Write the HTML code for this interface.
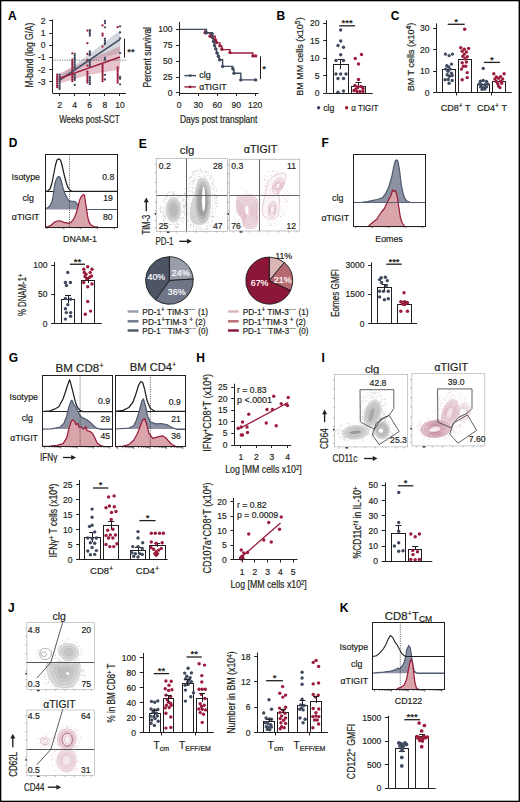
<!DOCTYPE html>
<html><head><meta charset="utf-8"><style>
html,body{margin:0;padding:0;background:#fff;}
svg{display:block;}
text{font-family:"Liberation Sans", sans-serif;}
</style></head><body>
<svg width="520" height="802" viewBox="0 0 520 802">
<rect x="0" y="0" width="520" height="802" fill="#fff"/>
<text x="8.00" y="20.02" font-size="12" text-anchor="start" fill="#000" font-weight="bold" >A</text>
<path d="M59.5,75.8 L90,53.6 L120.1,30.2 L120.1,52.7 L90,62.2 L59.5,81.9 Z" fill="#cfd3da" stroke="none" stroke-width="1" fill-opacity="0.9"/>
<path d="M59.5,73.3 L90,59.6 L120.1,46.2 L120.1,69.6 L90,74.8 L59.5,83.6 Z" fill="#c46f86" stroke="none" stroke-width="1" fill-opacity="0.42"/>
<line x1="52.50" y1="60.20" x2="127.00" y2="60.20" stroke="#444" stroke-width="0.7" stroke-dasharray="1.2,1.2"/>
<circle cx="57.20" cy="74.60" r="1.15" fill="#9b1c3d"/>
<circle cx="57.20" cy="76.40" r="1.15" fill="#9b1c3d"/>
<circle cx="57.20" cy="78.20" r="1.15" fill="#9b1c3d"/>
<circle cx="57.20" cy="80.00" r="1.15" fill="#9b1c3d"/>
<circle cx="57.20" cy="81.80" r="1.15" fill="#9b1c3d"/>
<circle cx="57.20" cy="83.60" r="1.15" fill="#9b1c3d"/>
<circle cx="57.20" cy="85.40" r="1.15" fill="#9b1c3d"/>
<circle cx="57.20" cy="87.20" r="1.15" fill="#9b1c3d"/>
<circle cx="59.60" cy="74.60" r="1.15" fill="#3f4a5f"/>
<circle cx="59.60" cy="76.40" r="1.15" fill="#3f4a5f"/>
<circle cx="59.60" cy="78.20" r="1.15" fill="#3f4a5f"/>
<circle cx="59.60" cy="80.00" r="1.15" fill="#3f4a5f"/>
<circle cx="59.60" cy="81.80" r="1.15" fill="#3f4a5f"/>
<circle cx="59.60" cy="83.60" r="1.15" fill="#3f4a5f"/>
<circle cx="59.60" cy="85.40" r="1.15" fill="#3f4a5f"/>
<circle cx="59.60" cy="87.20" r="1.15" fill="#3f4a5f"/>
<circle cx="59.60" cy="89.00" r="1.15" fill="#3f4a5f"/>
<circle cx="72.32" cy="53.30" r="1.15" fill="#9b1c3d"/>
<circle cx="72.32" cy="59.60" r="1.15" fill="#9b1c3d"/>
<circle cx="72.32" cy="61.40" r="1.15" fill="#9b1c3d"/>
<circle cx="72.32" cy="63.20" r="1.15" fill="#9b1c3d"/>
<circle cx="72.32" cy="65.00" r="1.15" fill="#9b1c3d"/>
<circle cx="72.32" cy="66.80" r="1.15" fill="#9b1c3d"/>
<circle cx="72.32" cy="68.60" r="1.15" fill="#9b1c3d"/>
<circle cx="72.32" cy="70.40" r="1.15" fill="#9b1c3d"/>
<circle cx="72.32" cy="72.20" r="1.15" fill="#9b1c3d"/>
<circle cx="72.32" cy="74.00" r="1.15" fill="#9b1c3d"/>
<circle cx="72.32" cy="75.80" r="1.15" fill="#9b1c3d"/>
<circle cx="72.32" cy="77.60" r="1.15" fill="#9b1c3d"/>
<circle cx="72.32" cy="79.40" r="1.15" fill="#9b1c3d"/>
<circle cx="72.32" cy="81.20" r="1.15" fill="#9b1c3d"/>
<circle cx="74.72" cy="53.80" r="1.15" fill="#3f4a5f"/>
<circle cx="74.72" cy="55.60" r="1.15" fill="#3f4a5f"/>
<circle cx="74.72" cy="57.40" r="1.15" fill="#3f4a5f"/>
<circle cx="74.72" cy="59.20" r="1.15" fill="#3f4a5f"/>
<circle cx="74.72" cy="61.00" r="1.15" fill="#3f4a5f"/>
<circle cx="74.72" cy="62.80" r="1.15" fill="#3f4a5f"/>
<circle cx="74.72" cy="64.60" r="1.15" fill="#3f4a5f"/>
<circle cx="74.72" cy="66.40" r="1.15" fill="#3f4a5f"/>
<circle cx="74.72" cy="68.20" r="1.15" fill="#3f4a5f"/>
<circle cx="74.72" cy="74.60" r="1.15" fill="#3f4a5f"/>
<circle cx="74.72" cy="76.40" r="1.15" fill="#3f4a5f"/>
<circle cx="74.72" cy="78.20" r="1.15" fill="#3f4a5f"/>
<circle cx="74.72" cy="80.00" r="1.15" fill="#3f4a5f"/>
<circle cx="74.72" cy="85.00" r="1.15" fill="#3f4a5f"/>
<circle cx="87.44" cy="30.60" r="1.15" fill="#9b1c3d"/>
<circle cx="87.44" cy="43.20" r="1.15" fill="#9b1c3d"/>
<circle cx="87.44" cy="54.00" r="1.15" fill="#9b1c3d"/>
<circle cx="87.44" cy="60.00" r="1.15" fill="#9b1c3d"/>
<circle cx="87.44" cy="65.70" r="1.15" fill="#9b1c3d"/>
<circle cx="87.44" cy="71.70" r="1.15" fill="#9b1c3d"/>
<circle cx="87.44" cy="73.50" r="1.15" fill="#9b1c3d"/>
<circle cx="87.44" cy="75.30" r="1.15" fill="#9b1c3d"/>
<circle cx="87.44" cy="77.10" r="1.15" fill="#9b1c3d"/>
<circle cx="87.44" cy="78.90" r="1.15" fill="#9b1c3d"/>
<circle cx="87.44" cy="80.70" r="1.15" fill="#9b1c3d"/>
<circle cx="87.44" cy="82.50" r="1.15" fill="#9b1c3d"/>
<circle cx="89.84" cy="30.20" r="1.15" fill="#3f4a5f"/>
<circle cx="89.84" cy="32.00" r="1.15" fill="#3f4a5f"/>
<circle cx="89.84" cy="33.80" r="1.15" fill="#3f4a5f"/>
<circle cx="89.84" cy="35.60" r="1.15" fill="#3f4a5f"/>
<circle cx="89.84" cy="51.40" r="1.15" fill="#3f4a5f"/>
<circle cx="89.84" cy="53.20" r="1.15" fill="#3f4a5f"/>
<circle cx="89.84" cy="55.00" r="1.15" fill="#3f4a5f"/>
<circle cx="89.84" cy="60.50" r="1.15" fill="#3f4a5f"/>
<circle cx="89.84" cy="62.30" r="1.15" fill="#3f4a5f"/>
<circle cx="89.84" cy="64.10" r="1.15" fill="#3f4a5f"/>
<circle cx="89.84" cy="65.90" r="1.15" fill="#3f4a5f"/>
<circle cx="89.84" cy="77.00" r="1.15" fill="#3f4a5f"/>
<circle cx="89.84" cy="78.80" r="1.15" fill="#3f4a5f"/>
<circle cx="89.84" cy="80.60" r="1.15" fill="#3f4a5f"/>
<circle cx="89.84" cy="82.40" r="1.15" fill="#3f4a5f"/>
<circle cx="89.84" cy="84.20" r="1.15" fill="#3f4a5f"/>
<circle cx="102.56" cy="25.40" r="1.15" fill="#9b1c3d"/>
<circle cx="102.56" cy="33.70" r="1.15" fill="#9b1c3d"/>
<circle cx="102.56" cy="35.50" r="1.15" fill="#9b1c3d"/>
<circle cx="102.56" cy="46.60" r="1.15" fill="#9b1c3d"/>
<circle cx="102.56" cy="65.20" r="1.15" fill="#9b1c3d"/>
<circle cx="102.56" cy="67.20" r="1.15" fill="#9b1c3d"/>
<circle cx="102.56" cy="69.20" r="1.15" fill="#9b1c3d"/>
<circle cx="102.56" cy="71.20" r="1.15" fill="#9b1c3d"/>
<circle cx="102.56" cy="73.20" r="1.15" fill="#9b1c3d"/>
<circle cx="102.56" cy="75.20" r="1.15" fill="#9b1c3d"/>
<circle cx="102.56" cy="77.20" r="1.15" fill="#9b1c3d"/>
<circle cx="102.56" cy="79.20" r="1.15" fill="#9b1c3d"/>
<circle cx="102.56" cy="81.20" r="1.15" fill="#9b1c3d"/>
<circle cx="104.96" cy="20.90" r="1.15" fill="#3f4a5f"/>
<circle cx="104.96" cy="23.20" r="1.15" fill="#3f4a5f"/>
<circle cx="104.96" cy="27.30" r="1.15" fill="#3f4a5f"/>
<circle cx="104.96" cy="38.80" r="1.15" fill="#3f4a5f"/>
<circle cx="104.96" cy="40.60" r="1.15" fill="#3f4a5f"/>
<circle cx="104.96" cy="42.40" r="1.15" fill="#3f4a5f"/>
<circle cx="104.96" cy="44.20" r="1.15" fill="#3f4a5f"/>
<circle cx="104.96" cy="57.90" r="1.15" fill="#3f4a5f"/>
<circle cx="104.96" cy="59.70" r="1.15" fill="#3f4a5f"/>
<circle cx="104.96" cy="74.80" r="1.15" fill="#3f4a5f"/>
<circle cx="104.96" cy="79.50" r="1.15" fill="#3f4a5f"/>
<circle cx="117.68" cy="27.20" r="1.15" fill="#9b1c3d"/>
<circle cx="117.68" cy="67.40" r="1.15" fill="#9b1c3d"/>
<circle cx="117.68" cy="69.30" r="1.15" fill="#9b1c3d"/>
<circle cx="117.68" cy="71.20" r="1.15" fill="#9b1c3d"/>
<circle cx="117.68" cy="73.10" r="1.15" fill="#9b1c3d"/>
<circle cx="117.68" cy="75.00" r="1.15" fill="#9b1c3d"/>
<circle cx="117.68" cy="76.90" r="1.15" fill="#9b1c3d"/>
<circle cx="117.68" cy="78.80" r="1.15" fill="#9b1c3d"/>
<circle cx="117.68" cy="80.70" r="1.15" fill="#9b1c3d"/>
<circle cx="117.68" cy="82.60" r="1.15" fill="#9b1c3d"/>
<circle cx="120.08" cy="26.30" r="1.15" fill="#3f4a5f"/>
<circle cx="120.08" cy="32.40" r="1.15" fill="#3f4a5f"/>
<circle cx="120.08" cy="38.40" r="1.15" fill="#3f4a5f"/>
<circle cx="120.08" cy="53.10" r="1.15" fill="#3f4a5f"/>
<circle cx="120.08" cy="77.00" r="1.15" fill="#3f4a5f"/>
<circle cx="120.08" cy="78.80" r="1.15" fill="#3f4a5f"/>
<circle cx="120.08" cy="84.30" r="1.15" fill="#3f4a5f"/>
<line x1="59.50" y1="80.20" x2="120.10" y2="39.30" stroke="#3f4a5f" stroke-width="1.5" />
<line x1="59.50" y1="78.40" x2="120.10" y2="57.00" stroke="#9b1c3d" stroke-width="1.5" />
<line x1="52.50" y1="19.50" x2="52.50" y2="93.00" stroke="#231f20" stroke-width="1" />
<line x1="49.20" y1="20.50" x2="52.50" y2="20.50" stroke="#231f20" stroke-width="1" />
<text x="45.60" y="23.89" font-size="9.7" text-anchor="end" fill="#231f20" stroke="#231f20" stroke-width="0.2" textLength="4.75" lengthAdjust="spacingAndGlyphs" >2</text>
<line x1="49.20" y1="33.50" x2="52.50" y2="33.50" stroke="#231f20" stroke-width="1" />
<text x="45.60" y="36.09" font-size="9.7" text-anchor="end" fill="#231f20" stroke="#231f20" stroke-width="0.2" textLength="4.75" lengthAdjust="spacingAndGlyphs" >1</text>
<line x1="49.20" y1="45.50" x2="52.50" y2="45.50" stroke="#231f20" stroke-width="1" />
<text x="45.60" y="48.29" font-size="9.7" text-anchor="end" fill="#231f20" stroke="#231f20" stroke-width="0.2" textLength="4.75" lengthAdjust="spacingAndGlyphs" >0</text>
<line x1="49.20" y1="57.50" x2="52.50" y2="57.50" stroke="#231f20" stroke-width="1" />
<text x="45.60" y="60.49" font-size="9.7" text-anchor="end" fill="#231f20" stroke="#231f20" stroke-width="0.2" textLength="7.59" lengthAdjust="spacingAndGlyphs" >-1</text>
<line x1="49.20" y1="69.50" x2="52.50" y2="69.50" stroke="#231f20" stroke-width="1" />
<text x="45.60" y="72.69" font-size="9.7" text-anchor="end" fill="#231f20" stroke="#231f20" stroke-width="0.2" textLength="7.59" lengthAdjust="spacingAndGlyphs" >-2</text>
<line x1="49.20" y1="81.50" x2="52.50" y2="81.50" stroke="#231f20" stroke-width="1" />
<text x="45.60" y="84.89" font-size="9.7" text-anchor="end" fill="#231f20" stroke="#231f20" stroke-width="0.2" textLength="7.59" lengthAdjust="spacingAndGlyphs" >-3</text>
<line x1="52.50" y1="93.50" x2="126.00" y2="93.50" stroke="#231f20" stroke-width="1" />
<line x1="59.50" y1="93.00" x2="59.50" y2="96.00" stroke="#231f20" stroke-width="1" />
<text x="59.50" y="108.29" font-size="9.7" text-anchor="middle" fill="#231f20" stroke="#231f20" stroke-width="0.2" textLength="4.75" lengthAdjust="spacingAndGlyphs" >2</text>
<line x1="74.50" y1="93.00" x2="74.50" y2="96.00" stroke="#231f20" stroke-width="1" />
<text x="74.62" y="108.29" font-size="9.7" text-anchor="middle" fill="#231f20" stroke="#231f20" stroke-width="0.2" textLength="4.75" lengthAdjust="spacingAndGlyphs" >4</text>
<line x1="89.50" y1="93.00" x2="89.50" y2="96.00" stroke="#231f20" stroke-width="1" />
<text x="89.74" y="108.29" font-size="9.7" text-anchor="middle" fill="#231f20" stroke="#231f20" stroke-width="0.2" textLength="4.75" lengthAdjust="spacingAndGlyphs" >6</text>
<line x1="104.50" y1="93.00" x2="104.50" y2="96.00" stroke="#231f20" stroke-width="1" />
<text x="104.86" y="108.29" font-size="9.7" text-anchor="middle" fill="#231f20" stroke="#231f20" stroke-width="0.2" textLength="4.75" lengthAdjust="spacingAndGlyphs" >8</text>
<line x1="119.50" y1="93.00" x2="119.50" y2="96.00" stroke="#231f20" stroke-width="1" />
<text x="119.98" y="108.29" font-size="9.7" text-anchor="middle" fill="#231f20" stroke="#231f20" stroke-width="0.2" textLength="9.49" lengthAdjust="spacingAndGlyphs" >10</text>
<text x="89.40" y="122.60" font-size="10" text-anchor="middle" fill="#231f20" stroke="#231f20" stroke-width="0.2" textLength="60.4" lengthAdjust="spacingAndGlyphs" >Weeks post-SCT</text>
<text transform="translate(29.80,55.10) rotate(-90)" x="0" y="3.60" font-size="10" text-anchor="middle" fill="#231f20" stroke="#231f20" stroke-width="0.2" textLength="64.8" lengthAdjust="spacingAndGlyphs" >M-band (log G/A)</text>
<line x1="124.50" y1="38.50" x2="124.50" y2="57.70" stroke="#231f20" stroke-width="1" />
<text x="130.90" y="54.72" font-size="9.5" text-anchor="middle" fill="#231f20" font-weight="bold" >**</text>
<path d="M205.1,29.4 L205.1,32.8 L210.1,32.8 L210.1,36.2 L215.2,36.2 L215.2,40.2 L216.5,40.2 L216.5,42.9 L219.9,42.9 L219.9,46.2 L221.9,46.2 L221.9,49.6 L230.0,49.6 L230.0,53.0 L252.9,53.0 L252.9,56.3 L255.6,56.3" fill="none" stroke="#9b1c3d" stroke-width="1.4" />
<path d="M179.4,29.4 L206.4,29.4 L206.4,32.8 L212.2,32.8 L212.2,37.5 L213.2,37.5 L213.2,41.5 L214.1,41.5 L214.1,45.6 L215.2,45.6 L215.2,48.9 L216.5,48.9 L216.5,53.0 L217.9,53.0 L217.9,56.3 L219.2,56.3 L219.2,59.7 L222.6,59.7 L222.6,66.4 L232.7,66.4 L232.7,69.8 L234.0,69.8 L234.0,73.2 L240.8,73.2 L240.8,79.9 L255.6,79.9" fill="none" stroke="#3f4a5f" stroke-width="1.4" />
<circle cx="205.10" cy="32.80" r="1.7" fill="#9b1c3d"/>
<circle cx="210.10" cy="36.20" r="1.7" fill="#9b1c3d"/>
<circle cx="215.20" cy="39.60" r="1.7" fill="#9b1c3d"/>
<circle cx="216.50" cy="42.50" r="1.7" fill="#9b1c3d"/>
<circle cx="219.90" cy="45.80" r="1.7" fill="#9b1c3d"/>
<circle cx="221.90" cy="49.20" r="1.7" fill="#9b1c3d"/>
<circle cx="230.00" cy="52.60" r="1.7" fill="#9b1c3d"/>
<circle cx="252.90" cy="55.90" r="1.7" fill="#9b1c3d"/>
<circle cx="255.60" cy="55.90" r="1.7" fill="#9b1c3d"/>
<circle cx="206.40" cy="32.80" r="1.7" fill="#3f4a5f"/>
<circle cx="212.20" cy="34.00" r="1.7" fill="#3f4a5f"/>
<circle cx="212.60" cy="37.50" r="1.7" fill="#3f4a5f"/>
<circle cx="213.60" cy="41.50" r="1.7" fill="#3f4a5f"/>
<circle cx="214.60" cy="45.60" r="1.7" fill="#3f4a5f"/>
<circle cx="215.80" cy="48.90" r="1.7" fill="#3f4a5f"/>
<circle cx="217.00" cy="53.00" r="1.7" fill="#3f4a5f"/>
<circle cx="218.40" cy="56.30" r="1.7" fill="#3f4a5f"/>
<circle cx="219.60" cy="59.70" r="1.7" fill="#3f4a5f"/>
<circle cx="222.60" cy="66.40" r="1.7" fill="#3f4a5f"/>
<circle cx="232.70" cy="68.50" r="1.7" fill="#3f4a5f"/>
<circle cx="234.00" cy="73.20" r="1.7" fill="#3f4a5f"/>
<circle cx="240.80" cy="79.90" r="1.7" fill="#3f4a5f"/>
<circle cx="255.60" cy="79.90" r="1.7" fill="#3f4a5f"/>
<line x1="179.50" y1="22.00" x2="179.50" y2="93.00" stroke="#231f20" stroke-width="1" />
<line x1="176.10" y1="29.50" x2="179.40" y2="29.50" stroke="#231f20" stroke-width="1" />
<text x="172.50" y="32.49" font-size="9.7" text-anchor="end" fill="#231f20" stroke="#231f20" stroke-width="0.2" textLength="14.24" lengthAdjust="spacingAndGlyphs" >100</text>
<line x1="176.10" y1="45.50" x2="179.40" y2="45.50" stroke="#231f20" stroke-width="1" />
<text x="172.50" y="48.37" font-size="9.7" text-anchor="end" fill="#231f20" stroke="#231f20" stroke-width="0.2" textLength="9.49" lengthAdjust="spacingAndGlyphs" >75</text>
<line x1="176.10" y1="61.50" x2="179.40" y2="61.50" stroke="#231f20" stroke-width="1" />
<text x="172.50" y="64.24" font-size="9.7" text-anchor="end" fill="#231f20" stroke="#231f20" stroke-width="0.2" textLength="9.49" lengthAdjust="spacingAndGlyphs" >50</text>
<line x1="176.10" y1="77.50" x2="179.40" y2="77.50" stroke="#231f20" stroke-width="1" />
<text x="172.50" y="80.12" font-size="9.7" text-anchor="end" fill="#231f20" stroke="#231f20" stroke-width="0.2" textLength="9.49" lengthAdjust="spacingAndGlyphs" >25</text>
<line x1="176.10" y1="92.50" x2="179.40" y2="92.50" stroke="#231f20" stroke-width="1" />
<text x="172.50" y="95.99" font-size="9.7" text-anchor="end" fill="#231f20" stroke="#231f20" stroke-width="0.2" textLength="4.75" lengthAdjust="spacingAndGlyphs" >0</text>
<line x1="179.40" y1="93.50" x2="258.50" y2="93.50" stroke="#231f20" stroke-width="1" />
<line x1="179.50" y1="93.00" x2="179.50" y2="96.00" stroke="#231f20" stroke-width="1" />
<text x="179.20" y="108.29" font-size="9.7" text-anchor="middle" fill="#231f20" stroke="#231f20" stroke-width="0.2" textLength="4.75" lengthAdjust="spacingAndGlyphs" >0</text>
<line x1="198.50" y1="93.00" x2="198.50" y2="96.00" stroke="#231f20" stroke-width="1" />
<text x="198.19" y="108.29" font-size="9.7" text-anchor="middle" fill="#231f20" stroke="#231f20" stroke-width="0.2" textLength="9.49" lengthAdjust="spacingAndGlyphs" >30</text>
<line x1="217.50" y1="93.00" x2="217.50" y2="96.00" stroke="#231f20" stroke-width="1" />
<text x="217.18" y="108.29" font-size="9.7" text-anchor="middle" fill="#231f20" stroke="#231f20" stroke-width="0.2" textLength="9.49" lengthAdjust="spacingAndGlyphs" >60</text>
<line x1="236.50" y1="93.00" x2="236.50" y2="96.00" stroke="#231f20" stroke-width="1" />
<text x="236.17" y="108.29" font-size="9.7" text-anchor="middle" fill="#231f20" stroke="#231f20" stroke-width="0.2" textLength="9.49" lengthAdjust="spacingAndGlyphs" >90</text>
<line x1="255.50" y1="93.00" x2="255.50" y2="96.00" stroke="#231f20" stroke-width="1" />
<text x="255.16" y="108.29" font-size="9.7" text-anchor="middle" fill="#231f20" stroke="#231f20" stroke-width="0.2" textLength="14.24" lengthAdjust="spacingAndGlyphs" >120</text>
<text x="218.70" y="122.80" font-size="10" text-anchor="middle" fill="#231f20" stroke="#231f20" stroke-width="0.2" textLength="77.5" lengthAdjust="spacingAndGlyphs" >Days post transplant</text>
<text transform="translate(147.30,57.25) rotate(-90)" x="0" y="3.60" font-size="10" text-anchor="middle" fill="#231f20" stroke="#231f20" stroke-width="0.2" textLength="60.5" lengthAdjust="spacingAndGlyphs" >Percent survival</text>
<line x1="260.50" y1="56.30" x2="260.50" y2="79.20" stroke="#231f20" stroke-width="1" />
<text x="264.00" y="72.22" font-size="9.5" text-anchor="middle" fill="#231f20" font-weight="bold" >*</text>
<line x1="184.40" y1="75.60" x2="196.00" y2="75.60" stroke="#3f4a5f" stroke-width="1.4" />
<circle cx="190.20" cy="75.60" r="1.4" fill="#3f4a5f"/>
<text x="199.20" y="78.44" font-size="9" text-anchor="start" fill="#231f20" stroke="#231f20" stroke-width="0.2" >clg</text>
<line x1="184.40" y1="86.90" x2="196.00" y2="86.90" stroke="#9b1c3d" stroke-width="1.4" />
<circle cx="190.20" cy="86.90" r="1.4" fill="#9b1c3d"/>
<text x="199.20" y="90.14" font-size="9" text-anchor="start" fill="#231f20" stroke="#231f20" stroke-width="0.2" textLength="27.5" lengthAdjust="spacingAndGlyphs" >αTIGIT</text>
<text x="276.50" y="20.02" font-size="12" text-anchor="start" fill="#000" font-weight="bold" >B</text>
<rect x="333.50" y="64.50" width="15.00" height="29.00" fill="#fff" stroke="#231f20" stroke-width="1" />
<rect x="351.50" y="86.50" width="14.00" height="7.00" fill="#fff" stroke="#231f20" stroke-width="1" />
<line x1="340.50" y1="59.50" x2="340.50" y2="69.20" stroke="#231f20" stroke-width="1" />
<line x1="337.70" y1="59.50" x2="343.70" y2="59.50" stroke="#231f20" stroke-width="1" />
<line x1="358.50" y1="82.60" x2="358.50" y2="89.00" stroke="#231f20" stroke-width="1" />
<line x1="355.50" y1="82.50" x2="361.50" y2="82.50" stroke="#231f20" stroke-width="1" />
<circle cx="340.70" cy="30.00" r="1.7" fill="#3f4a5f"/>
<circle cx="340.70" cy="41.00" r="1.7" fill="#3f4a5f"/>
<circle cx="338.00" cy="45.50" r="1.7" fill="#3f4a5f"/>
<circle cx="343.50" cy="47.30" r="1.7" fill="#3f4a5f"/>
<circle cx="340.70" cy="54.70" r="1.7" fill="#3f4a5f"/>
<circle cx="336.00" cy="60.50" r="1.7" fill="#3f4a5f"/>
<circle cx="343.50" cy="60.50" r="1.7" fill="#3f4a5f"/>
<circle cx="336.00" cy="74.00" r="1.7" fill="#3f4a5f"/>
<circle cx="340.70" cy="74.00" r="1.7" fill="#3f4a5f"/>
<circle cx="338.00" cy="78.50" r="1.7" fill="#3f4a5f"/>
<circle cx="343.50" cy="78.50" r="1.7" fill="#3f4a5f"/>
<circle cx="346.00" cy="74.00" r="1.7" fill="#3f4a5f"/>
<circle cx="338.00" cy="92.30" r="1.7" fill="#3f4a5f"/>
<circle cx="343.50" cy="91.00" r="1.7" fill="#3f4a5f"/>
<circle cx="355.30" cy="58.50" r="1.7" fill="#9b1c3d"/>
<circle cx="361.50" cy="54.50" r="1.7" fill="#9b1c3d"/>
<circle cx="358.50" cy="64.00" r="1.7" fill="#9b1c3d"/>
<circle cx="358.50" cy="79.50" r="1.7" fill="#9b1c3d"/>
<circle cx="355.00" cy="85.50" r="1.7" fill="#9b1c3d"/>
<circle cx="358.00" cy="87.00" r="1.7" fill="#9b1c3d"/>
<circle cx="361.00" cy="86.50" r="1.7" fill="#9b1c3d"/>
<circle cx="363.00" cy="88.50" r="1.7" fill="#9b1c3d"/>
<circle cx="354.00" cy="90.50" r="1.7" fill="#9b1c3d"/>
<circle cx="357.00" cy="91.50" r="1.7" fill="#9b1c3d"/>
<circle cx="360.00" cy="91.50" r="1.7" fill="#9b1c3d"/>
<circle cx="363.00" cy="91.50" r="1.7" fill="#9b1c3d"/>
<circle cx="356.00" cy="89.00" r="1.7" fill="#9b1c3d"/>
<line x1="326.50" y1="20.30" x2="326.50" y2="93.00" stroke="#231f20" stroke-width="1" />
<line x1="323.20" y1="23.50" x2="326.50" y2="23.50" stroke="#231f20" stroke-width="1" />
<text x="319.60" y="26.49" font-size="9.7" text-anchor="end" fill="#231f20" stroke="#231f20" stroke-width="0.2" textLength="9.49" lengthAdjust="spacingAndGlyphs" >20</text>
<line x1="323.20" y1="40.50" x2="326.50" y2="40.50" stroke="#231f20" stroke-width="1" />
<text x="319.60" y="43.89" font-size="9.7" text-anchor="end" fill="#231f20" stroke="#231f20" stroke-width="0.2" textLength="9.49" lengthAdjust="spacingAndGlyphs" >15</text>
<line x1="323.20" y1="58.50" x2="326.50" y2="58.50" stroke="#231f20" stroke-width="1" />
<text x="319.60" y="61.29" font-size="9.7" text-anchor="end" fill="#231f20" stroke="#231f20" stroke-width="0.2" textLength="9.49" lengthAdjust="spacingAndGlyphs" >10</text>
<line x1="323.20" y1="75.50" x2="326.50" y2="75.50" stroke="#231f20" stroke-width="1" />
<text x="319.60" y="78.69" font-size="9.7" text-anchor="end" fill="#231f20" stroke="#231f20" stroke-width="0.2" textLength="4.75" lengthAdjust="spacingAndGlyphs" >5</text>
<line x1="323.20" y1="93.50" x2="326.50" y2="93.50" stroke="#231f20" stroke-width="1" />
<text x="319.60" y="96.09" font-size="9.7" text-anchor="end" fill="#231f20" stroke="#231f20" stroke-width="0.2" textLength="4.75" lengthAdjust="spacingAndGlyphs" >0</text>
<line x1="326.50" y1="93.50" x2="372.70" y2="93.50" stroke="#231f20" stroke-width="1" />
<line x1="339.20" y1="25.80" x2="355.00" y2="25.80" stroke="#231f20" stroke-width="1.3" />
<text x="347.10" y="26.22" font-size="9.5" text-anchor="middle" fill="#231f20" font-weight="bold" >***</text>
<text transform="translate(300.00,56.50) rotate(-90)" x="0" y="3.24" font-size="9" text-anchor="middle" fill="#231f20" stroke="#231f20" stroke-width="0.2" >BM MM cells (x10<tspan dy="-3" font-size="6.8">5</tspan><tspan dy="3">)</tspan></text>
<circle cx="318.60" cy="107.80" r="1.7" fill="#3f4a5f"/>
<text x="323.30" y="111.25" font-size="9.3" text-anchor="start" fill="#231f20" stroke="#231f20" stroke-width="0.2" textLength="11" lengthAdjust="spacingAndGlyphs" >clg</text>
<circle cx="346.60" cy="107.80" r="1.7" fill="#9b1c3d"/>
<text x="351.30" y="111.25" font-size="9.3" text-anchor="start" fill="#231f20" stroke="#231f20" stroke-width="0.2" textLength="27" lengthAdjust="spacingAndGlyphs" >α TIGIT</text>
<text x="390.70" y="20.22" font-size="12" text-anchor="start" fill="#000" font-weight="bold" >C</text>
<rect x="442.50" y="69.50" width="13.00" height="23.00" fill="#fff" stroke="#231f20" stroke-width="1" />
<rect x="458.50" y="59.50" width="13.00" height="33.00" fill="#fff" stroke="#231f20" stroke-width="1" />
<rect x="477.50" y="84.50" width="12.00" height="8.00" fill="#fff" stroke="#231f20" stroke-width="1" />
<rect x="492.50" y="81.50" width="13.00" height="11.00" fill="#fff" stroke="#231f20" stroke-width="1" />
<circle cx="445.40" cy="54.10" r="1.7" fill="#3f4a5f"/>
<circle cx="449.10" cy="55.60" r="1.7" fill="#3f4a5f"/>
<circle cx="452.50" cy="54.10" r="1.7" fill="#3f4a5f"/>
<circle cx="446.80" cy="65.80" r="1.7" fill="#3f4a5f"/>
<circle cx="451.50" cy="64.10" r="1.7" fill="#3f4a5f"/>
<circle cx="448.70" cy="66.90" r="1.7" fill="#3f4a5f"/>
<circle cx="445.80" cy="69.10" r="1.7" fill="#3f4a5f"/>
<circle cx="450.10" cy="69.10" r="1.7" fill="#3f4a5f"/>
<circle cx="448.00" cy="71.20" r="1.7" fill="#3f4a5f"/>
<circle cx="451.50" cy="73.30" r="1.7" fill="#3f4a5f"/>
<circle cx="447.20" cy="74.80" r="1.7" fill="#3f4a5f"/>
<circle cx="449.40" cy="76.20" r="1.7" fill="#3f4a5f"/>
<circle cx="452.20" cy="75.50" r="1.7" fill="#3f4a5f"/>
<circle cx="445.10" cy="79.70" r="1.7" fill="#3f4a5f"/>
<circle cx="449.10" cy="83.30" r="1.7" fill="#3f4a5f"/>
<circle cx="452.20" cy="80.50" r="1.7" fill="#3f4a5f"/>
<circle cx="448.20" cy="79.50" r="1.7" fill="#3f4a5f"/>
<circle cx="464.70" cy="29.20" r="1.7" fill="#9b1c3d"/>
<circle cx="460.80" cy="47.70" r="1.7" fill="#9b1c3d"/>
<circle cx="464.30" cy="49.20" r="1.7" fill="#9b1c3d"/>
<circle cx="468.60" cy="48.40" r="1.7" fill="#9b1c3d"/>
<circle cx="462.20" cy="51.30" r="1.7" fill="#9b1c3d"/>
<circle cx="466.40" cy="52.00" r="1.7" fill="#9b1c3d"/>
<circle cx="464.30" cy="54.10" r="1.7" fill="#9b1c3d"/>
<circle cx="462.90" cy="56.30" r="1.7" fill="#9b1c3d"/>
<circle cx="467.20" cy="56.70" r="1.7" fill="#9b1c3d"/>
<circle cx="465.00" cy="58.70" r="1.7" fill="#9b1c3d"/>
<circle cx="462.20" cy="62.70" r="1.7" fill="#9b1c3d"/>
<circle cx="466.40" cy="62.00" r="1.7" fill="#9b1c3d"/>
<circle cx="463.30" cy="66.20" r="1.7" fill="#9b1c3d"/>
<circle cx="465.70" cy="66.20" r="1.7" fill="#9b1c3d"/>
<circle cx="461.50" cy="69.10" r="1.7" fill="#9b1c3d"/>
<circle cx="467.20" cy="72.60" r="1.7" fill="#9b1c3d"/>
<circle cx="462.20" cy="79.70" r="1.7" fill="#9b1c3d"/>
<circle cx="467.20" cy="77.60" r="1.7" fill="#9b1c3d"/>
<circle cx="483.20" cy="68.40" r="1.7" fill="#3f4a5f"/>
<circle cx="480.40" cy="81.20" r="1.7" fill="#3f4a5f"/>
<circle cx="483.20" cy="80.50" r="1.7" fill="#3f4a5f"/>
<circle cx="486.40" cy="81.50" r="1.7" fill="#3f4a5f"/>
<circle cx="479.30" cy="84.00" r="1.7" fill="#3f4a5f"/>
<circle cx="481.40" cy="84.70" r="1.7" fill="#3f4a5f"/>
<circle cx="484.90" cy="84.70" r="1.7" fill="#3f4a5f"/>
<circle cx="487.80" cy="84.00" r="1.7" fill="#3f4a5f"/>
<circle cx="480.70" cy="86.90" r="1.7" fill="#3f4a5f"/>
<circle cx="483.50" cy="87.60" r="1.7" fill="#3f4a5f"/>
<circle cx="486.40" cy="86.90" r="1.7" fill="#3f4a5f"/>
<circle cx="482.10" cy="89.40" r="1.7" fill="#3f4a5f"/>
<circle cx="484.90" cy="89.00" r="1.7" fill="#3f4a5f"/>
<circle cx="493.80" cy="73.80" r="1.7" fill="#9b1c3d"/>
<circle cx="504.10" cy="73.80" r="1.7" fill="#9b1c3d"/>
<circle cx="496.30" cy="76.90" r="1.7" fill="#9b1c3d"/>
<circle cx="500.60" cy="76.60" r="1.7" fill="#9b1c3d"/>
<circle cx="494.90" cy="79.00" r="1.7" fill="#9b1c3d"/>
<circle cx="498.50" cy="78.30" r="1.7" fill="#9b1c3d"/>
<circle cx="502.70" cy="79.00" r="1.7" fill="#9b1c3d"/>
<circle cx="496.30" cy="81.50" r="1.7" fill="#9b1c3d"/>
<circle cx="500.60" cy="81.20" r="1.7" fill="#9b1c3d"/>
<circle cx="497.70" cy="83.70" r="1.7" fill="#9b1c3d"/>
<circle cx="501.70" cy="83.30" r="1.7" fill="#9b1c3d"/>
<circle cx="498.50" cy="86.10" r="1.7" fill="#9b1c3d"/>
<circle cx="499.90" cy="87.60" r="1.7" fill="#9b1c3d"/>
<line x1="456.50" y1="92.70" x2="456.50" y2="95.50" stroke="#231f20" stroke-width="1" />
<line x1="491.50" y1="92.70" x2="491.50" y2="95.50" stroke="#231f20" stroke-width="1" />
<line x1="436.50" y1="23.40" x2="436.50" y2="92.70" stroke="#231f20" stroke-width="1" />
<line x1="433.10" y1="28.50" x2="436.40" y2="28.50" stroke="#231f20" stroke-width="1" />
<text x="429.50" y="31.29" font-size="9.7" text-anchor="end" fill="#231f20" stroke="#231f20" stroke-width="0.2" textLength="9.49" lengthAdjust="spacingAndGlyphs" >30</text>
<line x1="433.10" y1="49.50" x2="436.40" y2="49.50" stroke="#231f20" stroke-width="1" />
<text x="429.50" y="52.79" font-size="9.7" text-anchor="end" fill="#231f20" stroke="#231f20" stroke-width="0.2" textLength="9.49" lengthAdjust="spacingAndGlyphs" >20</text>
<line x1="433.10" y1="71.50" x2="436.40" y2="71.50" stroke="#231f20" stroke-width="1" />
<text x="429.50" y="74.29" font-size="9.7" text-anchor="end" fill="#231f20" stroke="#231f20" stroke-width="0.2" textLength="9.49" lengthAdjust="spacingAndGlyphs" >10</text>
<line x1="433.10" y1="92.50" x2="436.40" y2="92.50" stroke="#231f20" stroke-width="1" />
<text x="429.50" y="95.79" font-size="9.7" text-anchor="end" fill="#231f20" stroke="#231f20" stroke-width="0.2" textLength="4.75" lengthAdjust="spacingAndGlyphs" >0</text>
<line x1="436.40" y1="92.50" x2="511.70" y2="92.50" stroke="#231f20" stroke-width="1" />
<line x1="447.70" y1="24.30" x2="464.70" y2="24.30" stroke="#231f20" stroke-width="1.3" />
<text x="456.20" y="24.72" font-size="9.5" text-anchor="middle" fill="#231f20" font-weight="bold" >*</text>
<line x1="483.80" y1="62.40" x2="499.90" y2="62.40" stroke="#231f20" stroke-width="1.3" />
<text x="491.85" y="62.82" font-size="9.5" text-anchor="middle" fill="#231f20" font-weight="bold" >*</text>
<text x="455.60" y="110.94" font-size="9" text-anchor="middle" fill="#231f20" stroke="#231f20" stroke-width="0.2" >CD8<tspan dy="-3" font-size="6.8">+</tspan><tspan dy="3"> T</tspan></text>
<text x="492.00" y="110.94" font-size="9" text-anchor="middle" fill="#231f20" stroke="#231f20" stroke-width="0.2" >CD4<tspan dy="-3" font-size="6.8">+</tspan><tspan dy="3"> T</tspan></text>
<text transform="translate(410.40,57.00) rotate(-90)" x="0" y="3.24" font-size="9" text-anchor="middle" fill="#231f20" stroke="#231f20" stroke-width="0.2" >BM T cells (x10<tspan dy="-3" font-size="6.8">4</tspan><tspan dy="3">)</tspan></text>
<text x="8.75" y="147.27" font-size="12" text-anchor="start" fill="#000" font-weight="bold" >D</text>
<path d="M45.00,191.25 L48.00,190.80 L50.00,189.00 L52.00,183.00 L53.75,174.00 L55.50,165.00 L57.00,160.00 L58.75,158.75 L60.50,160.00 L62.00,165.00 L63.50,172.00 L65.00,178.00 L66.25,182.50 L68.00,187.50 L70.00,190.30 L72.00,191.25 L117.50,191.25 L117.50,191.25 L45.00,191.25 Z" fill="#fff" stroke="none" stroke-width="1" />
<path d="M45.00,191.25 L48.00,190.80 L50.00,189.00 L52.00,183.00 L53.75,174.00 L55.50,165.00 L57.00,160.00 L58.75,158.75 L60.50,160.00 L62.00,165.00 L63.50,172.00 L65.00,178.00 L66.25,182.50 L68.00,187.50 L70.00,190.30 L72.00,191.25 L117.50,191.25" fill="none" stroke="#231f20" stroke-width="1.25" stroke-linejoin="round"/>
<line x1="45.00" y1="191.50" x2="117.50" y2="191.50" stroke="#231f20" stroke-width="1" />
<path d="M45.00,208.80 L48.00,207.50 L50.00,205.80 L51.80,202.00 L53.00,196.90 L54.00,190.00 L55.00,182.90 L56.50,178.90 L58.00,176.80 L59.00,176.40 L60.00,177.50 L61.00,180.00 L62.00,184.00 L63.00,187.90 L64.50,192.50 L66.00,195.90 L67.50,198.80 L69.00,200.80 L71.50,201.20 L74.00,201.30 L75.50,202.00 L77.00,203.80 L78.30,206.00 L79.50,208.20 L81.00,209.30 L117.50,209.50 L117.50,209.5 L45.00,209.5 Z" fill="#8c92a2" stroke="none" stroke-width="1" />
<path d="M45.00,208.80 L48.00,207.50 L50.00,205.80 L51.80,202.00 L53.00,196.90 L54.00,190.00 L55.00,182.90 L56.50,178.90 L58.00,176.80 L59.00,176.40 L60.00,177.50 L61.00,180.00 L62.00,184.00 L63.00,187.90 L64.50,192.50 L66.00,195.90 L67.50,198.80 L69.00,200.80 L71.50,201.20 L74.00,201.30 L75.50,202.00 L77.00,203.80 L78.30,206.00 L79.50,208.20 L81.00,209.30 L117.50,209.50" fill="none" stroke="#4f5a6f" stroke-width="1.25" stroke-linejoin="round"/>
<line x1="80.00" y1="209.50" x2="117.50" y2="209.50" stroke="#4f5a6f" stroke-width="1.0" />
<path d="M45.00,226.80 L48.00,226.50 L51.00,225.30 L53.00,223.50 L55.00,221.80 L57.50,221.00 L60.00,220.80 L62.00,221.50 L64.00,222.30 L66.50,222.80 L69.00,223.30 L71.00,222.30 L73.00,219.80 L74.50,217.50 L76.00,213.80 L77.80,207.50 L79.40,200.80 L81.00,197.00 L82.50,195.00 L83.50,194.50 L84.60,195.50 L85.50,202.50 L87.00,212.00 L88.00,218.50 L89.50,223.00 L91.25,225.20 L94.00,226.50 L98.00,227.00 L98.00,227 L45.00,227 Z" fill="#d9a4aa" stroke="none" stroke-width="1" />
<path d="M45.00,226.80 L48.00,226.50 L51.00,225.30 L53.00,223.50 L55.00,221.80 L57.50,221.00 L60.00,220.80 L62.00,221.50 L64.00,222.30 L66.50,222.80 L69.00,223.30 L71.00,222.30 L73.00,219.80 L74.50,217.50 L76.00,213.80 L77.80,207.50 L79.40,200.80 L81.00,197.00 L82.50,195.00 L83.50,194.50 L84.60,195.50 L85.50,202.50 L87.00,212.00 L88.00,218.50 L89.50,223.00 L91.25,225.20 L94.00,226.50 L98.00,227.00" fill="none" stroke="#9b1c3d" stroke-width="1.25" stroke-linejoin="round"/>
<line x1="69.50" y1="154.50" x2="69.50" y2="227.00" stroke="#222" stroke-width="0.75" stroke-dasharray="1,1.3"/>
<rect x="45.50" y="154.50" width="72.00" height="73.00" fill="none" stroke="#231f20" stroke-width="1" />
<line x1="47.00" y1="227.00" x2="47.00" y2="229.20" stroke="#231f20" stroke-width="0.6" />
<line x1="52.08" y1="227.00" x2="52.08" y2="228.20" stroke="#231f20" stroke-width="0.6" />
<line x1="55.04" y1="227.00" x2="55.04" y2="228.20" stroke="#231f20" stroke-width="0.6" />
<line x1="57.15" y1="227.00" x2="57.15" y2="228.20" stroke="#231f20" stroke-width="0.6" />
<line x1="58.78" y1="227.00" x2="58.78" y2="228.20" stroke="#231f20" stroke-width="0.6" />
<line x1="60.12" y1="227.00" x2="60.12" y2="228.20" stroke="#231f20" stroke-width="0.6" />
<line x1="61.25" y1="227.00" x2="61.25" y2="228.20" stroke="#231f20" stroke-width="0.6" />
<line x1="62.23" y1="227.00" x2="62.23" y2="228.20" stroke="#231f20" stroke-width="0.6" />
<line x1="63.09" y1="227.00" x2="63.09" y2="228.20" stroke="#231f20" stroke-width="0.6" />
<line x1="63.86" y1="227.00" x2="63.86" y2="229.20" stroke="#231f20" stroke-width="0.6" />
<line x1="68.94" y1="227.00" x2="68.94" y2="228.20" stroke="#231f20" stroke-width="0.6" />
<line x1="71.90" y1="227.00" x2="71.90" y2="228.20" stroke="#231f20" stroke-width="0.6" />
<line x1="74.01" y1="227.00" x2="74.01" y2="228.20" stroke="#231f20" stroke-width="0.6" />
<line x1="75.65" y1="227.00" x2="75.65" y2="228.20" stroke="#231f20" stroke-width="0.6" />
<line x1="76.98" y1="227.00" x2="76.98" y2="228.20" stroke="#231f20" stroke-width="0.6" />
<line x1="78.11" y1="227.00" x2="78.11" y2="228.20" stroke="#231f20" stroke-width="0.6" />
<line x1="79.09" y1="227.00" x2="79.09" y2="228.20" stroke="#231f20" stroke-width="0.6" />
<line x1="79.95" y1="227.00" x2="79.95" y2="228.20" stroke="#231f20" stroke-width="0.6" />
<line x1="80.72" y1="227.00" x2="80.72" y2="229.20" stroke="#231f20" stroke-width="0.6" />
<line x1="85.80" y1="227.00" x2="85.80" y2="228.20" stroke="#231f20" stroke-width="0.6" />
<line x1="88.77" y1="227.00" x2="88.77" y2="228.20" stroke="#231f20" stroke-width="0.6" />
<line x1="90.87" y1="227.00" x2="90.87" y2="228.20" stroke="#231f20" stroke-width="0.6" />
<line x1="92.51" y1="227.00" x2="92.51" y2="228.20" stroke="#231f20" stroke-width="0.6" />
<line x1="93.84" y1="227.00" x2="93.84" y2="228.20" stroke="#231f20" stroke-width="0.6" />
<line x1="94.97" y1="227.00" x2="94.97" y2="228.20" stroke="#231f20" stroke-width="0.6" />
<line x1="95.95" y1="227.00" x2="95.95" y2="228.20" stroke="#231f20" stroke-width="0.6" />
<line x1="96.81" y1="227.00" x2="96.81" y2="228.20" stroke="#231f20" stroke-width="0.6" />
<line x1="97.58" y1="227.00" x2="97.58" y2="229.20" stroke="#231f20" stroke-width="0.6" />
<line x1="102.66" y1="227.00" x2="102.66" y2="228.20" stroke="#231f20" stroke-width="0.6" />
<line x1="105.63" y1="227.00" x2="105.63" y2="228.20" stroke="#231f20" stroke-width="0.6" />
<line x1="107.73" y1="227.00" x2="107.73" y2="228.20" stroke="#231f20" stroke-width="0.6" />
<line x1="109.37" y1="227.00" x2="109.37" y2="228.20" stroke="#231f20" stroke-width="0.6" />
<line x1="110.70" y1="227.00" x2="110.70" y2="228.20" stroke="#231f20" stroke-width="0.6" />
<line x1="111.83" y1="227.00" x2="111.83" y2="228.20" stroke="#231f20" stroke-width="0.6" />
<line x1="112.81" y1="227.00" x2="112.81" y2="228.20" stroke="#231f20" stroke-width="0.6" />
<line x1="113.67" y1="227.00" x2="113.67" y2="228.20" stroke="#231f20" stroke-width="0.6" />
<line x1="114.44" y1="227.00" x2="114.44" y2="229.20" stroke="#231f20" stroke-width="0.6" />
<text x="114.30" y="180.35" font-size="9.3" text-anchor="end" fill="#231f20" stroke="#231f20" stroke-width="0.2" textLength="12.02" lengthAdjust="spacingAndGlyphs" >0.8</text>
<text x="112.80" y="201.25" font-size="9.3" text-anchor="end" fill="#231f20" stroke="#231f20" stroke-width="0.2" textLength="9.62" lengthAdjust="spacingAndGlyphs" >19</text>
<text x="112.60" y="219.55" font-size="9.3" text-anchor="end" fill="#231f20" stroke="#231f20" stroke-width="0.2" textLength="9.62" lengthAdjust="spacingAndGlyphs" >80</text>
<text x="40.00" y="180.35" font-size="9.3" text-anchor="end" fill="#231f20" stroke="#231f20" stroke-width="0.2" textLength="28.48" lengthAdjust="spacingAndGlyphs" >Isotype</text>
<text x="33.80" y="201.35" font-size="9.3" text-anchor="end" fill="#231f20" stroke="#231f20" stroke-width="0.2" textLength="11.29" lengthAdjust="spacingAndGlyphs" >clg</text>
<text x="39.50" y="219.65" font-size="9.3" text-anchor="end" fill="#231f20" stroke="#231f20" stroke-width="0.2" textLength="27.68" lengthAdjust="spacingAndGlyphs" >αTIGIT</text>
<text x="80.00" y="242.15" font-size="9.3" text-anchor="middle" fill="#231f20" stroke="#231f20" stroke-width="0.2" textLength="33.87" lengthAdjust="spacingAndGlyphs" >DNAM-1</text>
<rect x="61.50" y="299.50" width="13.00" height="24.00" fill="#fff" stroke="#231f20" stroke-width="1" />
<rect x="81.50" y="280.50" width="13.00" height="43.00" fill="#fff" stroke="#231f20" stroke-width="1" />
<line x1="68.50" y1="295.30" x2="68.50" y2="303.00" stroke="#231f20" stroke-width="1" />
<line x1="65.00" y1="295.50" x2="71.00" y2="295.50" stroke="#231f20" stroke-width="1" />
<line x1="88.50" y1="277.20" x2="88.50" y2="283.00" stroke="#231f20" stroke-width="1" />
<line x1="85.00" y1="277.50" x2="91.00" y2="277.50" stroke="#231f20" stroke-width="1" />
<circle cx="67.80" cy="272.40" r="1.7" fill="#3f4a5f"/>
<circle cx="65.40" cy="282.50" r="1.7" fill="#3f4a5f"/>
<circle cx="70.40" cy="282.50" r="1.7" fill="#3f4a5f"/>
<circle cx="66.50" cy="285.40" r="1.7" fill="#3f4a5f"/>
<circle cx="65.40" cy="298.40" r="1.7" fill="#3f4a5f"/>
<circle cx="70.60" cy="299.20" r="1.7" fill="#3f4a5f"/>
<circle cx="67.80" cy="304.60" r="1.7" fill="#3f4a5f"/>
<circle cx="65.40" cy="308.80" r="1.7" fill="#3f4a5f"/>
<circle cx="66.30" cy="312.60" r="1.7" fill="#3f4a5f"/>
<circle cx="70.60" cy="312.60" r="1.7" fill="#3f4a5f"/>
<circle cx="70.60" cy="316.20" r="1.7" fill="#3f4a5f"/>
<circle cx="65.40" cy="319.10" r="1.7" fill="#3f4a5f"/>
<circle cx="87.70" cy="266.70" r="1.7" fill="#9b1c3d"/>
<circle cx="83.80" cy="269.30" r="1.7" fill="#9b1c3d"/>
<circle cx="92.00" cy="269.30" r="1.7" fill="#9b1c3d"/>
<circle cx="84.30" cy="272.40" r="1.7" fill="#9b1c3d"/>
<circle cx="90.10" cy="272.40" r="1.7" fill="#9b1c3d"/>
<circle cx="86.00" cy="274.30" r="1.7" fill="#9b1c3d"/>
<circle cx="89.60" cy="277.20" r="1.7" fill="#9b1c3d"/>
<circle cx="86.70" cy="278.70" r="1.7" fill="#9b1c3d"/>
<circle cx="83.70" cy="282.50" r="1.7" fill="#9b1c3d"/>
<circle cx="92.00" cy="284.00" r="1.7" fill="#9b1c3d"/>
<circle cx="87.70" cy="286.80" r="1.7" fill="#9b1c3d"/>
<circle cx="87.70" cy="301.50" r="1.7" fill="#9b1c3d"/>
<circle cx="90.60" cy="311.10" r="1.7" fill="#9b1c3d"/>
<circle cx="85.30" cy="314.30" r="1.7" fill="#9b1c3d"/>
<circle cx="91.50" cy="276.00" r="1.7" fill="#9b1c3d"/>
<circle cx="85.00" cy="276.50" r="1.7" fill="#9b1c3d"/>
<circle cx="88.1" cy="270.6" r="1.3" fill="#fff"/>
<line x1="54.50" y1="262.00" x2="54.50" y2="323.75" stroke="#231f20" stroke-width="1" />
<line x1="51.20" y1="265.50" x2="54.50" y2="265.50" stroke="#231f20" stroke-width="1" />
<text x="47.60" y="268.09" font-size="9.7" text-anchor="end" fill="#231f20" stroke="#231f20" stroke-width="0.2" textLength="14.24" lengthAdjust="spacingAndGlyphs" >100</text>
<line x1="51.20" y1="294.50" x2="54.50" y2="294.50" stroke="#231f20" stroke-width="1" />
<text x="47.60" y="297.47" font-size="9.7" text-anchor="end" fill="#231f20" stroke="#231f20" stroke-width="0.2" textLength="9.49" lengthAdjust="spacingAndGlyphs" >50</text>
<line x1="51.20" y1="323.50" x2="54.50" y2="323.50" stroke="#231f20" stroke-width="1" />
<text x="47.60" y="326.84" font-size="9.7" text-anchor="end" fill="#231f20" stroke="#231f20" stroke-width="0.2" textLength="4.75" lengthAdjust="spacingAndGlyphs" >0</text>
<line x1="54.50" y1="323.50" x2="101.75" y2="323.50" stroke="#231f20" stroke-width="1" />
<line x1="69.90" y1="264.25" x2="85.00" y2="264.25" stroke="#231f20" stroke-width="1.3" />
<text x="77.45" y="264.67" font-size="9.5" text-anchor="middle" fill="#231f20" font-weight="bold" >**</text>
<text transform="translate(22.50,294.90) rotate(-90)" x="0" y="3.60" font-size="10" text-anchor="middle" fill="#231f20" stroke="#231f20" stroke-width="0.2" textLength="42.2" lengthAdjust="spacingAndGlyphs">% DNAM-1<tspan dy="-3.5" font-size="7.3">+</tspan></text>
<text x="138.75" y="148.02" font-size="12" text-anchor="start" fill="#000" font-weight="bold" >E</text>
<text x="187.00" y="154.07" font-size="11.3" text-anchor="middle" fill="#231f20" stroke="#231f20" stroke-width="0.2" textLength="14.5" lengthAdjust="spacingAndGlyphs" >clg</text>
<text x="260.50" y="153.07" font-size="11.3" text-anchor="middle" fill="#231f20" stroke="#231f20" stroke-width="0.2" textLength="33.5" lengthAdjust="spacingAndGlyphs" >αTIGIT</text>
<circle cx="185.39" cy="204.96" r="0.35" fill="#9c9c9c"/><circle cx="176.61" cy="211.92" r="0.35" fill="#9c9c9c"/><circle cx="178.81" cy="196.01" r="0.35" fill="#9c9c9c"/><circle cx="169.45" cy="200.78" r="0.35" fill="#9c9c9c"/><circle cx="164.90" cy="200.87" r="0.35" fill="#9c9c9c"/><circle cx="168.41" cy="206.31" r="0.35" fill="#9c9c9c"/><circle cx="165.48" cy="215.02" r="0.35" fill="#9c9c9c"/><circle cx="170.77" cy="191.35" r="0.35" fill="#9c9c9c"/><circle cx="182.27" cy="205.62" r="0.35" fill="#9c9c9c"/><circle cx="166.56" cy="213.34" r="0.35" fill="#9c9c9c"/><circle cx="175.14" cy="210.70" r="0.35" fill="#9c9c9c"/><circle cx="165.72" cy="212.34" r="0.35" fill="#9c9c9c"/><circle cx="163.90" cy="222.27" r="0.35" fill="#9c9c9c"/><circle cx="163.23" cy="207.71" r="0.35" fill="#9c9c9c"/><circle cx="173.18" cy="212.92" r="0.35" fill="#9c9c9c"/><circle cx="170.78" cy="216.25" r="0.35" fill="#9c9c9c"/><circle cx="159.81" cy="208.78" r="0.35" fill="#9c9c9c"/><circle cx="170.42" cy="202.80" r="0.35" fill="#9c9c9c"/><circle cx="182.26" cy="199.50" r="0.35" fill="#9c9c9c"/><circle cx="171.77" cy="192.02" r="0.35" fill="#9c9c9c"/><circle cx="173.95" cy="193.19" r="0.35" fill="#9c9c9c"/><circle cx="165.05" cy="224.94" r="0.35" fill="#9c9c9c"/><circle cx="178.16" cy="208.19" r="0.35" fill="#9c9c9c"/><circle cx="173.28" cy="193.96" r="0.35" fill="#9c9c9c"/><circle cx="163.65" cy="213.32" r="0.35" fill="#9c9c9c"/><circle cx="160.31" cy="211.14" r="0.35" fill="#9c9c9c"/><circle cx="160.94" cy="209.91" r="0.35" fill="#9c9c9c"/><circle cx="165.45" cy="224.16" r="0.35" fill="#9c9c9c"/><circle cx="180.25" cy="202.41" r="0.35" fill="#9c9c9c"/><circle cx="161.44" cy="202.49" r="0.35" fill="#9c9c9c"/><circle cx="171.49" cy="196.94" r="0.35" fill="#9c9c9c"/><circle cx="174.33" cy="220.64" r="0.35" fill="#9c9c9c"/><circle cx="171.32" cy="202.65" r="0.35" fill="#9c9c9c"/><circle cx="178.73" cy="204.63" r="0.35" fill="#9c9c9c"/><circle cx="179.25" cy="204.42" r="0.35" fill="#9c9c9c"/><circle cx="183.72" cy="205.78" r="0.35" fill="#9c9c9c"/><circle cx="163.49" cy="209.64" r="0.35" fill="#9c9c9c"/><circle cx="167.11" cy="198.15" r="0.35" fill="#9c9c9c"/><circle cx="170.72" cy="218.01" r="0.35" fill="#9c9c9c"/><circle cx="160.25" cy="208.63" r="0.35" fill="#9c9c9c"/><circle cx="170.40" cy="206.36" r="0.35" fill="#9c9c9c"/><circle cx="177.82" cy="195.39" r="0.35" fill="#9c9c9c"/><circle cx="177.84" cy="205.45" r="0.35" fill="#9c9c9c"/><circle cx="172.89" cy="205.40" r="0.35" fill="#9c9c9c"/><circle cx="169.04" cy="201.87" r="0.35" fill="#9c9c9c"/><circle cx="174.81" cy="227.56" r="0.35" fill="#9c9c9c"/><circle cx="180.51" cy="218.49" r="0.35" fill="#9c9c9c"/><circle cx="176.98" cy="202.54" r="0.35" fill="#9c9c9c"/><circle cx="176.05" cy="227.26" r="0.35" fill="#9c9c9c"/><circle cx="163.09" cy="217.48" r="0.35" fill="#9c9c9c"/><circle cx="180.80" cy="212.27" r="0.35" fill="#9c9c9c"/><circle cx="178.11" cy="223.73" r="0.35" fill="#9c9c9c"/><circle cx="184.21" cy="219.23" r="0.35" fill="#9c9c9c"/><circle cx="184.15" cy="212.57" r="0.35" fill="#9c9c9c"/><circle cx="179.63" cy="211.27" r="0.35" fill="#9c9c9c"/><circle cx="175.03" cy="203.07" r="0.35" fill="#9c9c9c"/><circle cx="177.45" cy="224.43" r="0.35" fill="#9c9c9c"/><circle cx="170.93" cy="212.60" r="0.35" fill="#9c9c9c"/><circle cx="178.14" cy="209.54" r="0.35" fill="#9c9c9c"/><circle cx="180.56" cy="212.51" r="0.35" fill="#9c9c9c"/><circle cx="164.46" cy="199.17" r="0.35" fill="#9c9c9c"/><circle cx="178.82" cy="217.19" r="0.35" fill="#9c9c9c"/><circle cx="181.69" cy="212.45" r="0.35" fill="#9c9c9c"/><circle cx="174.14" cy="193.76" r="0.35" fill="#9c9c9c"/><circle cx="182.39" cy="200.47" r="0.35" fill="#9c9c9c"/><circle cx="180.21" cy="197.88" r="0.35" fill="#9c9c9c"/><circle cx="166.81" cy="211.53" r="0.35" fill="#9c9c9c"/><circle cx="169.05" cy="200.96" r="0.35" fill="#9c9c9c"/><circle cx="180.09" cy="217.60" r="0.35" fill="#9c9c9c"/><circle cx="176.33" cy="205.20" r="0.35" fill="#9c9c9c"/><circle cx="165.86" cy="203.95" r="0.35" fill="#9c9c9c"/><circle cx="168.01" cy="209.33" r="0.35" fill="#9c9c9c"/><circle cx="179.52" cy="207.58" r="0.35" fill="#9c9c9c"/><circle cx="166.27" cy="202.40" r="0.35" fill="#9c9c9c"/><circle cx="182.82" cy="211.60" r="0.35" fill="#9c9c9c"/><circle cx="175.00" cy="213.49" r="0.35" fill="#9c9c9c"/><circle cx="178.19" cy="211.59" r="0.35" fill="#9c9c9c"/><circle cx="181.68" cy="218.57" r="0.35" fill="#9c9c9c"/><circle cx="159.90" cy="209.02" r="0.35" fill="#9c9c9c"/><circle cx="185.08" cy="202.39" r="0.35" fill="#9c9c9c"/><circle cx="173.97" cy="222.58" r="0.35" fill="#9c9c9c"/><circle cx="172.95" cy="224.59" r="0.35" fill="#9c9c9c"/><circle cx="164.59" cy="198.06" r="0.35" fill="#9c9c9c"/><circle cx="171.31" cy="200.70" r="0.35" fill="#9c9c9c"/><circle cx="164.51" cy="216.40" r="0.35" fill="#9c9c9c"/><circle cx="175.49" cy="210.11" r="0.35" fill="#9c9c9c"/><circle cx="169.30" cy="213.43" r="0.35" fill="#9c9c9c"/><circle cx="171.94" cy="200.81" r="0.35" fill="#9c9c9c"/><circle cx="177.57" cy="214.75" r="0.35" fill="#9c9c9c"/><circle cx="173.71" cy="218.79" r="0.35" fill="#9c9c9c"/><circle cx="164.06" cy="208.32" r="0.35" fill="#9c9c9c"/><circle cx="169.12" cy="224.14" r="0.35" fill="#9c9c9c"/><circle cx="175.94" cy="227.57" r="0.35" fill="#9c9c9c"/><circle cx="183.99" cy="206.28" r="0.35" fill="#9c9c9c"/><circle cx="164.35" cy="215.49" r="0.35" fill="#9c9c9c"/><circle cx="170.39" cy="207.91" r="0.35" fill="#9c9c9c"/><circle cx="164.66" cy="216.77" r="0.35" fill="#9c9c9c"/><circle cx="174.70" cy="215.28" r="0.35" fill="#9c9c9c"/><circle cx="175.60" cy="199.14" r="0.35" fill="#9c9c9c"/><circle cx="160.40" cy="207.81" r="0.35" fill="#9c9c9c"/><circle cx="167.53" cy="203.47" r="0.35" fill="#9c9c9c"/><circle cx="181.03" cy="208.80" r="0.35" fill="#9c9c9c"/><circle cx="183.87" cy="211.88" r="0.35" fill="#9c9c9c"/><circle cx="178.89" cy="216.23" r="0.35" fill="#9c9c9c"/><circle cx="178.85" cy="196.89" r="0.35" fill="#9c9c9c"/><circle cx="181.84" cy="211.26" r="0.35" fill="#9c9c9c"/><circle cx="165.20" cy="217.04" r="0.35" fill="#9c9c9c"/><circle cx="175.63" cy="224.06" r="0.35" fill="#9c9c9c"/><circle cx="179.31" cy="214.52" r="0.35" fill="#9c9c9c"/><circle cx="164.08" cy="223.15" r="0.35" fill="#9c9c9c"/><circle cx="183.19" cy="217.63" r="0.35" fill="#9c9c9c"/><circle cx="176.54" cy="223.41" r="0.35" fill="#9c9c9c"/><circle cx="166.00" cy="218.12" r="0.35" fill="#9c9c9c"/><circle cx="173.19" cy="198.08" r="0.35" fill="#9c9c9c"/><circle cx="176.33" cy="214.58" r="0.35" fill="#9c9c9c"/><circle cx="183.67" cy="218.48" r="0.35" fill="#9c9c9c"/><circle cx="164.80" cy="195.60" r="0.35" fill="#9c9c9c"/><circle cx="172.27" cy="207.21" r="0.35" fill="#9c9c9c"/><circle cx="166.70" cy="195.92" r="0.35" fill="#9c9c9c"/><circle cx="171.45" cy="196.80" r="0.35" fill="#9c9c9c"/><circle cx="167.41" cy="220.01" r="0.35" fill="#9c9c9c"/><circle cx="175.07" cy="200.62" r="0.35" fill="#9c9c9c"/><circle cx="163.99" cy="207.84" r="0.35" fill="#9c9c9c"/><circle cx="184.38" cy="205.22" r="0.35" fill="#9c9c9c"/><circle cx="184.01" cy="202.82" r="0.35" fill="#9c9c9c"/><circle cx="171.16" cy="218.74" r="0.35" fill="#9c9c9c"/><circle cx="166.28" cy="210.68" r="0.35" fill="#9c9c9c"/><circle cx="163.21" cy="216.87" r="0.35" fill="#9c9c9c"/><circle cx="181.83" cy="202.89" r="0.35" fill="#9c9c9c"/><circle cx="174.69" cy="204.65" r="0.35" fill="#9c9c9c"/><circle cx="164.83" cy="224.90" r="0.35" fill="#9c9c9c"/><circle cx="178.17" cy="219.75" r="0.35" fill="#9c9c9c"/><circle cx="176.54" cy="212.27" r="0.35" fill="#9c9c9c"/><circle cx="183.42" cy="198.48" r="0.35" fill="#9c9c9c"/><circle cx="170.17" cy="204.55" r="0.35" fill="#9c9c9c"/><circle cx="171.17" cy="218.75" r="0.35" fill="#9c9c9c"/><circle cx="167.79" cy="196.24" r="0.35" fill="#9c9c9c"/><circle cx="164.12" cy="215.15" r="0.35" fill="#9c9c9c"/><circle cx="180.41" cy="219.03" r="0.35" fill="#9c9c9c"/><circle cx="183.93" cy="204.90" r="0.35" fill="#9c9c9c"/><circle cx="180.82" cy="217.75" r="0.35" fill="#9c9c9c"/><circle cx="171.55" cy="200.60" r="0.35" fill="#9c9c9c"/><circle cx="180.09" cy="202.10" r="0.35" fill="#9c9c9c"/><circle cx="170.56" cy="198.45" r="0.35" fill="#9c9c9c"/><circle cx="184.70" cy="209.49" r="0.35" fill="#9c9c9c"/><circle cx="168.49" cy="206.79" r="0.35" fill="#9c9c9c"/><circle cx="170.89" cy="211.17" r="0.35" fill="#9c9c9c"/><circle cx="162.74" cy="199.97" r="0.35" fill="#9c9c9c"/><circle cx="177.00" cy="222.28" r="0.35" fill="#9c9c9c"/><circle cx="164.64" cy="211.33" r="0.35" fill="#9c9c9c"/><circle cx="169.85" cy="192.20" r="0.35" fill="#9c9c9c"/><circle cx="170.49" cy="197.47" r="0.35" fill="#9c9c9c"/><circle cx="180.39" cy="207.42" r="0.35" fill="#9c9c9c"/><circle cx="172.70" cy="194.61" r="0.35" fill="#9c9c9c"/><circle cx="173.89" cy="192.53" r="0.35" fill="#9c9c9c"/><circle cx="174.63" cy="224.77" r="0.35" fill="#9c9c9c"/><circle cx="164.15" cy="218.89" r="0.35" fill="#9c9c9c"/><circle cx="183.43" cy="207.84" r="0.35" fill="#9c9c9c"/><circle cx="181.99" cy="210.94" r="0.35" fill="#9c9c9c"/><circle cx="170.03" cy="192.68" r="0.35" fill="#9c9c9c"/><circle cx="165.98" cy="196.13" r="0.35" fill="#9c9c9c"/><circle cx="185.77" cy="211.98" r="0.35" fill="#9c9c9c"/><circle cx="171.67" cy="195.35" r="0.35" fill="#9c9c9c"/><circle cx="183.30" cy="200.00" r="0.35" fill="#9c9c9c"/><circle cx="182.64" cy="220.11" r="0.35" fill="#9c9c9c"/><circle cx="173.63" cy="201.57" r="0.35" fill="#9c9c9c"/><circle cx="172.63" cy="195.48" r="0.35" fill="#9c9c9c"/><circle cx="177.26" cy="225.88" r="0.35" fill="#9c9c9c"/><circle cx="179.70" cy="221.31" r="0.35" fill="#9c9c9c"/><circle cx="166.90" cy="213.83" r="0.35" fill="#9c9c9c"/><circle cx="164.73" cy="204.77" r="0.35" fill="#9c9c9c"/><circle cx="176.63" cy="227.92" r="0.35" fill="#9c9c9c"/><circle cx="173.65" cy="210.46" r="0.35" fill="#9c9c9c"/><circle cx="160.95" cy="211.59" r="0.35" fill="#9c9c9c"/><circle cx="166.75" cy="196.17" r="0.35" fill="#9c9c9c"/><circle cx="162.18" cy="211.47" r="0.35" fill="#9c9c9c"/><circle cx="169.53" cy="218.44" r="0.35" fill="#9c9c9c"/><circle cx="170.81" cy="209.94" r="0.35" fill="#9c9c9c"/><circle cx="183.07" cy="217.92" r="0.35" fill="#9c9c9c"/><circle cx="178.28" cy="224.58" r="0.35" fill="#9c9c9c"/><circle cx="174.80" cy="198.21" r="0.35" fill="#9c9c9c"/><circle cx="167.67" cy="195.00" r="0.35" fill="#9c9c9c"/><circle cx="176.19" cy="204.74" r="0.35" fill="#9c9c9c"/><circle cx="177.27" cy="220.00" r="0.35" fill="#9c9c9c"/><circle cx="166.00" cy="212.27" r="0.35" fill="#9c9c9c"/><circle cx="182.85" cy="210.93" r="0.35" fill="#9c9c9c"/><circle cx="180.83" cy="207.63" r="0.35" fill="#9c9c9c"/><circle cx="165.05" cy="207.23" r="0.35" fill="#9c9c9c"/><circle cx="161.45" cy="216.23" r="0.35" fill="#9c9c9c"/><circle cx="169.18" cy="224.27" r="0.35" fill="#9c9c9c"/><circle cx="163.34" cy="211.42" r="0.35" fill="#9c9c9c"/><circle cx="176.15" cy="207.32" r="0.35" fill="#9c9c9c"/><circle cx="176.29" cy="200.66" r="0.35" fill="#9c9c9c"/><circle cx="165.85" cy="196.54" r="0.35" fill="#9c9c9c"/><circle cx="168.27" cy="200.23" r="0.35" fill="#9c9c9c"/><circle cx="175.18" cy="205.13" r="0.35" fill="#9c9c9c"/><circle cx="167.46" cy="201.18" r="0.35" fill="#9c9c9c"/><circle cx="161.02" cy="206.67" r="0.35" fill="#9c9c9c"/><circle cx="176.11" cy="195.63" r="0.35" fill="#9c9c9c"/><circle cx="170.72" cy="218.55" r="0.35" fill="#9c9c9c"/><circle cx="166.85" cy="212.41" r="0.35" fill="#9c9c9c"/><circle cx="170.78" cy="228.29" r="0.35" fill="#9c9c9c"/><circle cx="182.12" cy="221.11" r="0.35" fill="#9c9c9c"/><circle cx="167.21" cy="217.88" r="0.35" fill="#9c9c9c"/><circle cx="171.47" cy="214.80" r="0.35" fill="#9c9c9c"/><circle cx="167.80" cy="212.05" r="0.35" fill="#9c9c9c"/><circle cx="166.32" cy="213.65" r="0.35" fill="#9c9c9c"/><circle cx="183.01" cy="198.80" r="0.35" fill="#9c9c9c"/><circle cx="163.12" cy="215.41" r="0.35" fill="#9c9c9c"/><circle cx="179.83" cy="205.36" r="0.35" fill="#9c9c9c"/><circle cx="178.23" cy="215.42" r="0.35" fill="#9c9c9c"/><circle cx="177.04" cy="224.52" r="0.35" fill="#9c9c9c"/><circle cx="167.46" cy="218.07" r="0.35" fill="#9c9c9c"/><circle cx="174.79" cy="201.20" r="0.35" fill="#9c9c9c"/><circle cx="176.78" cy="195.91" r="0.35" fill="#9c9c9c"/><circle cx="163.28" cy="220.10" r="0.35" fill="#9c9c9c"/><circle cx="166.21" cy="224.88" r="0.35" fill="#9c9c9c"/><circle cx="181.38" cy="203.96" r="0.35" fill="#9c9c9c"/><circle cx="168.26" cy="192.82" r="0.35" fill="#9c9c9c"/><circle cx="172.46" cy="193.57" r="0.35" fill="#9c9c9c"/><circle cx="181.72" cy="196.57" r="0.35" fill="#9c9c9c"/><circle cx="173.29" cy="191.23" r="0.35" fill="#9c9c9c"/><circle cx="170.30" cy="224.46" r="0.35" fill="#9c9c9c"/><circle cx="169.17" cy="199.90" r="0.35" fill="#9c9c9c"/><circle cx="168.63" cy="214.85" r="0.35" fill="#9c9c9c"/><circle cx="180.59" cy="207.04" r="0.35" fill="#9c9c9c"/><circle cx="160.63" cy="212.62" r="0.35" fill="#9c9c9c"/><circle cx="178.04" cy="227.14" r="0.35" fill="#9c9c9c"/><circle cx="174.55" cy="212.28" r="0.35" fill="#9c9c9c"/><circle cx="168.31" cy="219.17" r="0.35" fill="#9c9c9c"/><circle cx="183.80" cy="201.18" r="0.35" fill="#9c9c9c"/><circle cx="173.63" cy="197.50" r="0.35" fill="#9c9c9c"/><circle cx="166.79" cy="207.55" r="0.35" fill="#9c9c9c"/><circle cx="177.14" cy="199.75" r="0.35" fill="#9c9c9c"/><circle cx="170.72" cy="224.80" r="0.35" fill="#9c9c9c"/><circle cx="177.35" cy="218.66" r="0.35" fill="#9c9c9c"/><circle cx="176.65" cy="207.38" r="0.35" fill="#9c9c9c"/><circle cx="176.75" cy="216.68" r="0.35" fill="#9c9c9c"/><circle cx="172.95" cy="222.30" r="0.35" fill="#9c9c9c"/><circle cx="172.99" cy="221.11" r="0.35" fill="#9c9c9c"/><circle cx="173.14" cy="219.30" r="0.35" fill="#9c9c9c"/><circle cx="167.11" cy="202.95" r="0.35" fill="#9c9c9c"/><circle cx="164.92" cy="221.92" r="0.35" fill="#9c9c9c"/><circle cx="177.65" cy="212.72" r="0.35" fill="#9c9c9c"/><circle cx="178.13" cy="199.97" r="0.35" fill="#9c9c9c"/><circle cx="173.87" cy="203.20" r="0.35" fill="#9c9c9c"/><circle cx="160.97" cy="207.49" r="0.35" fill="#9c9c9c"/><circle cx="166.91" cy="224.15" r="0.35" fill="#9c9c9c"/><circle cx="166.61" cy="202.38" r="0.35" fill="#9c9c9c"/><circle cx="181.28" cy="209.80" r="0.35" fill="#9c9c9c"/><circle cx="162.73" cy="212.45" r="0.35" fill="#9c9c9c"/><circle cx="168.06" cy="225.86" r="0.35" fill="#9c9c9c"/><circle cx="164.70" cy="201.63" r="0.35" fill="#9c9c9c"/><circle cx="160.26" cy="205.48" r="0.35" fill="#9c9c9c"/><circle cx="185.10" cy="208.79" r="0.35" fill="#9c9c9c"/><circle cx="164.86" cy="213.43" r="0.35" fill="#9c9c9c"/><circle cx="170.19" cy="209.37" r="0.35" fill="#9c9c9c"/><circle cx="183.26" cy="221.91" r="0.35" fill="#9c9c9c"/><circle cx="181.87" cy="223.25" r="0.35" fill="#9c9c9c"/><circle cx="167.59" cy="193.59" r="0.35" fill="#9c9c9c"/><circle cx="179.47" cy="214.90" r="0.35" fill="#9c9c9c"/><circle cx="173.37" cy="208.30" r="0.35" fill="#9c9c9c"/><circle cx="179.16" cy="216.94" r="0.35" fill="#9c9c9c"/><circle cx="175.35" cy="216.44" r="0.35" fill="#9c9c9c"/><circle cx="171.06" cy="204.96" r="0.35" fill="#9c9c9c"/><circle cx="183.49" cy="207.28" r="0.35" fill="#9c9c9c"/><circle cx="184.93" cy="215.53" r="0.35" fill="#9c9c9c"/><circle cx="173.49" cy="223.15" r="0.35" fill="#9c9c9c"/><circle cx="168.41" cy="207.45" r="0.35" fill="#9c9c9c"/><circle cx="169.75" cy="209.94" r="0.35" fill="#9c9c9c"/><circle cx="176.95" cy="227.28" r="0.35" fill="#9c9c9c"/><circle cx="177.18" cy="197.66" r="0.35" fill="#9c9c9c"/><circle cx="167.86" cy="193.85" r="0.35" fill="#9c9c9c"/><circle cx="178.92" cy="220.25" r="0.35" fill="#9c9c9c"/><circle cx="176.05" cy="214.77" r="0.35" fill="#9c9c9c"/><circle cx="177.73" cy="215.49" r="0.35" fill="#9c9c9c"/><circle cx="178.80" cy="212.89" r="0.35" fill="#9c9c9c"/><circle cx="165.43" cy="220.31" r="0.35" fill="#9c9c9c"/><circle cx="180.93" cy="196.00" r="0.35" fill="#9c9c9c"/><circle cx="171.10" cy="196.77" r="0.35" fill="#9c9c9c"/><circle cx="177.63" cy="206.18" r="0.35" fill="#9c9c9c"/><circle cx="182.43" cy="220.56" r="0.35" fill="#9c9c9c"/><circle cx="168.77" cy="203.76" r="0.35" fill="#9c9c9c"/><circle cx="167.83" cy="217.21" r="0.35" fill="#9c9c9c"/><circle cx="165.15" cy="215.22" r="0.35" fill="#9c9c9c"/><circle cx="163.52" cy="220.12" r="0.35" fill="#9c9c9c"/><circle cx="176.74" cy="196.82" r="0.35" fill="#9c9c9c"/><circle cx="166.05" cy="211.72" r="0.35" fill="#9c9c9c"/><circle cx="174.27" cy="191.24" r="0.35" fill="#9c9c9c"/><circle cx="174.45" cy="225.77" r="0.35" fill="#9c9c9c"/><circle cx="169.62" cy="195.39" r="0.35" fill="#9c9c9c"/><circle cx="182.64" cy="212.69" r="0.35" fill="#9c9c9c"/><circle cx="174.73" cy="217.99" r="0.35" fill="#9c9c9c"/><circle cx="163.68" cy="202.68" r="0.35" fill="#9c9c9c"/><circle cx="164.97" cy="198.41" r="0.35" fill="#9c9c9c"/><circle cx="170.33" cy="197.50" r="0.35" fill="#9c9c9c"/><circle cx="184.10" cy="214.93" r="0.35" fill="#9c9c9c"/><circle cx="178.36" cy="194.45" r="0.35" fill="#9c9c9c"/><circle cx="170.89" cy="207.86" r="0.35" fill="#9c9c9c"/><circle cx="174.45" cy="215.89" r="0.35" fill="#9c9c9c"/><circle cx="166.59" cy="199.45" r="0.35" fill="#9c9c9c"/><circle cx="178.02" cy="227.09" r="0.35" fill="#9c9c9c"/><circle cx="185.42" cy="207.52" r="0.35" fill="#9c9c9c"/><circle cx="166.04" cy="212.31" r="0.35" fill="#9c9c9c"/><circle cx="176.07" cy="226.65" r="0.35" fill="#9c9c9c"/><circle cx="170.89" cy="200.48" r="0.35" fill="#9c9c9c"/><circle cx="181.16" cy="201.77" r="0.35" fill="#9c9c9c"/><circle cx="165.73" cy="216.38" r="0.35" fill="#9c9c9c"/><circle cx="171.35" cy="197.42" r="0.35" fill="#9c9c9c"/><circle cx="170.51" cy="204.42" r="0.35" fill="#9c9c9c"/><circle cx="170.96" cy="200.54" r="0.35" fill="#9c9c9c"/><circle cx="178.18" cy="205.31" r="0.35" fill="#9c9c9c"/><circle cx="168.16" cy="222.06" r="0.35" fill="#9c9c9c"/><circle cx="165.52" cy="218.61" r="0.35" fill="#9c9c9c"/><circle cx="178.26" cy="206.08" r="0.35" fill="#9c9c9c"/><circle cx="174.53" cy="194.35" r="0.35" fill="#9c9c9c"/><circle cx="175.00" cy="197.63" r="0.35" fill="#9c9c9c"/><circle cx="165.54" cy="213.15" r="0.35" fill="#9c9c9c"/><circle cx="166.42" cy="211.60" r="0.35" fill="#9c9c9c"/><circle cx="176.31" cy="222.20" r="0.35" fill="#9c9c9c"/>
<circle cx="201.46" cy="224.69" r="0.35" fill="#9c9c9c"/><circle cx="191.33" cy="219.25" r="0.35" fill="#9c9c9c"/><circle cx="197.39" cy="195.15" r="0.35" fill="#9c9c9c"/><circle cx="216.23" cy="203.44" r="0.35" fill="#9c9c9c"/><circle cx="200.01" cy="216.56" r="0.35" fill="#9c9c9c"/><circle cx="212.32" cy="200.40" r="0.35" fill="#9c9c9c"/><circle cx="206.65" cy="181.98" r="0.35" fill="#9c9c9c"/><circle cx="196.20" cy="191.42" r="0.35" fill="#9c9c9c"/><circle cx="189.86" cy="178.51" r="0.35" fill="#9c9c9c"/><circle cx="185.81" cy="196.98" r="0.35" fill="#9c9c9c"/><circle cx="198.43" cy="193.83" r="0.35" fill="#9c9c9c"/><circle cx="201.19" cy="176.28" r="0.35" fill="#9c9c9c"/><circle cx="199.54" cy="206.38" r="0.35" fill="#9c9c9c"/><circle cx="208.37" cy="184.44" r="0.35" fill="#9c9c9c"/><circle cx="197.35" cy="171.39" r="0.35" fill="#9c9c9c"/><circle cx="196.80" cy="170.88" r="0.35" fill="#9c9c9c"/><circle cx="188.30" cy="218.67" r="0.35" fill="#9c9c9c"/><circle cx="184.81" cy="211.62" r="0.35" fill="#9c9c9c"/><circle cx="204.40" cy="194.07" r="0.35" fill="#9c9c9c"/><circle cx="205.78" cy="212.31" r="0.35" fill="#9c9c9c"/><circle cx="211.63" cy="196.42" r="0.35" fill="#9c9c9c"/><circle cx="193.88" cy="188.38" r="0.35" fill="#9c9c9c"/><circle cx="189.80" cy="200.09" r="0.35" fill="#9c9c9c"/><circle cx="192.68" cy="220.84" r="0.35" fill="#9c9c9c"/><circle cx="186.34" cy="185.54" r="0.35" fill="#9c9c9c"/><circle cx="193.61" cy="172.76" r="0.35" fill="#9c9c9c"/><circle cx="211.14" cy="175.85" r="0.35" fill="#9c9c9c"/><circle cx="197.19" cy="189.55" r="0.35" fill="#9c9c9c"/><circle cx="211.35" cy="176.71" r="0.35" fill="#9c9c9c"/><circle cx="211.25" cy="187.31" r="0.35" fill="#9c9c9c"/><circle cx="198.71" cy="186.59" r="0.35" fill="#9c9c9c"/><circle cx="206.91" cy="179.75" r="0.35" fill="#9c9c9c"/><circle cx="199.55" cy="208.92" r="0.35" fill="#9c9c9c"/><circle cx="210.93" cy="175.56" r="0.35" fill="#9c9c9c"/><circle cx="213.61" cy="216.21" r="0.35" fill="#9c9c9c"/><circle cx="194.83" cy="207.67" r="0.35" fill="#9c9c9c"/><circle cx="196.38" cy="228.17" r="0.35" fill="#9c9c9c"/><circle cx="203.03" cy="196.15" r="0.35" fill="#9c9c9c"/><circle cx="197.75" cy="196.50" r="0.35" fill="#9c9c9c"/><circle cx="198.55" cy="182.84" r="0.35" fill="#9c9c9c"/><circle cx="213.02" cy="179.30" r="0.35" fill="#9c9c9c"/><circle cx="183.27" cy="199.90" r="0.35" fill="#9c9c9c"/><circle cx="198.75" cy="209.31" r="0.35" fill="#9c9c9c"/><circle cx="198.03" cy="197.65" r="0.35" fill="#9c9c9c"/><circle cx="204.08" cy="220.45" r="0.35" fill="#9c9c9c"/><circle cx="195.26" cy="192.86" r="0.35" fill="#9c9c9c"/><circle cx="216.00" cy="208.90" r="0.35" fill="#9c9c9c"/><circle cx="193.91" cy="230.03" r="0.35" fill="#9c9c9c"/><circle cx="208.95" cy="189.03" r="0.35" fill="#9c9c9c"/><circle cx="188.44" cy="206.72" r="0.35" fill="#9c9c9c"/><circle cx="192.27" cy="181.47" r="0.35" fill="#9c9c9c"/><circle cx="187.85" cy="191.78" r="0.35" fill="#9c9c9c"/><circle cx="211.94" cy="192.64" r="0.35" fill="#9c9c9c"/><circle cx="187.21" cy="212.45" r="0.35" fill="#9c9c9c"/><circle cx="201.23" cy="218.62" r="0.35" fill="#9c9c9c"/><circle cx="212.83" cy="197.77" r="0.35" fill="#9c9c9c"/><circle cx="198.74" cy="199.97" r="0.35" fill="#9c9c9c"/><circle cx="189.18" cy="213.45" r="0.35" fill="#9c9c9c"/><circle cx="213.93" cy="204.18" r="0.35" fill="#9c9c9c"/><circle cx="197.65" cy="195.17" r="0.35" fill="#9c9c9c"/><circle cx="192.29" cy="185.23" r="0.35" fill="#9c9c9c"/><circle cx="196.10" cy="183.74" r="0.35" fill="#9c9c9c"/><circle cx="196.54" cy="174.34" r="0.35" fill="#9c9c9c"/><circle cx="204.70" cy="202.10" r="0.35" fill="#9c9c9c"/><circle cx="192.91" cy="172.75" r="0.35" fill="#9c9c9c"/><circle cx="200.42" cy="222.75" r="0.35" fill="#9c9c9c"/><circle cx="192.35" cy="190.98" r="0.35" fill="#9c9c9c"/><circle cx="194.17" cy="214.58" r="0.35" fill="#9c9c9c"/><circle cx="191.44" cy="219.21" r="0.35" fill="#9c9c9c"/><circle cx="197.20" cy="219.79" r="0.35" fill="#9c9c9c"/><circle cx="200.89" cy="195.77" r="0.35" fill="#9c9c9c"/><circle cx="187.09" cy="189.36" r="0.35" fill="#9c9c9c"/><circle cx="197.50" cy="215.12" r="0.35" fill="#9c9c9c"/><circle cx="203.30" cy="186.16" r="0.35" fill="#9c9c9c"/><circle cx="204.86" cy="220.62" r="0.35" fill="#9c9c9c"/><circle cx="198.74" cy="191.27" r="0.35" fill="#9c9c9c"/><circle cx="196.15" cy="217.73" r="0.35" fill="#9c9c9c"/><circle cx="206.22" cy="182.55" r="0.35" fill="#9c9c9c"/><circle cx="204.87" cy="190.56" r="0.35" fill="#9c9c9c"/><circle cx="193.29" cy="223.21" r="0.35" fill="#9c9c9c"/><circle cx="209.19" cy="186.69" r="0.35" fill="#9c9c9c"/><circle cx="201.44" cy="212.06" r="0.35" fill="#9c9c9c"/><circle cx="193.10" cy="198.40" r="0.35" fill="#9c9c9c"/><circle cx="206.02" cy="173.37" r="0.35" fill="#9c9c9c"/><circle cx="204.19" cy="216.54" r="0.35" fill="#9c9c9c"/><circle cx="205.36" cy="176.85" r="0.35" fill="#9c9c9c"/><circle cx="204.01" cy="183.25" r="0.35" fill="#9c9c9c"/><circle cx="206.89" cy="213.66" r="0.35" fill="#9c9c9c"/><circle cx="202.94" cy="184.86" r="0.35" fill="#9c9c9c"/><circle cx="194.16" cy="218.10" r="0.35" fill="#9c9c9c"/><circle cx="190.83" cy="210.95" r="0.35" fill="#9c9c9c"/><circle cx="206.48" cy="194.92" r="0.35" fill="#9c9c9c"/><circle cx="217.25" cy="201.92" r="0.35" fill="#9c9c9c"/><circle cx="212.99" cy="179.10" r="0.35" fill="#9c9c9c"/><circle cx="185.10" cy="213.58" r="0.35" fill="#9c9c9c"/><circle cx="207.80" cy="194.31" r="0.35" fill="#9c9c9c"/><circle cx="200.06" cy="171.56" r="0.35" fill="#9c9c9c"/><circle cx="194.04" cy="181.18" r="0.35" fill="#9c9c9c"/><circle cx="198.05" cy="219.24" r="0.35" fill="#9c9c9c"/><circle cx="201.14" cy="209.32" r="0.35" fill="#9c9c9c"/><circle cx="192.66" cy="191.88" r="0.35" fill="#9c9c9c"/><circle cx="201.85" cy="194.65" r="0.35" fill="#9c9c9c"/><circle cx="212.31" cy="185.73" r="0.35" fill="#9c9c9c"/><circle cx="215.00" cy="186.96" r="0.35" fill="#9c9c9c"/><circle cx="211.08" cy="186.58" r="0.35" fill="#9c9c9c"/><circle cx="215.34" cy="203.29" r="0.35" fill="#9c9c9c"/><circle cx="204.96" cy="216.55" r="0.35" fill="#9c9c9c"/><circle cx="194.00" cy="181.08" r="0.35" fill="#9c9c9c"/><circle cx="186.18" cy="217.09" r="0.35" fill="#9c9c9c"/><circle cx="192.82" cy="188.81" r="0.35" fill="#9c9c9c"/><circle cx="185.40" cy="205.07" r="0.35" fill="#9c9c9c"/><circle cx="195.92" cy="212.47" r="0.35" fill="#9c9c9c"/><circle cx="185.28" cy="194.72" r="0.35" fill="#9c9c9c"/><circle cx="207.78" cy="226.22" r="0.35" fill="#9c9c9c"/><circle cx="214.15" cy="187.35" r="0.35" fill="#9c9c9c"/><circle cx="201.17" cy="198.50" r="0.35" fill="#9c9c9c"/><circle cx="189.43" cy="179.38" r="0.35" fill="#9c9c9c"/><circle cx="209.05" cy="206.18" r="0.35" fill="#9c9c9c"/><circle cx="199.04" cy="224.22" r="0.35" fill="#9c9c9c"/><circle cx="190.00" cy="211.30" r="0.35" fill="#9c9c9c"/><circle cx="200.62" cy="199.65" r="0.35" fill="#9c9c9c"/><circle cx="206.28" cy="204.87" r="0.35" fill="#9c9c9c"/><circle cx="203.70" cy="206.94" r="0.35" fill="#9c9c9c"/><circle cx="216.24" cy="196.29" r="0.35" fill="#9c9c9c"/><circle cx="210.98" cy="212.75" r="0.35" fill="#9c9c9c"/><circle cx="196.61" cy="217.53" r="0.35" fill="#9c9c9c"/><circle cx="192.25" cy="221.83" r="0.35" fill="#9c9c9c"/><circle cx="191.63" cy="190.99" r="0.35" fill="#9c9c9c"/><circle cx="204.08" cy="218.21" r="0.35" fill="#9c9c9c"/><circle cx="209.66" cy="217.84" r="0.35" fill="#9c9c9c"/><circle cx="198.25" cy="181.59" r="0.35" fill="#9c9c9c"/><circle cx="206.89" cy="207.55" r="0.35" fill="#9c9c9c"/><circle cx="191.12" cy="218.89" r="0.35" fill="#9c9c9c"/><circle cx="202.67" cy="181.56" r="0.35" fill="#9c9c9c"/><circle cx="204.80" cy="176.89" r="0.35" fill="#9c9c9c"/><circle cx="190.93" cy="209.19" r="0.35" fill="#9c9c9c"/><circle cx="186.04" cy="201.65" r="0.35" fill="#9c9c9c"/><circle cx="187.88" cy="213.85" r="0.35" fill="#9c9c9c"/><circle cx="192.22" cy="204.88" r="0.35" fill="#9c9c9c"/><circle cx="186.48" cy="195.01" r="0.35" fill="#9c9c9c"/><circle cx="210.63" cy="210.12" r="0.35" fill="#9c9c9c"/><circle cx="186.05" cy="214.57" r="0.35" fill="#9c9c9c"/><circle cx="210.22" cy="193.35" r="0.35" fill="#9c9c9c"/><circle cx="212.79" cy="183.86" r="0.35" fill="#9c9c9c"/><circle cx="199.60" cy="222.87" r="0.35" fill="#9c9c9c"/><circle cx="211.63" cy="221.29" r="0.35" fill="#9c9c9c"/><circle cx="191.99" cy="175.16" r="0.35" fill="#9c9c9c"/><circle cx="204.22" cy="175.62" r="0.35" fill="#9c9c9c"/><circle cx="199.18" cy="176.95" r="0.35" fill="#9c9c9c"/><circle cx="211.04" cy="215.90" r="0.35" fill="#9c9c9c"/><circle cx="207.03" cy="201.38" r="0.35" fill="#9c9c9c"/><circle cx="201.05" cy="194.30" r="0.35" fill="#9c9c9c"/><circle cx="205.06" cy="206.53" r="0.35" fill="#9c9c9c"/><circle cx="205.84" cy="191.70" r="0.35" fill="#9c9c9c"/><circle cx="216.15" cy="205.34" r="0.35" fill="#9c9c9c"/><circle cx="211.96" cy="221.42" r="0.35" fill="#9c9c9c"/><circle cx="193.21" cy="174.89" r="0.35" fill="#9c9c9c"/><circle cx="213.04" cy="193.78" r="0.35" fill="#9c9c9c"/><circle cx="201.49" cy="195.15" r="0.35" fill="#9c9c9c"/><circle cx="201.85" cy="178.11" r="0.35" fill="#9c9c9c"/><circle cx="199.28" cy="190.73" r="0.35" fill="#9c9c9c"/><circle cx="200.39" cy="169.87" r="0.35" fill="#9c9c9c"/><circle cx="209.61" cy="207.87" r="0.35" fill="#9c9c9c"/><circle cx="186.05" cy="189.54" r="0.35" fill="#9c9c9c"/><circle cx="200.86" cy="214.64" r="0.35" fill="#9c9c9c"/><circle cx="200.50" cy="226.27" r="0.35" fill="#9c9c9c"/><circle cx="200.74" cy="180.80" r="0.35" fill="#9c9c9c"/><circle cx="193.19" cy="216.00" r="0.35" fill="#9c9c9c"/><circle cx="193.93" cy="217.82" r="0.35" fill="#9c9c9c"/><circle cx="211.07" cy="212.38" r="0.35" fill="#9c9c9c"/><circle cx="211.43" cy="197.51" r="0.35" fill="#9c9c9c"/><circle cx="200.39" cy="188.10" r="0.35" fill="#9c9c9c"/><circle cx="195.05" cy="174.91" r="0.35" fill="#9c9c9c"/><circle cx="194.79" cy="180.45" r="0.35" fill="#9c9c9c"/><circle cx="186.74" cy="203.64" r="0.35" fill="#9c9c9c"/><circle cx="205.83" cy="193.52" r="0.35" fill="#9c9c9c"/><circle cx="212.79" cy="216.78" r="0.35" fill="#9c9c9c"/><circle cx="211.24" cy="189.41" r="0.35" fill="#9c9c9c"/><circle cx="186.80" cy="210.56" r="0.35" fill="#9c9c9c"/><circle cx="203.99" cy="216.33" r="0.35" fill="#9c9c9c"/><circle cx="204.64" cy="224.40" r="0.35" fill="#9c9c9c"/><circle cx="197.21" cy="215.25" r="0.35" fill="#9c9c9c"/><circle cx="194.41" cy="171.69" r="0.35" fill="#9c9c9c"/><circle cx="196.38" cy="226.93" r="0.35" fill="#9c9c9c"/><circle cx="186.87" cy="216.43" r="0.35" fill="#9c9c9c"/><circle cx="192.82" cy="192.56" r="0.35" fill="#9c9c9c"/><circle cx="201.03" cy="205.80" r="0.35" fill="#9c9c9c"/><circle cx="189.92" cy="203.56" r="0.35" fill="#9c9c9c"/><circle cx="205.36" cy="218.07" r="0.35" fill="#9c9c9c"/><circle cx="193.86" cy="226.48" r="0.35" fill="#9c9c9c"/><circle cx="211.14" cy="226.16" r="0.35" fill="#9c9c9c"/><circle cx="187.26" cy="204.19" r="0.35" fill="#9c9c9c"/><circle cx="185.06" cy="206.87" r="0.35" fill="#9c9c9c"/><circle cx="206.10" cy="179.36" r="0.35" fill="#9c9c9c"/><circle cx="185.96" cy="204.20" r="0.35" fill="#9c9c9c"/><circle cx="207.28" cy="185.03" r="0.35" fill="#9c9c9c"/><circle cx="198.76" cy="169.61" r="0.35" fill="#9c9c9c"/><circle cx="192.41" cy="204.14" r="0.35" fill="#9c9c9c"/><circle cx="201.90" cy="228.15" r="0.35" fill="#9c9c9c"/><circle cx="192.87" cy="172.88" r="0.35" fill="#9c9c9c"/><circle cx="205.65" cy="188.41" r="0.35" fill="#9c9c9c"/><circle cx="203.75" cy="216.21" r="0.35" fill="#9c9c9c"/><circle cx="206.07" cy="225.95" r="0.35" fill="#9c9c9c"/><circle cx="210.82" cy="177.29" r="0.35" fill="#9c9c9c"/><circle cx="196.15" cy="220.31" r="0.35" fill="#9c9c9c"/><circle cx="199.83" cy="191.64" r="0.35" fill="#9c9c9c"/><circle cx="213.66" cy="217.17" r="0.35" fill="#9c9c9c"/><circle cx="197.83" cy="219.57" r="0.35" fill="#9c9c9c"/><circle cx="188.09" cy="188.21" r="0.35" fill="#9c9c9c"/><circle cx="210.47" cy="201.81" r="0.35" fill="#9c9c9c"/><circle cx="189.43" cy="209.76" r="0.35" fill="#9c9c9c"/><circle cx="203.77" cy="224.86" r="0.35" fill="#9c9c9c"/><circle cx="210.86" cy="195.42" r="0.35" fill="#9c9c9c"/><circle cx="194.77" cy="197.94" r="0.35" fill="#9c9c9c"/><circle cx="198.32" cy="226.95" r="0.35" fill="#9c9c9c"/><circle cx="212.85" cy="220.70" r="0.35" fill="#9c9c9c"/><circle cx="205.01" cy="195.56" r="0.35" fill="#9c9c9c"/><circle cx="210.34" cy="193.90" r="0.35" fill="#9c9c9c"/><circle cx="202.61" cy="173.26" r="0.35" fill="#9c9c9c"/><circle cx="196.50" cy="226.40" r="0.35" fill="#9c9c9c"/><circle cx="191.72" cy="177.18" r="0.35" fill="#9c9c9c"/><circle cx="199.03" cy="228.83" r="0.35" fill="#9c9c9c"/><circle cx="214.23" cy="194.64" r="0.35" fill="#9c9c9c"/><circle cx="194.84" cy="198.56" r="0.35" fill="#9c9c9c"/><circle cx="190.27" cy="201.73" r="0.35" fill="#9c9c9c"/><circle cx="197.67" cy="175.01" r="0.35" fill="#9c9c9c"/><circle cx="193.77" cy="195.43" r="0.35" fill="#9c9c9c"/><circle cx="192.15" cy="180.73" r="0.35" fill="#9c9c9c"/><circle cx="207.51" cy="228.41" r="0.35" fill="#9c9c9c"/><circle cx="197.11" cy="191.64" r="0.35" fill="#9c9c9c"/><circle cx="206.40" cy="195.97" r="0.35" fill="#9c9c9c"/><circle cx="193.32" cy="224.82" r="0.35" fill="#9c9c9c"/><circle cx="189.98" cy="187.22" r="0.35" fill="#9c9c9c"/><circle cx="193.49" cy="183.58" r="0.35" fill="#9c9c9c"/><circle cx="197.73" cy="213.50" r="0.35" fill="#9c9c9c"/><circle cx="213.76" cy="212.38" r="0.35" fill="#9c9c9c"/><circle cx="200.86" cy="177.28" r="0.35" fill="#9c9c9c"/><circle cx="199.83" cy="181.74" r="0.35" fill="#9c9c9c"/><circle cx="199.44" cy="220.84" r="0.35" fill="#9c9c9c"/><circle cx="202.96" cy="196.26" r="0.35" fill="#9c9c9c"/><circle cx="191.93" cy="200.53" r="0.35" fill="#9c9c9c"/><circle cx="201.72" cy="181.97" r="0.35" fill="#9c9c9c"/><circle cx="195.05" cy="218.74" r="0.35" fill="#9c9c9c"/><circle cx="185.86" cy="193.71" r="0.35" fill="#9c9c9c"/><circle cx="190.94" cy="224.65" r="0.35" fill="#9c9c9c"/><circle cx="207.34" cy="211.85" r="0.35" fill="#9c9c9c"/><circle cx="205.19" cy="207.33" r="0.35" fill="#9c9c9c"/><circle cx="203.16" cy="173.99" r="0.35" fill="#9c9c9c"/><circle cx="203.49" cy="213.85" r="0.35" fill="#9c9c9c"/><circle cx="187.62" cy="214.88" r="0.35" fill="#9c9c9c"/><circle cx="206.49" cy="175.48" r="0.35" fill="#9c9c9c"/><circle cx="194.97" cy="194.27" r="0.35" fill="#9c9c9c"/><circle cx="194.40" cy="209.44" r="0.35" fill="#9c9c9c"/><circle cx="187.69" cy="196.81" r="0.35" fill="#9c9c9c"/><circle cx="203.06" cy="216.38" r="0.35" fill="#9c9c9c"/><circle cx="201.09" cy="195.52" r="0.35" fill="#9c9c9c"/><circle cx="205.84" cy="172.28" r="0.35" fill="#9c9c9c"/><circle cx="210.64" cy="194.76" r="0.35" fill="#9c9c9c"/><circle cx="188.04" cy="193.02" r="0.35" fill="#9c9c9c"/><circle cx="189.12" cy="177.31" r="0.35" fill="#9c9c9c"/><circle cx="196.84" cy="184.76" r="0.35" fill="#9c9c9c"/><circle cx="208.15" cy="183.74" r="0.35" fill="#9c9c9c"/><circle cx="188.68" cy="184.67" r="0.35" fill="#9c9c9c"/><circle cx="215.64" cy="201.42" r="0.35" fill="#9c9c9c"/><circle cx="194.14" cy="181.79" r="0.35" fill="#9c9c9c"/><circle cx="188.92" cy="197.77" r="0.35" fill="#9c9c9c"/><circle cx="204.87" cy="222.97" r="0.35" fill="#9c9c9c"/><circle cx="212.37" cy="206.26" r="0.35" fill="#9c9c9c"/><circle cx="193.51" cy="183.96" r="0.35" fill="#9c9c9c"/><circle cx="185.04" cy="188.29" r="0.35" fill="#9c9c9c"/><circle cx="205.45" cy="193.56" r="0.35" fill="#9c9c9c"/><circle cx="204.08" cy="176.47" r="0.35" fill="#9c9c9c"/><circle cx="210.33" cy="207.04" r="0.35" fill="#9c9c9c"/><circle cx="201.00" cy="209.93" r="0.35" fill="#9c9c9c"/><circle cx="184.36" cy="193.49" r="0.35" fill="#9c9c9c"/><circle cx="193.36" cy="227.93" r="0.35" fill="#9c9c9c"/><circle cx="198.35" cy="189.90" r="0.35" fill="#9c9c9c"/><circle cx="208.91" cy="181.59" r="0.35" fill="#9c9c9c"/><circle cx="213.59" cy="188.93" r="0.35" fill="#9c9c9c"/><circle cx="199.85" cy="182.16" r="0.35" fill="#9c9c9c"/><circle cx="206.31" cy="171.87" r="0.35" fill="#9c9c9c"/><circle cx="207.85" cy="184.72" r="0.35" fill="#9c9c9c"/><circle cx="201.02" cy="178.60" r="0.35" fill="#9c9c9c"/><circle cx="203.26" cy="205.21" r="0.35" fill="#9c9c9c"/><circle cx="207.31" cy="207.78" r="0.35" fill="#9c9c9c"/><circle cx="206.96" cy="220.23" r="0.35" fill="#9c9c9c"/><circle cx="196.54" cy="178.58" r="0.35" fill="#9c9c9c"/><circle cx="188.23" cy="213.20" r="0.35" fill="#9c9c9c"/><circle cx="196.54" cy="221.66" r="0.35" fill="#9c9c9c"/><circle cx="200.99" cy="180.62" r="0.35" fill="#9c9c9c"/><circle cx="207.41" cy="228.68" r="0.35" fill="#9c9c9c"/><circle cx="198.52" cy="181.85" r="0.35" fill="#9c9c9c"/><circle cx="191.85" cy="217.98" r="0.35" fill="#9c9c9c"/><circle cx="193.79" cy="192.32" r="0.35" fill="#9c9c9c"/><circle cx="208.38" cy="201.25" r="0.35" fill="#9c9c9c"/><circle cx="201.85" cy="189.07" r="0.35" fill="#9c9c9c"/><circle cx="193.12" cy="204.54" r="0.35" fill="#9c9c9c"/><circle cx="202.30" cy="213.87" r="0.35" fill="#9c9c9c"/><circle cx="194.68" cy="208.51" r="0.35" fill="#9c9c9c"/><circle cx="206.14" cy="202.84" r="0.35" fill="#9c9c9c"/><circle cx="206.44" cy="220.64" r="0.35" fill="#9c9c9c"/><circle cx="202.90" cy="202.77" r="0.35" fill="#9c9c9c"/><circle cx="190.07" cy="207.60" r="0.35" fill="#9c9c9c"/><circle cx="199.38" cy="194.03" r="0.35" fill="#9c9c9c"/><circle cx="191.58" cy="212.58" r="0.35" fill="#9c9c9c"/><circle cx="217.21" cy="206.28" r="0.35" fill="#9c9c9c"/><circle cx="201.53" cy="210.70" r="0.35" fill="#9c9c9c"/><circle cx="193.59" cy="203.08" r="0.35" fill="#9c9c9c"/><circle cx="193.21" cy="187.82" r="0.35" fill="#9c9c9c"/><circle cx="203.30" cy="206.15" r="0.35" fill="#9c9c9c"/><circle cx="199.24" cy="184.28" r="0.35" fill="#9c9c9c"/><circle cx="203.27" cy="179.65" r="0.35" fill="#9c9c9c"/><circle cx="209.13" cy="193.78" r="0.35" fill="#9c9c9c"/><circle cx="200.50" cy="217.60" r="0.35" fill="#9c9c9c"/><circle cx="205.91" cy="177.54" r="0.35" fill="#9c9c9c"/><circle cx="197.54" cy="209.16" r="0.35" fill="#9c9c9c"/><circle cx="193.50" cy="172.12" r="0.35" fill="#9c9c9c"/><circle cx="199.63" cy="199.93" r="0.35" fill="#9c9c9c"/><circle cx="205.60" cy="202.83" r="0.35" fill="#9c9c9c"/><circle cx="202.08" cy="206.40" r="0.35" fill="#9c9c9c"/><circle cx="213.66" cy="209.66" r="0.35" fill="#9c9c9c"/><circle cx="206.76" cy="192.54" r="0.35" fill="#9c9c9c"/><circle cx="212.25" cy="197.36" r="0.35" fill="#9c9c9c"/><circle cx="205.96" cy="171.89" r="0.35" fill="#9c9c9c"/><circle cx="203.47" cy="198.81" r="0.35" fill="#9c9c9c"/><circle cx="195.97" cy="224.62" r="0.35" fill="#9c9c9c"/><circle cx="205.33" cy="197.86" r="0.35" fill="#9c9c9c"/><circle cx="196.21" cy="229.59" r="0.35" fill="#9c9c9c"/><circle cx="208.59" cy="214.26" r="0.35" fill="#9c9c9c"/><circle cx="193.32" cy="223.93" r="0.35" fill="#9c9c9c"/><circle cx="206.99" cy="195.16" r="0.35" fill="#9c9c9c"/><circle cx="199.55" cy="173.47" r="0.35" fill="#9c9c9c"/><circle cx="207.08" cy="180.43" r="0.35" fill="#9c9c9c"/><circle cx="209.71" cy="192.03" r="0.35" fill="#9c9c9c"/><circle cx="193.40" cy="208.87" r="0.35" fill="#9c9c9c"/><circle cx="202.70" cy="179.06" r="0.35" fill="#9c9c9c"/><circle cx="199.63" cy="214.17" r="0.35" fill="#9c9c9c"/><circle cx="198.04" cy="176.37" r="0.35" fill="#9c9c9c"/><circle cx="197.87" cy="181.58" r="0.35" fill="#9c9c9c"/><circle cx="193.76" cy="202.02" r="0.35" fill="#9c9c9c"/><circle cx="199.86" cy="196.27" r="0.35" fill="#9c9c9c"/><circle cx="185.80" cy="206.79" r="0.35" fill="#9c9c9c"/><circle cx="198.13" cy="191.99" r="0.35" fill="#9c9c9c"/><circle cx="201.78" cy="230.48" r="0.35" fill="#9c9c9c"/><circle cx="190.38" cy="177.46" r="0.35" fill="#9c9c9c"/><circle cx="208.54" cy="185.47" r="0.35" fill="#9c9c9c"/><circle cx="212.28" cy="184.37" r="0.35" fill="#9c9c9c"/><circle cx="195.23" cy="217.94" r="0.35" fill="#9c9c9c"/><circle cx="210.30" cy="209.90" r="0.35" fill="#9c9c9c"/><circle cx="205.87" cy="198.13" r="0.35" fill="#9c9c9c"/><circle cx="195.30" cy="196.52" r="0.35" fill="#9c9c9c"/><circle cx="212.64" cy="213.63" r="0.35" fill="#9c9c9c"/><circle cx="200.72" cy="208.10" r="0.35" fill="#9c9c9c"/><circle cx="208.45" cy="222.17" r="0.35" fill="#9c9c9c"/><circle cx="198.90" cy="199.22" r="0.35" fill="#9c9c9c"/><circle cx="202.92" cy="224.72" r="0.35" fill="#9c9c9c"/><circle cx="187.16" cy="214.77" r="0.35" fill="#9c9c9c"/><circle cx="188.36" cy="183.57" r="0.35" fill="#9c9c9c"/><circle cx="193.20" cy="197.93" r="0.35" fill="#9c9c9c"/><circle cx="202.63" cy="209.14" r="0.35" fill="#9c9c9c"/><circle cx="203.14" cy="191.39" r="0.35" fill="#9c9c9c"/><circle cx="217.27" cy="205.75" r="0.35" fill="#9c9c9c"/><circle cx="205.61" cy="229.90" r="0.35" fill="#9c9c9c"/><circle cx="210.60" cy="212.27" r="0.35" fill="#9c9c9c"/><circle cx="203.18" cy="229.90" r="0.35" fill="#9c9c9c"/><circle cx="190.16" cy="183.89" r="0.35" fill="#9c9c9c"/><circle cx="201.65" cy="171.01" r="0.35" fill="#9c9c9c"/><circle cx="192.90" cy="221.59" r="0.35" fill="#9c9c9c"/><circle cx="195.09" cy="204.60" r="0.35" fill="#9c9c9c"/><circle cx="207.30" cy="179.66" r="0.35" fill="#9c9c9c"/><circle cx="203.60" cy="187.58" r="0.35" fill="#9c9c9c"/><circle cx="189.10" cy="195.65" r="0.35" fill="#9c9c9c"/><circle cx="199.84" cy="192.14" r="0.35" fill="#9c9c9c"/><circle cx="193.68" cy="219.45" r="0.35" fill="#9c9c9c"/><circle cx="212.05" cy="211.40" r="0.35" fill="#9c9c9c"/><circle cx="199.47" cy="180.15" r="0.35" fill="#9c9c9c"/><circle cx="192.50" cy="180.87" r="0.35" fill="#9c9c9c"/><circle cx="202.78" cy="219.58" r="0.35" fill="#9c9c9c"/><circle cx="210.48" cy="200.50" r="0.35" fill="#9c9c9c"/><circle cx="195.96" cy="204.93" r="0.35" fill="#9c9c9c"/><circle cx="201.91" cy="213.83" r="0.35" fill="#9c9c9c"/><circle cx="213.84" cy="189.46" r="0.35" fill="#9c9c9c"/><circle cx="212.59" cy="178.34" r="0.35" fill="#9c9c9c"/><circle cx="187.82" cy="180.87" r="0.35" fill="#9c9c9c"/><circle cx="189.62" cy="196.36" r="0.35" fill="#9c9c9c"/><circle cx="216.03" cy="191.19" r="0.35" fill="#9c9c9c"/><circle cx="211.91" cy="194.02" r="0.35" fill="#9c9c9c"/><circle cx="202.12" cy="180.68" r="0.35" fill="#9c9c9c"/><circle cx="217.05" cy="200.48" r="0.35" fill="#9c9c9c"/><circle cx="202.63" cy="210.14" r="0.35" fill="#9c9c9c"/><circle cx="198.88" cy="183.79" r="0.35" fill="#9c9c9c"/><circle cx="186.81" cy="197.86" r="0.35" fill="#9c9c9c"/><circle cx="214.91" cy="208.01" r="0.35" fill="#9c9c9c"/><circle cx="198.66" cy="221.89" r="0.35" fill="#9c9c9c"/><circle cx="192.16" cy="223.96" r="0.35" fill="#9c9c9c"/><circle cx="200.31" cy="183.74" r="0.35" fill="#9c9c9c"/><circle cx="208.02" cy="211.65" r="0.35" fill="#9c9c9c"/><circle cx="196.43" cy="205.75" r="0.35" fill="#9c9c9c"/><circle cx="209.11" cy="224.08" r="0.35" fill="#9c9c9c"/><circle cx="195.28" cy="170.71" r="0.35" fill="#9c9c9c"/><circle cx="216.51" cy="197.16" r="0.35" fill="#9c9c9c"/><circle cx="195.68" cy="210.28" r="0.35" fill="#9c9c9c"/><circle cx="196.05" cy="221.28" r="0.35" fill="#9c9c9c"/><circle cx="187.97" cy="197.15" r="0.35" fill="#9c9c9c"/><circle cx="190.37" cy="223.94" r="0.35" fill="#9c9c9c"/><circle cx="197.93" cy="222.38" r="0.35" fill="#9c9c9c"/><circle cx="212.24" cy="182.12" r="0.35" fill="#9c9c9c"/><circle cx="198.01" cy="216.16" r="0.35" fill="#9c9c9c"/><circle cx="201.10" cy="197.97" r="0.35" fill="#9c9c9c"/><circle cx="209.02" cy="218.25" r="0.35" fill="#9c9c9c"/><circle cx="193.65" cy="198.07" r="0.35" fill="#9c9c9c"/><circle cx="207.90" cy="205.52" r="0.35" fill="#9c9c9c"/><circle cx="201.98" cy="179.20" r="0.35" fill="#9c9c9c"/><circle cx="215.66" cy="197.30" r="0.35" fill="#9c9c9c"/><circle cx="203.71" cy="200.21" r="0.35" fill="#9c9c9c"/><circle cx="201.29" cy="204.39" r="0.35" fill="#9c9c9c"/><circle cx="191.36" cy="208.72" r="0.35" fill="#9c9c9c"/><circle cx="212.59" cy="208.53" r="0.35" fill="#9c9c9c"/><circle cx="208.50" cy="210.99" r="0.35" fill="#9c9c9c"/><circle cx="200.77" cy="229.83" r="0.35" fill="#9c9c9c"/><circle cx="192.83" cy="209.08" r="0.35" fill="#9c9c9c"/><circle cx="211.38" cy="206.76" r="0.35" fill="#9c9c9c"/><circle cx="190.63" cy="182.00" r="0.35" fill="#9c9c9c"/><circle cx="213.73" cy="185.88" r="0.35" fill="#9c9c9c"/><circle cx="200.60" cy="212.86" r="0.35" fill="#9c9c9c"/><circle cx="201.30" cy="172.43" r="0.35" fill="#9c9c9c"/><circle cx="184.80" cy="199.37" r="0.35" fill="#9c9c9c"/><circle cx="191.86" cy="195.55" r="0.35" fill="#9c9c9c"/><circle cx="201.60" cy="204.67" r="0.35" fill="#9c9c9c"/><circle cx="190.33" cy="177.13" r="0.35" fill="#9c9c9c"/><circle cx="210.30" cy="188.76" r="0.35" fill="#9c9c9c"/><circle cx="192.08" cy="174.24" r="0.35" fill="#9c9c9c"/><circle cx="205.74" cy="178.00" r="0.35" fill="#9c9c9c"/><circle cx="189.83" cy="212.87" r="0.35" fill="#9c9c9c"/><circle cx="204.02" cy="213.10" r="0.35" fill="#9c9c9c"/><circle cx="193.56" cy="171.66" r="0.35" fill="#9c9c9c"/><circle cx="189.96" cy="195.00" r="0.35" fill="#9c9c9c"/><circle cx="193.55" cy="218.42" r="0.35" fill="#9c9c9c"/><circle cx="204.29" cy="180.53" r="0.35" fill="#9c9c9c"/><circle cx="207.08" cy="197.79" r="0.35" fill="#9c9c9c"/><circle cx="195.56" cy="222.36" r="0.35" fill="#9c9c9c"/><circle cx="186.96" cy="216.62" r="0.35" fill="#9c9c9c"/><circle cx="208.30" cy="173.55" r="0.35" fill="#9c9c9c"/><circle cx="198.21" cy="197.34" r="0.35" fill="#9c9c9c"/><circle cx="189.09" cy="190.23" r="0.35" fill="#9c9c9c"/><circle cx="191.40" cy="202.33" r="0.35" fill="#9c9c9c"/><circle cx="196.34" cy="171.25" r="0.35" fill="#9c9c9c"/><circle cx="211.78" cy="216.80" r="0.35" fill="#9c9c9c"/><circle cx="191.95" cy="217.71" r="0.35" fill="#9c9c9c"/><circle cx="213.90" cy="181.77" r="0.35" fill="#9c9c9c"/><circle cx="195.78" cy="189.84" r="0.35" fill="#9c9c9c"/><circle cx="206.95" cy="194.45" r="0.35" fill="#9c9c9c"/><circle cx="188.84" cy="220.61" r="0.35" fill="#9c9c9c"/><circle cx="196.87" cy="216.33" r="0.35" fill="#9c9c9c"/><circle cx="216.44" cy="191.32" r="0.35" fill="#9c9c9c"/><circle cx="196.06" cy="219.39" r="0.35" fill="#9c9c9c"/><circle cx="199.25" cy="212.44" r="0.35" fill="#9c9c9c"/><circle cx="207.76" cy="208.37" r="0.35" fill="#9c9c9c"/><circle cx="202.00" cy="209.64" r="0.35" fill="#9c9c9c"/><circle cx="185.83" cy="196.44" r="0.35" fill="#9c9c9c"/><circle cx="207.72" cy="179.26" r="0.35" fill="#9c9c9c"/><circle cx="201.02" cy="198.85" r="0.35" fill="#9c9c9c"/><circle cx="208.59" cy="208.03" r="0.35" fill="#9c9c9c"/><circle cx="191.62" cy="202.79" r="0.35" fill="#9c9c9c"/><circle cx="196.91" cy="199.00" r="0.35" fill="#9c9c9c"/><circle cx="210.62" cy="225.12" r="0.35" fill="#9c9c9c"/><circle cx="208.02" cy="229.85" r="0.35" fill="#9c9c9c"/><circle cx="194.17" cy="177.95" r="0.35" fill="#9c9c9c"/><circle cx="203.03" cy="206.86" r="0.35" fill="#9c9c9c"/><circle cx="200.93" cy="187.51" r="0.35" fill="#9c9c9c"/><circle cx="206.30" cy="228.13" r="0.35" fill="#9c9c9c"/><circle cx="203.19" cy="195.96" r="0.35" fill="#9c9c9c"/><circle cx="212.73" cy="195.25" r="0.35" fill="#9c9c9c"/><circle cx="196.33" cy="208.10" r="0.35" fill="#9c9c9c"/><circle cx="187.30" cy="221.42" r="0.35" fill="#9c9c9c"/><circle cx="199.30" cy="212.45" r="0.35" fill="#9c9c9c"/><circle cx="204.26" cy="210.07" r="0.35" fill="#9c9c9c"/><circle cx="190.60" cy="225.64" r="0.35" fill="#9c9c9c"/><circle cx="207.19" cy="207.56" r="0.35" fill="#9c9c9c"/><circle cx="216.49" cy="189.03" r="0.35" fill="#9c9c9c"/><circle cx="208.99" cy="198.99" r="0.35" fill="#9c9c9c"/><circle cx="190.24" cy="225.89" r="0.35" fill="#9c9c9c"/><circle cx="186.10" cy="203.53" r="0.35" fill="#9c9c9c"/><circle cx="199.52" cy="205.34" r="0.35" fill="#9c9c9c"/><circle cx="192.08" cy="224.00" r="0.35" fill="#9c9c9c"/><circle cx="203.09" cy="177.20" r="0.35" fill="#9c9c9c"/><circle cx="188.17" cy="206.29" r="0.35" fill="#9c9c9c"/><circle cx="188.71" cy="209.35" r="0.35" fill="#9c9c9c"/><circle cx="204.35" cy="188.50" r="0.35" fill="#9c9c9c"/><circle cx="186.68" cy="183.63" r="0.35" fill="#9c9c9c"/><circle cx="204.73" cy="189.88" r="0.35" fill="#9c9c9c"/><circle cx="215.90" cy="194.28" r="0.35" fill="#9c9c9c"/><circle cx="204.89" cy="215.44" r="0.35" fill="#9c9c9c"/><circle cx="201.67" cy="208.09" r="0.35" fill="#9c9c9c"/><circle cx="211.43" cy="198.21" r="0.35" fill="#9c9c9c"/><circle cx="204.57" cy="193.18" r="0.35" fill="#9c9c9c"/><circle cx="216.53" cy="203.62" r="0.35" fill="#9c9c9c"/><circle cx="205.19" cy="170.15" r="0.35" fill="#9c9c9c"/><circle cx="195.57" cy="179.56" r="0.35" fill="#9c9c9c"/><circle cx="201.03" cy="191.25" r="0.35" fill="#9c9c9c"/><circle cx="189.41" cy="195.63" r="0.35" fill="#9c9c9c"/><circle cx="208.60" cy="220.84" r="0.35" fill="#9c9c9c"/><circle cx="195.05" cy="221.53" r="0.35" fill="#9c9c9c"/><circle cx="193.68" cy="213.96" r="0.35" fill="#9c9c9c"/><circle cx="192.08" cy="220.39" r="0.35" fill="#9c9c9c"/><circle cx="217.07" cy="197.19" r="0.35" fill="#9c9c9c"/><circle cx="210.71" cy="178.59" r="0.35" fill="#9c9c9c"/><circle cx="199.75" cy="212.21" r="0.35" fill="#9c9c9c"/><circle cx="185.74" cy="200.86" r="0.35" fill="#9c9c9c"/><circle cx="193.00" cy="222.75" r="0.35" fill="#9c9c9c"/><circle cx="189.09" cy="207.49" r="0.35" fill="#9c9c9c"/><circle cx="184.68" cy="195.09" r="0.35" fill="#9c9c9c"/><circle cx="213.00" cy="199.02" r="0.35" fill="#9c9c9c"/><circle cx="187.85" cy="210.09" r="0.35" fill="#9c9c9c"/><circle cx="210.70" cy="209.86" r="0.35" fill="#9c9c9c"/><circle cx="209.24" cy="177.77" r="0.35" fill="#9c9c9c"/><circle cx="215.35" cy="211.84" r="0.35" fill="#9c9c9c"/><circle cx="187.75" cy="222.24" r="0.35" fill="#9c9c9c"/><circle cx="195.15" cy="212.09" r="0.35" fill="#9c9c9c"/><circle cx="185.04" cy="191.88" r="0.35" fill="#9c9c9c"/><circle cx="185.92" cy="213.58" r="0.35" fill="#9c9c9c"/><circle cx="198.01" cy="182.21" r="0.35" fill="#9c9c9c"/><circle cx="196.67" cy="222.74" r="0.35" fill="#9c9c9c"/><circle cx="192.02" cy="212.65" r="0.35" fill="#9c9c9c"/><circle cx="191.16" cy="176.44" r="0.35" fill="#9c9c9c"/><circle cx="194.81" cy="194.77" r="0.35" fill="#9c9c9c"/><circle cx="202.47" cy="220.26" r="0.35" fill="#9c9c9c"/><circle cx="195.66" cy="193.06" r="0.35" fill="#9c9c9c"/><circle cx="209.01" cy="209.94" r="0.35" fill="#9c9c9c"/><circle cx="199.89" cy="206.41" r="0.35" fill="#9c9c9c"/><circle cx="184.43" cy="193.54" r="0.35" fill="#9c9c9c"/><circle cx="186.03" cy="195.08" r="0.35" fill="#9c9c9c"/><circle cx="207.97" cy="175.03" r="0.35" fill="#9c9c9c"/><circle cx="210.29" cy="189.88" r="0.35" fill="#9c9c9c"/><circle cx="198.03" cy="190.80" r="0.35" fill="#9c9c9c"/><circle cx="208.23" cy="187.44" r="0.35" fill="#9c9c9c"/><circle cx="184.42" cy="205.69" r="0.35" fill="#9c9c9c"/><circle cx="198.78" cy="214.66" r="0.35" fill="#9c9c9c"/><circle cx="206.45" cy="178.70" r="0.35" fill="#9c9c9c"/><circle cx="202.99" cy="203.74" r="0.35" fill="#9c9c9c"/><circle cx="199.61" cy="203.24" r="0.35" fill="#9c9c9c"/><circle cx="204.16" cy="189.01" r="0.35" fill="#9c9c9c"/><circle cx="198.87" cy="220.85" r="0.35" fill="#9c9c9c"/><circle cx="189.19" cy="199.44" r="0.35" fill="#9c9c9c"/><circle cx="190.82" cy="182.08" r="0.35" fill="#9c9c9c"/><circle cx="195.55" cy="204.91" r="0.35" fill="#9c9c9c"/><circle cx="214.72" cy="197.50" r="0.35" fill="#9c9c9c"/><circle cx="210.42" cy="211.72" r="0.35" fill="#9c9c9c"/><circle cx="200.89" cy="168.94" r="0.35" fill="#9c9c9c"/><circle cx="202.04" cy="202.26" r="0.35" fill="#9c9c9c"/><circle cx="189.38" cy="203.63" r="0.35" fill="#9c9c9c"/><circle cx="212.86" cy="182.97" r="0.35" fill="#9c9c9c"/><circle cx="195.03" cy="219.16" r="0.35" fill="#9c9c9c"/><circle cx="186.43" cy="185.94" r="0.35" fill="#9c9c9c"/><circle cx="203.71" cy="220.24" r="0.35" fill="#9c9c9c"/><circle cx="212.23" cy="214.61" r="0.35" fill="#9c9c9c"/><circle cx="216.95" cy="206.17" r="0.35" fill="#9c9c9c"/><circle cx="187.58" cy="197.38" r="0.35" fill="#9c9c9c"/><circle cx="207.65" cy="208.92" r="0.35" fill="#9c9c9c"/><circle cx="184.83" cy="206.81" r="0.35" fill="#9c9c9c"/><circle cx="191.57" cy="196.83" r="0.35" fill="#9c9c9c"/><circle cx="214.44" cy="198.06" r="0.35" fill="#9c9c9c"/><circle cx="192.86" cy="198.43" r="0.35" fill="#9c9c9c"/><circle cx="195.58" cy="230.13" r="0.35" fill="#9c9c9c"/><circle cx="208.94" cy="218.40" r="0.35" fill="#9c9c9c"/><circle cx="193.01" cy="187.87" r="0.35" fill="#9c9c9c"/><circle cx="202.43" cy="170.50" r="0.35" fill="#9c9c9c"/><circle cx="209.77" cy="179.42" r="0.35" fill="#9c9c9c"/><circle cx="201.71" cy="208.55" r="0.35" fill="#9c9c9c"/><circle cx="191.71" cy="208.37" r="0.35" fill="#9c9c9c"/><circle cx="206.06" cy="229.21" r="0.35" fill="#9c9c9c"/><circle cx="203.81" cy="229.55" r="0.35" fill="#9c9c9c"/><circle cx="206.02" cy="196.75" r="0.35" fill="#9c9c9c"/><circle cx="209.81" cy="190.51" r="0.35" fill="#9c9c9c"/><circle cx="202.26" cy="214.51" r="0.35" fill="#9c9c9c"/><circle cx="212.34" cy="206.34" r="0.35" fill="#9c9c9c"/><circle cx="188.61" cy="220.74" r="0.35" fill="#9c9c9c"/><circle cx="202.55" cy="194.33" r="0.35" fill="#9c9c9c"/><circle cx="191.74" cy="212.67" r="0.35" fill="#9c9c9c"/><circle cx="204.29" cy="215.48" r="0.35" fill="#9c9c9c"/><circle cx="199.30" cy="227.73" r="0.35" fill="#9c9c9c"/><circle cx="197.41" cy="210.06" r="0.35" fill="#9c9c9c"/><circle cx="202.62" cy="222.04" r="0.35" fill="#9c9c9c"/><circle cx="192.65" cy="194.68" r="0.35" fill="#9c9c9c"/><circle cx="198.01" cy="186.80" r="0.35" fill="#9c9c9c"/><circle cx="194.07" cy="178.91" r="0.35" fill="#9c9c9c"/><circle cx="207.22" cy="225.92" r="0.35" fill="#9c9c9c"/><circle cx="190.53" cy="215.59" r="0.35" fill="#9c9c9c"/><circle cx="189.33" cy="186.29" r="0.35" fill="#9c9c9c"/><circle cx="196.68" cy="203.70" r="0.35" fill="#9c9c9c"/><circle cx="204.16" cy="171.94" r="0.35" fill="#9c9c9c"/><circle cx="187.40" cy="202.51" r="0.35" fill="#9c9c9c"/><circle cx="197.30" cy="187.05" r="0.35" fill="#9c9c9c"/><circle cx="207.55" cy="171.85" r="0.35" fill="#9c9c9c"/><circle cx="190.74" cy="227.46" r="0.35" fill="#9c9c9c"/><circle cx="193.25" cy="202.44" r="0.35" fill="#9c9c9c"/><circle cx="198.43" cy="182.66" r="0.35" fill="#9c9c9c"/><circle cx="199.04" cy="176.56" r="0.35" fill="#9c9c9c"/><circle cx="210.28" cy="215.65" r="0.35" fill="#9c9c9c"/><circle cx="207.56" cy="183.06" r="0.35" fill="#9c9c9c"/><circle cx="184.96" cy="193.68" r="0.35" fill="#9c9c9c"/><circle cx="189.07" cy="208.43" r="0.35" fill="#9c9c9c"/><circle cx="186.91" cy="186.47" r="0.35" fill="#9c9c9c"/><circle cx="202.03" cy="210.42" r="0.35" fill="#9c9c9c"/><circle cx="201.40" cy="177.12" r="0.35" fill="#9c9c9c"/><circle cx="195.20" cy="229.76" r="0.35" fill="#9c9c9c"/><circle cx="210.00" cy="185.29" r="0.35" fill="#9c9c9c"/><circle cx="216.23" cy="198.86" r="0.35" fill="#9c9c9c"/><circle cx="200.39" cy="183.62" r="0.35" fill="#9c9c9c"/><circle cx="214.68" cy="202.80" r="0.35" fill="#9c9c9c"/><circle cx="199.55" cy="182.02" r="0.35" fill="#9c9c9c"/><circle cx="187.62" cy="204.23" r="0.35" fill="#9c9c9c"/><circle cx="200.52" cy="227.89" r="0.35" fill="#9c9c9c"/><circle cx="190.60" cy="193.35" r="0.35" fill="#9c9c9c"/><circle cx="210.41" cy="216.23" r="0.35" fill="#9c9c9c"/><circle cx="194.27" cy="225.83" r="0.35" fill="#9c9c9c"/><circle cx="205.57" cy="218.87" r="0.35" fill="#9c9c9c"/><circle cx="204.15" cy="220.41" r="0.35" fill="#9c9c9c"/><circle cx="195.50" cy="196.14" r="0.35" fill="#9c9c9c"/><circle cx="211.78" cy="208.55" r="0.35" fill="#9c9c9c"/><circle cx="204.18" cy="222.83" r="0.35" fill="#9c9c9c"/><circle cx="203.22" cy="209.87" r="0.35" fill="#9c9c9c"/><circle cx="184.38" cy="193.77" r="0.35" fill="#9c9c9c"/><circle cx="208.90" cy="184.00" r="0.35" fill="#9c9c9c"/><circle cx="196.96" cy="205.98" r="0.35" fill="#9c9c9c"/><circle cx="198.91" cy="218.80" r="0.35" fill="#9c9c9c"/><circle cx="206.01" cy="197.04" r="0.35" fill="#9c9c9c"/><circle cx="211.78" cy="193.86" r="0.35" fill="#9c9c9c"/><circle cx="192.41" cy="207.64" r="0.35" fill="#9c9c9c"/><circle cx="207.74" cy="197.76" r="0.35" fill="#9c9c9c"/><circle cx="189.39" cy="191.03" r="0.35" fill="#9c9c9c"/><circle cx="203.04" cy="215.45" r="0.35" fill="#9c9c9c"/><circle cx="215.78" cy="198.38" r="0.35" fill="#9c9c9c"/><circle cx="198.80" cy="170.57" r="0.35" fill="#9c9c9c"/><circle cx="212.28" cy="216.68" r="0.35" fill="#9c9c9c"/><circle cx="200.53" cy="185.71" r="0.35" fill="#9c9c9c"/><circle cx="184.09" cy="209.47" r="0.35" fill="#9c9c9c"/><circle cx="193.51" cy="225.91" r="0.35" fill="#9c9c9c"/><circle cx="207.65" cy="223.66" r="0.35" fill="#9c9c9c"/><circle cx="199.00" cy="223.80" r="0.35" fill="#9c9c9c"/>
<g transform="translate(173.40,209.80) rotate(0)"><ellipse cx="0" cy="0" rx="8.60" ry="13.40" fill="#ffffff"/></g>
<g transform="translate(173.40,209.80) rotate(0)"><ellipse cx="0" cy="0" rx="7.90" ry="12.70" fill="#d6d6d6"/><ellipse cx="0" cy="0" rx="6.32" ry="10.16" fill="#cccccc"/><ellipse cx="0" cy="0" rx="5.06" ry="8.13" fill="#c3c3c3"/><ellipse cx="0" cy="0" rx="4.04" ry="6.50" fill="#bababa"/></g>
<path d="M201,176.6 C207,176.6 211.5,182 211.8,192 C212.2,205 212,218 207,223.5 C202,227.5 193,227 190,221 C187.5,215 188.5,204 193,195 C195,186 196,176.6 201,176.6 Z" fill="#fff"/>
<path d="M201,177.6 C206.5,177.6 210.8,182.5 211,192 C211.3,205 211.2,217.5 206.5,222.5 C202,226.3 193.5,226 190.8,220.5 C188.5,215 189.5,204 194,195.5 C196,186.5 197,177.6 201,177.6 Z" fill="#d3d3d3"/>
<g transform="translate(202.50,202.00) rotate(0)"><ellipse cx="0" cy="0" rx="7.50" ry="21.00" fill="#c4c4c4"/><ellipse cx="0" cy="0" rx="6.15" ry="17.22" fill="#b2b2b2"/><ellipse cx="0" cy="0" rx="5.04" ry="14.12" fill="#a0a0a0"/></g>
<g transform="translate(203.60,199.00) rotate(0)"><ellipse cx="0" cy="0" rx="1.60" ry="12.50" fill="#ffffff"/></g>
<line x1="156.25" y1="195.50" x2="227.50" y2="195.50" stroke="#555" stroke-width="0.9" />
<line x1="186.50" y1="158.25" x2="186.50" y2="231.25" stroke="#555" stroke-width="0.9" />
<rect x="156.25" y="158.25" width="71.25" height="73.00" fill="none" stroke="#999" stroke-width="0.6" />
<line x1="154.65" y1="164.09" x2="156.25" y2="164.09" stroke="#8a8a8a" stroke-width="0.6"/><line x1="154.65" y1="172.85" x2="156.25" y2="172.85" stroke="#8a8a8a" stroke-width="0.6"/><line x1="154.65" y1="182.34" x2="156.25" y2="182.34" stroke="#8a8a8a" stroke-width="0.6"/><line x1="154.65" y1="191.83" x2="156.25" y2="191.83" stroke="#8a8a8a" stroke-width="0.6"/><line x1="154.65" y1="202.05" x2="156.25" y2="202.05" stroke="#8a8a8a" stroke-width="0.6"/><line x1="154.65" y1="210.81" x2="156.25" y2="210.81" stroke="#8a8a8a" stroke-width="0.6"/><line x1="154.65" y1="220.30" x2="156.25" y2="220.30" stroke="#8a8a8a" stroke-width="0.6"/><line x1="154.65" y1="227.60" x2="156.25" y2="227.60" stroke="#8a8a8a" stroke-width="0.6"/><line x1="160.53" y1="231.25" x2="160.53" y2="232.85" stroke="#8a8a8a" stroke-width="0.6"/><line x1="166.94" y1="231.25" x2="166.94" y2="232.85" stroke="#8a8a8a" stroke-width="0.6"/><line x1="176.20" y1="231.25" x2="176.20" y2="232.85" stroke="#8a8a8a" stroke-width="0.6"/><line x1="186.18" y1="231.25" x2="186.18" y2="232.85" stroke="#8a8a8a" stroke-width="0.6"/><line x1="196.15" y1="231.25" x2="196.15" y2="232.85" stroke="#8a8a8a" stroke-width="0.6"/><line x1="206.12" y1="231.25" x2="206.12" y2="232.85" stroke="#8a8a8a" stroke-width="0.6"/><line x1="216.10" y1="231.25" x2="216.10" y2="232.85" stroke="#8a8a8a" stroke-width="0.6"/><line x1="223.94" y1="231.25" x2="223.94" y2="232.85" stroke="#8a8a8a" stroke-width="0.6"/><rect x="154.65" y="213.00" width="1.4" height="1.6" fill="#222"/><rect x="166.94" y="231.55" width="2.6" height="1.3" fill="#222"/>
<text x="158.80" y="168.85" font-size="9.3" text-anchor="start" fill="#231f20" stroke="#231f20" stroke-width="0.2" textLength="12.02" lengthAdjust="spacingAndGlyphs" >0.2</text>
<text x="222.50" y="168.85" font-size="9.3" text-anchor="end" fill="#231f20" stroke="#231f20" stroke-width="0.2" textLength="9.62" lengthAdjust="spacingAndGlyphs" >28</text>
<text x="158.80" y="228.85" font-size="9.3" text-anchor="start" fill="#231f20" stroke="#231f20" stroke-width="0.2" textLength="9.62" lengthAdjust="spacingAndGlyphs" >25</text>
<text x="222.50" y="228.85" font-size="9.3" text-anchor="end" fill="#231f20" stroke="#231f20" stroke-width="0.2" textLength="9.62" lengthAdjust="spacingAndGlyphs" >47</text>
<circle cx="247.39" cy="218.62" r="0.35" fill="#d4a8b4"/><circle cx="242.69" cy="216.95" r="0.35" fill="#d4a8b4"/><circle cx="254.99" cy="217.32" r="0.35" fill="#d4a8b4"/><circle cx="257.74" cy="202.87" r="0.35" fill="#d4a8b4"/><circle cx="247.62" cy="202.29" r="0.35" fill="#d4a8b4"/><circle cx="239.93" cy="209.51" r="0.35" fill="#d4a8b4"/><circle cx="249.10" cy="217.96" r="0.35" fill="#d4a8b4"/><circle cx="252.90" cy="195.65" r="0.35" fill="#d4a8b4"/><circle cx="248.89" cy="203.35" r="0.35" fill="#d4a8b4"/><circle cx="242.99" cy="227.25" r="0.35" fill="#d4a8b4"/><circle cx="245.55" cy="192.99" r="0.35" fill="#d4a8b4"/><circle cx="249.96" cy="207.83" r="0.35" fill="#d4a8b4"/><circle cx="238.10" cy="201.53" r="0.35" fill="#d4a8b4"/><circle cx="241.19" cy="211.67" r="0.35" fill="#d4a8b4"/><circle cx="242.93" cy="213.02" r="0.35" fill="#d4a8b4"/><circle cx="258.77" cy="204.31" r="0.35" fill="#d4a8b4"/><circle cx="239.77" cy="208.66" r="0.35" fill="#d4a8b4"/><circle cx="255.78" cy="203.52" r="0.35" fill="#d4a8b4"/><circle cx="256.39" cy="199.15" r="0.35" fill="#d4a8b4"/><circle cx="238.13" cy="211.30" r="0.35" fill="#d4a8b4"/><circle cx="239.63" cy="204.09" r="0.35" fill="#d4a8b4"/><circle cx="251.03" cy="221.70" r="0.35" fill="#d4a8b4"/><circle cx="248.10" cy="208.02" r="0.35" fill="#d4a8b4"/><circle cx="257.46" cy="216.70" r="0.35" fill="#d4a8b4"/><circle cx="245.08" cy="226.86" r="0.35" fill="#d4a8b4"/><circle cx="239.05" cy="214.18" r="0.35" fill="#d4a8b4"/><circle cx="253.10" cy="211.84" r="0.35" fill="#d4a8b4"/><circle cx="241.70" cy="216.85" r="0.35" fill="#d4a8b4"/><circle cx="242.12" cy="203.94" r="0.35" fill="#d4a8b4"/><circle cx="239.64" cy="226.08" r="0.35" fill="#d4a8b4"/><circle cx="242.57" cy="225.97" r="0.35" fill="#d4a8b4"/><circle cx="250.62" cy="208.28" r="0.35" fill="#d4a8b4"/><circle cx="253.11" cy="215.74" r="0.35" fill="#d4a8b4"/><circle cx="248.03" cy="195.83" r="0.35" fill="#d4a8b4"/><circle cx="247.63" cy="223.87" r="0.35" fill="#d4a8b4"/><circle cx="251.11" cy="224.60" r="0.35" fill="#d4a8b4"/><circle cx="258.11" cy="216.59" r="0.35" fill="#d4a8b4"/><circle cx="257.70" cy="199.70" r="0.35" fill="#d4a8b4"/><circle cx="245.72" cy="191.81" r="0.35" fill="#d4a8b4"/><circle cx="254.37" cy="213.27" r="0.35" fill="#d4a8b4"/><circle cx="258.87" cy="208.14" r="0.35" fill="#d4a8b4"/><circle cx="235.66" cy="222.73" r="0.35" fill="#d4a8b4"/><circle cx="237.93" cy="199.14" r="0.35" fill="#d4a8b4"/><circle cx="245.37" cy="220.72" r="0.35" fill="#d4a8b4"/><circle cx="242.21" cy="214.63" r="0.35" fill="#d4a8b4"/><circle cx="237.04" cy="225.74" r="0.35" fill="#d4a8b4"/><circle cx="246.35" cy="213.75" r="0.35" fill="#d4a8b4"/><circle cx="252.46" cy="214.37" r="0.35" fill="#d4a8b4"/><circle cx="248.75" cy="199.81" r="0.35" fill="#d4a8b4"/><circle cx="245.92" cy="218.24" r="0.35" fill="#d4a8b4"/><circle cx="255.93" cy="210.46" r="0.35" fill="#d4a8b4"/><circle cx="247.88" cy="216.87" r="0.35" fill="#d4a8b4"/><circle cx="252.33" cy="214.89" r="0.35" fill="#d4a8b4"/><circle cx="244.63" cy="204.82" r="0.35" fill="#d4a8b4"/><circle cx="256.35" cy="215.68" r="0.35" fill="#d4a8b4"/><circle cx="254.22" cy="222.46" r="0.35" fill="#d4a8b4"/><circle cx="248.31" cy="198.90" r="0.35" fill="#d4a8b4"/><circle cx="256.51" cy="210.89" r="0.35" fill="#d4a8b4"/><circle cx="247.45" cy="225.25" r="0.35" fill="#d4a8b4"/><circle cx="255.72" cy="215.08" r="0.35" fill="#d4a8b4"/><circle cx="251.75" cy="199.24" r="0.35" fill="#d4a8b4"/><circle cx="253.82" cy="214.06" r="0.35" fill="#d4a8b4"/><circle cx="247.30" cy="221.43" r="0.35" fill="#d4a8b4"/><circle cx="248.97" cy="215.64" r="0.35" fill="#d4a8b4"/><circle cx="256.33" cy="205.20" r="0.35" fill="#d4a8b4"/><circle cx="255.74" cy="211.22" r="0.35" fill="#d4a8b4"/><circle cx="256.07" cy="202.24" r="0.35" fill="#d4a8b4"/><circle cx="250.02" cy="194.72" r="0.35" fill="#d4a8b4"/><circle cx="242.80" cy="212.23" r="0.35" fill="#d4a8b4"/><circle cx="257.72" cy="200.28" r="0.35" fill="#d4a8b4"/><circle cx="241.21" cy="226.35" r="0.35" fill="#d4a8b4"/><circle cx="250.39" cy="196.20" r="0.35" fill="#d4a8b4"/><circle cx="250.97" cy="198.19" r="0.35" fill="#d4a8b4"/><circle cx="240.56" cy="197.84" r="0.35" fill="#d4a8b4"/><circle cx="250.62" cy="210.47" r="0.35" fill="#d4a8b4"/><circle cx="260.31" cy="208.33" r="0.35" fill="#d4a8b4"/><circle cx="245.57" cy="208.19" r="0.35" fill="#d4a8b4"/><circle cx="250.97" cy="207.61" r="0.35" fill="#d4a8b4"/><circle cx="258.05" cy="208.68" r="0.35" fill="#d4a8b4"/><circle cx="252.24" cy="215.14" r="0.35" fill="#d4a8b4"/><circle cx="240.12" cy="200.27" r="0.35" fill="#d4a8b4"/><circle cx="246.71" cy="192.07" r="0.35" fill="#d4a8b4"/><circle cx="247.16" cy="213.16" r="0.35" fill="#d4a8b4"/><circle cx="248.40" cy="210.89" r="0.35" fill="#d4a8b4"/><circle cx="250.35" cy="207.06" r="0.35" fill="#d4a8b4"/><circle cx="251.49" cy="194.96" r="0.35" fill="#d4a8b4"/><circle cx="254.37" cy="201.34" r="0.35" fill="#d4a8b4"/><circle cx="251.48" cy="205.58" r="0.35" fill="#d4a8b4"/><circle cx="243.24" cy="201.52" r="0.35" fill="#d4a8b4"/><circle cx="256.44" cy="200.55" r="0.35" fill="#d4a8b4"/><circle cx="237.15" cy="214.67" r="0.35" fill="#d4a8b4"/><circle cx="249.52" cy="212.63" r="0.35" fill="#d4a8b4"/><circle cx="239.00" cy="203.90" r="0.35" fill="#d4a8b4"/><circle cx="254.10" cy="199.87" r="0.35" fill="#d4a8b4"/><circle cx="252.35" cy="221.54" r="0.35" fill="#d4a8b4"/><circle cx="248.10" cy="197.12" r="0.35" fill="#d4a8b4"/><circle cx="259.60" cy="213.26" r="0.35" fill="#d4a8b4"/><circle cx="248.89" cy="206.66" r="0.35" fill="#d4a8b4"/><circle cx="238.79" cy="208.56" r="0.35" fill="#d4a8b4"/><circle cx="248.79" cy="200.77" r="0.35" fill="#d4a8b4"/><circle cx="247.98" cy="226.36" r="0.35" fill="#d4a8b4"/><circle cx="251.16" cy="210.66" r="0.35" fill="#d4a8b4"/><circle cx="255.18" cy="222.74" r="0.35" fill="#d4a8b4"/><circle cx="254.42" cy="202.22" r="0.35" fill="#d4a8b4"/><circle cx="235.30" cy="219.73" r="0.35" fill="#d4a8b4"/><circle cx="247.59" cy="206.72" r="0.35" fill="#d4a8b4"/><circle cx="251.49" cy="205.78" r="0.35" fill="#d4a8b4"/><circle cx="242.93" cy="229.92" r="0.35" fill="#d4a8b4"/><circle cx="236.10" cy="220.66" r="0.35" fill="#d4a8b4"/><circle cx="253.40" cy="228.81" r="0.35" fill="#d4a8b4"/><circle cx="249.38" cy="219.16" r="0.35" fill="#d4a8b4"/><circle cx="238.98" cy="212.43" r="0.35" fill="#d4a8b4"/><circle cx="234.33" cy="206.88" r="0.35" fill="#d4a8b4"/><circle cx="246.75" cy="210.50" r="0.35" fill="#d4a8b4"/><circle cx="243.14" cy="226.14" r="0.35" fill="#d4a8b4"/><circle cx="235.37" cy="213.48" r="0.35" fill="#d4a8b4"/><circle cx="243.22" cy="212.56" r="0.35" fill="#d4a8b4"/><circle cx="239.49" cy="226.20" r="0.35" fill="#d4a8b4"/><circle cx="257.88" cy="210.54" r="0.35" fill="#d4a8b4"/><circle cx="242.21" cy="197.52" r="0.35" fill="#d4a8b4"/><circle cx="241.90" cy="230.23" r="0.35" fill="#d4a8b4"/><circle cx="234.11" cy="216.06" r="0.35" fill="#d4a8b4"/><circle cx="242.60" cy="230.11" r="0.35" fill="#d4a8b4"/><circle cx="249.48" cy="196.23" r="0.35" fill="#d4a8b4"/><circle cx="242.16" cy="214.76" r="0.35" fill="#d4a8b4"/><circle cx="248.09" cy="199.65" r="0.35" fill="#d4a8b4"/><circle cx="244.36" cy="205.57" r="0.35" fill="#d4a8b4"/><circle cx="251.55" cy="215.89" r="0.35" fill="#d4a8b4"/><circle cx="249.11" cy="203.87" r="0.35" fill="#d4a8b4"/><circle cx="253.87" cy="204.70" r="0.35" fill="#d4a8b4"/><circle cx="239.74" cy="206.37" r="0.35" fill="#d4a8b4"/><circle cx="243.94" cy="207.64" r="0.35" fill="#d4a8b4"/><circle cx="236.07" cy="223.51" r="0.35" fill="#d4a8b4"/><circle cx="251.77" cy="227.14" r="0.35" fill="#d4a8b4"/><circle cx="243.49" cy="222.06" r="0.35" fill="#d4a8b4"/><circle cx="248.94" cy="212.43" r="0.35" fill="#d4a8b4"/><circle cx="258.94" cy="206.10" r="0.35" fill="#d4a8b4"/><circle cx="250.91" cy="194.35" r="0.35" fill="#d4a8b4"/><circle cx="252.26" cy="209.62" r="0.35" fill="#d4a8b4"/><circle cx="238.62" cy="204.65" r="0.35" fill="#d4a8b4"/><circle cx="235.05" cy="203.03" r="0.35" fill="#d4a8b4"/><circle cx="247.87" cy="191.67" r="0.35" fill="#d4a8b4"/><circle cx="255.27" cy="223.19" r="0.35" fill="#d4a8b4"/><circle cx="241.62" cy="196.06" r="0.35" fill="#d4a8b4"/><circle cx="237.71" cy="199.27" r="0.35" fill="#d4a8b4"/><circle cx="238.12" cy="220.91" r="0.35" fill="#d4a8b4"/><circle cx="256.23" cy="201.52" r="0.35" fill="#d4a8b4"/><circle cx="244.57" cy="221.25" r="0.35" fill="#d4a8b4"/><circle cx="241.94" cy="226.53" r="0.35" fill="#d4a8b4"/><circle cx="260.08" cy="211.56" r="0.35" fill="#d4a8b4"/><circle cx="239.93" cy="219.69" r="0.35" fill="#d4a8b4"/><circle cx="250.02" cy="201.95" r="0.35" fill="#d4a8b4"/><circle cx="245.65" cy="213.25" r="0.35" fill="#d4a8b4"/><circle cx="251.09" cy="225.92" r="0.35" fill="#d4a8b4"/><circle cx="243.23" cy="196.79" r="0.35" fill="#d4a8b4"/><circle cx="238.14" cy="227.20" r="0.35" fill="#d4a8b4"/><circle cx="243.10" cy="206.28" r="0.35" fill="#d4a8b4"/><circle cx="259.40" cy="220.43" r="0.35" fill="#d4a8b4"/><circle cx="260.20" cy="210.48" r="0.35" fill="#d4a8b4"/><circle cx="240.87" cy="204.98" r="0.35" fill="#d4a8b4"/><circle cx="252.89" cy="217.71" r="0.35" fill="#d4a8b4"/>
<circle cx="264.78" cy="180.72" r="0.35" fill="#d4a8b4"/><circle cx="278.07" cy="171.21" r="0.35" fill="#d4a8b4"/><circle cx="273.09" cy="170.44" r="0.35" fill="#d4a8b4"/><circle cx="284.03" cy="201.56" r="0.35" fill="#d4a8b4"/><circle cx="285.29" cy="189.93" r="0.35" fill="#d4a8b4"/><circle cx="278.09" cy="192.36" r="0.35" fill="#d4a8b4"/><circle cx="266.72" cy="200.76" r="0.35" fill="#d4a8b4"/><circle cx="263.10" cy="192.09" r="0.35" fill="#d4a8b4"/><circle cx="280.94" cy="199.10" r="0.35" fill="#d4a8b4"/><circle cx="271.36" cy="225.05" r="0.35" fill="#d4a8b4"/><circle cx="274.59" cy="186.57" r="0.35" fill="#d4a8b4"/><circle cx="275.63" cy="187.76" r="0.35" fill="#d4a8b4"/><circle cx="270.06" cy="191.11" r="0.35" fill="#d4a8b4"/><circle cx="287.95" cy="198.30" r="0.35" fill="#d4a8b4"/><circle cx="275.75" cy="210.92" r="0.35" fill="#d4a8b4"/><circle cx="287.88" cy="195.04" r="0.35" fill="#d4a8b4"/><circle cx="270.42" cy="225.34" r="0.35" fill="#d4a8b4"/><circle cx="262.06" cy="192.23" r="0.35" fill="#d4a8b4"/><circle cx="278.07" cy="224.77" r="0.35" fill="#d4a8b4"/><circle cx="268.64" cy="171.68" r="0.35" fill="#d4a8b4"/><circle cx="280.42" cy="188.27" r="0.35" fill="#d4a8b4"/><circle cx="270.08" cy="206.97" r="0.35" fill="#d4a8b4"/><circle cx="276.33" cy="203.82" r="0.35" fill="#d4a8b4"/><circle cx="270.32" cy="219.17" r="0.35" fill="#d4a8b4"/><circle cx="286.31" cy="198.50" r="0.35" fill="#d4a8b4"/><circle cx="269.63" cy="211.63" r="0.35" fill="#d4a8b4"/><circle cx="278.33" cy="179.88" r="0.35" fill="#d4a8b4"/><circle cx="269.83" cy="216.26" r="0.35" fill="#d4a8b4"/><circle cx="273.00" cy="191.41" r="0.35" fill="#d4a8b4"/><circle cx="276.23" cy="197.32" r="0.35" fill="#d4a8b4"/><circle cx="273.98" cy="171.57" r="0.35" fill="#d4a8b4"/><circle cx="287.18" cy="200.89" r="0.35" fill="#d4a8b4"/><circle cx="266.42" cy="214.29" r="0.35" fill="#d4a8b4"/><circle cx="277.23" cy="198.35" r="0.35" fill="#d4a8b4"/><circle cx="280.14" cy="223.49" r="0.35" fill="#d4a8b4"/><circle cx="278.29" cy="221.60" r="0.35" fill="#d4a8b4"/><circle cx="287.12" cy="186.06" r="0.35" fill="#d4a8b4"/><circle cx="269.02" cy="212.20" r="0.35" fill="#d4a8b4"/><circle cx="260.99" cy="194.09" r="0.35" fill="#d4a8b4"/><circle cx="284.07" cy="213.62" r="0.35" fill="#d4a8b4"/><circle cx="278.05" cy="172.51" r="0.35" fill="#d4a8b4"/><circle cx="288.16" cy="204.38" r="0.35" fill="#d4a8b4"/><circle cx="281.33" cy="207.10" r="0.35" fill="#d4a8b4"/><circle cx="263.01" cy="180.33" r="0.35" fill="#d4a8b4"/><circle cx="266.30" cy="221.34" r="0.35" fill="#d4a8b4"/><circle cx="265.98" cy="193.50" r="0.35" fill="#d4a8b4"/><circle cx="271.43" cy="209.06" r="0.35" fill="#d4a8b4"/><circle cx="279.09" cy="203.23" r="0.35" fill="#d4a8b4"/><circle cx="268.43" cy="171.37" r="0.35" fill="#d4a8b4"/><circle cx="275.74" cy="203.38" r="0.35" fill="#d4a8b4"/><circle cx="284.88" cy="196.25" r="0.35" fill="#d4a8b4"/><circle cx="267.95" cy="205.81" r="0.35" fill="#d4a8b4"/><circle cx="262.71" cy="183.45" r="0.35" fill="#d4a8b4"/><circle cx="264.67" cy="203.13" r="0.35" fill="#d4a8b4"/><circle cx="287.44" cy="207.44" r="0.35" fill="#d4a8b4"/><circle cx="284.28" cy="202.12" r="0.35" fill="#d4a8b4"/><circle cx="276.85" cy="189.17" r="0.35" fill="#d4a8b4"/><circle cx="272.33" cy="170.17" r="0.35" fill="#d4a8b4"/><circle cx="264.94" cy="179.35" r="0.35" fill="#d4a8b4"/><circle cx="281.72" cy="209.77" r="0.35" fill="#d4a8b4"/><circle cx="282.13" cy="219.30" r="0.35" fill="#d4a8b4"/><circle cx="271.20" cy="216.59" r="0.35" fill="#d4a8b4"/><circle cx="287.80" cy="197.88" r="0.35" fill="#d4a8b4"/><circle cx="283.95" cy="195.09" r="0.35" fill="#d4a8b4"/><circle cx="261.27" cy="199.83" r="0.35" fill="#d4a8b4"/><circle cx="266.00" cy="200.04" r="0.35" fill="#d4a8b4"/><circle cx="269.29" cy="204.25" r="0.35" fill="#d4a8b4"/><circle cx="263.36" cy="217.96" r="0.35" fill="#d4a8b4"/><circle cx="285.46" cy="192.31" r="0.35" fill="#d4a8b4"/><circle cx="265.30" cy="198.07" r="0.35" fill="#d4a8b4"/><circle cx="280.61" cy="205.97" r="0.35" fill="#d4a8b4"/><circle cx="276.78" cy="171.76" r="0.35" fill="#d4a8b4"/><circle cx="265.47" cy="217.50" r="0.35" fill="#d4a8b4"/><circle cx="275.94" cy="174.33" r="0.35" fill="#d4a8b4"/><circle cx="267.30" cy="176.51" r="0.35" fill="#d4a8b4"/><circle cx="265.80" cy="216.26" r="0.35" fill="#d4a8b4"/><circle cx="271.99" cy="217.66" r="0.35" fill="#d4a8b4"/><circle cx="275.54" cy="174.29" r="0.35" fill="#d4a8b4"/><circle cx="270.05" cy="224.90" r="0.35" fill="#d4a8b4"/><circle cx="267.29" cy="180.30" r="0.35" fill="#d4a8b4"/><circle cx="285.03" cy="199.55" r="0.35" fill="#d4a8b4"/><circle cx="273.95" cy="221.56" r="0.35" fill="#d4a8b4"/><circle cx="260.85" cy="204.00" r="0.35" fill="#d4a8b4"/><circle cx="265.98" cy="177.47" r="0.35" fill="#d4a8b4"/><circle cx="267.08" cy="216.84" r="0.35" fill="#d4a8b4"/><circle cx="272.96" cy="171.91" r="0.35" fill="#d4a8b4"/><circle cx="265.93" cy="219.35" r="0.35" fill="#d4a8b4"/><circle cx="282.49" cy="180.60" r="0.35" fill="#d4a8b4"/><circle cx="288.46" cy="193.80" r="0.35" fill="#d4a8b4"/><circle cx="263.19" cy="195.62" r="0.35" fill="#d4a8b4"/><circle cx="280.87" cy="220.73" r="0.35" fill="#d4a8b4"/><circle cx="283.54" cy="190.39" r="0.35" fill="#d4a8b4"/><circle cx="269.44" cy="175.24" r="0.35" fill="#d4a8b4"/><circle cx="273.24" cy="186.17" r="0.35" fill="#d4a8b4"/><circle cx="276.16" cy="176.49" r="0.35" fill="#d4a8b4"/><circle cx="269.09" cy="181.91" r="0.35" fill="#d4a8b4"/><circle cx="264.62" cy="180.25" r="0.35" fill="#d4a8b4"/><circle cx="265.72" cy="179.51" r="0.35" fill="#d4a8b4"/><circle cx="279.89" cy="199.99" r="0.35" fill="#d4a8b4"/><circle cx="262.76" cy="206.39" r="0.35" fill="#d4a8b4"/><circle cx="276.39" cy="221.36" r="0.35" fill="#d4a8b4"/><circle cx="271.92" cy="193.69" r="0.35" fill="#d4a8b4"/><circle cx="267.00" cy="200.43" r="0.35" fill="#d4a8b4"/><circle cx="279.15" cy="201.51" r="0.35" fill="#d4a8b4"/><circle cx="271.38" cy="209.17" r="0.35" fill="#d4a8b4"/><circle cx="274.98" cy="203.09" r="0.35" fill="#d4a8b4"/><circle cx="265.00" cy="201.83" r="0.35" fill="#d4a8b4"/><circle cx="265.23" cy="183.73" r="0.35" fill="#d4a8b4"/><circle cx="275.08" cy="225.24" r="0.35" fill="#d4a8b4"/><circle cx="283.52" cy="198.08" r="0.35" fill="#d4a8b4"/><circle cx="272.29" cy="216.11" r="0.35" fill="#d4a8b4"/><circle cx="284.22" cy="215.34" r="0.35" fill="#d4a8b4"/><circle cx="272.01" cy="201.89" r="0.35" fill="#d4a8b4"/><circle cx="270.52" cy="192.21" r="0.35" fill="#d4a8b4"/><circle cx="265.64" cy="193.30" r="0.35" fill="#d4a8b4"/><circle cx="261.22" cy="184.30" r="0.35" fill="#d4a8b4"/><circle cx="278.04" cy="181.09" r="0.35" fill="#d4a8b4"/><circle cx="278.62" cy="176.74" r="0.35" fill="#d4a8b4"/><circle cx="270.16" cy="205.93" r="0.35" fill="#d4a8b4"/><circle cx="264.75" cy="185.76" r="0.35" fill="#d4a8b4"/><circle cx="288.18" cy="190.49" r="0.35" fill="#d4a8b4"/><circle cx="267.13" cy="187.26" r="0.35" fill="#d4a8b4"/><circle cx="274.36" cy="197.45" r="0.35" fill="#d4a8b4"/><circle cx="282.76" cy="211.57" r="0.35" fill="#d4a8b4"/><circle cx="269.80" cy="190.86" r="0.35" fill="#d4a8b4"/><circle cx="264.30" cy="178.28" r="0.35" fill="#d4a8b4"/><circle cx="267.02" cy="211.29" r="0.35" fill="#d4a8b4"/><circle cx="275.20" cy="213.35" r="0.35" fill="#d4a8b4"/><circle cx="283.08" cy="194.95" r="0.35" fill="#d4a8b4"/><circle cx="287.87" cy="191.36" r="0.35" fill="#d4a8b4"/><circle cx="267.72" cy="189.70" r="0.35" fill="#d4a8b4"/><circle cx="284.46" cy="195.59" r="0.35" fill="#d4a8b4"/><circle cx="266.72" cy="206.22" r="0.35" fill="#d4a8b4"/><circle cx="284.43" cy="196.01" r="0.35" fill="#d4a8b4"/><circle cx="271.66" cy="217.34" r="0.35" fill="#d4a8b4"/><circle cx="282.50" cy="213.71" r="0.35" fill="#d4a8b4"/><circle cx="266.41" cy="203.41" r="0.35" fill="#d4a8b4"/><circle cx="276.69" cy="172.37" r="0.35" fill="#d4a8b4"/><circle cx="284.87" cy="199.74" r="0.35" fill="#d4a8b4"/><circle cx="271.85" cy="225.49" r="0.35" fill="#d4a8b4"/><circle cx="275.48" cy="184.04" r="0.35" fill="#d4a8b4"/><circle cx="273.35" cy="209.24" r="0.35" fill="#d4a8b4"/><circle cx="282.08" cy="196.91" r="0.35" fill="#d4a8b4"/><circle cx="265.98" cy="185.56" r="0.35" fill="#d4a8b4"/><circle cx="266.87" cy="180.36" r="0.35" fill="#d4a8b4"/><circle cx="273.79" cy="188.12" r="0.35" fill="#d4a8b4"/><circle cx="274.54" cy="182.27" r="0.35" fill="#d4a8b4"/><circle cx="265.52" cy="194.52" r="0.35" fill="#d4a8b4"/><circle cx="270.84" cy="218.03" r="0.35" fill="#d4a8b4"/><circle cx="265.24" cy="201.84" r="0.35" fill="#d4a8b4"/><circle cx="273.64" cy="175.91" r="0.35" fill="#d4a8b4"/><circle cx="281.32" cy="201.28" r="0.35" fill="#d4a8b4"/><circle cx="260.24" cy="205.58" r="0.35" fill="#d4a8b4"/><circle cx="282.42" cy="184.25" r="0.35" fill="#d4a8b4"/><circle cx="287.13" cy="200.32" r="0.35" fill="#d4a8b4"/><circle cx="263.81" cy="207.57" r="0.35" fill="#d4a8b4"/><circle cx="270.91" cy="175.92" r="0.35" fill="#d4a8b4"/><circle cx="259.82" cy="201.12" r="0.35" fill="#d4a8b4"/><circle cx="266.96" cy="209.86" r="0.35" fill="#d4a8b4"/><circle cx="277.96" cy="187.78" r="0.35" fill="#d4a8b4"/><circle cx="270.08" cy="223.09" r="0.35" fill="#d4a8b4"/><circle cx="286.51" cy="208.60" r="0.35" fill="#d4a8b4"/><circle cx="270.65" cy="180.22" r="0.35" fill="#d4a8b4"/><circle cx="271.01" cy="222.74" r="0.35" fill="#d4a8b4"/><circle cx="278.78" cy="192.22" r="0.35" fill="#d4a8b4"/><circle cx="263.02" cy="200.88" r="0.35" fill="#d4a8b4"/><circle cx="265.40" cy="198.24" r="0.35" fill="#d4a8b4"/><circle cx="280.52" cy="216.09" r="0.35" fill="#d4a8b4"/><circle cx="275.48" cy="191.04" r="0.35" fill="#d4a8b4"/><circle cx="275.69" cy="223.82" r="0.35" fill="#d4a8b4"/><circle cx="277.16" cy="175.38" r="0.35" fill="#d4a8b4"/><circle cx="286.54" cy="201.91" r="0.35" fill="#d4a8b4"/><circle cx="288.80" cy="194.16" r="0.35" fill="#d4a8b4"/><circle cx="273.00" cy="191.94" r="0.35" fill="#d4a8b4"/><circle cx="277.83" cy="186.73" r="0.35" fill="#d4a8b4"/><circle cx="265.11" cy="175.75" r="0.35" fill="#d4a8b4"/><circle cx="272.72" cy="187.74" r="0.35" fill="#d4a8b4"/><circle cx="270.22" cy="224.57" r="0.35" fill="#d4a8b4"/><circle cx="280.88" cy="216.15" r="0.35" fill="#d4a8b4"/><circle cx="268.85" cy="203.94" r="0.35" fill="#d4a8b4"/><circle cx="271.76" cy="193.83" r="0.35" fill="#d4a8b4"/><circle cx="281.16" cy="209.13" r="0.35" fill="#d4a8b4"/><circle cx="277.23" cy="201.02" r="0.35" fill="#d4a8b4"/><circle cx="262.53" cy="186.72" r="0.35" fill="#d4a8b4"/><circle cx="277.96" cy="190.71" r="0.35" fill="#d4a8b4"/><circle cx="266.38" cy="204.71" r="0.35" fill="#d4a8b4"/><circle cx="265.55" cy="186.15" r="0.35" fill="#d4a8b4"/><circle cx="282.47" cy="191.38" r="0.35" fill="#d4a8b4"/><circle cx="285.73" cy="206.24" r="0.35" fill="#d4a8b4"/><circle cx="280.92" cy="216.57" r="0.35" fill="#d4a8b4"/><circle cx="259.74" cy="196.99" r="0.35" fill="#d4a8b4"/><circle cx="262.91" cy="190.34" r="0.35" fill="#d4a8b4"/><circle cx="273.08" cy="219.28" r="0.35" fill="#d4a8b4"/><circle cx="273.66" cy="222.90" r="0.35" fill="#d4a8b4"/><circle cx="268.56" cy="196.88" r="0.35" fill="#d4a8b4"/><circle cx="274.89" cy="215.43" r="0.35" fill="#d4a8b4"/><circle cx="273.47" cy="185.87" r="0.35" fill="#d4a8b4"/><circle cx="271.23" cy="175.35" r="0.35" fill="#d4a8b4"/><circle cx="284.51" cy="209.99" r="0.35" fill="#d4a8b4"/><circle cx="278.44" cy="203.51" r="0.35" fill="#d4a8b4"/><circle cx="267.93" cy="190.18" r="0.35" fill="#d4a8b4"/><circle cx="281.42" cy="184.08" r="0.35" fill="#d4a8b4"/><circle cx="268.07" cy="220.99" r="0.35" fill="#d4a8b4"/><circle cx="286.51" cy="202.51" r="0.35" fill="#d4a8b4"/><circle cx="279.48" cy="201.69" r="0.35" fill="#d4a8b4"/><circle cx="285.78" cy="190.96" r="0.35" fill="#d4a8b4"/><circle cx="274.86" cy="207.66" r="0.35" fill="#d4a8b4"/><circle cx="286.01" cy="194.00" r="0.35" fill="#d4a8b4"/><circle cx="276.40" cy="188.29" r="0.35" fill="#d4a8b4"/><circle cx="267.70" cy="185.91" r="0.35" fill="#d4a8b4"/><circle cx="274.81" cy="214.52" r="0.35" fill="#d4a8b4"/><circle cx="267.33" cy="186.87" r="0.35" fill="#d4a8b4"/><circle cx="269.84" cy="204.98" r="0.35" fill="#d4a8b4"/><circle cx="279.87" cy="177.80" r="0.35" fill="#d4a8b4"/><circle cx="277.30" cy="180.17" r="0.35" fill="#d4a8b4"/><circle cx="280.41" cy="181.39" r="0.35" fill="#d4a8b4"/><circle cx="264.54" cy="186.03" r="0.35" fill="#d4a8b4"/><circle cx="273.42" cy="179.95" r="0.35" fill="#d4a8b4"/><circle cx="276.23" cy="201.00" r="0.35" fill="#d4a8b4"/><circle cx="274.87" cy="203.46" r="0.35" fill="#d4a8b4"/>
<path d="M237.7,196.8 C241,194.5 251,194.5 254.3,196.1 C257.5,198.5 257.8,202 257.8,206.5 L257.8,218.9 C257.8,223 257.5,226 255.7,227.3 C253,229 248,229 246,228 C243.5,226.5 242.5,222 241.9,218.9 C240,216 237.5,213.5 237,210.6 C236.3,207 235.8,199.5 237.7,196.8 Z" transform="translate(247,211) scale(1) translate(-247,-211)" fill="#f4e7eb" stroke="#d1a0ae" stroke-width="0.5" vector-effect="non-scaling-stroke"/><path d="M237.7,196.8 C241,194.5 251,194.5 254.3,196.1 C257.5,198.5 257.8,202 257.8,206.5 L257.8,218.9 C257.8,223 257.5,226 255.7,227.3 C253,229 248,229 246,228 C243.5,226.5 242.5,222 241.9,218.9 C240,216 237.5,213.5 237,210.6 C236.3,207 235.8,199.5 237.7,196.8 Z" transform="translate(247,211) scale(0.88) translate(-247,-211)" fill="#f0dfe4" stroke="#d1a0ae" stroke-width="0.5" vector-effect="non-scaling-stroke"/><path d="M237.7,196.8 C241,194.5 251,194.5 254.3,196.1 C257.5,198.5 257.8,202 257.8,206.5 L257.8,218.9 C257.8,223 257.5,226 255.7,227.3 C253,229 248,229 246,228 C243.5,226.5 242.5,222 241.9,218.9 C240,216 237.5,213.5 237,210.6 C236.3,207 235.8,199.5 237.7,196.8 Z" transform="translate(247,211) scale(0.76) translate(-247,-211)" fill="none" stroke="#d1a0ae" stroke-width="0.5" vector-effect="non-scaling-stroke"/><path d="M237.7,196.8 C241,194.5 251,194.5 254.3,196.1 C257.5,198.5 257.8,202 257.8,206.5 L257.8,218.9 C257.8,223 257.5,226 255.7,227.3 C253,229 248,229 246,228 C243.5,226.5 242.5,222 241.9,218.9 C240,216 237.5,213.5 237,210.6 C236.3,207 235.8,199.5 237.7,196.8 Z" transform="translate(247,211) scale(0.64) translate(-247,-211)" fill="none" stroke="#d1a0ae" stroke-width="0.5" vector-effect="non-scaling-stroke"/><path d="M237.7,196.8 C241,194.5 251,194.5 254.3,196.1 C257.5,198.5 257.8,202 257.8,206.5 L257.8,218.9 C257.8,223 257.5,226 255.7,227.3 C253,229 248,229 246,228 C243.5,226.5 242.5,222 241.9,218.9 C240,216 237.5,213.5 237,210.6 C236.3,207 235.8,199.5 237.7,196.8 Z" transform="translate(247,211) scale(0.52) translate(-247,-211)" fill="none" stroke="#d1a0ae" stroke-width="0.5" vector-effect="non-scaling-stroke"/><path d="M237.7,196.8 C241,194.5 251,194.5 254.3,196.1 C257.5,198.5 257.8,202 257.8,206.5 L257.8,218.9 C257.8,223 257.5,226 255.7,227.3 C253,229 248,229 246,228 C243.5,226.5 242.5,222 241.9,218.9 C240,216 237.5,213.5 237,210.6 C236.3,207 235.8,199.5 237.7,196.8 Z" transform="translate(247,211) scale(0.4) translate(-247,-211)" fill="none" stroke="#d1a0ae" stroke-width="0.5" vector-effect="non-scaling-stroke"/><path d="M237.7,196.8 C241,194.5 251,194.5 254.3,196.1 C257.5,198.5 257.8,202 257.8,206.5 L257.8,218.9 C257.8,223 257.5,226 255.7,227.3 C253,229 248,229 246,228 C243.5,226.5 242.5,222 241.9,218.9 C240,216 237.5,213.5 237,210.6 C236.3,207 235.8,199.5 237.7,196.8 Z" transform="translate(247,211) scale(0.3) translate(-247,-211)" fill="none" stroke="#d1a0ae" stroke-width="0.5" vector-effect="non-scaling-stroke"/>
<g transform="translate(246.80,210.00) rotate(0)"><ellipse cx="0" cy="0" rx="1.20" ry="4.50" fill="#ffffff"/></g>
<path d="M284.8,173.2 C287,176 285.5,182 283.4,185.7 C281,189 278.5,190 277.9,192.6 C279.5,197 280,200 279.2,203.7 C279,209 279.5,214 277.9,216.2 C275.5,219.5 271.5,220 269.6,219 C265.5,218 263,216 262.6,213.4 C262,209 263,204 264,199.6 C265,193 266.5,188 268.2,181.5 C271,177 279,172 284.8,173.2 Z" fill="#fcf5f7" stroke="#cf9aab" stroke-width="0.45" />
<g transform="translate(278.00,185.70) rotate(25)"><ellipse cx="0" cy="0" rx="5.00" ry="8.50" fill="none" stroke="#c48a9c" stroke-width="0.45"/><ellipse cx="0" cy="0" rx="3.60" ry="6.12" fill="none" stroke="#c48a9c" stroke-width="0.45"/><ellipse cx="0" cy="0" rx="2.59" ry="4.41" fill="none" stroke="#c48a9c" stroke-width="0.45"/><ellipse cx="0" cy="0" rx="1.87" ry="3.17" fill="none" stroke="#c48a9c" stroke-width="0.45"/></g>
<g transform="translate(272.30,209.50) rotate(5)"><ellipse cx="0" cy="0" rx="4.00" ry="8.00" fill="none" stroke="#c48a9c" stroke-width="0.45"/><ellipse cx="0" cy="0" rx="2.80" ry="5.60" fill="none" stroke="#c48a9c" stroke-width="0.45"/><ellipse cx="0" cy="0" rx="1.96" ry="3.92" fill="none" stroke="#c48a9c" stroke-width="0.45"/></g>
<line x1="229.20" y1="195.50" x2="299.80" y2="195.50" stroke="#555" stroke-width="0.9" />
<line x1="259.50" y1="159.20" x2="259.50" y2="231.00" stroke="#555" stroke-width="0.9" />
<rect x="229.20" y="159.20" width="70.60" height="71.80" fill="none" stroke="#999" stroke-width="0.6" />
<line x1="227.60" y1="164.94" x2="229.20" y2="164.94" stroke="#8a8a8a" stroke-width="0.6"/><line x1="227.60" y1="173.56" x2="229.20" y2="173.56" stroke="#8a8a8a" stroke-width="0.6"/><line x1="227.60" y1="182.89" x2="229.20" y2="182.89" stroke="#8a8a8a" stroke-width="0.6"/><line x1="227.60" y1="192.23" x2="229.20" y2="192.23" stroke="#8a8a8a" stroke-width="0.6"/><line x1="227.60" y1="202.28" x2="229.20" y2="202.28" stroke="#8a8a8a" stroke-width="0.6"/><line x1="227.60" y1="210.90" x2="229.20" y2="210.90" stroke="#8a8a8a" stroke-width="0.6"/><line x1="227.60" y1="220.23" x2="229.20" y2="220.23" stroke="#8a8a8a" stroke-width="0.6"/><line x1="227.60" y1="227.41" x2="229.20" y2="227.41" stroke="#8a8a8a" stroke-width="0.6"/><line x1="233.44" y1="231.00" x2="233.44" y2="232.60" stroke="#8a8a8a" stroke-width="0.6"/><line x1="239.79" y1="231.00" x2="239.79" y2="232.60" stroke="#8a8a8a" stroke-width="0.6"/><line x1="248.97" y1="231.00" x2="248.97" y2="232.60" stroke="#8a8a8a" stroke-width="0.6"/><line x1="258.85" y1="231.00" x2="258.85" y2="232.60" stroke="#8a8a8a" stroke-width="0.6"/><line x1="268.74" y1="231.00" x2="268.74" y2="232.60" stroke="#8a8a8a" stroke-width="0.6"/><line x1="278.62" y1="231.00" x2="278.62" y2="232.60" stroke="#8a8a8a" stroke-width="0.6"/><line x1="288.50" y1="231.00" x2="288.50" y2="232.60" stroke="#8a8a8a" stroke-width="0.6"/><line x1="296.27" y1="231.00" x2="296.27" y2="232.60" stroke="#8a8a8a" stroke-width="0.6"/><rect x="227.60" y="213.05" width="1.4" height="1.6" fill="#222"/><rect x="239.79" y="231.30" width="2.6" height="1.3" fill="#222"/>
<text x="231.20" y="168.95" font-size="9.3" text-anchor="start" fill="#231f20" stroke="#231f20" stroke-width="0.2" textLength="12.02" lengthAdjust="spacingAndGlyphs" >0.3</text>
<text x="296.00" y="168.95" font-size="9.3" text-anchor="end" fill="#231f20" stroke="#231f20" stroke-width="0.2" textLength="8.98" lengthAdjust="spacingAndGlyphs" >11</text>
<text x="231.20" y="228.55" font-size="9.3" text-anchor="start" fill="#231f20" stroke="#231f20" stroke-width="0.2" textLength="9.62" lengthAdjust="spacingAndGlyphs" >76</text>
<text x="296.00" y="228.55" font-size="9.3" text-anchor="end" fill="#231f20" stroke="#231f20" stroke-width="0.2" textLength="9.62" lengthAdjust="spacingAndGlyphs" >12</text>
<text transform="translate(146.30,224.60) rotate(-90)" x="0" y="3.78" font-size="10.5" text-anchor="middle" fill="#231f20" stroke="#231f20" stroke-width="0.2" textLength="19.6" lengthAdjust="spacingAndGlyphs" >TIM-3</text>
<line x1="146.30" y1="211.30" x2="146.30" y2="201.80" stroke="#231f20" stroke-width="1.35" />
<path d="M146.30,197.50 L148.80,202.30 L143.80,202.30 Z" fill="#231f20" stroke="none" stroke-width="1" />
<text x="155.60" y="244.90" font-size="10" text-anchor="start" fill="#231f20" stroke="#231f20" stroke-width="0.2" textLength="17.9" lengthAdjust="spacingAndGlyphs" >PD-1</text>
<line x1="179.20" y1="241.30" x2="187.60" y2="241.30" stroke="#231f20" stroke-width="1.35" />
<path d="M191.90,241.30 L187.10,243.80 L187.10,238.80 Z" fill="#231f20" stroke="none" stroke-width="1" />
<path d="M169.40,280.50 L169.40,256.70 A23.8,23.8 0 0 1 193.15,279.01 Z" fill="#9a9eab" stroke="#1a1a1a" stroke-width="0.9" stroke-linejoin="round"/>
<path d="M169.40,280.50 L193.15,279.01 A23.8,23.8 0 0 1 155.41,299.75 Z" fill="#6e7587" stroke="#1a1a1a" stroke-width="0.9" stroke-linejoin="round"/>
<path d="M169.40,280.50 L155.41,299.75 A23.8,23.8 0 0 1 169.40,256.70 Z" fill="#4c5466" stroke="#1a1a1a" stroke-width="0.9" stroke-linejoin="round"/>
<path d="M269.30,280.60 L269.30,257.10 A23.5,23.5 0 0 1 284.28,262.49 Z" fill="#dbb6b7" stroke="#1a1a1a" stroke-width="0.9" stroke-linejoin="round"/>
<path d="M269.30,280.60 L284.28,262.49 A23.5,23.5 0 0 1 290.56,290.61 Z" fill="#b66a72" stroke="#1a1a1a" stroke-width="0.9" stroke-linejoin="round"/>
<path d="M269.30,280.60 L290.56,290.61 A23.5,23.5 0 1 1 269.30,257.10 Z" fill="#8b1637" stroke="#1a1a1a" stroke-width="0.9" stroke-linejoin="round"/>
<text x="180.70" y="276.12" font-size="9.5" text-anchor="middle" fill="#fff" stroke="#fff" stroke-width="0.2" textLength="17.68" lengthAdjust="spacingAndGlyphs" >24%</text>
<text x="176.70" y="294.82" font-size="9.5" text-anchor="middle" fill="#fff" stroke="#fff" stroke-width="0.2" textLength="17.68" lengthAdjust="spacingAndGlyphs" >36%</text>
<text x="156.40" y="280.42" font-size="9.5" text-anchor="middle" fill="#fff" stroke="#fff" stroke-width="0.2" textLength="17.68" lengthAdjust="spacingAndGlyphs" >40%</text>
<text x="283.70" y="259.02" font-size="9.5" text-anchor="middle" fill="#231f20" stroke="#231f20" stroke-width="0.2" textLength="17.03" lengthAdjust="spacingAndGlyphs" >11%</text>
<text x="282.70" y="283.02" font-size="9.5" text-anchor="middle" fill="#fff" stroke="#fff" stroke-width="0.2" textLength="17.68" lengthAdjust="spacingAndGlyphs" >21%</text>
<text x="259.60" y="285.92" font-size="9.5" text-anchor="middle" fill="#fff" stroke="#fff" stroke-width="0.2" textLength="17.68" lengthAdjust="spacingAndGlyphs" >67%</text>
<rect x="127.60" y="310.30" width="10.90" height="2.40" fill="#9a9eab" stroke="none" stroke-width="1" />
<text x="142.30" y="314.74" font-size="9" text-anchor="start" fill="#231f20" stroke="#231f20" stroke-width="0.2" textLength="65.8" lengthAdjust="spacingAndGlyphs">PD-1<tspan dy="-2.5" font-size="6.8">+</tspan><tspan dy="2.5"> TIM-3</tspan><tspan dy="-2.5" font-size="6.8">−−</tspan><tspan dy="2.5"> (1)</tspan></text>
<rect x="127.60" y="320.10" width="10.90" height="2.40" fill="#6e7587" stroke="none" stroke-width="1" />
<text x="142.30" y="324.54" font-size="9" text-anchor="start" fill="#231f20" stroke="#231f20" stroke-width="0.2" textLength="63.2" lengthAdjust="spacingAndGlyphs">PD-1<tspan dy="-2.5" font-size="6.8">+</tspan><tspan dy="2.5">TIM-3 </tspan><tspan dy="-2.5" font-size="6.8">+</tspan><tspan dy="2.5"> (2)</tspan></text>
<rect x="127.60" y="329.30" width="10.90" height="2.40" fill="#4c5466" stroke="none" stroke-width="1" />
<text x="142.30" y="333.74" font-size="9" text-anchor="start" fill="#231f20" stroke="#231f20" stroke-width="0.2" textLength="65.8" lengthAdjust="spacingAndGlyphs">PD-1<tspan dy="-2.5" font-size="6.8">−−</tspan><tspan dy="2.5">TIM-3</tspan><tspan dy="-2.5" font-size="6.8">−−</tspan><tspan dy="2.5"> (0)</tspan></text>
<rect x="227.90" y="310.30" width="10.90" height="2.40" fill="#dbb6b7" stroke="none" stroke-width="1" />
<text x="242.70" y="314.74" font-size="9" text-anchor="start" fill="#231f20" stroke="#231f20" stroke-width="0.2" textLength="65.8" lengthAdjust="spacingAndGlyphs">PD-1<tspan dy="-2.5" font-size="6.8">+</tspan><tspan dy="2.5"> TIM-3</tspan><tspan dy="-2.5" font-size="6.8">−−</tspan><tspan dy="2.5"> (1)</tspan></text>
<rect x="227.90" y="320.10" width="10.90" height="2.40" fill="#b66a72" stroke="none" stroke-width="1" />
<text x="242.70" y="324.54" font-size="9" text-anchor="start" fill="#231f20" stroke="#231f20" stroke-width="0.2" textLength="63.2" lengthAdjust="spacingAndGlyphs">PD-1<tspan dy="-2.5" font-size="6.8">+</tspan><tspan dy="2.5">TIM-3 </tspan><tspan dy="-2.5" font-size="6.8">+</tspan><tspan dy="2.5"> (2)</tspan></text>
<rect x="227.90" y="329.30" width="10.90" height="2.40" fill="#8b1637" stroke="none" stroke-width="1" />
<text x="242.70" y="333.74" font-size="9" text-anchor="start" fill="#231f20" stroke="#231f20" stroke-width="0.2" textLength="65.8" lengthAdjust="spacingAndGlyphs">PD-1<tspan dy="-2.5" font-size="6.8">−−</tspan><tspan dy="2.5">TIM-3</tspan><tspan dy="-2.5" font-size="6.8">−−</tspan><tspan dy="2.5"> (0)</tspan></text>
<text x="321.60" y="147.27" font-size="12" text-anchor="start" fill="#000" font-weight="bold" >F</text>
<path d="M353.75,202.50 L362.00,202.30 L367.50,201.60 L372.00,200.60 L377.00,199.50 L382.30,197.90 L385.50,194.00 L388.70,187.30 L391.50,178.00 L393.50,168.00 L395.30,161.00 L396.70,159.80 L398.00,161.50 L399.50,170.00 L401.30,185.20 L403.00,193.00 L404.50,197.90 L406.50,200.80 L409.80,202.30 L425.70,202.50 L425.70,202.5 L353.75,202.5 Z" fill="#8c92a2" stroke="none" stroke-width="1" />
<path d="M353.75,202.50 L362.00,202.30 L367.50,201.60 L372.00,200.60 L377.00,199.50 L382.30,197.90 L385.50,194.00 L388.70,187.30 L391.50,178.00 L393.50,168.00 L395.30,161.00 L396.70,159.80 L398.00,161.50 L399.50,170.00 L401.30,185.20 L403.00,193.00 L404.50,197.90 L406.50,200.80 L409.80,202.30 L425.70,202.50" fill="none" stroke="#4f5a6f" stroke-width="1.25" stroke-linejoin="round"/>
<path d="M368.60,226.00 L372.00,223.00 L377.00,219.00 L379.00,215.50 L381.50,212.00 L384.40,208.50 L386.50,204.00 L388.50,200.00 L390.80,195.80 L392.50,189.80 L393.80,191.50 L395.40,190.50 L396.30,193.00 L397.50,197.90 L398.50,205.00 L400.30,217.00 L402.00,222.50 L404.50,226.00 L404.50,226 L368.60,226 Z" fill="#d9a4aa" stroke="none" stroke-width="1" />
<path d="M368.60,226.00 L372.00,223.00 L377.00,219.00 L379.00,215.50 L381.50,212.00 L384.40,208.50 L386.50,204.00 L388.50,200.00 L390.80,195.80 L392.50,189.80 L393.80,191.50 L395.40,190.50 L396.30,193.00 L397.50,197.90 L398.50,205.00 L400.30,217.00 L402.00,222.50 L404.50,226.00" fill="none" stroke="#9b1c3d" stroke-width="1.25" stroke-linejoin="round"/>
<line x1="353.75" y1="202.50" x2="425.70" y2="202.50" stroke="#4f5a6f" stroke-width="0.9" />
<rect x="353.50" y="154.50" width="72.00" height="72.00" fill="none" stroke="#231f20" stroke-width="1" />
<line x1="355.75" y1="226.00" x2="355.75" y2="228.20" stroke="#231f20" stroke-width="0.6" />
<line x1="360.79" y1="226.00" x2="360.79" y2="227.20" stroke="#231f20" stroke-width="0.6" />
<line x1="363.73" y1="226.00" x2="363.73" y2="227.20" stroke="#231f20" stroke-width="0.6" />
<line x1="365.82" y1="226.00" x2="365.82" y2="227.20" stroke="#231f20" stroke-width="0.6" />
<line x1="367.45" y1="226.00" x2="367.45" y2="227.20" stroke="#231f20" stroke-width="0.6" />
<line x1="368.77" y1="226.00" x2="368.77" y2="227.20" stroke="#231f20" stroke-width="0.6" />
<line x1="369.89" y1="226.00" x2="369.89" y2="227.20" stroke="#231f20" stroke-width="0.6" />
<line x1="370.86" y1="226.00" x2="370.86" y2="227.20" stroke="#231f20" stroke-width="0.6" />
<line x1="371.72" y1="226.00" x2="371.72" y2="227.20" stroke="#231f20" stroke-width="0.6" />
<line x1="372.48" y1="226.00" x2="372.48" y2="228.20" stroke="#231f20" stroke-width="0.6" />
<line x1="377.52" y1="226.00" x2="377.52" y2="227.20" stroke="#231f20" stroke-width="0.6" />
<line x1="380.47" y1="226.00" x2="380.47" y2="227.20" stroke="#231f20" stroke-width="0.6" />
<line x1="382.56" y1="226.00" x2="382.56" y2="227.20" stroke="#231f20" stroke-width="0.6" />
<line x1="384.18" y1="226.00" x2="384.18" y2="227.20" stroke="#231f20" stroke-width="0.6" />
<line x1="385.50" y1="226.00" x2="385.50" y2="227.20" stroke="#231f20" stroke-width="0.6" />
<line x1="386.62" y1="226.00" x2="386.62" y2="227.20" stroke="#231f20" stroke-width="0.6" />
<line x1="387.59" y1="226.00" x2="387.59" y2="227.20" stroke="#231f20" stroke-width="0.6" />
<line x1="388.45" y1="226.00" x2="388.45" y2="227.20" stroke="#231f20" stroke-width="0.6" />
<line x1="389.22" y1="226.00" x2="389.22" y2="228.20" stroke="#231f20" stroke-width="0.6" />
<line x1="394.25" y1="226.00" x2="394.25" y2="227.20" stroke="#231f20" stroke-width="0.6" />
<line x1="397.20" y1="226.00" x2="397.20" y2="227.20" stroke="#231f20" stroke-width="0.6" />
<line x1="399.29" y1="226.00" x2="399.29" y2="227.20" stroke="#231f20" stroke-width="0.6" />
<line x1="400.91" y1="226.00" x2="400.91" y2="227.20" stroke="#231f20" stroke-width="0.6" />
<line x1="402.24" y1="226.00" x2="402.24" y2="227.20" stroke="#231f20" stroke-width="0.6" />
<line x1="403.36" y1="226.00" x2="403.36" y2="227.20" stroke="#231f20" stroke-width="0.6" />
<line x1="404.33" y1="226.00" x2="404.33" y2="227.20" stroke="#231f20" stroke-width="0.6" />
<line x1="405.18" y1="226.00" x2="405.18" y2="227.20" stroke="#231f20" stroke-width="0.6" />
<line x1="405.95" y1="226.00" x2="405.95" y2="228.20" stroke="#231f20" stroke-width="0.6" />
<line x1="410.98" y1="226.00" x2="410.98" y2="227.20" stroke="#231f20" stroke-width="0.6" />
<line x1="413.93" y1="226.00" x2="413.93" y2="227.20" stroke="#231f20" stroke-width="0.6" />
<line x1="416.02" y1="226.00" x2="416.02" y2="227.20" stroke="#231f20" stroke-width="0.6" />
<line x1="417.64" y1="226.00" x2="417.64" y2="227.20" stroke="#231f20" stroke-width="0.6" />
<line x1="418.97" y1="226.00" x2="418.97" y2="227.20" stroke="#231f20" stroke-width="0.6" />
<line x1="420.09" y1="226.00" x2="420.09" y2="227.20" stroke="#231f20" stroke-width="0.6" />
<line x1="421.06" y1="226.00" x2="421.06" y2="227.20" stroke="#231f20" stroke-width="0.6" />
<line x1="421.91" y1="226.00" x2="421.91" y2="227.20" stroke="#231f20" stroke-width="0.6" />
<line x1="422.68" y1="226.00" x2="422.68" y2="228.20" stroke="#231f20" stroke-width="0.6" />
<text x="343.40" y="201.35" font-size="9.3" text-anchor="end" fill="#231f20" stroke="#231f20" stroke-width="0.2" textLength="11.29" lengthAdjust="spacingAndGlyphs" >clg</text>
<text x="349.10" y="221.05" font-size="9.3" text-anchor="end" fill="#231f20" stroke="#231f20" stroke-width="0.2" textLength="27.68" lengthAdjust="spacingAndGlyphs" >αTIGIT</text>
<text x="389.00" y="242.05" font-size="9.3" text-anchor="middle" fill="#231f20" stroke="#231f20" stroke-width="0.2" textLength="27.5" lengthAdjust="spacingAndGlyphs" >Eomes</text>
<rect x="377.50" y="287.50" width="14.00" height="36.00" fill="#fff" stroke="#231f20" stroke-width="1" />
<rect x="397.50" y="304.50" width="14.00" height="19.00" fill="#fff" stroke="#231f20" stroke-width="1" />
<line x1="384.50" y1="284.40" x2="384.50" y2="291.20" stroke="#231f20" stroke-width="1" />
<line x1="381.60" y1="284.50" x2="387.60" y2="284.50" stroke="#231f20" stroke-width="1" />
<line x1="404.50" y1="301.00" x2="404.50" y2="306.00" stroke="#231f20" stroke-width="1" />
<line x1="401.60" y1="301.50" x2="407.60" y2="301.50" stroke="#231f20" stroke-width="1" />
<circle cx="381.20" cy="277.70" r="1.7" fill="#3f4a5f"/>
<circle cx="385.40" cy="277.30" r="1.7" fill="#3f4a5f"/>
<circle cx="379.60" cy="279.60" r="1.7" fill="#3f4a5f"/>
<circle cx="387.30" cy="280.60" r="1.7" fill="#3f4a5f"/>
<circle cx="381.50" cy="282.50" r="1.7" fill="#3f4a5f"/>
<circle cx="386.30" cy="285.40" r="1.7" fill="#3f4a5f"/>
<circle cx="379.60" cy="291.20" r="1.7" fill="#3f4a5f"/>
<circle cx="383.50" cy="291.20" r="1.7" fill="#3f4a5f"/>
<circle cx="388.30" cy="291.20" r="1.7" fill="#3f4a5f"/>
<circle cx="379.60" cy="296.90" r="1.7" fill="#3f4a5f"/>
<circle cx="384.40" cy="299.80" r="1.7" fill="#3f4a5f"/>
<circle cx="388.30" cy="298.80" r="1.7" fill="#3f4a5f"/>
<circle cx="404.00" cy="292.70" r="1.7" fill="#9b1c3d"/>
<circle cx="400.80" cy="301.70" r="1.7" fill="#9b1c3d"/>
<circle cx="404.60" cy="301.70" r="1.7" fill="#9b1c3d"/>
<circle cx="407.50" cy="302.70" r="1.7" fill="#9b1c3d"/>
<circle cx="402.50" cy="304.00" r="1.7" fill="#9b1c3d"/>
<circle cx="404.60" cy="304.60" r="1.7" fill="#9b1c3d"/>
<circle cx="406.00" cy="303.00" r="1.7" fill="#9b1c3d"/>
<circle cx="400.80" cy="311.30" r="1.7" fill="#9b1c3d"/>
<circle cx="407.50" cy="311.30" r="1.7" fill="#9b1c3d"/>
<line x1="371.50" y1="262.30" x2="371.50" y2="323.80" stroke="#231f20" stroke-width="1" />
<line x1="368.20" y1="265.50" x2="371.50" y2="265.50" stroke="#231f20" stroke-width="1" />
<text x="364.60" y="268.09" font-size="9.7" text-anchor="end" fill="#231f20" stroke="#231f20" stroke-width="0.2" textLength="18.99" lengthAdjust="spacingAndGlyphs" >3000</text>
<line x1="368.20" y1="294.50" x2="371.50" y2="294.50" stroke="#231f20" stroke-width="1" />
<text x="364.60" y="297.49" font-size="9.7" text-anchor="end" fill="#231f20" stroke="#231f20" stroke-width="0.2" textLength="18.99" lengthAdjust="spacingAndGlyphs" >1500</text>
<line x1="368.20" y1="323.50" x2="371.50" y2="323.50" stroke="#231f20" stroke-width="1" />
<text x="364.60" y="326.89" font-size="9.7" text-anchor="end" fill="#231f20" stroke="#231f20" stroke-width="0.2" textLength="4.75" lengthAdjust="spacingAndGlyphs" >0</text>
<line x1="371.50" y1="323.50" x2="417.10" y2="323.50" stroke="#231f20" stroke-width="1" />
<line x1="386.30" y1="264.20" x2="401.70" y2="264.20" stroke="#231f20" stroke-width="1.3" />
<text x="394.00" y="264.62" font-size="9.5" text-anchor="middle" fill="#231f20" font-weight="bold" >***</text>
<text transform="translate(335.00,293.00) rotate(-90)" x="0" y="3.60" font-size="10" text-anchor="middle" fill="#231f20" stroke="#231f20" stroke-width="0.2" textLength="48" lengthAdjust="spacingAndGlyphs" >Eomes GMFI</text>
<text x="8.75" y="362.27" font-size="12" text-anchor="start" fill="#000" font-weight="bold" >G</text>
<text x="79.60" y="371.57" font-size="11.3" text-anchor="middle" fill="#231f20" stroke="#231f20" stroke-width="0.2" textLength="48.2" lengthAdjust="spacingAndGlyphs">BM CD8<tspan dy="-3.5" font-size="7.5">+</tspan></text>
<text x="153.10" y="370.57" font-size="11.3" text-anchor="middle" fill="#231f20" stroke="#231f20" stroke-width="0.2" textLength="46.7" lengthAdjust="spacingAndGlyphs">BM CD4<tspan dy="-3.5" font-size="7.5">+</tspan></text>
<path d="M42.60,411.50 L50.00,410.80 L54.40,409.20 L58.80,406.80 L63.10,398.80 L66.00,390.20 L68.10,383.70 L69.60,379.80 L71.00,384.40 L73.20,393.10 L75.30,401.70 L77.50,407.50 L80.40,410.70 L83.30,411.50 L112.60,411.50 L112.60,411.5 L42.60,411.5 Z" fill="#fff" stroke="none" stroke-width="1" />
<path d="M42.60,411.50 L50.00,410.80 L54.40,409.20 L58.80,406.80 L63.10,398.80 L66.00,390.20 L68.10,383.70 L69.60,379.80 L71.00,384.40 L73.20,393.10 L75.30,401.70 L77.50,407.50 L80.40,410.70 L83.30,411.50 L112.60,411.50" fill="none" stroke="#231f20" stroke-width="1.25" stroke-linejoin="round"/>
<line x1="42.60" y1="411.50" x2="112.60" y2="411.50" stroke="#231f20" stroke-width="1" />
<path d="M42.60,429.10 L51.50,428.80 L60.20,427.00 L63.80,423.40 L66.70,416.20 L68.80,407.50 L71.00,401.00 L72.00,400.30 L73.50,403.90 L76.00,407.50 L78.90,413.30 L81.10,416.90 L84.00,418.30 L86.90,419.80 L89.80,421.90 L93.40,425.50 L97.00,428.40 L100.60,429.10 L112.60,429.10 L112.60,429.1 L42.60,429.1 Z" fill="#8c92a2" stroke="none" stroke-width="1" />
<path d="M42.60,429.10 L51.50,428.80 L60.20,427.00 L63.80,423.40 L66.70,416.20 L68.80,407.50 L71.00,401.00 L72.00,400.30 L73.50,403.90 L76.00,407.50 L78.90,413.30 L81.10,416.90 L84.00,418.30 L86.90,419.80 L89.80,421.90 L93.40,425.50 L97.00,428.40 L100.60,429.10 L112.60,429.10" fill="none" stroke="#4f5a6f" stroke-width="1.25" stroke-linejoin="round"/>
<line x1="100.00" y1="429.50" x2="112.60" y2="429.50" stroke="#4f5a6f" stroke-width="1.0" />
<path d="M42.60,446.40 L50.00,446.00 L57.30,445.30 L63.10,443.60 L66.70,437.80 L68.80,429.10 L71.00,421.90 L72.50,419.80 L74.60,421.20 L76.10,424.80 L77.80,423.10 L78.90,427.00 L81.10,427.00 L83.30,429.10 L84.70,428.40 L85.90,426.30 L86.90,430.60 L89.80,431.30 L92.60,433.50 L94.80,437.80 L97.00,442.80 L100.60,445.70 L103.50,446.40 L103.50,446.4 L42.60,446.4 Z" fill="#d9a4aa" stroke="none" stroke-width="1" />
<path d="M42.60,446.40 L50.00,446.00 L57.30,445.30 L63.10,443.60 L66.70,437.80 L68.80,429.10 L71.00,421.90 L72.50,419.80 L74.60,421.20 L76.10,424.80 L77.80,423.10 L78.90,427.00 L81.10,427.00 L83.30,429.10 L84.70,428.40 L85.90,426.30 L86.90,430.60 L89.80,431.30 L92.60,433.50 L94.80,437.80 L97.00,442.80 L100.60,445.70 L103.50,446.40" fill="none" stroke="#9b1c3d" stroke-width="1.25" stroke-linejoin="round"/>
<line x1="80.10" y1="375.50" x2="80.10" y2="446.40" stroke="#222" stroke-width="0.75" stroke-dasharray="1,1.3"/>
<rect x="42.50" y="375.50" width="70.00" height="71.00" fill="none" stroke="#231f20" stroke-width="1" />
<line x1="44.60" y1="446.40" x2="44.60" y2="448.60" stroke="#231f20" stroke-width="0.6" />
<line x1="49.50" y1="446.40" x2="49.50" y2="447.60" stroke="#231f20" stroke-width="0.6" />
<line x1="52.37" y1="446.40" x2="52.37" y2="447.60" stroke="#231f20" stroke-width="0.6" />
<line x1="54.40" y1="446.40" x2="54.40" y2="447.60" stroke="#231f20" stroke-width="0.6" />
<line x1="55.98" y1="446.40" x2="55.98" y2="447.60" stroke="#231f20" stroke-width="0.6" />
<line x1="57.27" y1="446.40" x2="57.27" y2="447.60" stroke="#231f20" stroke-width="0.6" />
<line x1="58.36" y1="446.40" x2="58.36" y2="447.60" stroke="#231f20" stroke-width="0.6" />
<line x1="59.30" y1="446.40" x2="59.30" y2="447.60" stroke="#231f20" stroke-width="0.6" />
<line x1="60.13" y1="446.40" x2="60.13" y2="447.60" stroke="#231f20" stroke-width="0.6" />
<line x1="60.88" y1="446.40" x2="60.88" y2="448.60" stroke="#231f20" stroke-width="0.6" />
<line x1="65.78" y1="446.40" x2="65.78" y2="447.60" stroke="#231f20" stroke-width="0.6" />
<line x1="68.65" y1="446.40" x2="68.65" y2="447.60" stroke="#231f20" stroke-width="0.6" />
<line x1="70.68" y1="446.40" x2="70.68" y2="447.60" stroke="#231f20" stroke-width="0.6" />
<line x1="72.26" y1="446.40" x2="72.26" y2="447.60" stroke="#231f20" stroke-width="0.6" />
<line x1="73.55" y1="446.40" x2="73.55" y2="447.60" stroke="#231f20" stroke-width="0.6" />
<line x1="74.64" y1="446.40" x2="74.64" y2="447.60" stroke="#231f20" stroke-width="0.6" />
<line x1="75.58" y1="446.40" x2="75.58" y2="447.60" stroke="#231f20" stroke-width="0.6" />
<line x1="76.41" y1="446.40" x2="76.41" y2="447.60" stroke="#231f20" stroke-width="0.6" />
<line x1="77.16" y1="446.40" x2="77.16" y2="448.60" stroke="#231f20" stroke-width="0.6" />
<line x1="82.06" y1="446.40" x2="82.06" y2="447.60" stroke="#231f20" stroke-width="0.6" />
<line x1="84.93" y1="446.40" x2="84.93" y2="447.60" stroke="#231f20" stroke-width="0.6" />
<line x1="86.96" y1="446.40" x2="86.96" y2="447.60" stroke="#231f20" stroke-width="0.6" />
<line x1="88.54" y1="446.40" x2="88.54" y2="447.60" stroke="#231f20" stroke-width="0.6" />
<line x1="89.83" y1="446.40" x2="89.83" y2="447.60" stroke="#231f20" stroke-width="0.6" />
<line x1="90.92" y1="446.40" x2="90.92" y2="447.60" stroke="#231f20" stroke-width="0.6" />
<line x1="91.86" y1="446.40" x2="91.86" y2="447.60" stroke="#231f20" stroke-width="0.6" />
<line x1="92.69" y1="446.40" x2="92.69" y2="447.60" stroke="#231f20" stroke-width="0.6" />
<line x1="93.44" y1="446.40" x2="93.44" y2="448.60" stroke="#231f20" stroke-width="0.6" />
<line x1="98.34" y1="446.40" x2="98.34" y2="447.60" stroke="#231f20" stroke-width="0.6" />
<line x1="101.20" y1="446.40" x2="101.20" y2="447.60" stroke="#231f20" stroke-width="0.6" />
<line x1="103.24" y1="446.40" x2="103.24" y2="447.60" stroke="#231f20" stroke-width="0.6" />
<line x1="104.82" y1="446.40" x2="104.82" y2="447.60" stroke="#231f20" stroke-width="0.6" />
<line x1="106.10" y1="446.40" x2="106.10" y2="447.60" stroke="#231f20" stroke-width="0.6" />
<line x1="107.19" y1="446.40" x2="107.19" y2="447.60" stroke="#231f20" stroke-width="0.6" />
<line x1="108.14" y1="446.40" x2="108.14" y2="447.60" stroke="#231f20" stroke-width="0.6" />
<line x1="108.97" y1="446.40" x2="108.97" y2="447.60" stroke="#231f20" stroke-width="0.6" />
<line x1="109.72" y1="446.40" x2="109.72" y2="448.60" stroke="#231f20" stroke-width="0.6" />
<text x="110.00" y="404.35" font-size="9.3" text-anchor="end" fill="#231f20" stroke="#231f20" stroke-width="0.2" textLength="12.02" lengthAdjust="spacingAndGlyphs" >0.9</text>
<text x="110.00" y="422.35" font-size="9.3" text-anchor="end" fill="#231f20" stroke="#231f20" stroke-width="0.2" textLength="9.62" lengthAdjust="spacingAndGlyphs" >29</text>
<text x="110.00" y="438.95" font-size="9.3" text-anchor="end" fill="#231f20" stroke="#231f20" stroke-width="0.2" textLength="9.62" lengthAdjust="spacingAndGlyphs" >45</text>
<text x="38.00" y="399.65" font-size="9.3" text-anchor="end" fill="#231f20" stroke="#231f20" stroke-width="0.2" textLength="28.48" lengthAdjust="spacingAndGlyphs" >Isotype</text>
<text x="33.00" y="421.35" font-size="9.3" text-anchor="end" fill="#231f20" stroke="#231f20" stroke-width="0.2" textLength="11.29" lengthAdjust="spacingAndGlyphs" >clg</text>
<text x="38.00" y="440.85" font-size="9.3" text-anchor="end" fill="#231f20" stroke="#231f20" stroke-width="0.2" textLength="27.68" lengthAdjust="spacingAndGlyphs" >αTIGIT</text>
<path d="M115.40,411.30 L123.10,410.40 L128.80,407.50 L132.70,402.70 L135.60,395.00 L138.50,385.40 L140.80,381.50 L142.70,382.50 L144.60,389.20 L147.10,400.80 L150.40,408.50 L154.80,411.30 L185.60,411.30 L185.60,411.3 L115.40,411.3 Z" fill="#fff" stroke="none" stroke-width="1" />
<path d="M115.40,411.30 L123.10,410.40 L128.80,407.50 L132.70,402.70 L135.60,395.00 L138.50,385.40 L140.80,381.50 L142.70,382.50 L144.60,389.20 L147.10,400.80 L150.40,408.50 L154.80,411.30 L185.60,411.30" fill="none" stroke="#231f20" stroke-width="1.25" stroke-linejoin="round"/>
<line x1="115.40" y1="411.50" x2="185.60" y2="411.50" stroke="#231f20" stroke-width="1" />
<path d="M115.40,429.00 L128.80,428.10 L133.70,425.80 L136.50,420.00 L139.40,410.40 L141.90,400.80 L143.30,398.80 L145.20,404.60 L147.70,416.20 L150.40,421.90 L155.80,423.80 L161.50,423.50 L167.30,424.80 L172.10,427.70 L176.00,429.00 L185.60,429.00 L185.60,429 L115.40,429 Z" fill="#8c92a2" stroke="none" stroke-width="1" />
<path d="M115.40,429.00 L128.80,428.10 L133.70,425.80 L136.50,420.00 L139.40,410.40 L141.90,400.80 L143.30,398.80 L145.20,404.60 L147.70,416.20 L150.40,421.90 L155.80,423.80 L161.50,423.50 L167.30,424.80 L172.10,427.70 L176.00,429.00 L185.60,429.00" fill="none" stroke="#4f5a6f" stroke-width="1.25" stroke-linejoin="round"/>
<line x1="176.00" y1="429.50" x2="185.60" y2="429.50" stroke="#4f5a6f" stroke-width="1.0" />
<path d="M115.40,446.90 L123.10,446.00 L128.80,444.60 L133.70,440.20 L137.50,433.50 L140.40,425.80 L142.70,420.00 L144.60,418.70 L146.50,423.80 L149.00,433.50 L152.90,438.30 L157.70,436.90 L162.50,435.80 L166.30,438.30 L171.20,444.00 L176.00,446.50 L178.00,446.90 L178.00,446.9 L115.40,446.9 Z" fill="#d9a4aa" stroke="none" stroke-width="1" />
<path d="M115.40,446.90 L123.10,446.00 L128.80,444.60 L133.70,440.20 L137.50,433.50 L140.40,425.80 L142.70,420.00 L144.60,418.70 L146.50,423.80 L149.00,433.50 L152.90,438.30 L157.70,436.90 L162.50,435.80 L166.30,438.30 L171.20,444.00 L176.00,446.50 L178.00,446.90" fill="none" stroke="#9b1c3d" stroke-width="1.25" stroke-linejoin="round"/>
<line x1="150.40" y1="375.20" x2="150.40" y2="446.90" stroke="#222" stroke-width="0.75" stroke-dasharray="1,1.3"/>
<rect x="115.50" y="375.50" width="70.00" height="71.00" fill="none" stroke="#231f20" stroke-width="1" />
<line x1="117.40" y1="446.90" x2="117.40" y2="449.10" stroke="#231f20" stroke-width="0.6" />
<line x1="122.31" y1="446.90" x2="122.31" y2="448.10" stroke="#231f20" stroke-width="0.6" />
<line x1="125.19" y1="446.90" x2="125.19" y2="448.10" stroke="#231f20" stroke-width="0.6" />
<line x1="127.23" y1="446.90" x2="127.23" y2="448.10" stroke="#231f20" stroke-width="0.6" />
<line x1="128.81" y1="446.90" x2="128.81" y2="448.10" stroke="#231f20" stroke-width="0.6" />
<line x1="130.10" y1="446.90" x2="130.10" y2="448.10" stroke="#231f20" stroke-width="0.6" />
<line x1="131.20" y1="446.90" x2="131.20" y2="448.10" stroke="#231f20" stroke-width="0.6" />
<line x1="132.14" y1="446.90" x2="132.14" y2="448.10" stroke="#231f20" stroke-width="0.6" />
<line x1="132.98" y1="446.90" x2="132.98" y2="448.10" stroke="#231f20" stroke-width="0.6" />
<line x1="133.73" y1="446.90" x2="133.73" y2="449.10" stroke="#231f20" stroke-width="0.6" />
<line x1="138.64" y1="446.90" x2="138.64" y2="448.10" stroke="#231f20" stroke-width="0.6" />
<line x1="141.51" y1="446.90" x2="141.51" y2="448.10" stroke="#231f20" stroke-width="0.6" />
<line x1="143.55" y1="446.90" x2="143.55" y2="448.10" stroke="#231f20" stroke-width="0.6" />
<line x1="145.14" y1="446.90" x2="145.14" y2="448.10" stroke="#231f20" stroke-width="0.6" />
<line x1="146.43" y1="446.90" x2="146.43" y2="448.10" stroke="#231f20" stroke-width="0.6" />
<line x1="147.52" y1="446.90" x2="147.52" y2="448.10" stroke="#231f20" stroke-width="0.6" />
<line x1="148.47" y1="446.90" x2="148.47" y2="448.10" stroke="#231f20" stroke-width="0.6" />
<line x1="149.30" y1="446.90" x2="149.30" y2="448.10" stroke="#231f20" stroke-width="0.6" />
<line x1="150.05" y1="446.90" x2="150.05" y2="449.10" stroke="#231f20" stroke-width="0.6" />
<line x1="154.97" y1="446.90" x2="154.97" y2="448.10" stroke="#231f20" stroke-width="0.6" />
<line x1="157.84" y1="446.90" x2="157.84" y2="448.10" stroke="#231f20" stroke-width="0.6" />
<line x1="159.88" y1="446.90" x2="159.88" y2="448.10" stroke="#231f20" stroke-width="0.6" />
<line x1="161.46" y1="446.90" x2="161.46" y2="448.10" stroke="#231f20" stroke-width="0.6" />
<line x1="162.75" y1="446.90" x2="162.75" y2="448.10" stroke="#231f20" stroke-width="0.6" />
<line x1="163.85" y1="446.90" x2="163.85" y2="448.10" stroke="#231f20" stroke-width="0.6" />
<line x1="164.79" y1="446.90" x2="164.79" y2="448.10" stroke="#231f20" stroke-width="0.6" />
<line x1="165.63" y1="446.90" x2="165.63" y2="448.10" stroke="#231f20" stroke-width="0.6" />
<line x1="166.38" y1="446.90" x2="166.38" y2="449.10" stroke="#231f20" stroke-width="0.6" />
<line x1="171.29" y1="446.90" x2="171.29" y2="448.10" stroke="#231f20" stroke-width="0.6" />
<line x1="174.17" y1="446.90" x2="174.17" y2="448.10" stroke="#231f20" stroke-width="0.6" />
<line x1="176.21" y1="446.90" x2="176.21" y2="448.10" stroke="#231f20" stroke-width="0.6" />
<line x1="177.79" y1="446.90" x2="177.79" y2="448.10" stroke="#231f20" stroke-width="0.6" />
<line x1="179.08" y1="446.90" x2="179.08" y2="448.10" stroke="#231f20" stroke-width="0.6" />
<line x1="180.17" y1="446.90" x2="180.17" y2="448.10" stroke="#231f20" stroke-width="0.6" />
<line x1="181.12" y1="446.90" x2="181.12" y2="448.10" stroke="#231f20" stroke-width="0.6" />
<line x1="181.96" y1="446.90" x2="181.96" y2="448.10" stroke="#231f20" stroke-width="0.6" />
<line x1="182.70" y1="446.90" x2="182.70" y2="449.10" stroke="#231f20" stroke-width="0.6" />
<text x="180.80" y="405.05" font-size="9.3" text-anchor="end" fill="#231f20" stroke="#231f20" stroke-width="0.2" textLength="12.02" lengthAdjust="spacingAndGlyphs" >0.9</text>
<text x="180.80" y="422.05" font-size="9.3" text-anchor="end" fill="#231f20" stroke="#231f20" stroke-width="0.2" textLength="9.62" lengthAdjust="spacingAndGlyphs" >21</text>
<text x="180.80" y="439.15" font-size="9.3" text-anchor="end" fill="#231f20" stroke="#231f20" stroke-width="0.2" textLength="9.62" lengthAdjust="spacingAndGlyphs" >36</text>
<text x="40.00" y="461.10" font-size="10" text-anchor="start" fill="#231f20" stroke="#231f20" stroke-width="0.2" textLength="17.5" lengthAdjust="spacingAndGlyphs" >IFNγ</text>
<line x1="63.00" y1="457.50" x2="71.70" y2="457.50" stroke="#231f20" stroke-width="1.35" />
<path d="M76.00,457.50 L71.20,460.00 L71.20,455.00 Z" fill="#231f20" stroke="none" stroke-width="1" />
<rect x="84.50" y="537.50" width="16.00" height="22.00" fill="#fff" stroke="#231f20" stroke-width="1" />
<rect x="103.50" y="525.50" width="15.00" height="34.00" fill="#fff" stroke="#231f20" stroke-width="1" />
<rect x="130.50" y="550.50" width="15.00" height="9.00" fill="#fff" stroke="#231f20" stroke-width="1" />
<rect x="149.50" y="545.50" width="16.00" height="14.00" fill="#fff" stroke="#231f20" stroke-width="1" />
<line x1="92.50" y1="532.50" x2="92.50" y2="542.00" stroke="#231f20" stroke-width="1" />
<line x1="89.20" y1="532.50" x2="95.20" y2="532.50" stroke="#231f20" stroke-width="1" />
<line x1="111.50" y1="521.00" x2="111.50" y2="530.00" stroke="#231f20" stroke-width="1" />
<line x1="108.20" y1="521.50" x2="114.20" y2="521.50" stroke="#231f20" stroke-width="1" />
<line x1="138.50" y1="547.50" x2="138.50" y2="553.00" stroke="#231f20" stroke-width="1" />
<line x1="135.00" y1="547.50" x2="141.00" y2="547.50" stroke="#231f20" stroke-width="1" />
<line x1="157.50" y1="543.50" x2="157.50" y2="547.00" stroke="#231f20" stroke-width="1" />
<line x1="154.20" y1="543.50" x2="160.20" y2="543.50" stroke="#231f20" stroke-width="1" />
<circle cx="92.10" cy="509.10" r="1.7" fill="#3f4a5f"/>
<circle cx="92.10" cy="517.20" r="1.7" fill="#3f4a5f"/>
<circle cx="89.50" cy="526.40" r="1.7" fill="#3f4a5f"/>
<circle cx="92.10" cy="525.30" r="1.7" fill="#3f4a5f"/>
<circle cx="94.70" cy="531.90" r="1.7" fill="#3f4a5f"/>
<circle cx="87.80" cy="538.00" r="1.7" fill="#3f4a5f"/>
<circle cx="92.10" cy="538.80" r="1.7" fill="#3f4a5f"/>
<circle cx="96.40" cy="538.00" r="1.7" fill="#3f4a5f"/>
<circle cx="90.40" cy="542.70" r="1.7" fill="#3f4a5f"/>
<circle cx="94.70" cy="543.20" r="1.7" fill="#3f4a5f"/>
<circle cx="92.10" cy="547.50" r="1.7" fill="#3f4a5f"/>
<circle cx="87.80" cy="551.00" r="1.7" fill="#3f4a5f"/>
<circle cx="96.40" cy="550.60" r="1.7" fill="#3f4a5f"/>
<circle cx="90.40" cy="554.80" r="1.7" fill="#3f4a5f"/>
<circle cx="94.70" cy="554.40" r="1.7" fill="#3f4a5f"/>
<circle cx="108.60" cy="497.00" r="1.7" fill="#9b1c3d"/>
<circle cx="114.10" cy="495.90" r="1.7" fill="#9b1c3d"/>
<circle cx="106.00" cy="507.70" r="1.7" fill="#9b1c3d"/>
<circle cx="109.40" cy="506.00" r="1.7" fill="#9b1c3d"/>
<circle cx="114.30" cy="506.80" r="1.7" fill="#9b1c3d"/>
<circle cx="111.50" cy="512.50" r="1.7" fill="#9b1c3d"/>
<circle cx="116.00" cy="511.50" r="1.7" fill="#9b1c3d"/>
<circle cx="111.20" cy="519.50" r="1.7" fill="#9b1c3d"/>
<circle cx="107.70" cy="530.20" r="1.7" fill="#9b1c3d"/>
<circle cx="112.90" cy="529.30" r="1.7" fill="#9b1c3d"/>
<circle cx="106.00" cy="535.40" r="1.7" fill="#9b1c3d"/>
<circle cx="110.30" cy="535.00" r="1.7" fill="#9b1c3d"/>
<circle cx="115.50" cy="535.00" r="1.7" fill="#9b1c3d"/>
<circle cx="108.60" cy="538.00" r="1.7" fill="#9b1c3d"/>
<circle cx="112.90" cy="538.00" r="1.7" fill="#9b1c3d"/>
<circle cx="106.00" cy="544.40" r="1.7" fill="#9b1c3d"/>
<circle cx="109.80" cy="546.60" r="1.7" fill="#9b1c3d"/>
<circle cx="113.70" cy="546.60" r="1.7" fill="#9b1c3d"/>
<circle cx="116.90" cy="543.70" r="1.7" fill="#9b1c3d"/>
<circle cx="138.00" cy="531.60" r="1.7" fill="#3f4a5f"/>
<circle cx="138.00" cy="538.00" r="1.7" fill="#3f4a5f"/>
<circle cx="142.70" cy="542.70" r="1.7" fill="#3f4a5f"/>
<circle cx="132.80" cy="546.60" r="1.7" fill="#3f4a5f"/>
<circle cx="138.00" cy="546.60" r="1.7" fill="#3f4a5f"/>
<circle cx="142.30" cy="548.40" r="1.7" fill="#3f4a5f"/>
<circle cx="131.90" cy="552.70" r="1.7" fill="#3f4a5f"/>
<circle cx="135.40" cy="553.60" r="1.7" fill="#3f4a5f"/>
<circle cx="139.70" cy="553.60" r="1.7" fill="#3f4a5f"/>
<circle cx="133.70" cy="556.20" r="1.7" fill="#3f4a5f"/>
<circle cx="138.00" cy="557.00" r="1.7" fill="#3f4a5f"/>
<circle cx="142.30" cy="554.40" r="1.7" fill="#3f4a5f"/>
<circle cx="151.30" cy="533.30" r="1.7" fill="#9b1c3d"/>
<circle cx="155.30" cy="533.30" r="1.7" fill="#9b1c3d"/>
<circle cx="159.60" cy="533.30" r="1.7" fill="#9b1c3d"/>
<circle cx="163.40" cy="533.30" r="1.7" fill="#9b1c3d"/>
<circle cx="151.30" cy="542.00" r="1.7" fill="#9b1c3d"/>
<circle cx="156.20" cy="543.20" r="1.7" fill="#9b1c3d"/>
<circle cx="162.20" cy="542.70" r="1.7" fill="#9b1c3d"/>
<circle cx="151.00" cy="547.50" r="1.7" fill="#9b1c3d"/>
<circle cx="153.60" cy="549.20" r="1.7" fill="#9b1c3d"/>
<circle cx="156.20" cy="551.80" r="1.7" fill="#9b1c3d"/>
<circle cx="158.70" cy="550.10" r="1.7" fill="#9b1c3d"/>
<circle cx="161.30" cy="548.40" r="1.7" fill="#9b1c3d"/>
<circle cx="154.80" cy="553.60" r="1.7" fill="#9b1c3d"/>
<circle cx="157.50" cy="553.60" r="1.7" fill="#9b1c3d"/>
<circle cx="156.20" cy="555.30" r="1.7" fill="#9b1c3d"/>
<line x1="79.50" y1="480.00" x2="79.50" y2="559.60" stroke="#231f20" stroke-width="1" />
<line x1="76.20" y1="484.50" x2="79.50" y2="484.50" stroke="#231f20" stroke-width="1" />
<text x="72.60" y="487.69" font-size="9.7" text-anchor="end" fill="#231f20" stroke="#231f20" stroke-width="0.2" textLength="9.49" lengthAdjust="spacingAndGlyphs" >25</text>
<line x1="76.20" y1="499.50" x2="79.50" y2="499.50" stroke="#231f20" stroke-width="1" />
<text x="72.60" y="502.69" font-size="9.7" text-anchor="end" fill="#231f20" stroke="#231f20" stroke-width="0.2" textLength="9.49" lengthAdjust="spacingAndGlyphs" >20</text>
<line x1="76.20" y1="514.50" x2="79.50" y2="514.50" stroke="#231f20" stroke-width="1" />
<text x="72.60" y="517.69" font-size="9.7" text-anchor="end" fill="#231f20" stroke="#231f20" stroke-width="0.2" textLength="9.49" lengthAdjust="spacingAndGlyphs" >15</text>
<line x1="76.20" y1="529.50" x2="79.50" y2="529.50" stroke="#231f20" stroke-width="1" />
<text x="72.60" y="532.69" font-size="9.7" text-anchor="end" fill="#231f20" stroke="#231f20" stroke-width="0.2" textLength="9.49" lengthAdjust="spacingAndGlyphs" >10</text>
<line x1="76.20" y1="544.50" x2="79.50" y2="544.50" stroke="#231f20" stroke-width="1" />
<text x="72.60" y="547.69" font-size="9.7" text-anchor="end" fill="#231f20" stroke="#231f20" stroke-width="0.2" textLength="4.75" lengthAdjust="spacingAndGlyphs" >5</text>
<line x1="76.20" y1="559.50" x2="79.50" y2="559.50" stroke="#231f20" stroke-width="1" />
<text x="72.60" y="562.69" font-size="9.7" text-anchor="end" fill="#231f20" stroke="#231f20" stroke-width="0.2" textLength="4.75" lengthAdjust="spacingAndGlyphs" >0</text>
<line x1="79.50" y1="559.50" x2="167.70" y2="559.50" stroke="#231f20" stroke-width="1" />
<line x1="93.00" y1="488.00" x2="108.25" y2="488.00" stroke="#231f20" stroke-width="1.3" />
<text x="100.62" y="488.42" font-size="9.5" text-anchor="middle" fill="#231f20" font-weight="bold" >*</text>
<line x1="139.40" y1="520.60" x2="155.60" y2="520.60" stroke="#231f20" stroke-width="1.3" />
<text x="147.50" y="521.02" font-size="9.5" text-anchor="middle" fill="#231f20" font-weight="bold" >*</text>
<text x="101.70" y="574.42" font-size="9.5" text-anchor="middle" fill="#231f20" stroke="#231f20" stroke-width="0.2" >CD8<tspan dy="-3" font-size="7.3">+</tspan></text>
<text x="147.50" y="574.42" font-size="9.5" text-anchor="middle" fill="#231f20" stroke="#231f20" stroke-width="0.2" >CD4<tspan dy="-3" font-size="7.3">+</tspan></text>
<text transform="translate(53.75,520.60) rotate(-90)" x="0" y="3.60" font-size="10" text-anchor="middle" fill="#231f20" stroke="#231f20" stroke-width="0.2" textLength="73.7" lengthAdjust="spacingAndGlyphs">IFNγ<tspan dy="-3" font-size="7.3">+</tspan><tspan dy="3"> T cells (x10</tspan><tspan dy="-3" font-size="7.3">4</tspan><tspan dy="3">)</tspan></text>
<text x="196.25" y="362.27" font-size="12" text-anchor="start" fill="#000" font-weight="bold" >H</text>
<line x1="237.50" y1="429.50" x2="288.25" y2="402.50" stroke="#9b1c3d" stroke-width="1.3" />
<circle cx="238.25" cy="428.25" r="1.7" fill="#9b1c3d"/>
<circle cx="241.25" cy="427.00" r="1.7" fill="#9b1c3d"/>
<circle cx="242.50" cy="422.00" r="1.7" fill="#9b1c3d"/>
<circle cx="241.25" cy="435.00" r="1.7" fill="#9b1c3d"/>
<circle cx="242.50" cy="435.00" r="1.7" fill="#9b1c3d"/>
<circle cx="247.00" cy="427.00" r="1.7" fill="#9b1c3d"/>
<circle cx="247.50" cy="432.50" r="1.7" fill="#9b1c3d"/>
<circle cx="248.75" cy="414.25" r="1.7" fill="#9b1c3d"/>
<circle cx="266.25" cy="423.00" r="1.7" fill="#9b1c3d"/>
<circle cx="267.00" cy="409.50" r="1.7" fill="#9b1c3d"/>
<circle cx="272.50" cy="409.50" r="1.7" fill="#9b1c3d"/>
<circle cx="273.75" cy="396.25" r="1.7" fill="#9b1c3d"/>
<circle cx="276.25" cy="425.75" r="1.7" fill="#9b1c3d"/>
<circle cx="281.25" cy="403.75" r="1.7" fill="#9b1c3d"/>
<circle cx="286.25" cy="404.50" r="1.7" fill="#9b1c3d"/>
<circle cx="287.50" cy="405.50" r="1.7" fill="#9b1c3d"/>
<circle cx="288.25" cy="397.50" r="1.7" fill="#9b1c3d"/>
<line x1="234.50" y1="383.75" x2="234.50" y2="445.00" stroke="#231f20" stroke-width="1" />
<line x1="231.20" y1="387.50" x2="234.50" y2="387.50" stroke="#231f20" stroke-width="1" />
<text x="227.60" y="390.09" font-size="9.7" text-anchor="end" fill="#231f20" stroke="#231f20" stroke-width="0.2" textLength="9.49" lengthAdjust="spacingAndGlyphs" >25</text>
<line x1="231.20" y1="398.50" x2="234.50" y2="398.50" stroke="#231f20" stroke-width="1" />
<text x="227.60" y="401.69" font-size="9.7" text-anchor="end" fill="#231f20" stroke="#231f20" stroke-width="0.2" textLength="9.49" lengthAdjust="spacingAndGlyphs" >20</text>
<line x1="231.20" y1="410.50" x2="234.50" y2="410.50" stroke="#231f20" stroke-width="1" />
<text x="227.60" y="413.29" font-size="9.7" text-anchor="end" fill="#231f20" stroke="#231f20" stroke-width="0.2" textLength="9.49" lengthAdjust="spacingAndGlyphs" >15</text>
<line x1="231.20" y1="421.50" x2="234.50" y2="421.50" stroke="#231f20" stroke-width="1" />
<text x="227.60" y="424.89" font-size="9.7" text-anchor="end" fill="#231f20" stroke="#231f20" stroke-width="0.2" textLength="9.49" lengthAdjust="spacingAndGlyphs" >10</text>
<line x1="231.20" y1="433.50" x2="234.50" y2="433.50" stroke="#231f20" stroke-width="1" />
<text x="227.60" y="436.49" font-size="9.7" text-anchor="end" fill="#231f20" stroke="#231f20" stroke-width="0.2" textLength="4.75" lengthAdjust="spacingAndGlyphs" >5</text>
<line x1="231.20" y1="445.50" x2="234.50" y2="445.50" stroke="#231f20" stroke-width="1" />
<text x="227.60" y="448.09" font-size="9.7" text-anchor="end" fill="#231f20" stroke="#231f20" stroke-width="0.2" textLength="4.75" lengthAdjust="spacingAndGlyphs" >0</text>
<line x1="234.50" y1="445.50" x2="291.25" y2="445.50" stroke="#231f20" stroke-width="1" />
<line x1="240.50" y1="445.00" x2="240.50" y2="448.00" stroke="#231f20" stroke-width="1" />
<text x="240.75" y="460.49" font-size="9.7" text-anchor="middle" fill="#231f20" stroke="#231f20" stroke-width="0.2" textLength="4.75" lengthAdjust="spacingAndGlyphs" >1</text>
<line x1="256.50" y1="445.00" x2="256.50" y2="448.00" stroke="#231f20" stroke-width="1" />
<text x="256.35" y="460.49" font-size="9.7" text-anchor="middle" fill="#231f20" stroke="#231f20" stroke-width="0.2" textLength="4.75" lengthAdjust="spacingAndGlyphs" >2</text>
<line x1="271.50" y1="445.00" x2="271.50" y2="448.00" stroke="#231f20" stroke-width="1" />
<text x="271.95" y="460.49" font-size="9.7" text-anchor="middle" fill="#231f20" stroke="#231f20" stroke-width="0.2" textLength="4.75" lengthAdjust="spacingAndGlyphs" >3</text>
<line x1="287.50" y1="445.00" x2="287.50" y2="448.00" stroke="#231f20" stroke-width="1" />
<text x="287.55" y="460.49" font-size="9.7" text-anchor="middle" fill="#231f20" stroke="#231f20" stroke-width="0.2" textLength="4.75" lengthAdjust="spacingAndGlyphs" >4</text>
<text x="237.00" y="392.85" font-size="9.3" text-anchor="start" fill="#231f20" stroke="#231f20" stroke-width="0.2" textLength="29.57" lengthAdjust="spacingAndGlyphs" >r = 0.83</text>
<text x="237.00" y="402.85" font-size="9.3" text-anchor="start" fill="#231f20" stroke="#231f20" stroke-width="0.2" textLength="35" lengthAdjust="spacingAndGlyphs" >p &lt;.0001</text>
<text x="263.40" y="473.28" font-size="10.5" text-anchor="middle" fill="#231f20" stroke="#231f20" stroke-width="0.2" textLength="76.5" lengthAdjust="spacingAndGlyphs">Log [MM cells x10<tspan dy="-3.5" font-size="7">2</tspan><tspan dy="3.5">]</tspan></text>
<text transform="translate(207.50,412.90) rotate(-90)" x="0" y="3.60" font-size="10" text-anchor="middle" fill="#231f20" stroke="#231f20" stroke-width="0.2" textLength="77.8" lengthAdjust="spacingAndGlyphs">IFNγ<tspan dy="-3" font-size="7.3">+</tspan><tspan dy="3">CD8</tspan><tspan dy="-3" font-size="7.3">+</tspan><tspan dy="3">T (x10</tspan><tspan dy="-3" font-size="7.3">4</tspan><tspan dy="3">)</tspan></text>
<line x1="238.75" y1="559.50" x2="280.50" y2="523.00" stroke="#9b1c3d" stroke-width="1.3" />
<circle cx="241.25" cy="550.00" r="1.7" fill="#9b1c3d"/>
<circle cx="242.00" cy="556.25" r="1.7" fill="#9b1c3d"/>
<circle cx="243.00" cy="558.00" r="1.7" fill="#9b1c3d"/>
<circle cx="240.75" cy="557.50" r="1.7" fill="#9b1c3d"/>
<circle cx="243.75" cy="553.00" r="1.7" fill="#9b1c3d"/>
<circle cx="247.50" cy="552.50" r="1.7" fill="#9b1c3d"/>
<circle cx="248.75" cy="534.00" r="1.7" fill="#9b1c3d"/>
<circle cx="263.75" cy="540.00" r="1.7" fill="#9b1c3d"/>
<circle cx="268.75" cy="522.50" r="1.7" fill="#9b1c3d"/>
<circle cx="271.25" cy="542.00" r="1.7" fill="#9b1c3d"/>
<circle cx="279.50" cy="529.25" r="1.7" fill="#9b1c3d"/>
<circle cx="281.25" cy="517.00" r="1.7" fill="#9b1c3d"/>
<circle cx="241.50" cy="559.00" r="1.7" fill="#9b1c3d"/>
<line x1="233.50" y1="498.00" x2="233.50" y2="559.50" stroke="#231f20" stroke-width="1" />
<line x1="230.45" y1="501.50" x2="233.75" y2="501.50" stroke="#231f20" stroke-width="1" />
<text x="226.85" y="504.59" font-size="9.7" text-anchor="end" fill="#231f20" stroke="#231f20" stroke-width="0.2" textLength="9.49" lengthAdjust="spacingAndGlyphs" >20</text>
<line x1="230.45" y1="516.50" x2="233.75" y2="516.50" stroke="#231f20" stroke-width="1" />
<text x="226.85" y="519.09" font-size="9.7" text-anchor="end" fill="#231f20" stroke="#231f20" stroke-width="0.2" textLength="9.49" lengthAdjust="spacingAndGlyphs" >15</text>
<line x1="230.45" y1="530.50" x2="233.75" y2="530.50" stroke="#231f20" stroke-width="1" />
<text x="226.85" y="533.59" font-size="9.7" text-anchor="end" fill="#231f20" stroke="#231f20" stroke-width="0.2" textLength="9.49" lengthAdjust="spacingAndGlyphs" >10</text>
<line x1="230.45" y1="545.50" x2="233.75" y2="545.50" stroke="#231f20" stroke-width="1" />
<text x="226.85" y="548.09" font-size="9.7" text-anchor="end" fill="#231f20" stroke="#231f20" stroke-width="0.2" textLength="4.75" lengthAdjust="spacingAndGlyphs" >5</text>
<line x1="230.45" y1="559.50" x2="233.75" y2="559.50" stroke="#231f20" stroke-width="1" />
<text x="226.85" y="562.59" font-size="9.7" text-anchor="end" fill="#231f20" stroke="#231f20" stroke-width="0.2" textLength="4.75" lengthAdjust="spacingAndGlyphs" >0</text>
<line x1="233.75" y1="559.50" x2="297.50" y2="559.50" stroke="#231f20" stroke-width="1" />
<line x1="242.50" y1="559.50" x2="242.50" y2="562.50" stroke="#231f20" stroke-width="1" />
<text x="242.00" y="574.74" font-size="9.7" text-anchor="middle" fill="#231f20" stroke="#231f20" stroke-width="0.2" textLength="4.75" lengthAdjust="spacingAndGlyphs" >1</text>
<line x1="254.50" y1="559.50" x2="254.50" y2="562.50" stroke="#231f20" stroke-width="1" />
<text x="254.75" y="574.74" font-size="9.7" text-anchor="middle" fill="#231f20" stroke="#231f20" stroke-width="0.2" textLength="4.75" lengthAdjust="spacingAndGlyphs" >2</text>
<line x1="267.50" y1="559.50" x2="267.50" y2="562.50" stroke="#231f20" stroke-width="1" />
<text x="267.50" y="574.74" font-size="9.7" text-anchor="middle" fill="#231f20" stroke="#231f20" stroke-width="0.2" textLength="4.75" lengthAdjust="spacingAndGlyphs" >3</text>
<line x1="280.50" y1="559.50" x2="280.50" y2="562.50" stroke="#231f20" stroke-width="1" />
<text x="280.25" y="574.74" font-size="9.7" text-anchor="middle" fill="#231f20" stroke="#231f20" stroke-width="0.2" textLength="4.75" lengthAdjust="spacingAndGlyphs" >4</text>
<line x1="293.50" y1="559.50" x2="293.50" y2="562.50" stroke="#231f20" stroke-width="1" />
<text x="293.00" y="574.74" font-size="9.7" text-anchor="middle" fill="#231f20" stroke="#231f20" stroke-width="0.2" textLength="4.75" lengthAdjust="spacingAndGlyphs" >5</text>
<text x="237.00" y="507.85" font-size="9.3" text-anchor="start" fill="#231f20" stroke="#231f20" stroke-width="0.2" textLength="29.57" lengthAdjust="spacingAndGlyphs" >r = 0.82</text>
<text x="237.00" y="517.85" font-size="9.3" text-anchor="start" fill="#231f20" stroke="#231f20" stroke-width="0.2" textLength="41.12" lengthAdjust="spacingAndGlyphs" >p = 0.0009</text>
<text x="268.60" y="588.28" font-size="10.5" text-anchor="middle" fill="#231f20" stroke="#231f20" stroke-width="0.2" textLength="76.2" lengthAdjust="spacingAndGlyphs">Log [MM cells x10<tspan dy="-3.5" font-size="7">2</tspan><tspan dy="3.5">]</tspan></text>
<text transform="translate(207.50,528.00) rotate(-90)" x="0" y="3.60" font-size="10" text-anchor="middle" fill="#231f20" stroke="#231f20" stroke-width="0.2" textLength="90.8" lengthAdjust="spacingAndGlyphs">CD107a<tspan dy="-3" font-size="7.3">+</tspan><tspan dy="3">CD8</tspan><tspan dy="-3" font-size="7.3">+</tspan><tspan dy="3">T (x10</tspan><tspan dy="-3" font-size="7.3">4</tspan><tspan dy="3">)</tspan></text>
<text x="321.50" y="362.27" font-size="12" text-anchor="start" fill="#000" font-weight="bold" >I</text>
<text x="372.20" y="372.57" font-size="11.3" text-anchor="middle" fill="#231f20" stroke="#231f20" stroke-width="0.2" textLength="14.5" lengthAdjust="spacingAndGlyphs" >clg</text>
<text x="451.10" y="371.47" font-size="11.3" text-anchor="middle" fill="#231f20" stroke="#231f20" stroke-width="0.2" textLength="33.8" lengthAdjust="spacingAndGlyphs" >αTIGIT</text>
<circle cx="379.32" cy="427.62" r="0.35" fill="#a8a8a8"/><circle cx="366.16" cy="400.66" r="0.35" fill="#a8a8a8"/><circle cx="375.82" cy="431.01" r="0.35" fill="#a8a8a8"/><circle cx="376.81" cy="397.38" r="0.35" fill="#a8a8a8"/><circle cx="365.74" cy="411.66" r="0.35" fill="#a8a8a8"/><circle cx="382.10" cy="412.27" r="0.35" fill="#a8a8a8"/><circle cx="369.62" cy="409.06" r="0.35" fill="#a8a8a8"/><circle cx="374.96" cy="401.87" r="0.35" fill="#a8a8a8"/><circle cx="373.33" cy="416.47" r="0.35" fill="#a8a8a8"/><circle cx="385.85" cy="411.71" r="0.35" fill="#a8a8a8"/><circle cx="381.30" cy="399.88" r="0.35" fill="#a8a8a8"/><circle cx="381.38" cy="414.66" r="0.35" fill="#a8a8a8"/><circle cx="367.91" cy="412.11" r="0.35" fill="#a8a8a8"/><circle cx="381.66" cy="408.06" r="0.35" fill="#a8a8a8"/><circle cx="380.61" cy="428.33" r="0.35" fill="#a8a8a8"/><circle cx="383.19" cy="426.87" r="0.35" fill="#a8a8a8"/><circle cx="362.37" cy="416.71" r="0.35" fill="#a8a8a8"/><circle cx="367.26" cy="424.69" r="0.35" fill="#a8a8a8"/><circle cx="374.11" cy="415.88" r="0.35" fill="#a8a8a8"/><circle cx="377.82" cy="404.10" r="0.35" fill="#a8a8a8"/><circle cx="374.29" cy="402.20" r="0.35" fill="#a8a8a8"/><circle cx="386.86" cy="407.97" r="0.35" fill="#a8a8a8"/><circle cx="373.39" cy="392.93" r="0.35" fill="#a8a8a8"/><circle cx="361.84" cy="402.93" r="0.35" fill="#a8a8a8"/><circle cx="380.41" cy="422.49" r="0.35" fill="#a8a8a8"/><circle cx="376.12" cy="403.33" r="0.35" fill="#a8a8a8"/><circle cx="385.47" cy="402.44" r="0.35" fill="#a8a8a8"/><circle cx="365.38" cy="419.10" r="0.35" fill="#a8a8a8"/><circle cx="364.15" cy="416.09" r="0.35" fill="#a8a8a8"/><circle cx="382.29" cy="411.56" r="0.35" fill="#a8a8a8"/><circle cx="377.50" cy="413.12" r="0.35" fill="#a8a8a8"/><circle cx="370.03" cy="390.66" r="0.35" fill="#a8a8a8"/><circle cx="362.52" cy="412.38" r="0.35" fill="#a8a8a8"/><circle cx="360.71" cy="406.11" r="0.35" fill="#a8a8a8"/><circle cx="375.04" cy="428.79" r="0.35" fill="#a8a8a8"/><circle cx="361.94" cy="406.01" r="0.35" fill="#a8a8a8"/><circle cx="375.60" cy="420.17" r="0.35" fill="#a8a8a8"/><circle cx="364.67" cy="429.16" r="0.35" fill="#a8a8a8"/><circle cx="366.41" cy="425.87" r="0.35" fill="#a8a8a8"/><circle cx="371.33" cy="418.58" r="0.35" fill="#a8a8a8"/><circle cx="385.35" cy="419.90" r="0.35" fill="#a8a8a8"/><circle cx="374.55" cy="398.81" r="0.35" fill="#a8a8a8"/><circle cx="368.00" cy="395.59" r="0.35" fill="#a8a8a8"/><circle cx="384.77" cy="399.29" r="0.35" fill="#a8a8a8"/><circle cx="360.60" cy="423.99" r="0.35" fill="#a8a8a8"/><circle cx="384.15" cy="407.97" r="0.35" fill="#a8a8a8"/><circle cx="380.78" cy="401.74" r="0.35" fill="#a8a8a8"/><circle cx="367.73" cy="419.65" r="0.35" fill="#a8a8a8"/><circle cx="377.29" cy="405.82" r="0.35" fill="#a8a8a8"/><circle cx="385.16" cy="420.27" r="0.35" fill="#a8a8a8"/><circle cx="374.56" cy="396.98" r="0.35" fill="#a8a8a8"/><circle cx="374.78" cy="407.74" r="0.35" fill="#a8a8a8"/><circle cx="372.60" cy="423.75" r="0.35" fill="#a8a8a8"/><circle cx="367.60" cy="416.37" r="0.35" fill="#a8a8a8"/><circle cx="380.88" cy="417.37" r="0.35" fill="#a8a8a8"/><circle cx="384.95" cy="399.17" r="0.35" fill="#a8a8a8"/><circle cx="372.73" cy="396.88" r="0.35" fill="#a8a8a8"/><circle cx="372.80" cy="433.39" r="0.35" fill="#a8a8a8"/><circle cx="360.40" cy="409.01" r="0.35" fill="#a8a8a8"/><circle cx="379.78" cy="413.78" r="0.35" fill="#a8a8a8"/><circle cx="380.02" cy="395.44" r="0.35" fill="#a8a8a8"/><circle cx="381.52" cy="400.51" r="0.35" fill="#a8a8a8"/><circle cx="362.81" cy="419.46" r="0.35" fill="#a8a8a8"/><circle cx="377.85" cy="402.16" r="0.35" fill="#a8a8a8"/><circle cx="365.33" cy="409.54" r="0.35" fill="#a8a8a8"/><circle cx="373.17" cy="409.80" r="0.35" fill="#a8a8a8"/><circle cx="367.23" cy="392.40" r="0.35" fill="#a8a8a8"/><circle cx="384.39" cy="414.48" r="0.35" fill="#a8a8a8"/><circle cx="364.47" cy="396.16" r="0.35" fill="#a8a8a8"/><circle cx="366.46" cy="406.40" r="0.35" fill="#a8a8a8"/><circle cx="360.86" cy="423.96" r="0.35" fill="#a8a8a8"/><circle cx="377.53" cy="407.54" r="0.35" fill="#a8a8a8"/><circle cx="376.79" cy="415.76" r="0.35" fill="#a8a8a8"/><circle cx="382.87" cy="414.31" r="0.35" fill="#a8a8a8"/><circle cx="381.82" cy="427.75" r="0.35" fill="#a8a8a8"/><circle cx="370.02" cy="405.56" r="0.35" fill="#a8a8a8"/><circle cx="364.74" cy="409.01" r="0.35" fill="#a8a8a8"/><circle cx="366.00" cy="412.39" r="0.35" fill="#a8a8a8"/><circle cx="376.23" cy="420.10" r="0.35" fill="#a8a8a8"/><circle cx="363.94" cy="424.79" r="0.35" fill="#a8a8a8"/><circle cx="369.94" cy="410.55" r="0.35" fill="#a8a8a8"/><circle cx="369.60" cy="392.19" r="0.35" fill="#a8a8a8"/><circle cx="375.02" cy="392.80" r="0.35" fill="#a8a8a8"/><circle cx="383.17" cy="412.73" r="0.35" fill="#a8a8a8"/><circle cx="385.04" cy="419.42" r="0.35" fill="#a8a8a8"/><circle cx="378.70" cy="428.44" r="0.35" fill="#a8a8a8"/><circle cx="372.77" cy="430.24" r="0.35" fill="#a8a8a8"/><circle cx="371.81" cy="416.12" r="0.35" fill="#a8a8a8"/><circle cx="366.63" cy="419.81" r="0.35" fill="#a8a8a8"/><circle cx="379.59" cy="405.07" r="0.35" fill="#a8a8a8"/><circle cx="361.92" cy="411.68" r="0.35" fill="#a8a8a8"/><circle cx="377.45" cy="409.81" r="0.35" fill="#a8a8a8"/><circle cx="364.42" cy="402.75" r="0.35" fill="#a8a8a8"/><circle cx="371.58" cy="390.61" r="0.35" fill="#a8a8a8"/><circle cx="368.39" cy="428.98" r="0.35" fill="#a8a8a8"/><circle cx="361.95" cy="409.36" r="0.35" fill="#a8a8a8"/><circle cx="385.43" cy="419.69" r="0.35" fill="#a8a8a8"/><circle cx="381.82" cy="410.11" r="0.35" fill="#a8a8a8"/><circle cx="366.82" cy="431.81" r="0.35" fill="#a8a8a8"/><circle cx="376.22" cy="415.77" r="0.35" fill="#a8a8a8"/><circle cx="385.08" cy="420.77" r="0.35" fill="#a8a8a8"/><circle cx="373.62" cy="397.40" r="0.35" fill="#a8a8a8"/><circle cx="371.48" cy="409.88" r="0.35" fill="#a8a8a8"/><circle cx="366.89" cy="400.53" r="0.35" fill="#a8a8a8"/><circle cx="363.73" cy="410.51" r="0.35" fill="#a8a8a8"/><circle cx="367.22" cy="418.02" r="0.35" fill="#a8a8a8"/><circle cx="382.39" cy="416.35" r="0.35" fill="#a8a8a8"/><circle cx="373.23" cy="430.33" r="0.35" fill="#a8a8a8"/><circle cx="378.22" cy="395.05" r="0.35" fill="#a8a8a8"/><circle cx="366.01" cy="414.90" r="0.35" fill="#a8a8a8"/><circle cx="365.16" cy="422.05" r="0.35" fill="#a8a8a8"/><circle cx="363.08" cy="396.20" r="0.35" fill="#a8a8a8"/><circle cx="381.90" cy="419.74" r="0.35" fill="#a8a8a8"/><circle cx="360.36" cy="412.94" r="0.35" fill="#a8a8a8"/><circle cx="383.20" cy="399.75" r="0.35" fill="#a8a8a8"/><circle cx="363.90" cy="398.39" r="0.35" fill="#a8a8a8"/><circle cx="366.18" cy="394.38" r="0.35" fill="#a8a8a8"/><circle cx="369.11" cy="394.86" r="0.35" fill="#a8a8a8"/><circle cx="373.42" cy="432.91" r="0.35" fill="#a8a8a8"/><circle cx="364.16" cy="423.25" r="0.35" fill="#a8a8a8"/><circle cx="379.65" cy="392.88" r="0.35" fill="#a8a8a8"/><circle cx="374.19" cy="411.88" r="0.35" fill="#a8a8a8"/><circle cx="369.80" cy="423.27" r="0.35" fill="#a8a8a8"/><circle cx="368.58" cy="417.26" r="0.35" fill="#a8a8a8"/><circle cx="369.02" cy="409.98" r="0.35" fill="#a8a8a8"/><circle cx="368.29" cy="432.08" r="0.35" fill="#a8a8a8"/><circle cx="372.51" cy="397.16" r="0.35" fill="#a8a8a8"/><circle cx="384.37" cy="425.43" r="0.35" fill="#a8a8a8"/><circle cx="371.06" cy="402.50" r="0.35" fill="#a8a8a8"/><circle cx="366.89" cy="427.05" r="0.35" fill="#a8a8a8"/><circle cx="369.82" cy="401.85" r="0.35" fill="#a8a8a8"/><circle cx="381.09" cy="408.26" r="0.35" fill="#a8a8a8"/><circle cx="372.63" cy="432.08" r="0.35" fill="#a8a8a8"/><circle cx="380.04" cy="426.81" r="0.35" fill="#a8a8a8"/><circle cx="376.58" cy="428.07" r="0.35" fill="#a8a8a8"/><circle cx="371.42" cy="425.25" r="0.35" fill="#a8a8a8"/><circle cx="382.52" cy="406.57" r="0.35" fill="#a8a8a8"/><circle cx="362.17" cy="418.63" r="0.35" fill="#a8a8a8"/><circle cx="371.81" cy="420.96" r="0.35" fill="#a8a8a8"/><circle cx="367.16" cy="419.56" r="0.35" fill="#a8a8a8"/><circle cx="378.53" cy="431.84" r="0.35" fill="#a8a8a8"/><circle cx="386.15" cy="416.22" r="0.35" fill="#a8a8a8"/><circle cx="384.51" cy="404.69" r="0.35" fill="#a8a8a8"/><circle cx="383.51" cy="413.84" r="0.35" fill="#a8a8a8"/><circle cx="384.30" cy="416.16" r="0.35" fill="#a8a8a8"/><circle cx="370.75" cy="401.81" r="0.35" fill="#a8a8a8"/><circle cx="384.02" cy="412.77" r="0.35" fill="#a8a8a8"/><circle cx="379.89" cy="418.80" r="0.35" fill="#a8a8a8"/><circle cx="359.44" cy="417.88" r="0.35" fill="#a8a8a8"/><circle cx="369.24" cy="417.85" r="0.35" fill="#a8a8a8"/><circle cx="376.51" cy="392.86" r="0.35" fill="#a8a8a8"/><circle cx="369.74" cy="411.11" r="0.35" fill="#a8a8a8"/><circle cx="376.63" cy="424.82" r="0.35" fill="#a8a8a8"/><circle cx="366.28" cy="408.68" r="0.35" fill="#a8a8a8"/><circle cx="377.44" cy="393.01" r="0.35" fill="#a8a8a8"/><circle cx="385.53" cy="402.69" r="0.35" fill="#a8a8a8"/><circle cx="384.34" cy="413.84" r="0.35" fill="#a8a8a8"/><circle cx="385.41" cy="422.03" r="0.35" fill="#a8a8a8"/><circle cx="372.75" cy="392.96" r="0.35" fill="#a8a8a8"/><circle cx="374.38" cy="416.94" r="0.35" fill="#a8a8a8"/><circle cx="377.64" cy="396.39" r="0.35" fill="#a8a8a8"/><circle cx="365.53" cy="401.71" r="0.35" fill="#a8a8a8"/><circle cx="375.69" cy="399.92" r="0.35" fill="#a8a8a8"/><circle cx="371.90" cy="424.88" r="0.35" fill="#a8a8a8"/><circle cx="369.48" cy="428.52" r="0.35" fill="#a8a8a8"/><circle cx="376.07" cy="408.29" r="0.35" fill="#a8a8a8"/><circle cx="382.74" cy="418.44" r="0.35" fill="#a8a8a8"/><circle cx="370.15" cy="403.44" r="0.35" fill="#a8a8a8"/><circle cx="372.55" cy="417.26" r="0.35" fill="#a8a8a8"/><circle cx="383.23" cy="415.56" r="0.35" fill="#a8a8a8"/><circle cx="367.91" cy="395.99" r="0.35" fill="#a8a8a8"/><circle cx="375.63" cy="417.91" r="0.35" fill="#a8a8a8"/><circle cx="382.95" cy="405.25" r="0.35" fill="#a8a8a8"/><circle cx="362.57" cy="421.88" r="0.35" fill="#a8a8a8"/><circle cx="371.50" cy="396.33" r="0.35" fill="#a8a8a8"/><circle cx="384.98" cy="421.39" r="0.35" fill="#a8a8a8"/><circle cx="373.68" cy="416.28" r="0.35" fill="#a8a8a8"/><circle cx="366.46" cy="424.76" r="0.35" fill="#a8a8a8"/><circle cx="368.68" cy="405.42" r="0.35" fill="#a8a8a8"/><circle cx="370.36" cy="397.14" r="0.35" fill="#a8a8a8"/><circle cx="380.24" cy="429.15" r="0.35" fill="#a8a8a8"/><circle cx="377.97" cy="392.51" r="0.35" fill="#a8a8a8"/><circle cx="370.01" cy="402.80" r="0.35" fill="#a8a8a8"/><circle cx="375.46" cy="391.55" r="0.35" fill="#a8a8a8"/><circle cx="359.06" cy="407.68" r="0.35" fill="#a8a8a8"/><circle cx="382.17" cy="409.46" r="0.35" fill="#a8a8a8"/><circle cx="386.51" cy="404.44" r="0.35" fill="#a8a8a8"/><circle cx="373.43" cy="409.77" r="0.35" fill="#a8a8a8"/><circle cx="366.00" cy="425.72" r="0.35" fill="#a8a8a8"/><circle cx="362.84" cy="400.15" r="0.35" fill="#a8a8a8"/><circle cx="369.37" cy="405.00" r="0.35" fill="#a8a8a8"/><circle cx="382.93" cy="405.26" r="0.35" fill="#a8a8a8"/><circle cx="378.01" cy="405.27" r="0.35" fill="#a8a8a8"/><circle cx="384.14" cy="411.80" r="0.35" fill="#a8a8a8"/><circle cx="375.06" cy="393.45" r="0.35" fill="#a8a8a8"/><circle cx="379.67" cy="403.17" r="0.35" fill="#a8a8a8"/><circle cx="381.26" cy="418.92" r="0.35" fill="#a8a8a8"/><circle cx="377.78" cy="426.45" r="0.35" fill="#a8a8a8"/><circle cx="376.57" cy="399.93" r="0.35" fill="#a8a8a8"/><circle cx="374.67" cy="414.63" r="0.35" fill="#a8a8a8"/><circle cx="362.92" cy="419.75" r="0.35" fill="#a8a8a8"/><circle cx="385.03" cy="414.93" r="0.35" fill="#a8a8a8"/><circle cx="374.19" cy="418.93" r="0.35" fill="#a8a8a8"/><circle cx="382.72" cy="405.07" r="0.35" fill="#a8a8a8"/><circle cx="381.47" cy="402.41" r="0.35" fill="#a8a8a8"/><circle cx="378.25" cy="419.47" r="0.35" fill="#a8a8a8"/><circle cx="362.36" cy="420.01" r="0.35" fill="#a8a8a8"/><circle cx="374.70" cy="393.22" r="0.35" fill="#a8a8a8"/><circle cx="368.61" cy="403.08" r="0.35" fill="#a8a8a8"/><circle cx="364.68" cy="417.71" r="0.35" fill="#a8a8a8"/><circle cx="365.31" cy="412.74" r="0.35" fill="#a8a8a8"/><circle cx="363.16" cy="408.52" r="0.35" fill="#a8a8a8"/><circle cx="386.22" cy="416.39" r="0.35" fill="#a8a8a8"/><circle cx="361.53" cy="401.88" r="0.35" fill="#a8a8a8"/><circle cx="371.92" cy="393.39" r="0.35" fill="#a8a8a8"/><circle cx="382.17" cy="411.45" r="0.35" fill="#a8a8a8"/><circle cx="372.28" cy="412.83" r="0.35" fill="#a8a8a8"/><circle cx="367.16" cy="397.69" r="0.35" fill="#a8a8a8"/><circle cx="359.76" cy="401.92" r="0.35" fill="#a8a8a8"/><circle cx="375.33" cy="421.84" r="0.35" fill="#a8a8a8"/><circle cx="371.66" cy="392.40" r="0.35" fill="#a8a8a8"/><circle cx="369.52" cy="412.55" r="0.35" fill="#a8a8a8"/><circle cx="363.67" cy="426.44" r="0.35" fill="#a8a8a8"/><circle cx="362.84" cy="412.02" r="0.35" fill="#a8a8a8"/><circle cx="363.89" cy="423.09" r="0.35" fill="#a8a8a8"/><circle cx="362.86" cy="401.45" r="0.35" fill="#a8a8a8"/><circle cx="381.59" cy="397.82" r="0.35" fill="#a8a8a8"/><circle cx="367.71" cy="419.74" r="0.35" fill="#a8a8a8"/><circle cx="375.65" cy="392.93" r="0.35" fill="#a8a8a8"/><circle cx="379.00" cy="407.75" r="0.35" fill="#a8a8a8"/><circle cx="381.13" cy="395.14" r="0.35" fill="#a8a8a8"/><circle cx="380.34" cy="417.66" r="0.35" fill="#a8a8a8"/><circle cx="369.18" cy="405.78" r="0.35" fill="#a8a8a8"/><circle cx="376.76" cy="402.19" r="0.35" fill="#a8a8a8"/><circle cx="369.65" cy="401.17" r="0.35" fill="#a8a8a8"/><circle cx="374.35" cy="421.74" r="0.35" fill="#a8a8a8"/><circle cx="360.38" cy="412.28" r="0.35" fill="#a8a8a8"/><circle cx="375.48" cy="429.73" r="0.35" fill="#a8a8a8"/><circle cx="366.86" cy="427.15" r="0.35" fill="#a8a8a8"/><circle cx="368.56" cy="419.08" r="0.35" fill="#a8a8a8"/><circle cx="375.27" cy="416.07" r="0.35" fill="#a8a8a8"/><circle cx="369.82" cy="398.74" r="0.35" fill="#a8a8a8"/><circle cx="383.03" cy="426.34" r="0.35" fill="#a8a8a8"/><circle cx="371.78" cy="409.37" r="0.35" fill="#a8a8a8"/><circle cx="371.18" cy="395.36" r="0.35" fill="#a8a8a8"/><circle cx="363.08" cy="417.35" r="0.35" fill="#a8a8a8"/><circle cx="381.89" cy="408.86" r="0.35" fill="#a8a8a8"/><circle cx="365.19" cy="398.84" r="0.35" fill="#a8a8a8"/><circle cx="367.15" cy="421.61" r="0.35" fill="#a8a8a8"/><circle cx="373.37" cy="394.59" r="0.35" fill="#a8a8a8"/><circle cx="362.67" cy="416.19" r="0.35" fill="#a8a8a8"/><circle cx="375.20" cy="431.14" r="0.35" fill="#a8a8a8"/><circle cx="384.90" cy="414.18" r="0.35" fill="#a8a8a8"/><circle cx="366.25" cy="414.87" r="0.35" fill="#a8a8a8"/><circle cx="363.24" cy="403.35" r="0.35" fill="#a8a8a8"/><circle cx="381.95" cy="419.93" r="0.35" fill="#a8a8a8"/><circle cx="379.80" cy="428.82" r="0.35" fill="#a8a8a8"/><circle cx="369.02" cy="423.09" r="0.35" fill="#a8a8a8"/><circle cx="373.71" cy="416.68" r="0.35" fill="#a8a8a8"/><circle cx="375.26" cy="419.84" r="0.35" fill="#a8a8a8"/>
<circle cx="362.07" cy="430.99" r="0.35" fill="#a8a8a8"/><circle cx="374.32" cy="433.53" r="0.35" fill="#a8a8a8"/><circle cx="357.73" cy="435.29" r="0.35" fill="#a8a8a8"/><circle cx="348.33" cy="427.05" r="0.35" fill="#a8a8a8"/><circle cx="362.23" cy="428.81" r="0.35" fill="#a8a8a8"/><circle cx="365.69" cy="430.53" r="0.35" fill="#a8a8a8"/><circle cx="339.81" cy="426.07" r="0.35" fill="#a8a8a8"/><circle cx="347.57" cy="422.86" r="0.35" fill="#a8a8a8"/><circle cx="353.88" cy="429.80" r="0.35" fill="#a8a8a8"/><circle cx="366.03" cy="426.61" r="0.35" fill="#a8a8a8"/><circle cx="351.83" cy="436.19" r="0.35" fill="#a8a8a8"/><circle cx="363.76" cy="425.60" r="0.35" fill="#a8a8a8"/><circle cx="370.91" cy="428.54" r="0.35" fill="#a8a8a8"/><circle cx="369.28" cy="430.12" r="0.35" fill="#a8a8a8"/><circle cx="350.13" cy="424.32" r="0.35" fill="#a8a8a8"/><circle cx="353.99" cy="442.11" r="0.35" fill="#a8a8a8"/><circle cx="348.39" cy="440.45" r="0.35" fill="#a8a8a8"/><circle cx="370.14" cy="429.65" r="0.35" fill="#a8a8a8"/><circle cx="366.13" cy="439.33" r="0.35" fill="#a8a8a8"/><circle cx="350.83" cy="428.13" r="0.35" fill="#a8a8a8"/><circle cx="368.58" cy="434.29" r="0.35" fill="#a8a8a8"/><circle cx="373.42" cy="434.00" r="0.35" fill="#a8a8a8"/><circle cx="340.95" cy="431.71" r="0.35" fill="#a8a8a8"/><circle cx="341.61" cy="436.53" r="0.35" fill="#a8a8a8"/><circle cx="364.38" cy="429.12" r="0.35" fill="#a8a8a8"/><circle cx="344.53" cy="437.63" r="0.35" fill="#a8a8a8"/><circle cx="350.58" cy="439.64" r="0.35" fill="#a8a8a8"/><circle cx="342.60" cy="430.18" r="0.35" fill="#a8a8a8"/><circle cx="348.41" cy="425.34" r="0.35" fill="#a8a8a8"/><circle cx="371.60" cy="437.43" r="0.35" fill="#a8a8a8"/><circle cx="347.08" cy="437.36" r="0.35" fill="#a8a8a8"/><circle cx="339.56" cy="437.72" r="0.35" fill="#a8a8a8"/><circle cx="368.36" cy="429.81" r="0.35" fill="#a8a8a8"/><circle cx="350.07" cy="433.88" r="0.35" fill="#a8a8a8"/><circle cx="361.41" cy="429.38" r="0.35" fill="#a8a8a8"/><circle cx="343.94" cy="430.23" r="0.35" fill="#a8a8a8"/><circle cx="349.48" cy="437.45" r="0.35" fill="#a8a8a8"/><circle cx="356.36" cy="433.86" r="0.35" fill="#a8a8a8"/><circle cx="337.99" cy="429.96" r="0.35" fill="#a8a8a8"/><circle cx="349.71" cy="428.29" r="0.35" fill="#a8a8a8"/><circle cx="353.45" cy="429.78" r="0.35" fill="#a8a8a8"/><circle cx="339.93" cy="437.01" r="0.35" fill="#a8a8a8"/><circle cx="366.67" cy="428.66" r="0.35" fill="#a8a8a8"/><circle cx="362.87" cy="426.00" r="0.35" fill="#a8a8a8"/><circle cx="340.22" cy="430.81" r="0.35" fill="#a8a8a8"/><circle cx="371.83" cy="431.51" r="0.35" fill="#a8a8a8"/><circle cx="338.57" cy="433.49" r="0.35" fill="#a8a8a8"/><circle cx="347.77" cy="427.18" r="0.35" fill="#a8a8a8"/><circle cx="358.77" cy="422.84" r="0.35" fill="#a8a8a8"/><circle cx="340.25" cy="425.67" r="0.35" fill="#a8a8a8"/><circle cx="368.73" cy="432.83" r="0.35" fill="#a8a8a8"/><circle cx="347.43" cy="427.48" r="0.35" fill="#a8a8a8"/><circle cx="362.71" cy="439.58" r="0.35" fill="#a8a8a8"/><circle cx="345.71" cy="434.15" r="0.35" fill="#a8a8a8"/><circle cx="373.56" cy="434.65" r="0.35" fill="#a8a8a8"/><circle cx="350.97" cy="434.85" r="0.35" fill="#a8a8a8"/><circle cx="357.07" cy="437.11" r="0.35" fill="#a8a8a8"/><circle cx="360.54" cy="428.72" r="0.35" fill="#a8a8a8"/><circle cx="353.99" cy="435.19" r="0.35" fill="#a8a8a8"/><circle cx="346.25" cy="432.89" r="0.35" fill="#a8a8a8"/><circle cx="345.66" cy="439.37" r="0.35" fill="#a8a8a8"/><circle cx="370.91" cy="427.71" r="0.35" fill="#a8a8a8"/><circle cx="366.67" cy="433.52" r="0.35" fill="#a8a8a8"/><circle cx="357.07" cy="430.47" r="0.35" fill="#a8a8a8"/><circle cx="358.97" cy="438.93" r="0.35" fill="#a8a8a8"/><circle cx="342.48" cy="438.04" r="0.35" fill="#a8a8a8"/><circle cx="352.35" cy="425.09" r="0.35" fill="#a8a8a8"/><circle cx="355.06" cy="436.97" r="0.35" fill="#a8a8a8"/><circle cx="354.49" cy="434.63" r="0.35" fill="#a8a8a8"/><circle cx="351.08" cy="428.45" r="0.35" fill="#a8a8a8"/><circle cx="367.07" cy="426.67" r="0.35" fill="#a8a8a8"/><circle cx="367.94" cy="434.55" r="0.35" fill="#a8a8a8"/><circle cx="351.80" cy="430.71" r="0.35" fill="#a8a8a8"/><circle cx="351.63" cy="432.15" r="0.35" fill="#a8a8a8"/><circle cx="355.13" cy="431.34" r="0.35" fill="#a8a8a8"/><circle cx="341.89" cy="424.42" r="0.35" fill="#a8a8a8"/><circle cx="360.38" cy="427.89" r="0.35" fill="#a8a8a8"/><circle cx="347.86" cy="431.17" r="0.35" fill="#a8a8a8"/><circle cx="345.04" cy="440.05" r="0.35" fill="#a8a8a8"/><circle cx="355.77" cy="431.10" r="0.35" fill="#a8a8a8"/><circle cx="343.60" cy="437.67" r="0.35" fill="#a8a8a8"/><circle cx="362.90" cy="440.27" r="0.35" fill="#a8a8a8"/><circle cx="366.36" cy="427.22" r="0.35" fill="#a8a8a8"/><circle cx="343.34" cy="439.27" r="0.35" fill="#a8a8a8"/><circle cx="346.54" cy="431.64" r="0.35" fill="#a8a8a8"/><circle cx="353.65" cy="436.07" r="0.35" fill="#a8a8a8"/><circle cx="362.38" cy="425.73" r="0.35" fill="#a8a8a8"/><circle cx="349.19" cy="423.16" r="0.35" fill="#a8a8a8"/><circle cx="363.42" cy="431.26" r="0.35" fill="#a8a8a8"/><circle cx="339.84" cy="437.40" r="0.35" fill="#a8a8a8"/><circle cx="355.89" cy="425.58" r="0.35" fill="#a8a8a8"/><circle cx="350.18" cy="428.21" r="0.35" fill="#a8a8a8"/><circle cx="357.32" cy="433.98" r="0.35" fill="#a8a8a8"/><circle cx="348.09" cy="435.45" r="0.35" fill="#a8a8a8"/><circle cx="335.87" cy="430.87" r="0.35" fill="#a8a8a8"/><circle cx="363.37" cy="438.33" r="0.35" fill="#a8a8a8"/><circle cx="364.98" cy="425.98" r="0.35" fill="#a8a8a8"/><circle cx="338.12" cy="430.46" r="0.35" fill="#a8a8a8"/><circle cx="373.86" cy="433.38" r="0.35" fill="#a8a8a8"/><circle cx="348.18" cy="423.44" r="0.35" fill="#a8a8a8"/><circle cx="357.79" cy="429.11" r="0.35" fill="#a8a8a8"/><circle cx="362.54" cy="433.78" r="0.35" fill="#a8a8a8"/><circle cx="336.07" cy="431.70" r="0.35" fill="#a8a8a8"/><circle cx="365.57" cy="428.42" r="0.35" fill="#a8a8a8"/><circle cx="342.92" cy="425.81" r="0.35" fill="#a8a8a8"/><circle cx="345.47" cy="440.86" r="0.35" fill="#a8a8a8"/><circle cx="370.57" cy="428.84" r="0.35" fill="#a8a8a8"/><circle cx="369.25" cy="426.62" r="0.35" fill="#a8a8a8"/><circle cx="348.61" cy="427.21" r="0.35" fill="#a8a8a8"/><circle cx="353.13" cy="436.96" r="0.35" fill="#a8a8a8"/><circle cx="372.60" cy="435.51" r="0.35" fill="#a8a8a8"/><circle cx="354.10" cy="433.53" r="0.35" fill="#a8a8a8"/><circle cx="352.47" cy="435.04" r="0.35" fill="#a8a8a8"/><circle cx="344.39" cy="434.02" r="0.35" fill="#a8a8a8"/><circle cx="361.09" cy="438.38" r="0.35" fill="#a8a8a8"/><circle cx="344.99" cy="435.14" r="0.35" fill="#a8a8a8"/><circle cx="359.19" cy="426.71" r="0.35" fill="#a8a8a8"/><circle cx="337.29" cy="429.52" r="0.35" fill="#a8a8a8"/><circle cx="366.57" cy="430.39" r="0.35" fill="#a8a8a8"/><circle cx="373.45" cy="434.54" r="0.35" fill="#a8a8a8"/><circle cx="345.92" cy="431.57" r="0.35" fill="#a8a8a8"/><circle cx="361.62" cy="435.65" r="0.35" fill="#a8a8a8"/><circle cx="352.30" cy="435.58" r="0.35" fill="#a8a8a8"/><circle cx="373.58" cy="435.13" r="0.35" fill="#a8a8a8"/><circle cx="357.81" cy="428.85" r="0.35" fill="#a8a8a8"/><circle cx="337.63" cy="433.12" r="0.35" fill="#a8a8a8"/><circle cx="349.86" cy="431.92" r="0.35" fill="#a8a8a8"/><circle cx="348.56" cy="437.40" r="0.35" fill="#a8a8a8"/><circle cx="367.82" cy="427.96" r="0.35" fill="#a8a8a8"/><circle cx="339.99" cy="434.10" r="0.35" fill="#a8a8a8"/><circle cx="370.44" cy="434.58" r="0.35" fill="#a8a8a8"/><circle cx="360.71" cy="424.08" r="0.35" fill="#a8a8a8"/><circle cx="348.29" cy="436.25" r="0.35" fill="#a8a8a8"/><circle cx="360.59" cy="432.19" r="0.35" fill="#a8a8a8"/><circle cx="362.43" cy="437.75" r="0.35" fill="#a8a8a8"/><circle cx="356.61" cy="427.25" r="0.35" fill="#a8a8a8"/><circle cx="339.64" cy="433.43" r="0.35" fill="#a8a8a8"/><circle cx="353.08" cy="430.92" r="0.35" fill="#a8a8a8"/><circle cx="368.13" cy="428.21" r="0.35" fill="#a8a8a8"/><circle cx="351.86" cy="436.78" r="0.35" fill="#a8a8a8"/><circle cx="347.94" cy="422.73" r="0.35" fill="#a8a8a8"/><circle cx="348.57" cy="437.57" r="0.35" fill="#a8a8a8"/><circle cx="347.34" cy="430.48" r="0.35" fill="#a8a8a8"/><circle cx="339.45" cy="437.53" r="0.35" fill="#a8a8a8"/><circle cx="338.37" cy="428.74" r="0.35" fill="#a8a8a8"/><circle cx="353.64" cy="441.62" r="0.35" fill="#a8a8a8"/><circle cx="356.89" cy="427.19" r="0.35" fill="#a8a8a8"/><circle cx="339.14" cy="430.40" r="0.35" fill="#a8a8a8"/><circle cx="341.39" cy="428.45" r="0.35" fill="#a8a8a8"/><circle cx="355.91" cy="439.69" r="0.35" fill="#a8a8a8"/><circle cx="344.33" cy="439.32" r="0.35" fill="#a8a8a8"/><circle cx="341.52" cy="439.35" r="0.35" fill="#a8a8a8"/><circle cx="346.84" cy="429.61" r="0.35" fill="#a8a8a8"/><circle cx="348.96" cy="433.87" r="0.35" fill="#a8a8a8"/><circle cx="354.64" cy="429.79" r="0.35" fill="#a8a8a8"/><circle cx="346.42" cy="428.48" r="0.35" fill="#a8a8a8"/><circle cx="356.18" cy="428.37" r="0.35" fill="#a8a8a8"/><circle cx="348.01" cy="424.08" r="0.35" fill="#a8a8a8"/><circle cx="355.75" cy="435.71" r="0.35" fill="#a8a8a8"/><circle cx="344.04" cy="437.99" r="0.35" fill="#a8a8a8"/>
<circle cx="374.08" cy="438.50" r="0.35" fill="#a8a8a8"/><circle cx="384.95" cy="425.13" r="0.35" fill="#a8a8a8"/><circle cx="388.35" cy="422.72" r="0.35" fill="#a8a8a8"/><circle cx="392.83" cy="433.25" r="0.35" fill="#a8a8a8"/><circle cx="381.77" cy="436.99" r="0.35" fill="#a8a8a8"/><circle cx="374.16" cy="434.46" r="0.35" fill="#a8a8a8"/><circle cx="388.76" cy="437.38" r="0.35" fill="#a8a8a8"/><circle cx="386.07" cy="422.13" r="0.35" fill="#a8a8a8"/><circle cx="384.51" cy="420.39" r="0.35" fill="#a8a8a8"/><circle cx="384.22" cy="425.20" r="0.35" fill="#a8a8a8"/><circle cx="377.03" cy="436.72" r="0.35" fill="#a8a8a8"/><circle cx="391.01" cy="437.59" r="0.35" fill="#a8a8a8"/><circle cx="379.63" cy="427.01" r="0.35" fill="#a8a8a8"/><circle cx="375.58" cy="425.95" r="0.35" fill="#a8a8a8"/><circle cx="383.71" cy="434.71" r="0.35" fill="#a8a8a8"/><circle cx="379.04" cy="430.82" r="0.35" fill="#a8a8a8"/><circle cx="374.39" cy="426.50" r="0.35" fill="#a8a8a8"/><circle cx="389.51" cy="438.48" r="0.35" fill="#a8a8a8"/><circle cx="386.62" cy="431.32" r="0.35" fill="#a8a8a8"/><circle cx="384.21" cy="424.58" r="0.35" fill="#a8a8a8"/><circle cx="374.35" cy="434.34" r="0.35" fill="#a8a8a8"/><circle cx="374.57" cy="433.50" r="0.35" fill="#a8a8a8"/><circle cx="374.01" cy="429.74" r="0.35" fill="#a8a8a8"/><circle cx="391.72" cy="434.05" r="0.35" fill="#a8a8a8"/><circle cx="381.49" cy="432.71" r="0.35" fill="#a8a8a8"/><circle cx="373.30" cy="436.22" r="0.35" fill="#a8a8a8"/><circle cx="376.64" cy="423.81" r="0.35" fill="#a8a8a8"/><circle cx="376.66" cy="430.82" r="0.35" fill="#a8a8a8"/><circle cx="376.98" cy="424.94" r="0.35" fill="#a8a8a8"/><circle cx="385.82" cy="431.79" r="0.35" fill="#a8a8a8"/><circle cx="389.95" cy="435.75" r="0.35" fill="#a8a8a8"/><circle cx="389.38" cy="422.58" r="0.35" fill="#a8a8a8"/><circle cx="382.84" cy="434.76" r="0.35" fill="#a8a8a8"/><circle cx="388.70" cy="427.63" r="0.35" fill="#a8a8a8"/><circle cx="386.32" cy="438.30" r="0.35" fill="#a8a8a8"/><circle cx="375.79" cy="423.69" r="0.35" fill="#a8a8a8"/><circle cx="375.95" cy="432.07" r="0.35" fill="#a8a8a8"/><circle cx="374.23" cy="430.29" r="0.35" fill="#a8a8a8"/><circle cx="378.78" cy="422.31" r="0.35" fill="#a8a8a8"/><circle cx="375.01" cy="439.93" r="0.35" fill="#a8a8a8"/><circle cx="389.67" cy="437.05" r="0.35" fill="#a8a8a8"/><circle cx="373.04" cy="435.64" r="0.35" fill="#a8a8a8"/><circle cx="379.75" cy="420.81" r="0.35" fill="#a8a8a8"/><circle cx="377.76" cy="426.13" r="0.35" fill="#a8a8a8"/><circle cx="391.89" cy="431.10" r="0.35" fill="#a8a8a8"/><circle cx="381.79" cy="434.21" r="0.35" fill="#a8a8a8"/><circle cx="385.33" cy="420.99" r="0.35" fill="#a8a8a8"/><circle cx="390.12" cy="431.84" r="0.35" fill="#a8a8a8"/><circle cx="387.53" cy="440.07" r="0.35" fill="#a8a8a8"/><circle cx="380.53" cy="442.16" r="0.35" fill="#a8a8a8"/><circle cx="379.55" cy="427.70" r="0.35" fill="#a8a8a8"/><circle cx="372.50" cy="436.74" r="0.35" fill="#a8a8a8"/><circle cx="380.63" cy="425.26" r="0.35" fill="#a8a8a8"/><circle cx="377.94" cy="434.88" r="0.35" fill="#a8a8a8"/><circle cx="389.38" cy="435.40" r="0.35" fill="#a8a8a8"/><circle cx="380.19" cy="424.46" r="0.35" fill="#a8a8a8"/><circle cx="371.89" cy="426.24" r="0.35" fill="#a8a8a8"/><circle cx="385.71" cy="426.72" r="0.35" fill="#a8a8a8"/><circle cx="391.79" cy="435.48" r="0.35" fill="#a8a8a8"/><circle cx="379.83" cy="434.57" r="0.35" fill="#a8a8a8"/><circle cx="383.79" cy="423.80" r="0.35" fill="#a8a8a8"/><circle cx="380.09" cy="419.70" r="0.35" fill="#a8a8a8"/><circle cx="379.93" cy="438.28" r="0.35" fill="#a8a8a8"/><circle cx="379.47" cy="441.01" r="0.35" fill="#a8a8a8"/><circle cx="380.72" cy="436.47" r="0.35" fill="#a8a8a8"/><circle cx="385.78" cy="424.81" r="0.35" fill="#a8a8a8"/><circle cx="374.39" cy="433.52" r="0.35" fill="#a8a8a8"/><circle cx="388.16" cy="430.09" r="0.35" fill="#a8a8a8"/><circle cx="381.54" cy="417.48" r="0.35" fill="#a8a8a8"/><circle cx="377.67" cy="437.32" r="0.35" fill="#a8a8a8"/><circle cx="389.52" cy="433.10" r="0.35" fill="#a8a8a8"/><circle cx="376.82" cy="436.92" r="0.35" fill="#a8a8a8"/><circle cx="380.06" cy="436.76" r="0.35" fill="#a8a8a8"/><circle cx="390.67" cy="424.22" r="0.35" fill="#a8a8a8"/><circle cx="380.06" cy="432.58" r="0.35" fill="#a8a8a8"/><circle cx="385.38" cy="431.26" r="0.35" fill="#a8a8a8"/><circle cx="387.99" cy="437.06" r="0.35" fill="#a8a8a8"/><circle cx="377.89" cy="429.40" r="0.35" fill="#a8a8a8"/><circle cx="388.79" cy="422.82" r="0.35" fill="#a8a8a8"/><circle cx="379.26" cy="418.41" r="0.35" fill="#a8a8a8"/><circle cx="377.73" cy="441.07" r="0.35" fill="#a8a8a8"/><circle cx="392.84" cy="428.20" r="0.35" fill="#a8a8a8"/><circle cx="392.17" cy="433.31" r="0.35" fill="#a8a8a8"/><circle cx="385.74" cy="429.59" r="0.35" fill="#a8a8a8"/><circle cx="388.89" cy="421.45" r="0.35" fill="#a8a8a8"/><circle cx="391.48" cy="432.14" r="0.35" fill="#a8a8a8"/><circle cx="382.59" cy="419.07" r="0.35" fill="#a8a8a8"/><circle cx="392.59" cy="434.42" r="0.35" fill="#a8a8a8"/><circle cx="384.99" cy="431.65" r="0.35" fill="#a8a8a8"/><circle cx="389.54" cy="427.14" r="0.35" fill="#a8a8a8"/><circle cx="385.14" cy="437.16" r="0.35" fill="#a8a8a8"/><circle cx="377.75" cy="425.41" r="0.35" fill="#a8a8a8"/><circle cx="390.12" cy="424.68" r="0.35" fill="#a8a8a8"/><circle cx="376.74" cy="435.02" r="0.35" fill="#a8a8a8"/><circle cx="390.53" cy="438.34" r="0.35" fill="#a8a8a8"/><circle cx="378.08" cy="441.45" r="0.35" fill="#a8a8a8"/><circle cx="373.83" cy="427.69" r="0.35" fill="#a8a8a8"/><circle cx="385.67" cy="438.01" r="0.35" fill="#a8a8a8"/><circle cx="388.27" cy="434.92" r="0.35" fill="#a8a8a8"/><circle cx="373.63" cy="422.04" r="0.35" fill="#a8a8a8"/><circle cx="382.89" cy="435.30" r="0.35" fill="#a8a8a8"/><circle cx="382.98" cy="425.53" r="0.35" fill="#a8a8a8"/><circle cx="384.71" cy="438.22" r="0.35" fill="#a8a8a8"/><circle cx="371.71" cy="435.54" r="0.35" fill="#a8a8a8"/><circle cx="391.84" cy="434.71" r="0.35" fill="#a8a8a8"/><circle cx="377.84" cy="431.09" r="0.35" fill="#a8a8a8"/><circle cx="382.81" cy="442.03" r="0.35" fill="#a8a8a8"/><circle cx="385.32" cy="437.37" r="0.35" fill="#a8a8a8"/><circle cx="389.78" cy="432.14" r="0.35" fill="#a8a8a8"/><circle cx="378.96" cy="419.67" r="0.35" fill="#a8a8a8"/><circle cx="377.97" cy="436.97" r="0.35" fill="#a8a8a8"/><circle cx="386.92" cy="419.46" r="0.35" fill="#a8a8a8"/><circle cx="379.45" cy="431.00" r="0.35" fill="#a8a8a8"/><circle cx="388.26" cy="427.22" r="0.35" fill="#a8a8a8"/><circle cx="379.54" cy="430.42" r="0.35" fill="#a8a8a8"/><circle cx="385.84" cy="430.58" r="0.35" fill="#a8a8a8"/><circle cx="376.35" cy="428.23" r="0.35" fill="#a8a8a8"/><circle cx="383.19" cy="425.35" r="0.35" fill="#a8a8a8"/><circle cx="381.05" cy="428.47" r="0.35" fill="#a8a8a8"/><circle cx="374.93" cy="439.50" r="0.35" fill="#a8a8a8"/>
<g transform="translate(355.40,432.30) rotate(-5)"><ellipse cx="0" cy="0" rx="13.50" ry="6.80" fill="#dedede" stroke="#b5b5b5" stroke-width="0.4"/><ellipse cx="0" cy="0" rx="10.80" ry="5.44" fill="#d0d0d0" stroke="#b5b5b5" stroke-width="0.4"/><ellipse cx="0" cy="0" rx="8.64" ry="4.35" fill="#d0d0d0" stroke="#b5b5b5" stroke-width="0.4"/><ellipse cx="0" cy="0" rx="6.91" ry="3.48" fill="#d0d0d0" stroke="#b5b5b5" stroke-width="0.4"/><ellipse cx="0" cy="0" rx="5.53" ry="2.79" fill="#d0d0d0" stroke="#b5b5b5" stroke-width="0.4"/></g>
<g transform="translate(372.50,413.50) rotate(17)"><ellipse cx="0" cy="0" rx="8.00" ry="14.00" fill="#e0e0e0" stroke="#b0b0b0" stroke-width="0.4"/><ellipse cx="0" cy="0" rx="6.56" ry="11.48" fill="#d0d0d0" stroke="#b0b0b0" stroke-width="0.4"/><ellipse cx="0" cy="0" rx="5.38" ry="9.41" fill="#d0d0d0" stroke="#b0b0b0" stroke-width="0.4"/><ellipse cx="0" cy="0" rx="4.41" ry="7.72" fill="#d0d0d0" stroke="#b0b0b0" stroke-width="0.4"/><ellipse cx="0" cy="0" rx="3.62" ry="6.33" fill="#d0d0d0" stroke="#b0b0b0" stroke-width="0.4"/><ellipse cx="0" cy="0" rx="2.97" ry="5.19" fill="#d0d0d0" stroke="#b0b0b0" stroke-width="0.4"/></g>
<g transform="translate(382.00,430.00) rotate(0)"><ellipse cx="0" cy="0" rx="7.50" ry="9.00" fill="#dadada" stroke="#a8a8a8" stroke-width="0.4"/><ellipse cx="0" cy="0" rx="6.00" ry="7.20" fill="#c4c4c4" stroke="#a8a8a8" stroke-width="0.4"/><ellipse cx="0" cy="0" rx="4.80" ry="5.76" fill="#c4c4c4" stroke="#a8a8a8" stroke-width="0.4"/><ellipse cx="0" cy="0" rx="3.84" ry="4.61" fill="#c4c4c4" stroke="#a8a8a8" stroke-width="0.4"/><ellipse cx="0" cy="0" rx="3.07" ry="3.69" fill="#c4c4c4" stroke="#a8a8a8" stroke-width="0.4"/></g>
<g transform="translate(355.40,432.30) rotate(-5)"><ellipse cx="0" cy="0" rx="6.00" ry="1.60" fill="#9a9a9a"/></g>
<g transform="translate(371.50,415.00) rotate(17)"><ellipse cx="0" cy="0" rx="2.20" ry="7.00" fill="#a8a8a8"/></g>
<g transform="translate(380.80,430.80) rotate(0)"><ellipse cx="0" cy="0" rx="2.20" ry="2.00" fill="#ffffff"/></g>
<path d="M360,389.7 L393.8,389.7 L393.8,408.5 L389.2,415.4 L380.8,418.9 L374.6,429.2 L362.3,423.1 L360.3,421.5 Z" fill="none" stroke="#3a3a3a" stroke-width="0.8" />
<path d="M389.2,415.4 L399.2,431.5 L379.2,444.6 L372.3,434.6 L376.2,423.1 Z" fill="none" stroke="#3a3a3a" stroke-width="0.8" />
<rect x="334.60" y="374.60" width="73.10" height="72.30" fill="none" stroke="#aaa" stroke-width="0.6" />
<line x1="333.00" y1="380.38" x2="334.60" y2="380.38" stroke="#8a8a8a" stroke-width="0.6"/><line x1="333.00" y1="389.06" x2="334.60" y2="389.06" stroke="#8a8a8a" stroke-width="0.6"/><line x1="333.00" y1="398.46" x2="334.60" y2="398.46" stroke="#8a8a8a" stroke-width="0.6"/><line x1="333.00" y1="407.86" x2="334.60" y2="407.86" stroke="#8a8a8a" stroke-width="0.6"/><line x1="333.00" y1="417.98" x2="334.60" y2="417.98" stroke="#8a8a8a" stroke-width="0.6"/><line x1="333.00" y1="426.66" x2="334.60" y2="426.66" stroke="#8a8a8a" stroke-width="0.6"/><line x1="333.00" y1="436.06" x2="334.60" y2="436.06" stroke="#8a8a8a" stroke-width="0.6"/><line x1="333.00" y1="443.28" x2="334.60" y2="443.28" stroke="#8a8a8a" stroke-width="0.6"/><line x1="338.99" y1="446.90" x2="338.99" y2="448.50" stroke="#8a8a8a" stroke-width="0.6"/><line x1="345.56" y1="446.90" x2="345.56" y2="448.50" stroke="#8a8a8a" stroke-width="0.6"/><line x1="355.07" y1="446.90" x2="355.07" y2="448.50" stroke="#8a8a8a" stroke-width="0.6"/><line x1="365.30" y1="446.90" x2="365.30" y2="448.50" stroke="#8a8a8a" stroke-width="0.6"/><line x1="375.54" y1="446.90" x2="375.54" y2="448.50" stroke="#8a8a8a" stroke-width="0.6"/><line x1="385.77" y1="446.90" x2="385.77" y2="448.50" stroke="#8a8a8a" stroke-width="0.6"/><line x1="396.00" y1="446.90" x2="396.00" y2="448.50" stroke="#8a8a8a" stroke-width="0.6"/><line x1="404.04" y1="446.90" x2="404.04" y2="448.50" stroke="#8a8a8a" stroke-width="0.6"/><rect x="333.00" y="428.82" width="1.4" height="1.6" fill="#222"/><rect x="345.56" y="447.20" width="2.6" height="1.3" fill="#222"/>
<text x="378.00" y="385.95" font-size="9.3" text-anchor="middle" fill="#231f20" stroke="#231f20" stroke-width="0.2" textLength="16.83" lengthAdjust="spacingAndGlyphs" >42.8</text>
<text x="398.50" y="443.35" font-size="9.3" text-anchor="middle" fill="#231f20" stroke="#231f20" stroke-width="0.2" textLength="16.83" lengthAdjust="spacingAndGlyphs" >25.3</text>
<circle cx="451.96" cy="423.91" r="0.35" fill="#d3a6b3"/><circle cx="439.41" cy="426.92" r="0.35" fill="#d3a6b3"/><circle cx="424.34" cy="424.91" r="0.35" fill="#d3a6b3"/><circle cx="428.07" cy="428.22" r="0.35" fill="#d3a6b3"/><circle cx="439.65" cy="436.16" r="0.35" fill="#d3a6b3"/><circle cx="437.39" cy="436.63" r="0.35" fill="#d3a6b3"/><circle cx="440.66" cy="429.52" r="0.35" fill="#d3a6b3"/><circle cx="431.85" cy="421.77" r="0.35" fill="#d3a6b3"/><circle cx="418.30" cy="428.22" r="0.35" fill="#d3a6b3"/><circle cx="432.03" cy="431.14" r="0.35" fill="#d3a6b3"/><circle cx="438.10" cy="420.36" r="0.35" fill="#d3a6b3"/><circle cx="426.58" cy="421.41" r="0.35" fill="#d3a6b3"/><circle cx="446.58" cy="427.73" r="0.35" fill="#d3a6b3"/><circle cx="435.73" cy="422.03" r="0.35" fill="#d3a6b3"/><circle cx="420.71" cy="424.91" r="0.35" fill="#d3a6b3"/><circle cx="432.75" cy="432.10" r="0.35" fill="#d3a6b3"/><circle cx="418.65" cy="430.58" r="0.35" fill="#d3a6b3"/><circle cx="423.99" cy="424.85" r="0.35" fill="#d3a6b3"/><circle cx="429.78" cy="425.17" r="0.35" fill="#d3a6b3"/><circle cx="439.83" cy="434.89" r="0.35" fill="#d3a6b3"/><circle cx="438.48" cy="424.34" r="0.35" fill="#d3a6b3"/><circle cx="439.62" cy="431.38" r="0.35" fill="#d3a6b3"/><circle cx="444.96" cy="430.46" r="0.35" fill="#d3a6b3"/><circle cx="419.11" cy="424.40" r="0.35" fill="#d3a6b3"/><circle cx="429.22" cy="435.11" r="0.35" fill="#d3a6b3"/><circle cx="432.42" cy="435.16" r="0.35" fill="#d3a6b3"/><circle cx="437.50" cy="420.61" r="0.35" fill="#d3a6b3"/><circle cx="434.66" cy="432.76" r="0.35" fill="#d3a6b3"/><circle cx="438.47" cy="419.55" r="0.35" fill="#d3a6b3"/><circle cx="439.52" cy="424.06" r="0.35" fill="#d3a6b3"/><circle cx="417.02" cy="425.89" r="0.35" fill="#d3a6b3"/><circle cx="419.12" cy="422.85" r="0.35" fill="#d3a6b3"/><circle cx="444.59" cy="438.86" r="0.35" fill="#d3a6b3"/><circle cx="446.84" cy="431.55" r="0.35" fill="#d3a6b3"/><circle cx="452.40" cy="430.51" r="0.35" fill="#d3a6b3"/><circle cx="427.58" cy="418.52" r="0.35" fill="#d3a6b3"/><circle cx="441.45" cy="418.46" r="0.35" fill="#d3a6b3"/><circle cx="416.13" cy="426.25" r="0.35" fill="#d3a6b3"/><circle cx="434.93" cy="422.23" r="0.35" fill="#d3a6b3"/><circle cx="446.85" cy="427.87" r="0.35" fill="#d3a6b3"/><circle cx="436.88" cy="431.97" r="0.35" fill="#d3a6b3"/><circle cx="426.53" cy="430.08" r="0.35" fill="#d3a6b3"/><circle cx="452.42" cy="424.46" r="0.35" fill="#d3a6b3"/><circle cx="436.34" cy="432.62" r="0.35" fill="#d3a6b3"/><circle cx="427.08" cy="428.14" r="0.35" fill="#d3a6b3"/><circle cx="418.03" cy="426.19" r="0.35" fill="#d3a6b3"/><circle cx="434.76" cy="436.47" r="0.35" fill="#d3a6b3"/><circle cx="445.59" cy="424.53" r="0.35" fill="#d3a6b3"/><circle cx="424.83" cy="438.07" r="0.35" fill="#d3a6b3"/><circle cx="442.21" cy="418.98" r="0.35" fill="#d3a6b3"/><circle cx="430.21" cy="422.17" r="0.35" fill="#d3a6b3"/><circle cx="428.76" cy="419.19" r="0.35" fill="#d3a6b3"/><circle cx="428.89" cy="424.68" r="0.35" fill="#d3a6b3"/><circle cx="431.49" cy="436.06" r="0.35" fill="#d3a6b3"/><circle cx="436.98" cy="420.50" r="0.35" fill="#d3a6b3"/><circle cx="418.09" cy="425.77" r="0.35" fill="#d3a6b3"/><circle cx="447.06" cy="434.76" r="0.35" fill="#d3a6b3"/><circle cx="427.76" cy="436.47" r="0.35" fill="#d3a6b3"/><circle cx="439.98" cy="424.07" r="0.35" fill="#d3a6b3"/><circle cx="440.23" cy="428.03" r="0.35" fill="#d3a6b3"/><circle cx="421.69" cy="425.78" r="0.35" fill="#d3a6b3"/><circle cx="436.37" cy="437.57" r="0.35" fill="#d3a6b3"/><circle cx="422.11" cy="430.41" r="0.35" fill="#d3a6b3"/><circle cx="434.76" cy="428.29" r="0.35" fill="#d3a6b3"/><circle cx="422.58" cy="436.11" r="0.35" fill="#d3a6b3"/><circle cx="446.44" cy="437.33" r="0.35" fill="#d3a6b3"/><circle cx="439.64" cy="438.09" r="0.35" fill="#d3a6b3"/><circle cx="441.08" cy="435.83" r="0.35" fill="#d3a6b3"/><circle cx="430.06" cy="430.54" r="0.35" fill="#d3a6b3"/><circle cx="430.78" cy="421.43" r="0.35" fill="#d3a6b3"/><circle cx="429.63" cy="421.17" r="0.35" fill="#d3a6b3"/><circle cx="421.68" cy="426.13" r="0.35" fill="#d3a6b3"/><circle cx="429.52" cy="439.41" r="0.35" fill="#d3a6b3"/><circle cx="450.67" cy="434.56" r="0.35" fill="#d3a6b3"/><circle cx="444.02" cy="422.86" r="0.35" fill="#d3a6b3"/><circle cx="437.70" cy="419.70" r="0.35" fill="#d3a6b3"/><circle cx="426.66" cy="425.19" r="0.35" fill="#d3a6b3"/><circle cx="430.10" cy="435.16" r="0.35" fill="#d3a6b3"/><circle cx="428.83" cy="439.67" r="0.35" fill="#d3a6b3"/><circle cx="428.40" cy="435.01" r="0.35" fill="#d3a6b3"/><circle cx="419.54" cy="434.03" r="0.35" fill="#d3a6b3"/><circle cx="420.59" cy="430.19" r="0.35" fill="#d3a6b3"/><circle cx="434.64" cy="435.06" r="0.35" fill="#d3a6b3"/><circle cx="442.72" cy="431.85" r="0.35" fill="#d3a6b3"/><circle cx="433.43" cy="439.58" r="0.35" fill="#d3a6b3"/><circle cx="428.51" cy="428.94" r="0.35" fill="#d3a6b3"/><circle cx="428.39" cy="429.93" r="0.35" fill="#d3a6b3"/><circle cx="423.10" cy="425.92" r="0.35" fill="#d3a6b3"/><circle cx="441.26" cy="424.45" r="0.35" fill="#d3a6b3"/><circle cx="440.76" cy="424.39" r="0.35" fill="#d3a6b3"/><circle cx="450.48" cy="428.00" r="0.35" fill="#d3a6b3"/><circle cx="451.94" cy="431.74" r="0.35" fill="#d3a6b3"/><circle cx="433.11" cy="435.83" r="0.35" fill="#d3a6b3"/><circle cx="445.82" cy="437.38" r="0.35" fill="#d3a6b3"/><circle cx="449.16" cy="434.31" r="0.35" fill="#d3a6b3"/><circle cx="422.22" cy="434.78" r="0.35" fill="#d3a6b3"/><circle cx="433.54" cy="432.10" r="0.35" fill="#d3a6b3"/><circle cx="448.62" cy="424.27" r="0.35" fill="#d3a6b3"/><circle cx="444.34" cy="438.95" r="0.35" fill="#d3a6b3"/><circle cx="442.10" cy="426.41" r="0.35" fill="#d3a6b3"/><circle cx="450.17" cy="430.08" r="0.35" fill="#d3a6b3"/><circle cx="445.73" cy="436.55" r="0.35" fill="#d3a6b3"/><circle cx="418.85" cy="430.88" r="0.35" fill="#d3a6b3"/><circle cx="419.46" cy="424.71" r="0.35" fill="#d3a6b3"/><circle cx="441.60" cy="420.96" r="0.35" fill="#d3a6b3"/><circle cx="425.62" cy="425.43" r="0.35" fill="#d3a6b3"/><circle cx="438.96" cy="431.61" r="0.35" fill="#d3a6b3"/><circle cx="440.52" cy="424.91" r="0.35" fill="#d3a6b3"/><circle cx="425.15" cy="431.88" r="0.35" fill="#d3a6b3"/><circle cx="424.57" cy="423.26" r="0.35" fill="#d3a6b3"/><circle cx="443.17" cy="423.12" r="0.35" fill="#d3a6b3"/><circle cx="424.80" cy="436.08" r="0.35" fill="#d3a6b3"/><circle cx="434.39" cy="417.94" r="0.35" fill="#d3a6b3"/><circle cx="428.03" cy="439.02" r="0.35" fill="#d3a6b3"/><circle cx="454.25" cy="427.67" r="0.35" fill="#d3a6b3"/><circle cx="443.30" cy="434.14" r="0.35" fill="#d3a6b3"/><circle cx="437.68" cy="418.64" r="0.35" fill="#d3a6b3"/><circle cx="446.91" cy="430.78" r="0.35" fill="#d3a6b3"/><circle cx="432.25" cy="419.12" r="0.35" fill="#d3a6b3"/><circle cx="426.25" cy="427.85" r="0.35" fill="#d3a6b3"/><circle cx="431.06" cy="430.54" r="0.35" fill="#d3a6b3"/><circle cx="429.87" cy="435.89" r="0.35" fill="#d3a6b3"/><circle cx="441.64" cy="421.08" r="0.35" fill="#d3a6b3"/><circle cx="426.67" cy="431.92" r="0.35" fill="#d3a6b3"/><circle cx="428.62" cy="437.64" r="0.35" fill="#d3a6b3"/><circle cx="427.34" cy="430.61" r="0.35" fill="#d3a6b3"/><circle cx="441.46" cy="421.15" r="0.35" fill="#d3a6b3"/><circle cx="449.02" cy="427.29" r="0.35" fill="#d3a6b3"/><circle cx="425.85" cy="423.75" r="0.35" fill="#d3a6b3"/><circle cx="420.43" cy="422.07" r="0.35" fill="#d3a6b3"/><circle cx="450.78" cy="427.90" r="0.35" fill="#d3a6b3"/><circle cx="430.57" cy="430.22" r="0.35" fill="#d3a6b3"/><circle cx="441.57" cy="422.93" r="0.35" fill="#d3a6b3"/><circle cx="431.55" cy="430.85" r="0.35" fill="#d3a6b3"/><circle cx="446.94" cy="430.53" r="0.35" fill="#d3a6b3"/><circle cx="451.61" cy="427.44" r="0.35" fill="#d3a6b3"/><circle cx="430.91" cy="419.91" r="0.35" fill="#d3a6b3"/><circle cx="433.85" cy="433.67" r="0.35" fill="#d3a6b3"/><circle cx="431.06" cy="427.26" r="0.35" fill="#d3a6b3"/><circle cx="423.07" cy="424.66" r="0.35" fill="#d3a6b3"/><circle cx="428.43" cy="427.94" r="0.35" fill="#d3a6b3"/><circle cx="447.25" cy="432.26" r="0.35" fill="#d3a6b3"/><circle cx="444.55" cy="436.30" r="0.35" fill="#d3a6b3"/><circle cx="429.37" cy="437.43" r="0.35" fill="#d3a6b3"/><circle cx="435.02" cy="420.04" r="0.35" fill="#d3a6b3"/><circle cx="426.49" cy="427.99" r="0.35" fill="#d3a6b3"/><circle cx="423.91" cy="438.32" r="0.35" fill="#d3a6b3"/><circle cx="433.79" cy="435.09" r="0.35" fill="#d3a6b3"/><circle cx="420.57" cy="429.36" r="0.35" fill="#d3a6b3"/><circle cx="437.69" cy="422.95" r="0.35" fill="#d3a6b3"/><circle cx="437.84" cy="428.60" r="0.35" fill="#d3a6b3"/><circle cx="438.70" cy="420.60" r="0.35" fill="#d3a6b3"/><circle cx="441.22" cy="426.38" r="0.35" fill="#d3a6b3"/><circle cx="427.91" cy="418.61" r="0.35" fill="#d3a6b3"/><circle cx="431.74" cy="425.66" r="0.35" fill="#d3a6b3"/><circle cx="451.92" cy="423.60" r="0.35" fill="#d3a6b3"/><circle cx="448.64" cy="435.71" r="0.35" fill="#d3a6b3"/><circle cx="439.90" cy="430.57" r="0.35" fill="#d3a6b3"/><circle cx="439.67" cy="419.64" r="0.35" fill="#d3a6b3"/><circle cx="449.98" cy="426.57" r="0.35" fill="#d3a6b3"/>
<circle cx="448.29" cy="392.53" r="0.35" fill="#d3a6b3"/><circle cx="459.08" cy="431.90" r="0.35" fill="#d3a6b3"/><circle cx="456.86" cy="428.80" r="0.35" fill="#d3a6b3"/><circle cx="464.59" cy="422.37" r="0.35" fill="#d3a6b3"/><circle cx="460.43" cy="426.95" r="0.35" fill="#d3a6b3"/><circle cx="449.59" cy="393.12" r="0.35" fill="#d3a6b3"/><circle cx="437.03" cy="419.32" r="0.35" fill="#d3a6b3"/><circle cx="457.85" cy="411.44" r="0.35" fill="#d3a6b3"/><circle cx="435.21" cy="409.73" r="0.35" fill="#d3a6b3"/><circle cx="451.22" cy="397.47" r="0.35" fill="#d3a6b3"/><circle cx="446.34" cy="432.09" r="0.35" fill="#d3a6b3"/><circle cx="464.94" cy="421.71" r="0.35" fill="#d3a6b3"/><circle cx="455.79" cy="404.77" r="0.35" fill="#d3a6b3"/><circle cx="447.57" cy="422.69" r="0.35" fill="#d3a6b3"/><circle cx="441.91" cy="408.54" r="0.35" fill="#d3a6b3"/><circle cx="465.02" cy="398.99" r="0.35" fill="#d3a6b3"/><circle cx="445.41" cy="430.91" r="0.35" fill="#d3a6b3"/><circle cx="456.86" cy="414.88" r="0.35" fill="#d3a6b3"/><circle cx="444.16" cy="395.18" r="0.35" fill="#d3a6b3"/><circle cx="459.23" cy="392.26" r="0.35" fill="#d3a6b3"/><circle cx="457.66" cy="403.30" r="0.35" fill="#d3a6b3"/><circle cx="451.25" cy="391.01" r="0.35" fill="#d3a6b3"/><circle cx="462.09" cy="420.52" r="0.35" fill="#d3a6b3"/><circle cx="455.69" cy="418.82" r="0.35" fill="#d3a6b3"/><circle cx="437.99" cy="414.29" r="0.35" fill="#d3a6b3"/><circle cx="458.17" cy="410.70" r="0.35" fill="#d3a6b3"/><circle cx="434.78" cy="411.25" r="0.35" fill="#d3a6b3"/><circle cx="453.18" cy="396.13" r="0.35" fill="#d3a6b3"/><circle cx="452.64" cy="429.34" r="0.35" fill="#d3a6b3"/><circle cx="451.05" cy="429.49" r="0.35" fill="#d3a6b3"/><circle cx="445.59" cy="401.01" r="0.35" fill="#d3a6b3"/><circle cx="455.04" cy="398.67" r="0.35" fill="#d3a6b3"/><circle cx="436.57" cy="415.87" r="0.35" fill="#d3a6b3"/><circle cx="451.98" cy="421.41" r="0.35" fill="#d3a6b3"/><circle cx="441.85" cy="405.51" r="0.35" fill="#d3a6b3"/><circle cx="458.05" cy="404.25" r="0.35" fill="#d3a6b3"/><circle cx="449.14" cy="415.80" r="0.35" fill="#d3a6b3"/><circle cx="442.81" cy="415.71" r="0.35" fill="#d3a6b3"/><circle cx="437.70" cy="418.05" r="0.35" fill="#d3a6b3"/><circle cx="468.68" cy="417.07" r="0.35" fill="#d3a6b3"/><circle cx="448.27" cy="392.89" r="0.35" fill="#d3a6b3"/><circle cx="439.29" cy="407.99" r="0.35" fill="#d3a6b3"/><circle cx="442.85" cy="419.40" r="0.35" fill="#d3a6b3"/><circle cx="453.73" cy="423.83" r="0.35" fill="#d3a6b3"/><circle cx="449.28" cy="424.19" r="0.35" fill="#d3a6b3"/><circle cx="464.87" cy="401.25" r="0.35" fill="#d3a6b3"/><circle cx="450.57" cy="409.78" r="0.35" fill="#d3a6b3"/><circle cx="451.02" cy="428.06" r="0.35" fill="#d3a6b3"/><circle cx="448.03" cy="398.78" r="0.35" fill="#d3a6b3"/><circle cx="440.97" cy="396.61" r="0.35" fill="#d3a6b3"/><circle cx="450.83" cy="425.42" r="0.35" fill="#d3a6b3"/><circle cx="452.63" cy="399.69" r="0.35" fill="#d3a6b3"/><circle cx="450.05" cy="398.45" r="0.35" fill="#d3a6b3"/><circle cx="463.65" cy="413.81" r="0.35" fill="#d3a6b3"/><circle cx="465.90" cy="420.03" r="0.35" fill="#d3a6b3"/><circle cx="459.06" cy="398.85" r="0.35" fill="#d3a6b3"/><circle cx="458.42" cy="406.04" r="0.35" fill="#d3a6b3"/><circle cx="445.19" cy="415.06" r="0.35" fill="#d3a6b3"/><circle cx="466.94" cy="417.97" r="0.35" fill="#d3a6b3"/><circle cx="467.79" cy="418.81" r="0.35" fill="#d3a6b3"/><circle cx="438.47" cy="405.61" r="0.35" fill="#d3a6b3"/><circle cx="467.64" cy="418.38" r="0.35" fill="#d3a6b3"/><circle cx="453.51" cy="405.22" r="0.35" fill="#d3a6b3"/><circle cx="454.65" cy="419.48" r="0.35" fill="#d3a6b3"/><circle cx="447.16" cy="411.84" r="0.35" fill="#d3a6b3"/><circle cx="455.65" cy="397.31" r="0.35" fill="#d3a6b3"/><circle cx="449.52" cy="401.43" r="0.35" fill="#d3a6b3"/><circle cx="445.41" cy="399.88" r="0.35" fill="#d3a6b3"/><circle cx="445.41" cy="400.76" r="0.35" fill="#d3a6b3"/><circle cx="467.84" cy="410.71" r="0.35" fill="#d3a6b3"/><circle cx="457.00" cy="400.92" r="0.35" fill="#d3a6b3"/><circle cx="454.44" cy="419.98" r="0.35" fill="#d3a6b3"/><circle cx="463.49" cy="427.81" r="0.35" fill="#d3a6b3"/><circle cx="448.77" cy="431.97" r="0.35" fill="#d3a6b3"/><circle cx="453.52" cy="429.09" r="0.35" fill="#d3a6b3"/><circle cx="452.05" cy="424.11" r="0.35" fill="#d3a6b3"/><circle cx="451.80" cy="394.96" r="0.35" fill="#d3a6b3"/><circle cx="459.92" cy="408.45" r="0.35" fill="#d3a6b3"/><circle cx="451.45" cy="417.43" r="0.35" fill="#d3a6b3"/><circle cx="455.83" cy="433.09" r="0.35" fill="#d3a6b3"/><circle cx="441.05" cy="406.12" r="0.35" fill="#d3a6b3"/><circle cx="443.88" cy="428.03" r="0.35" fill="#d3a6b3"/><circle cx="449.46" cy="404.00" r="0.35" fill="#d3a6b3"/><circle cx="458.88" cy="414.61" r="0.35" fill="#d3a6b3"/><circle cx="458.05" cy="394.93" r="0.35" fill="#d3a6b3"/><circle cx="453.23" cy="422.46" r="0.35" fill="#d3a6b3"/><circle cx="446.99" cy="428.85" r="0.35" fill="#d3a6b3"/><circle cx="451.91" cy="401.33" r="0.35" fill="#d3a6b3"/><circle cx="448.00" cy="421.36" r="0.35" fill="#d3a6b3"/><circle cx="464.07" cy="406.56" r="0.35" fill="#d3a6b3"/><circle cx="459.89" cy="408.02" r="0.35" fill="#d3a6b3"/><circle cx="443.25" cy="399.80" r="0.35" fill="#d3a6b3"/><circle cx="461.48" cy="406.53" r="0.35" fill="#d3a6b3"/><circle cx="454.10" cy="431.58" r="0.35" fill="#d3a6b3"/><circle cx="463.77" cy="407.44" r="0.35" fill="#d3a6b3"/><circle cx="449.50" cy="417.54" r="0.35" fill="#d3a6b3"/><circle cx="436.42" cy="419.21" r="0.35" fill="#d3a6b3"/><circle cx="444.79" cy="423.44" r="0.35" fill="#d3a6b3"/><circle cx="444.27" cy="407.81" r="0.35" fill="#d3a6b3"/><circle cx="461.65" cy="421.92" r="0.35" fill="#d3a6b3"/><circle cx="467.77" cy="407.83" r="0.35" fill="#d3a6b3"/><circle cx="447.10" cy="430.33" r="0.35" fill="#d3a6b3"/><circle cx="458.49" cy="397.48" r="0.35" fill="#d3a6b3"/><circle cx="447.15" cy="419.47" r="0.35" fill="#d3a6b3"/><circle cx="447.89" cy="394.66" r="0.35" fill="#d3a6b3"/><circle cx="453.47" cy="420.00" r="0.35" fill="#d3a6b3"/><circle cx="463.84" cy="425.06" r="0.35" fill="#d3a6b3"/><circle cx="461.33" cy="401.65" r="0.35" fill="#d3a6b3"/><circle cx="440.88" cy="400.20" r="0.35" fill="#d3a6b3"/><circle cx="458.87" cy="425.13" r="0.35" fill="#d3a6b3"/><circle cx="436.76" cy="418.52" r="0.35" fill="#d3a6b3"/><circle cx="460.17" cy="429.24" r="0.35" fill="#d3a6b3"/><circle cx="460.45" cy="425.31" r="0.35" fill="#d3a6b3"/><circle cx="455.70" cy="408.20" r="0.35" fill="#d3a6b3"/><circle cx="450.86" cy="412.15" r="0.35" fill="#d3a6b3"/><circle cx="440.00" cy="411.12" r="0.35" fill="#d3a6b3"/><circle cx="463.64" cy="408.19" r="0.35" fill="#d3a6b3"/><circle cx="464.42" cy="401.96" r="0.35" fill="#d3a6b3"/><circle cx="457.57" cy="401.16" r="0.35" fill="#d3a6b3"/><circle cx="463.36" cy="421.87" r="0.35" fill="#d3a6b3"/><circle cx="462.39" cy="423.22" r="0.35" fill="#d3a6b3"/><circle cx="457.77" cy="427.34" r="0.35" fill="#d3a6b3"/><circle cx="453.73" cy="390.69" r="0.35" fill="#d3a6b3"/><circle cx="454.18" cy="420.71" r="0.35" fill="#d3a6b3"/><circle cx="437.03" cy="422.28" r="0.35" fill="#d3a6b3"/><circle cx="451.66" cy="427.05" r="0.35" fill="#d3a6b3"/><circle cx="448.85" cy="415.69" r="0.35" fill="#d3a6b3"/><circle cx="442.74" cy="409.03" r="0.35" fill="#d3a6b3"/><circle cx="437.43" cy="415.51" r="0.35" fill="#d3a6b3"/><circle cx="447.76" cy="402.62" r="0.35" fill="#d3a6b3"/><circle cx="444.42" cy="399.20" r="0.35" fill="#d3a6b3"/><circle cx="452.09" cy="410.73" r="0.35" fill="#d3a6b3"/><circle cx="449.27" cy="429.59" r="0.35" fill="#d3a6b3"/><circle cx="440.54" cy="406.52" r="0.35" fill="#d3a6b3"/><circle cx="438.67" cy="408.87" r="0.35" fill="#d3a6b3"/><circle cx="450.61" cy="392.11" r="0.35" fill="#d3a6b3"/><circle cx="454.91" cy="391.52" r="0.35" fill="#d3a6b3"/><circle cx="445.65" cy="407.86" r="0.35" fill="#d3a6b3"/><circle cx="441.07" cy="426.82" r="0.35" fill="#d3a6b3"/><circle cx="453.88" cy="394.97" r="0.35" fill="#d3a6b3"/><circle cx="456.80" cy="418.29" r="0.35" fill="#d3a6b3"/><circle cx="445.76" cy="400.21" r="0.35" fill="#d3a6b3"/><circle cx="458.47" cy="431.90" r="0.35" fill="#d3a6b3"/><circle cx="453.94" cy="432.89" r="0.35" fill="#d3a6b3"/><circle cx="439.82" cy="397.24" r="0.35" fill="#d3a6b3"/><circle cx="453.21" cy="402.32" r="0.35" fill="#d3a6b3"/><circle cx="454.23" cy="432.10" r="0.35" fill="#d3a6b3"/><circle cx="440.79" cy="418.23" r="0.35" fill="#d3a6b3"/><circle cx="451.78" cy="395.04" r="0.35" fill="#d3a6b3"/><circle cx="449.62" cy="396.51" r="0.35" fill="#d3a6b3"/><circle cx="449.66" cy="430.32" r="0.35" fill="#d3a6b3"/><circle cx="462.29" cy="425.26" r="0.35" fill="#d3a6b3"/><circle cx="453.85" cy="404.11" r="0.35" fill="#d3a6b3"/><circle cx="468.49" cy="412.31" r="0.35" fill="#d3a6b3"/><circle cx="456.89" cy="426.70" r="0.35" fill="#d3a6b3"/><circle cx="450.41" cy="419.84" r="0.35" fill="#d3a6b3"/><circle cx="451.76" cy="417.91" r="0.35" fill="#d3a6b3"/><circle cx="460.62" cy="396.25" r="0.35" fill="#d3a6b3"/><circle cx="453.38" cy="403.81" r="0.35" fill="#d3a6b3"/><circle cx="449.60" cy="418.10" r="0.35" fill="#d3a6b3"/><circle cx="461.93" cy="394.46" r="0.35" fill="#d3a6b3"/><circle cx="467.02" cy="405.62" r="0.35" fill="#d3a6b3"/><circle cx="442.78" cy="401.95" r="0.35" fill="#d3a6b3"/><circle cx="454.34" cy="414.60" r="0.35" fill="#d3a6b3"/><circle cx="439.60" cy="397.42" r="0.35" fill="#d3a6b3"/><circle cx="463.07" cy="410.32" r="0.35" fill="#d3a6b3"/><circle cx="435.96" cy="409.22" r="0.35" fill="#d3a6b3"/><circle cx="448.98" cy="430.32" r="0.35" fill="#d3a6b3"/><circle cx="442.80" cy="403.55" r="0.35" fill="#d3a6b3"/><circle cx="446.72" cy="417.56" r="0.35" fill="#d3a6b3"/><circle cx="457.71" cy="421.47" r="0.35" fill="#d3a6b3"/><circle cx="467.57" cy="410.57" r="0.35" fill="#d3a6b3"/><circle cx="466.98" cy="413.04" r="0.35" fill="#d3a6b3"/><circle cx="460.26" cy="424.87" r="0.35" fill="#d3a6b3"/><circle cx="466.41" cy="402.04" r="0.35" fill="#d3a6b3"/><circle cx="465.02" cy="397.78" r="0.35" fill="#d3a6b3"/><circle cx="449.93" cy="409.16" r="0.35" fill="#d3a6b3"/><circle cx="451.65" cy="429.87" r="0.35" fill="#d3a6b3"/><circle cx="438.42" cy="400.19" r="0.35" fill="#d3a6b3"/><circle cx="459.78" cy="430.06" r="0.35" fill="#d3a6b3"/><circle cx="440.27" cy="404.11" r="0.35" fill="#d3a6b3"/><circle cx="459.45" cy="420.98" r="0.35" fill="#d3a6b3"/><circle cx="437.07" cy="410.30" r="0.35" fill="#d3a6b3"/><circle cx="446.12" cy="396.17" r="0.35" fill="#d3a6b3"/><circle cx="449.48" cy="399.42" r="0.35" fill="#d3a6b3"/><circle cx="443.28" cy="430.57" r="0.35" fill="#d3a6b3"/><circle cx="445.82" cy="397.65" r="0.35" fill="#d3a6b3"/><circle cx="467.68" cy="407.69" r="0.35" fill="#d3a6b3"/><circle cx="448.91" cy="390.74" r="0.35" fill="#d3a6b3"/><circle cx="439.62" cy="425.99" r="0.35" fill="#d3a6b3"/><circle cx="442.03" cy="405.38" r="0.35" fill="#d3a6b3"/><circle cx="448.88" cy="414.79" r="0.35" fill="#d3a6b3"/><circle cx="464.90" cy="397.94" r="0.35" fill="#d3a6b3"/><circle cx="439.92" cy="426.76" r="0.35" fill="#d3a6b3"/><circle cx="459.99" cy="422.86" r="0.35" fill="#d3a6b3"/><circle cx="465.71" cy="411.21" r="0.35" fill="#d3a6b3"/><circle cx="459.59" cy="426.51" r="0.35" fill="#d3a6b3"/><circle cx="466.46" cy="415.02" r="0.35" fill="#d3a6b3"/><circle cx="440.19" cy="402.84" r="0.35" fill="#d3a6b3"/><circle cx="449.57" cy="405.94" r="0.35" fill="#d3a6b3"/><circle cx="463.14" cy="399.13" r="0.35" fill="#d3a6b3"/><circle cx="458.49" cy="405.47" r="0.35" fill="#d3a6b3"/><circle cx="454.04" cy="430.39" r="0.35" fill="#d3a6b3"/><circle cx="463.49" cy="404.26" r="0.35" fill="#d3a6b3"/><circle cx="452.49" cy="426.50" r="0.35" fill="#d3a6b3"/><circle cx="452.70" cy="427.16" r="0.35" fill="#d3a6b3"/><circle cx="465.74" cy="407.41" r="0.35" fill="#d3a6b3"/><circle cx="456.82" cy="432.00" r="0.35" fill="#d3a6b3"/><circle cx="459.85" cy="402.32" r="0.35" fill="#d3a6b3"/><circle cx="466.09" cy="412.10" r="0.35" fill="#d3a6b3"/><circle cx="449.23" cy="418.97" r="0.35" fill="#d3a6b3"/><circle cx="461.17" cy="404.51" r="0.35" fill="#d3a6b3"/><circle cx="456.71" cy="421.99" r="0.35" fill="#d3a6b3"/><circle cx="462.22" cy="411.62" r="0.35" fill="#d3a6b3"/><circle cx="443.48" cy="413.93" r="0.35" fill="#d3a6b3"/><circle cx="457.46" cy="415.88" r="0.35" fill="#d3a6b3"/><circle cx="462.85" cy="417.36" r="0.35" fill="#d3a6b3"/><circle cx="438.86" cy="419.68" r="0.35" fill="#d3a6b3"/><circle cx="460.06" cy="394.31" r="0.35" fill="#d3a6b3"/><circle cx="460.21" cy="424.58" r="0.35" fill="#d3a6b3"/><circle cx="457.85" cy="421.30" r="0.35" fill="#d3a6b3"/><circle cx="443.81" cy="420.94" r="0.35" fill="#d3a6b3"/><circle cx="458.24" cy="400.15" r="0.35" fill="#d3a6b3"/><circle cx="459.16" cy="426.29" r="0.35" fill="#d3a6b3"/><circle cx="450.97" cy="432.75" r="0.35" fill="#d3a6b3"/><circle cx="457.29" cy="417.40" r="0.35" fill="#d3a6b3"/><circle cx="460.62" cy="416.74" r="0.35" fill="#d3a6b3"/><circle cx="452.99" cy="405.95" r="0.35" fill="#d3a6b3"/><circle cx="439.31" cy="398.96" r="0.35" fill="#d3a6b3"/><circle cx="453.75" cy="430.72" r="0.35" fill="#d3a6b3"/><circle cx="449.18" cy="390.86" r="0.35" fill="#d3a6b3"/><circle cx="460.19" cy="398.12" r="0.35" fill="#d3a6b3"/><circle cx="442.67" cy="418.00" r="0.35" fill="#d3a6b3"/><circle cx="454.86" cy="415.50" r="0.35" fill="#d3a6b3"/><circle cx="446.33" cy="402.85" r="0.35" fill="#d3a6b3"/><circle cx="458.60" cy="424.58" r="0.35" fill="#d3a6b3"/><circle cx="460.41" cy="425.78" r="0.35" fill="#d3a6b3"/><circle cx="462.05" cy="408.02" r="0.35" fill="#d3a6b3"/><circle cx="458.90" cy="413.84" r="0.35" fill="#d3a6b3"/><circle cx="445.77" cy="431.02" r="0.35" fill="#d3a6b3"/>
<g transform="translate(463.00,412.00) rotate(30)"><ellipse cx="0" cy="0" rx="7.00" ry="9.00" fill="none" stroke="#d2a3b1" stroke-width="0.45"/><ellipse cx="0" cy="0" rx="5.46" ry="7.02" fill="none" stroke="#d2a3b1" stroke-width="0.45"/><ellipse cx="0" cy="0" rx="4.26" ry="5.48" fill="none" stroke="#d2a3b1" stroke-width="0.45"/><ellipse cx="0" cy="0" rx="3.32" ry="4.27" fill="none" stroke="#d2a3b1" stroke-width="0.45"/></g>
<g transform="translate(449.80,413.00) rotate(20)"><ellipse cx="0" cy="0" rx="7.50" ry="14.00" fill="#f1e2e7" stroke="#d0a0ae" stroke-width="0.45"/><ellipse cx="0" cy="0" rx="6.30" ry="11.76" fill="none" stroke="#d0a0ae" stroke-width="0.45"/><ellipse cx="0" cy="0" rx="5.29" ry="9.88" fill="none" stroke="#d0a0ae" stroke-width="0.45"/><ellipse cx="0" cy="0" rx="4.45" ry="8.30" fill="none" stroke="#d0a0ae" stroke-width="0.45"/><ellipse cx="0" cy="0" rx="3.73" ry="6.97" fill="none" stroke="#d0a0ae" stroke-width="0.45"/><ellipse cx="0" cy="0" rx="3.14" ry="5.85" fill="none" stroke="#d0a0ae" stroke-width="0.45"/></g>
<g transform="translate(435.60,429.00) rotate(-4)"><ellipse cx="0" cy="0" rx="15.00" ry="8.50" fill="#efdde3" stroke="#b9748b" stroke-width="0.5"/><ellipse cx="0" cy="0" rx="13.20" ry="7.48" fill="none" stroke="#b9748b" stroke-width="0.5"/><ellipse cx="0" cy="0" rx="11.62" ry="6.58" fill="none" stroke="#b9748b" stroke-width="0.5"/><ellipse cx="0" cy="0" rx="10.22" ry="5.79" fill="none" stroke="#b9748b" stroke-width="0.5"/><ellipse cx="0" cy="0" rx="9.00" ry="5.10" fill="none" stroke="#b9748b" stroke-width="0.5"/><ellipse cx="0" cy="0" rx="7.92" ry="4.49" fill="none" stroke="#b9748b" stroke-width="0.5"/><ellipse cx="0" cy="0" rx="6.97" ry="3.95" fill="none" stroke="#b9748b" stroke-width="0.5"/><ellipse cx="0" cy="0" rx="6.13" ry="3.47" fill="none" stroke="#b9748b" stroke-width="0.5"/><ellipse cx="0" cy="0" rx="5.39" ry="3.06" fill="none" stroke="#b9748b" stroke-width="0.5"/></g>
<g transform="translate(433.00,430.00) rotate(-4)"><ellipse cx="0" cy="0" rx="4.00" ry="1.60" fill="#f6eef1"/></g>
<path d="M437.5,388.9 L472,388.9 L472,408.5 L467.5,413 L458,417.6 L450.7,427.6 L437.9,422.2 Z" fill="none" stroke="#3a3a3a" stroke-width="0.8" />
<path d="M467.5,414.9 L476.6,430.4 L458,443.2 L449.8,434 L453.4,423 Z" fill="none" stroke="#3a3a3a" stroke-width="0.8" />
<rect x="411.90" y="373.70" width="72.90" height="72.20" fill="none" stroke="#aaa" stroke-width="0.6" />
<line x1="410.30" y1="379.48" x2="411.90" y2="379.48" stroke="#8a8a8a" stroke-width="0.6"/><line x1="410.30" y1="388.14" x2="411.90" y2="388.14" stroke="#8a8a8a" stroke-width="0.6"/><line x1="410.30" y1="397.53" x2="411.90" y2="397.53" stroke="#8a8a8a" stroke-width="0.6"/><line x1="410.30" y1="406.91" x2="411.90" y2="406.91" stroke="#8a8a8a" stroke-width="0.6"/><line x1="410.30" y1="417.02" x2="411.90" y2="417.02" stroke="#8a8a8a" stroke-width="0.6"/><line x1="410.30" y1="425.68" x2="411.90" y2="425.68" stroke="#8a8a8a" stroke-width="0.6"/><line x1="410.30" y1="435.07" x2="411.90" y2="435.07" stroke="#8a8a8a" stroke-width="0.6"/><line x1="410.30" y1="442.29" x2="411.90" y2="442.29" stroke="#8a8a8a" stroke-width="0.6"/><line x1="416.27" y1="445.90" x2="416.27" y2="447.50" stroke="#8a8a8a" stroke-width="0.6"/><line x1="422.83" y1="445.90" x2="422.83" y2="447.50" stroke="#8a8a8a" stroke-width="0.6"/><line x1="432.31" y1="445.90" x2="432.31" y2="447.50" stroke="#8a8a8a" stroke-width="0.6"/><line x1="442.52" y1="445.90" x2="442.52" y2="447.50" stroke="#8a8a8a" stroke-width="0.6"/><line x1="452.72" y1="445.90" x2="452.72" y2="447.50" stroke="#8a8a8a" stroke-width="0.6"/><line x1="462.93" y1="445.90" x2="462.93" y2="447.50" stroke="#8a8a8a" stroke-width="0.6"/><line x1="473.14" y1="445.90" x2="473.14" y2="447.50" stroke="#8a8a8a" stroke-width="0.6"/><line x1="481.15" y1="445.90" x2="481.15" y2="447.50" stroke="#8a8a8a" stroke-width="0.6"/><rect x="410.30" y="427.85" width="1.4" height="1.6" fill="#222"/><rect x="422.83" y="446.20" width="2.6" height="1.3" fill="#222"/>
<text x="456.20" y="384.75" font-size="9.3" text-anchor="middle" fill="#231f20" stroke="#231f20" stroke-width="0.2" textLength="16.83" lengthAdjust="spacingAndGlyphs" >39.0</text>
<text x="477.20" y="442.35" font-size="9.3" text-anchor="middle" fill="#231f20" stroke="#231f20" stroke-width="0.2" textLength="16.83" lengthAdjust="spacingAndGlyphs" >7.60</text>
<text transform="translate(324.60,438.70) rotate(-90)" x="0" y="3.78" font-size="10.5" text-anchor="middle" fill="#231f20" stroke="#231f20" stroke-width="0.2" textLength="20.8" lengthAdjust="spacingAndGlyphs" >CD64</text>
<line x1="324.60" y1="422.20" x2="324.60" y2="413.70" stroke="#231f20" stroke-width="1.35" />
<path d="M324.60,409.40 L327.10,414.20 L322.10,414.20 Z" fill="#231f20" stroke="none" stroke-width="1" />
<text x="332.50" y="462.28" font-size="10.5" text-anchor="start" fill="#231f20" stroke="#231f20" stroke-width="0.2" textLength="24.9" lengthAdjust="spacingAndGlyphs" >CD11c</text>
<line x1="364.10" y1="458.50" x2="373.30" y2="458.50" stroke="#231f20" stroke-width="1.35" />
<path d="M377.60,458.50 L372.80,461.00 L372.80,456.00 Z" fill="#231f20" stroke="none" stroke-width="1" />
<rect x="391.50" y="533.50" width="14.00" height="28.00" fill="#fff" stroke="#231f20" stroke-width="1" />
<rect x="408.50" y="549.50" width="13.00" height="12.00" fill="#fff" stroke="#231f20" stroke-width="1" />
<line x1="398.50" y1="525.80" x2="398.50" y2="533.50" stroke="#231f20" stroke-width="1" />
<line x1="395.50" y1="525.50" x2="401.50" y2="525.50" stroke="#231f20" stroke-width="1" />
<line x1="415.50" y1="546.00" x2="415.50" y2="549.40" stroke="#231f20" stroke-width="1" />
<line x1="412.20" y1="546.50" x2="418.20" y2="546.50" stroke="#231f20" stroke-width="1" />
<circle cx="398.70" cy="492.50" r="1.7" fill="#3f4a5f"/>
<circle cx="398.70" cy="522.50" r="1.7" fill="#3f4a5f"/>
<circle cx="398.70" cy="531.20" r="1.7" fill="#3f4a5f"/>
<circle cx="398.70" cy="542.70" r="1.7" fill="#3f4a5f"/>
<circle cx="394.40" cy="546.00" r="1.7" fill="#3f4a5f"/>
<circle cx="398.70" cy="551.20" r="1.7" fill="#3f4a5f"/>
<circle cx="403.00" cy="550.80" r="1.7" fill="#3f4a5f"/>
<circle cx="410.80" cy="534.00" r="1.7" fill="#9b1c3d"/>
<circle cx="415.20" cy="536.70" r="1.7" fill="#9b1c3d"/>
<circle cx="419.40" cy="534.00" r="1.7" fill="#9b1c3d"/>
<circle cx="412.70" cy="550.40" r="1.7" fill="#9b1c3d"/>
<circle cx="417.50" cy="551.70" r="1.7" fill="#9b1c3d"/>
<circle cx="413.00" cy="554.60" r="1.7" fill="#9b1c3d"/>
<circle cx="410.80" cy="559.40" r="1.7" fill="#9b1c3d"/>
<circle cx="415.20" cy="559.80" r="1.7" fill="#9b1c3d"/>
<circle cx="419.40" cy="559.40" r="1.7" fill="#9b1c3d"/>
<line x1="385.50" y1="482.50" x2="385.50" y2="561.30" stroke="#231f20" stroke-width="1" />
<line x1="381.70" y1="485.50" x2="385.00" y2="485.50" stroke="#231f20" stroke-width="1" />
<text x="378.10" y="488.39" font-size="9.7" text-anchor="end" fill="#231f20" stroke="#231f20" stroke-width="0.2" textLength="9.49" lengthAdjust="spacingAndGlyphs" >50</text>
<line x1="381.70" y1="500.50" x2="385.00" y2="500.50" stroke="#231f20" stroke-width="1" />
<text x="378.10" y="503.59" font-size="9.7" text-anchor="end" fill="#231f20" stroke="#231f20" stroke-width="0.2" textLength="9.49" lengthAdjust="spacingAndGlyphs" >40</text>
<line x1="381.70" y1="515.50" x2="385.00" y2="515.50" stroke="#231f20" stroke-width="1" />
<text x="378.10" y="518.79" font-size="9.7" text-anchor="end" fill="#231f20" stroke="#231f20" stroke-width="0.2" textLength="9.49" lengthAdjust="spacingAndGlyphs" >30</text>
<line x1="381.70" y1="530.50" x2="385.00" y2="530.50" stroke="#231f20" stroke-width="1" />
<text x="378.10" y="533.99" font-size="9.7" text-anchor="end" fill="#231f20" stroke="#231f20" stroke-width="0.2" textLength="9.49" lengthAdjust="spacingAndGlyphs" >20</text>
<line x1="381.70" y1="546.50" x2="385.00" y2="546.50" stroke="#231f20" stroke-width="1" />
<text x="378.10" y="549.19" font-size="9.7" text-anchor="end" fill="#231f20" stroke="#231f20" stroke-width="0.2" textLength="9.49" lengthAdjust="spacingAndGlyphs" >10</text>
<line x1="381.70" y1="561.50" x2="385.00" y2="561.50" stroke="#231f20" stroke-width="1" />
<text x="378.10" y="564.39" font-size="9.7" text-anchor="end" fill="#231f20" stroke="#231f20" stroke-width="0.2" textLength="4.75" lengthAdjust="spacingAndGlyphs" >0</text>
<line x1="385.00" y1="561.50" x2="432.30" y2="561.50" stroke="#231f20" stroke-width="1" />
<line x1="397.90" y1="485.80" x2="413.30" y2="485.80" stroke="#231f20" stroke-width="1.3" />
<text x="405.60" y="486.22" font-size="9.5" text-anchor="middle" fill="#231f20" font-weight="bold" >*</text>
<text transform="translate(357.50,522.40) rotate(-90)" x="0" y="3.60" font-size="10" text-anchor="middle" fill="#231f20" stroke="#231f20" stroke-width="0.2" textLength="72" lengthAdjust="spacingAndGlyphs">%CD11c<tspan dy="-3.5" font-size="7.3">hi</tspan><tspan dy="3.5"> in IL-10</tspan><tspan dy="-3.5" font-size="7.3">+</tspan></text>
<text x="8.00" y="612.27" font-size="12" text-anchor="start" fill="#000" font-weight="bold" >J</text>
<text x="59.20" y="620.27" font-size="11.3" text-anchor="middle" fill="#231f20" stroke="#231f20" stroke-width="0.2" textLength="13.5" lengthAdjust="spacingAndGlyphs" >clg</text>
<text x="59.50" y="707.87" font-size="11.3" text-anchor="middle" fill="#231f20" stroke="#231f20" stroke-width="0.2" textLength="32.3" lengthAdjust="spacingAndGlyphs" >αTIGIT</text>
<circle cx="73.00" cy="652.33" r="0.35" fill="#b0b0b0"/><circle cx="58.34" cy="658.52" r="0.35" fill="#b0b0b0"/><circle cx="71.23" cy="655.25" r="0.35" fill="#b0b0b0"/><circle cx="69.48" cy="662.94" r="0.35" fill="#b0b0b0"/><circle cx="75.73" cy="660.70" r="0.35" fill="#b0b0b0"/><circle cx="65.10" cy="648.02" r="0.35" fill="#b0b0b0"/><circle cx="58.25" cy="650.12" r="0.35" fill="#b0b0b0"/><circle cx="55.27" cy="658.59" r="0.35" fill="#b0b0b0"/><circle cx="69.78" cy="653.00" r="0.35" fill="#b0b0b0"/><circle cx="76.82" cy="649.03" r="0.35" fill="#b0b0b0"/><circle cx="70.73" cy="658.89" r="0.35" fill="#b0b0b0"/><circle cx="58.35" cy="661.28" r="0.35" fill="#b0b0b0"/><circle cx="69.72" cy="657.71" r="0.35" fill="#b0b0b0"/><circle cx="58.48" cy="647.24" r="0.35" fill="#b0b0b0"/><circle cx="81.12" cy="648.68" r="0.35" fill="#b0b0b0"/><circle cx="63.85" cy="656.50" r="0.35" fill="#b0b0b0"/><circle cx="75.68" cy="641.23" r="0.35" fill="#b0b0b0"/><circle cx="80.58" cy="654.06" r="0.35" fill="#b0b0b0"/><circle cx="76.17" cy="644.49" r="0.35" fill="#b0b0b0"/><circle cx="70.64" cy="663.07" r="0.35" fill="#b0b0b0"/><circle cx="67.17" cy="646.48" r="0.35" fill="#b0b0b0"/><circle cx="63.57" cy="647.42" r="0.35" fill="#b0b0b0"/><circle cx="76.37" cy="653.89" r="0.35" fill="#b0b0b0"/><circle cx="63.24" cy="658.87" r="0.35" fill="#b0b0b0"/><circle cx="59.74" cy="642.78" r="0.35" fill="#b0b0b0"/><circle cx="82.34" cy="648.99" r="0.35" fill="#b0b0b0"/><circle cx="81.28" cy="651.54" r="0.35" fill="#b0b0b0"/><circle cx="65.83" cy="656.98" r="0.35" fill="#b0b0b0"/><circle cx="60.13" cy="645.44" r="0.35" fill="#b0b0b0"/><circle cx="65.91" cy="648.56" r="0.35" fill="#b0b0b0"/><circle cx="73.05" cy="663.36" r="0.35" fill="#b0b0b0"/><circle cx="57.98" cy="645.73" r="0.35" fill="#b0b0b0"/><circle cx="75.79" cy="656.52" r="0.35" fill="#b0b0b0"/><circle cx="78.18" cy="646.54" r="0.35" fill="#b0b0b0"/><circle cx="74.62" cy="651.71" r="0.35" fill="#b0b0b0"/><circle cx="55.16" cy="655.17" r="0.35" fill="#b0b0b0"/><circle cx="55.52" cy="655.83" r="0.35" fill="#b0b0b0"/><circle cx="63.24" cy="650.36" r="0.35" fill="#b0b0b0"/><circle cx="80.05" cy="659.30" r="0.35" fill="#b0b0b0"/><circle cx="72.82" cy="655.80" r="0.35" fill="#b0b0b0"/><circle cx="61.56" cy="661.19" r="0.35" fill="#b0b0b0"/><circle cx="74.27" cy="645.08" r="0.35" fill="#b0b0b0"/><circle cx="54.73" cy="652.13" r="0.35" fill="#b0b0b0"/><circle cx="66.40" cy="659.60" r="0.35" fill="#b0b0b0"/><circle cx="58.94" cy="645.44" r="0.35" fill="#b0b0b0"/><circle cx="72.86" cy="653.00" r="0.35" fill="#b0b0b0"/><circle cx="76.24" cy="660.21" r="0.35" fill="#b0b0b0"/><circle cx="62.82" cy="640.31" r="0.35" fill="#b0b0b0"/><circle cx="68.83" cy="645.65" r="0.35" fill="#b0b0b0"/><circle cx="69.44" cy="639.50" r="0.35" fill="#b0b0b0"/><circle cx="67.08" cy="653.09" r="0.35" fill="#b0b0b0"/><circle cx="62.37" cy="656.75" r="0.35" fill="#b0b0b0"/><circle cx="69.42" cy="654.40" r="0.35" fill="#b0b0b0"/><circle cx="77.84" cy="660.31" r="0.35" fill="#b0b0b0"/><circle cx="79.14" cy="655.06" r="0.35" fill="#b0b0b0"/><circle cx="69.77" cy="657.36" r="0.35" fill="#b0b0b0"/><circle cx="71.51" cy="645.76" r="0.35" fill="#b0b0b0"/><circle cx="72.07" cy="659.80" r="0.35" fill="#b0b0b0"/><circle cx="64.33" cy="643.38" r="0.35" fill="#b0b0b0"/><circle cx="74.02" cy="645.82" r="0.35" fill="#b0b0b0"/><circle cx="55.48" cy="650.39" r="0.35" fill="#b0b0b0"/><circle cx="55.71" cy="654.56" r="0.35" fill="#b0b0b0"/><circle cx="62.65" cy="652.95" r="0.35" fill="#b0b0b0"/><circle cx="77.44" cy="659.84" r="0.35" fill="#b0b0b0"/><circle cx="67.53" cy="639.72" r="0.35" fill="#b0b0b0"/><circle cx="63.82" cy="643.04" r="0.35" fill="#b0b0b0"/><circle cx="74.94" cy="662.10" r="0.35" fill="#b0b0b0"/><circle cx="75.15" cy="657.60" r="0.35" fill="#b0b0b0"/><circle cx="73.85" cy="658.03" r="0.35" fill="#b0b0b0"/><circle cx="64.57" cy="659.72" r="0.35" fill="#b0b0b0"/><circle cx="65.34" cy="642.97" r="0.35" fill="#b0b0b0"/><circle cx="68.60" cy="663.15" r="0.35" fill="#b0b0b0"/><circle cx="66.73" cy="640.54" r="0.35" fill="#b0b0b0"/><circle cx="79.47" cy="654.04" r="0.35" fill="#b0b0b0"/><circle cx="74.02" cy="648.07" r="0.35" fill="#b0b0b0"/><circle cx="71.99" cy="662.90" r="0.35" fill="#b0b0b0"/><circle cx="61.79" cy="658.05" r="0.35" fill="#b0b0b0"/><circle cx="71.82" cy="644.86" r="0.35" fill="#b0b0b0"/><circle cx="70.20" cy="657.55" r="0.35" fill="#b0b0b0"/><circle cx="60.94" cy="660.72" r="0.35" fill="#b0b0b0"/><circle cx="59.12" cy="660.18" r="0.35" fill="#b0b0b0"/><circle cx="74.83" cy="654.54" r="0.35" fill="#b0b0b0"/><circle cx="60.68" cy="645.81" r="0.35" fill="#b0b0b0"/><circle cx="53.54" cy="652.01" r="0.35" fill="#b0b0b0"/><circle cx="66.91" cy="657.31" r="0.35" fill="#b0b0b0"/><circle cx="78.15" cy="653.85" r="0.35" fill="#b0b0b0"/><circle cx="65.00" cy="660.33" r="0.35" fill="#b0b0b0"/><circle cx="68.21" cy="652.01" r="0.35" fill="#b0b0b0"/><circle cx="58.53" cy="659.55" r="0.35" fill="#b0b0b0"/><circle cx="63.55" cy="663.48" r="0.35" fill="#b0b0b0"/><circle cx="59.66" cy="648.16" r="0.35" fill="#b0b0b0"/><circle cx="69.23" cy="645.98" r="0.35" fill="#b0b0b0"/><circle cx="57.14" cy="644.86" r="0.35" fill="#b0b0b0"/><circle cx="59.82" cy="650.18" r="0.35" fill="#b0b0b0"/><circle cx="77.33" cy="657.44" r="0.35" fill="#b0b0b0"/><circle cx="71.49" cy="659.14" r="0.35" fill="#b0b0b0"/><circle cx="54.01" cy="648.77" r="0.35" fill="#b0b0b0"/><circle cx="63.01" cy="643.92" r="0.35" fill="#b0b0b0"/><circle cx="73.23" cy="646.54" r="0.35" fill="#b0b0b0"/><circle cx="58.64" cy="658.75" r="0.35" fill="#b0b0b0"/><circle cx="61.37" cy="650.01" r="0.35" fill="#b0b0b0"/><circle cx="56.51" cy="658.11" r="0.35" fill="#b0b0b0"/><circle cx="68.61" cy="662.62" r="0.35" fill="#b0b0b0"/><circle cx="81.94" cy="655.68" r="0.35" fill="#b0b0b0"/><circle cx="64.58" cy="645.41" r="0.35" fill="#b0b0b0"/><circle cx="81.27" cy="650.81" r="0.35" fill="#b0b0b0"/><circle cx="74.90" cy="654.38" r="0.35" fill="#b0b0b0"/><circle cx="53.08" cy="652.66" r="0.35" fill="#b0b0b0"/><circle cx="70.07" cy="654.14" r="0.35" fill="#b0b0b0"/><circle cx="66.79" cy="654.47" r="0.35" fill="#b0b0b0"/><circle cx="58.78" cy="657.03" r="0.35" fill="#b0b0b0"/><circle cx="62.77" cy="653.74" r="0.35" fill="#b0b0b0"/><circle cx="81.25" cy="653.64" r="0.35" fill="#b0b0b0"/><circle cx="58.37" cy="655.23" r="0.35" fill="#b0b0b0"/><circle cx="55.74" cy="653.44" r="0.35" fill="#b0b0b0"/><circle cx="79.04" cy="645.28" r="0.35" fill="#b0b0b0"/><circle cx="66.76" cy="644.71" r="0.35" fill="#b0b0b0"/><circle cx="70.19" cy="655.31" r="0.35" fill="#b0b0b0"/><circle cx="70.26" cy="649.66" r="0.35" fill="#b0b0b0"/><circle cx="55.07" cy="646.91" r="0.35" fill="#b0b0b0"/><circle cx="63.91" cy="659.09" r="0.35" fill="#b0b0b0"/><circle cx="55.36" cy="658.06" r="0.35" fill="#b0b0b0"/><circle cx="62.50" cy="641.39" r="0.35" fill="#b0b0b0"/><circle cx="80.40" cy="654.61" r="0.35" fill="#b0b0b0"/><circle cx="58.97" cy="654.43" r="0.35" fill="#b0b0b0"/><circle cx="73.21" cy="642.09" r="0.35" fill="#b0b0b0"/><circle cx="78.87" cy="646.20" r="0.35" fill="#b0b0b0"/><circle cx="76.26" cy="647.57" r="0.35" fill="#b0b0b0"/><circle cx="55.57" cy="648.13" r="0.35" fill="#b0b0b0"/><circle cx="62.69" cy="653.35" r="0.35" fill="#b0b0b0"/><circle cx="56.01" cy="645.96" r="0.35" fill="#b0b0b0"/><circle cx="71.63" cy="648.75" r="0.35" fill="#b0b0b0"/><circle cx="62.76" cy="656.11" r="0.35" fill="#b0b0b0"/><circle cx="60.08" cy="662.42" r="0.35" fill="#b0b0b0"/><circle cx="60.64" cy="655.37" r="0.35" fill="#b0b0b0"/><circle cx="66.60" cy="660.31" r="0.35" fill="#b0b0b0"/><circle cx="63.77" cy="645.52" r="0.35" fill="#b0b0b0"/><circle cx="70.77" cy="657.54" r="0.35" fill="#b0b0b0"/><circle cx="67.11" cy="664.02" r="0.35" fill="#b0b0b0"/><circle cx="74.29" cy="661.61" r="0.35" fill="#b0b0b0"/><circle cx="78.31" cy="659.05" r="0.35" fill="#b0b0b0"/><circle cx="66.68" cy="663.11" r="0.35" fill="#b0b0b0"/><circle cx="64.19" cy="653.46" r="0.35" fill="#b0b0b0"/><circle cx="79.08" cy="658.33" r="0.35" fill="#b0b0b0"/><circle cx="57.94" cy="649.70" r="0.35" fill="#b0b0b0"/><circle cx="60.56" cy="660.42" r="0.35" fill="#b0b0b0"/><circle cx="64.30" cy="652.35" r="0.35" fill="#b0b0b0"/><circle cx="61.26" cy="647.80" r="0.35" fill="#b0b0b0"/><circle cx="74.32" cy="644.30" r="0.35" fill="#b0b0b0"/><circle cx="68.77" cy="647.66" r="0.35" fill="#b0b0b0"/><circle cx="64.89" cy="642.47" r="0.35" fill="#b0b0b0"/><circle cx="76.33" cy="642.42" r="0.35" fill="#b0b0b0"/><circle cx="57.09" cy="648.91" r="0.35" fill="#b0b0b0"/><circle cx="68.82" cy="645.54" r="0.35" fill="#b0b0b0"/><circle cx="55.26" cy="648.87" r="0.35" fill="#b0b0b0"/><circle cx="58.87" cy="646.79" r="0.35" fill="#b0b0b0"/><circle cx="77.11" cy="642.17" r="0.35" fill="#b0b0b0"/><circle cx="67.77" cy="655.45" r="0.35" fill="#b0b0b0"/><circle cx="63.64" cy="648.81" r="0.35" fill="#b0b0b0"/><circle cx="78.11" cy="650.35" r="0.35" fill="#b0b0b0"/>
<circle cx="72.93" cy="678.23" r="0.35" fill="#b0b0b0"/><circle cx="57.21" cy="688.40" r="0.35" fill="#b0b0b0"/><circle cx="45.46" cy="675.30" r="0.35" fill="#b0b0b0"/><circle cx="76.60" cy="681.28" r="0.35" fill="#b0b0b0"/><circle cx="72.72" cy="665.99" r="0.35" fill="#b0b0b0"/><circle cx="83.29" cy="670.22" r="0.35" fill="#b0b0b0"/><circle cx="63.59" cy="675.30" r="0.35" fill="#b0b0b0"/><circle cx="64.26" cy="669.69" r="0.35" fill="#b0b0b0"/><circle cx="82.64" cy="675.76" r="0.35" fill="#b0b0b0"/><circle cx="75.01" cy="663.59" r="0.35" fill="#b0b0b0"/><circle cx="73.40" cy="673.06" r="0.35" fill="#b0b0b0"/><circle cx="70.62" cy="677.55" r="0.35" fill="#b0b0b0"/><circle cx="71.24" cy="674.30" r="0.35" fill="#b0b0b0"/><circle cx="65.67" cy="676.79" r="0.35" fill="#b0b0b0"/><circle cx="68.07" cy="675.89" r="0.35" fill="#b0b0b0"/><circle cx="58.68" cy="679.82" r="0.35" fill="#b0b0b0"/><circle cx="56.29" cy="688.41" r="0.35" fill="#b0b0b0"/><circle cx="73.77" cy="686.72" r="0.35" fill="#b0b0b0"/><circle cx="62.80" cy="663.76" r="0.35" fill="#b0b0b0"/><circle cx="46.95" cy="668.99" r="0.35" fill="#b0b0b0"/><circle cx="55.07" cy="671.28" r="0.35" fill="#b0b0b0"/><circle cx="58.83" cy="681.48" r="0.35" fill="#b0b0b0"/><circle cx="46.38" cy="683.68" r="0.35" fill="#b0b0b0"/><circle cx="58.83" cy="676.75" r="0.35" fill="#b0b0b0"/><circle cx="44.51" cy="676.96" r="0.35" fill="#b0b0b0"/><circle cx="46.75" cy="679.20" r="0.35" fill="#b0b0b0"/><circle cx="68.59" cy="677.02" r="0.35" fill="#b0b0b0"/><circle cx="61.47" cy="672.21" r="0.35" fill="#b0b0b0"/><circle cx="59.65" cy="683.78" r="0.35" fill="#b0b0b0"/><circle cx="65.45" cy="677.67" r="0.35" fill="#b0b0b0"/><circle cx="85.30" cy="675.62" r="0.35" fill="#b0b0b0"/><circle cx="55.99" cy="661.48" r="0.35" fill="#b0b0b0"/><circle cx="42.68" cy="675.76" r="0.35" fill="#b0b0b0"/><circle cx="75.16" cy="666.07" r="0.35" fill="#b0b0b0"/><circle cx="48.61" cy="673.32" r="0.35" fill="#b0b0b0"/><circle cx="66.06" cy="684.06" r="0.35" fill="#b0b0b0"/><circle cx="62.36" cy="668.49" r="0.35" fill="#b0b0b0"/><circle cx="73.16" cy="666.36" r="0.35" fill="#b0b0b0"/><circle cx="48.29" cy="666.75" r="0.35" fill="#b0b0b0"/><circle cx="59.08" cy="670.59" r="0.35" fill="#b0b0b0"/><circle cx="64.01" cy="675.49" r="0.35" fill="#b0b0b0"/><circle cx="85.00" cy="677.50" r="0.35" fill="#b0b0b0"/><circle cx="46.06" cy="666.88" r="0.35" fill="#b0b0b0"/><circle cx="66.34" cy="666.75" r="0.35" fill="#b0b0b0"/><circle cx="84.54" cy="672.06" r="0.35" fill="#b0b0b0"/><circle cx="57.93" cy="676.17" r="0.35" fill="#b0b0b0"/><circle cx="60.29" cy="680.54" r="0.35" fill="#b0b0b0"/><circle cx="59.83" cy="678.21" r="0.35" fill="#b0b0b0"/><circle cx="59.05" cy="660.60" r="0.35" fill="#b0b0b0"/><circle cx="68.71" cy="687.80" r="0.35" fill="#b0b0b0"/><circle cx="50.91" cy="669.75" r="0.35" fill="#b0b0b0"/><circle cx="75.21" cy="669.95" r="0.35" fill="#b0b0b0"/><circle cx="65.76" cy="672.49" r="0.35" fill="#b0b0b0"/><circle cx="73.12" cy="673.62" r="0.35" fill="#b0b0b0"/><circle cx="84.51" cy="675.33" r="0.35" fill="#b0b0b0"/><circle cx="60.80" cy="662.92" r="0.35" fill="#b0b0b0"/><circle cx="65.34" cy="665.86" r="0.35" fill="#b0b0b0"/><circle cx="73.28" cy="680.55" r="0.35" fill="#b0b0b0"/><circle cx="84.74" cy="670.75" r="0.35" fill="#b0b0b0"/><circle cx="65.82" cy="684.86" r="0.35" fill="#b0b0b0"/><circle cx="44.22" cy="679.34" r="0.35" fill="#b0b0b0"/><circle cx="83.88" cy="675.47" r="0.35" fill="#b0b0b0"/><circle cx="63.65" cy="686.08" r="0.35" fill="#b0b0b0"/><circle cx="68.36" cy="678.14" r="0.35" fill="#b0b0b0"/><circle cx="75.50" cy="667.89" r="0.35" fill="#b0b0b0"/><circle cx="84.00" cy="672.55" r="0.35" fill="#b0b0b0"/><circle cx="64.09" cy="670.92" r="0.35" fill="#b0b0b0"/><circle cx="45.57" cy="667.08" r="0.35" fill="#b0b0b0"/><circle cx="58.39" cy="674.93" r="0.35" fill="#b0b0b0"/><circle cx="72.66" cy="688.63" r="0.35" fill="#b0b0b0"/><circle cx="74.75" cy="673.92" r="0.35" fill="#b0b0b0"/><circle cx="56.30" cy="686.49" r="0.35" fill="#b0b0b0"/><circle cx="54.60" cy="674.69" r="0.35" fill="#b0b0b0"/><circle cx="81.13" cy="673.85" r="0.35" fill="#b0b0b0"/><circle cx="61.86" cy="676.66" r="0.35" fill="#b0b0b0"/><circle cx="45.09" cy="674.16" r="0.35" fill="#b0b0b0"/><circle cx="66.83" cy="678.97" r="0.35" fill="#b0b0b0"/><circle cx="60.61" cy="660.85" r="0.35" fill="#b0b0b0"/><circle cx="53.25" cy="682.18" r="0.35" fill="#b0b0b0"/><circle cx="53.69" cy="666.85" r="0.35" fill="#b0b0b0"/><circle cx="71.93" cy="680.66" r="0.35" fill="#b0b0b0"/><circle cx="66.64" cy="681.39" r="0.35" fill="#b0b0b0"/><circle cx="75.62" cy="679.92" r="0.35" fill="#b0b0b0"/><circle cx="67.86" cy="688.51" r="0.35" fill="#b0b0b0"/><circle cx="54.62" cy="688.20" r="0.35" fill="#b0b0b0"/><circle cx="68.24" cy="667.81" r="0.35" fill="#b0b0b0"/><circle cx="73.36" cy="684.32" r="0.35" fill="#b0b0b0"/><circle cx="48.23" cy="676.78" r="0.35" fill="#b0b0b0"/><circle cx="75.39" cy="682.62" r="0.35" fill="#b0b0b0"/><circle cx="64.85" cy="665.04" r="0.35" fill="#b0b0b0"/><circle cx="63.60" cy="674.33" r="0.35" fill="#b0b0b0"/><circle cx="56.02" cy="676.87" r="0.35" fill="#b0b0b0"/><circle cx="67.21" cy="665.55" r="0.35" fill="#b0b0b0"/><circle cx="82.31" cy="682.47" r="0.35" fill="#b0b0b0"/><circle cx="69.19" cy="663.90" r="0.35" fill="#b0b0b0"/><circle cx="58.57" cy="673.32" r="0.35" fill="#b0b0b0"/><circle cx="75.93" cy="674.10" r="0.35" fill="#b0b0b0"/><circle cx="48.88" cy="673.43" r="0.35" fill="#b0b0b0"/><circle cx="61.10" cy="675.35" r="0.35" fill="#b0b0b0"/><circle cx="76.01" cy="668.48" r="0.35" fill="#b0b0b0"/><circle cx="48.11" cy="683.61" r="0.35" fill="#b0b0b0"/><circle cx="75.82" cy="665.24" r="0.35" fill="#b0b0b0"/><circle cx="74.80" cy="670.15" r="0.35" fill="#b0b0b0"/><circle cx="74.19" cy="680.39" r="0.35" fill="#b0b0b0"/><circle cx="48.44" cy="667.10" r="0.35" fill="#b0b0b0"/><circle cx="62.30" cy="663.19" r="0.35" fill="#b0b0b0"/><circle cx="49.63" cy="667.78" r="0.35" fill="#b0b0b0"/><circle cx="61.60" cy="674.16" r="0.35" fill="#b0b0b0"/><circle cx="53.02" cy="672.73" r="0.35" fill="#b0b0b0"/><circle cx="79.37" cy="680.13" r="0.35" fill="#b0b0b0"/><circle cx="70.28" cy="668.31" r="0.35" fill="#b0b0b0"/><circle cx="55.68" cy="664.64" r="0.35" fill="#b0b0b0"/><circle cx="55.47" cy="662.32" r="0.35" fill="#b0b0b0"/><circle cx="61.94" cy="671.03" r="0.35" fill="#b0b0b0"/><circle cx="54.44" cy="669.08" r="0.35" fill="#b0b0b0"/><circle cx="48.45" cy="681.14" r="0.35" fill="#b0b0b0"/><circle cx="71.98" cy="685.50" r="0.35" fill="#b0b0b0"/><circle cx="69.59" cy="673.44" r="0.35" fill="#b0b0b0"/><circle cx="74.94" cy="664.89" r="0.35" fill="#b0b0b0"/><circle cx="48.24" cy="682.41" r="0.35" fill="#b0b0b0"/><circle cx="71.70" cy="677.87" r="0.35" fill="#b0b0b0"/><circle cx="81.23" cy="674.82" r="0.35" fill="#b0b0b0"/><circle cx="67.89" cy="679.67" r="0.35" fill="#b0b0b0"/><circle cx="48.74" cy="678.62" r="0.35" fill="#b0b0b0"/><circle cx="73.41" cy="674.59" r="0.35" fill="#b0b0b0"/><circle cx="54.46" cy="667.53" r="0.35" fill="#b0b0b0"/><circle cx="44.15" cy="669.90" r="0.35" fill="#b0b0b0"/><circle cx="78.70" cy="684.25" r="0.35" fill="#b0b0b0"/><circle cx="62.69" cy="667.32" r="0.35" fill="#b0b0b0"/><circle cx="77.76" cy="683.84" r="0.35" fill="#b0b0b0"/><circle cx="71.76" cy="668.00" r="0.35" fill="#b0b0b0"/><circle cx="74.53" cy="683.50" r="0.35" fill="#b0b0b0"/><circle cx="57.74" cy="667.14" r="0.35" fill="#b0b0b0"/><circle cx="58.08" cy="677.54" r="0.35" fill="#b0b0b0"/><circle cx="70.51" cy="680.47" r="0.35" fill="#b0b0b0"/><circle cx="64.37" cy="669.79" r="0.35" fill="#b0b0b0"/><circle cx="68.78" cy="684.65" r="0.35" fill="#b0b0b0"/><circle cx="66.65" cy="682.09" r="0.35" fill="#b0b0b0"/><circle cx="63.12" cy="667.80" r="0.35" fill="#b0b0b0"/><circle cx="58.12" cy="673.36" r="0.35" fill="#b0b0b0"/><circle cx="45.86" cy="673.61" r="0.35" fill="#b0b0b0"/><circle cx="54.99" cy="677.11" r="0.35" fill="#b0b0b0"/><circle cx="75.25" cy="676.48" r="0.35" fill="#b0b0b0"/><circle cx="58.17" cy="677.58" r="0.35" fill="#b0b0b0"/><circle cx="50.06" cy="679.76" r="0.35" fill="#b0b0b0"/><circle cx="80.38" cy="679.77" r="0.35" fill="#b0b0b0"/><circle cx="81.61" cy="671.56" r="0.35" fill="#b0b0b0"/><circle cx="45.05" cy="679.25" r="0.35" fill="#b0b0b0"/><circle cx="84.03" cy="670.06" r="0.35" fill="#b0b0b0"/><circle cx="82.24" cy="671.08" r="0.35" fill="#b0b0b0"/><circle cx="81.87" cy="670.44" r="0.35" fill="#b0b0b0"/><circle cx="60.36" cy="679.89" r="0.35" fill="#b0b0b0"/><circle cx="45.74" cy="676.02" r="0.35" fill="#b0b0b0"/><circle cx="62.44" cy="683.91" r="0.35" fill="#b0b0b0"/><circle cx="67.84" cy="676.49" r="0.35" fill="#b0b0b0"/><circle cx="62.86" cy="688.75" r="0.35" fill="#b0b0b0"/><circle cx="71.86" cy="677.14" r="0.35" fill="#b0b0b0"/><circle cx="46.65" cy="683.68" r="0.35" fill="#b0b0b0"/><circle cx="64.92" cy="678.06" r="0.35" fill="#b0b0b0"/><circle cx="76.22" cy="677.65" r="0.35" fill="#b0b0b0"/><circle cx="81.88" cy="675.43" r="0.35" fill="#b0b0b0"/><circle cx="72.81" cy="677.48" r="0.35" fill="#b0b0b0"/><circle cx="74.07" cy="678.60" r="0.35" fill="#b0b0b0"/><circle cx="71.53" cy="678.20" r="0.35" fill="#b0b0b0"/><circle cx="67.64" cy="681.78" r="0.35" fill="#b0b0b0"/><circle cx="55.18" cy="668.20" r="0.35" fill="#b0b0b0"/><circle cx="64.64" cy="676.59" r="0.35" fill="#b0b0b0"/><circle cx="77.38" cy="664.66" r="0.35" fill="#b0b0b0"/><circle cx="81.44" cy="670.97" r="0.35" fill="#b0b0b0"/><circle cx="52.59" cy="678.52" r="0.35" fill="#b0b0b0"/><circle cx="68.92" cy="684.33" r="0.35" fill="#b0b0b0"/><circle cx="45.57" cy="682.12" r="0.35" fill="#b0b0b0"/><circle cx="69.62" cy="686.89" r="0.35" fill="#b0b0b0"/><circle cx="61.86" cy="662.96" r="0.35" fill="#b0b0b0"/><circle cx="60.60" cy="672.99" r="0.35" fill="#b0b0b0"/><circle cx="73.49" cy="683.58" r="0.35" fill="#b0b0b0"/><circle cx="46.94" cy="666.12" r="0.35" fill="#b0b0b0"/><circle cx="66.26" cy="668.21" r="0.35" fill="#b0b0b0"/><circle cx="75.47" cy="685.55" r="0.35" fill="#b0b0b0"/><circle cx="84.82" cy="675.96" r="0.35" fill="#b0b0b0"/><circle cx="78.46" cy="681.00" r="0.35" fill="#b0b0b0"/><circle cx="67.58" cy="671.42" r="0.35" fill="#b0b0b0"/><circle cx="77.93" cy="682.10" r="0.35" fill="#b0b0b0"/><circle cx="63.58" cy="673.51" r="0.35" fill="#b0b0b0"/><circle cx="44.91" cy="677.62" r="0.35" fill="#b0b0b0"/><circle cx="66.22" cy="665.75" r="0.35" fill="#b0b0b0"/><circle cx="81.15" cy="675.60" r="0.35" fill="#b0b0b0"/><circle cx="50.18" cy="672.80" r="0.35" fill="#b0b0b0"/><circle cx="50.25" cy="668.51" r="0.35" fill="#b0b0b0"/><circle cx="47.92" cy="676.30" r="0.35" fill="#b0b0b0"/><circle cx="46.22" cy="670.05" r="0.35" fill="#b0b0b0"/><circle cx="64.82" cy="672.87" r="0.35" fill="#b0b0b0"/><circle cx="66.31" cy="667.80" r="0.35" fill="#b0b0b0"/><circle cx="55.01" cy="678.28" r="0.35" fill="#b0b0b0"/><circle cx="59.06" cy="683.81" r="0.35" fill="#b0b0b0"/><circle cx="57.18" cy="676.39" r="0.35" fill="#b0b0b0"/><circle cx="59.96" cy="684.72" r="0.35" fill="#b0b0b0"/><circle cx="52.00" cy="682.14" r="0.35" fill="#b0b0b0"/><circle cx="78.82" cy="679.69" r="0.35" fill="#b0b0b0"/><circle cx="79.55" cy="667.79" r="0.35" fill="#b0b0b0"/><circle cx="45.65" cy="670.27" r="0.35" fill="#b0b0b0"/><circle cx="57.31" cy="679.31" r="0.35" fill="#b0b0b0"/><circle cx="55.78" cy="670.20" r="0.35" fill="#b0b0b0"/><circle cx="61.21" cy="687.97" r="0.35" fill="#b0b0b0"/><circle cx="54.88" cy="674.63" r="0.35" fill="#b0b0b0"/><circle cx="67.85" cy="687.53" r="0.35" fill="#b0b0b0"/><circle cx="51.84" cy="663.53" r="0.35" fill="#b0b0b0"/><circle cx="63.19" cy="667.04" r="0.35" fill="#b0b0b0"/><circle cx="57.97" cy="661.58" r="0.35" fill="#b0b0b0"/><circle cx="79.38" cy="665.34" r="0.35" fill="#b0b0b0"/><circle cx="70.70" cy="680.90" r="0.35" fill="#b0b0b0"/><circle cx="73.18" cy="686.96" r="0.35" fill="#b0b0b0"/><circle cx="58.29" cy="664.54" r="0.35" fill="#b0b0b0"/><circle cx="68.63" cy="684.05" r="0.35" fill="#b0b0b0"/><circle cx="62.57" cy="672.51" r="0.35" fill="#b0b0b0"/><circle cx="78.19" cy="667.05" r="0.35" fill="#b0b0b0"/><circle cx="80.76" cy="666.02" r="0.35" fill="#b0b0b0"/><circle cx="52.07" cy="674.21" r="0.35" fill="#b0b0b0"/><circle cx="52.90" cy="682.16" r="0.35" fill="#b0b0b0"/><circle cx="54.96" cy="670.20" r="0.35" fill="#b0b0b0"/><circle cx="60.25" cy="685.39" r="0.35" fill="#b0b0b0"/><circle cx="63.83" cy="673.24" r="0.35" fill="#b0b0b0"/><circle cx="78.35" cy="668.01" r="0.35" fill="#b0b0b0"/><circle cx="47.73" cy="674.90" r="0.35" fill="#b0b0b0"/><circle cx="70.28" cy="666.20" r="0.35" fill="#b0b0b0"/><circle cx="61.01" cy="679.01" r="0.35" fill="#b0b0b0"/><circle cx="61.28" cy="678.18" r="0.35" fill="#b0b0b0"/><circle cx="63.46" cy="686.97" r="0.35" fill="#b0b0b0"/><circle cx="50.93" cy="686.12" r="0.35" fill="#b0b0b0"/><circle cx="44.40" cy="677.63" r="0.35" fill="#b0b0b0"/><circle cx="76.46" cy="663.62" r="0.35" fill="#b0b0b0"/><circle cx="69.38" cy="664.88" r="0.35" fill="#b0b0b0"/><circle cx="75.32" cy="686.33" r="0.35" fill="#b0b0b0"/><circle cx="78.23" cy="672.27" r="0.35" fill="#b0b0b0"/><circle cx="65.69" cy="663.24" r="0.35" fill="#b0b0b0"/><circle cx="66.63" cy="660.86" r="0.35" fill="#b0b0b0"/><circle cx="59.12" cy="670.40" r="0.35" fill="#b0b0b0"/><circle cx="49.11" cy="679.17" r="0.35" fill="#b0b0b0"/><circle cx="66.79" cy="687.41" r="0.35" fill="#b0b0b0"/><circle cx="60.98" cy="678.91" r="0.35" fill="#b0b0b0"/><circle cx="52.18" cy="684.94" r="0.35" fill="#b0b0b0"/><circle cx="55.81" cy="668.60" r="0.35" fill="#b0b0b0"/><circle cx="48.15" cy="681.03" r="0.35" fill="#b0b0b0"/><circle cx="68.22" cy="671.03" r="0.35" fill="#b0b0b0"/><circle cx="68.61" cy="684.08" r="0.35" fill="#b0b0b0"/><circle cx="65.85" cy="681.22" r="0.35" fill="#b0b0b0"/><circle cx="61.35" cy="680.33" r="0.35" fill="#b0b0b0"/><circle cx="77.89" cy="677.25" r="0.35" fill="#b0b0b0"/><circle cx="48.16" cy="679.52" r="0.35" fill="#b0b0b0"/><circle cx="83.24" cy="668.93" r="0.35" fill="#b0b0b0"/><circle cx="52.55" cy="676.16" r="0.35" fill="#b0b0b0"/><circle cx="53.26" cy="668.28" r="0.35" fill="#b0b0b0"/><circle cx="46.32" cy="667.18" r="0.35" fill="#b0b0b0"/><circle cx="65.28" cy="660.18" r="0.35" fill="#b0b0b0"/><circle cx="71.21" cy="662.88" r="0.35" fill="#b0b0b0"/><circle cx="82.74" cy="674.61" r="0.35" fill="#b0b0b0"/><circle cx="63.75" cy="662.74" r="0.35" fill="#b0b0b0"/><circle cx="79.63" cy="672.88" r="0.35" fill="#b0b0b0"/><circle cx="50.75" cy="682.42" r="0.35" fill="#b0b0b0"/><circle cx="71.04" cy="687.36" r="0.35" fill="#b0b0b0"/><circle cx="51.06" cy="673.74" r="0.35" fill="#b0b0b0"/><circle cx="55.81" cy="663.72" r="0.35" fill="#b0b0b0"/><circle cx="54.65" cy="669.59" r="0.35" fill="#b0b0b0"/><circle cx="61.60" cy="674.80" r="0.35" fill="#b0b0b0"/><circle cx="61.20" cy="676.25" r="0.35" fill="#b0b0b0"/><circle cx="58.97" cy="672.65" r="0.35" fill="#b0b0b0"/><circle cx="66.15" cy="688.13" r="0.35" fill="#b0b0b0"/><circle cx="61.23" cy="668.22" r="0.35" fill="#b0b0b0"/><circle cx="85.02" cy="677.67" r="0.35" fill="#b0b0b0"/><circle cx="59.23" cy="676.52" r="0.35" fill="#b0b0b0"/><circle cx="44.48" cy="672.92" r="0.35" fill="#b0b0b0"/><circle cx="54.24" cy="670.52" r="0.35" fill="#b0b0b0"/><circle cx="50.82" cy="674.17" r="0.35" fill="#b0b0b0"/><circle cx="82.36" cy="670.52" r="0.35" fill="#b0b0b0"/><circle cx="68.46" cy="686.29" r="0.35" fill="#b0b0b0"/><circle cx="67.43" cy="668.68" r="0.35" fill="#b0b0b0"/><circle cx="74.35" cy="683.78" r="0.35" fill="#b0b0b0"/>
<circle cx="38.39" cy="651.65" r="0.35" fill="#b0b0b0"/><circle cx="46.98" cy="650.68" r="0.35" fill="#b0b0b0"/><circle cx="39.98" cy="648.69" r="0.35" fill="#b0b0b0"/><circle cx="48.34" cy="652.38" r="0.35" fill="#b0b0b0"/><circle cx="40.82" cy="649.58" r="0.35" fill="#b0b0b0"/><circle cx="35.96" cy="653.86" r="0.35" fill="#b0b0b0"/><circle cx="38.96" cy="653.19" r="0.35" fill="#b0b0b0"/><circle cx="51.88" cy="652.09" r="0.35" fill="#b0b0b0"/><circle cx="43.38" cy="657.64" r="0.35" fill="#b0b0b0"/><circle cx="42.89" cy="654.04" r="0.35" fill="#b0b0b0"/><circle cx="38.84" cy="650.30" r="0.35" fill="#b0b0b0"/><circle cx="37.43" cy="656.84" r="0.35" fill="#b0b0b0"/><circle cx="51.17" cy="651.75" r="0.35" fill="#b0b0b0"/><circle cx="43.68" cy="651.85" r="0.35" fill="#b0b0b0"/><circle cx="53.55" cy="656.35" r="0.35" fill="#b0b0b0"/><circle cx="44.09" cy="657.11" r="0.35" fill="#b0b0b0"/><circle cx="51.35" cy="650.39" r="0.35" fill="#b0b0b0"/><circle cx="48.73" cy="656.74" r="0.35" fill="#b0b0b0"/><circle cx="45.22" cy="657.60" r="0.35" fill="#b0b0b0"/><circle cx="51.66" cy="654.20" r="0.35" fill="#b0b0b0"/><circle cx="43.07" cy="658.08" r="0.35" fill="#b0b0b0"/><circle cx="46.20" cy="656.10" r="0.35" fill="#b0b0b0"/><circle cx="53.41" cy="655.32" r="0.35" fill="#b0b0b0"/><circle cx="44.89" cy="648.84" r="0.35" fill="#b0b0b0"/><circle cx="47.53" cy="655.87" r="0.35" fill="#b0b0b0"/><circle cx="48.78" cy="656.65" r="0.35" fill="#b0b0b0"/><circle cx="49.52" cy="655.28" r="0.35" fill="#b0b0b0"/><circle cx="46.18" cy="656.90" r="0.35" fill="#b0b0b0"/><circle cx="41.46" cy="650.16" r="0.35" fill="#b0b0b0"/><circle cx="39.57" cy="654.68" r="0.35" fill="#b0b0b0"/><circle cx="37.09" cy="652.52" r="0.35" fill="#b0b0b0"/><circle cx="44.13" cy="655.71" r="0.35" fill="#b0b0b0"/><circle cx="39.37" cy="654.50" r="0.35" fill="#b0b0b0"/><circle cx="45.58" cy="651.74" r="0.35" fill="#b0b0b0"/><circle cx="45.78" cy="653.40" r="0.35" fill="#b0b0b0"/><circle cx="39.09" cy="652.79" r="0.35" fill="#b0b0b0"/><circle cx="41.54" cy="659.96" r="0.35" fill="#b0b0b0"/><circle cx="43.90" cy="651.34" r="0.35" fill="#b0b0b0"/><circle cx="37.80" cy="654.17" r="0.35" fill="#b0b0b0"/><circle cx="47.66" cy="654.43" r="0.35" fill="#b0b0b0"/><circle cx="38.69" cy="650.48" r="0.35" fill="#b0b0b0"/><circle cx="39.19" cy="655.04" r="0.35" fill="#b0b0b0"/><circle cx="40.31" cy="653.85" r="0.35" fill="#b0b0b0"/><circle cx="51.44" cy="649.26" r="0.35" fill="#b0b0b0"/><circle cx="43.69" cy="654.11" r="0.35" fill="#b0b0b0"/><circle cx="38.42" cy="657.72" r="0.35" fill="#b0b0b0"/><circle cx="43.64" cy="656.00" r="0.35" fill="#b0b0b0"/><circle cx="48.07" cy="659.35" r="0.35" fill="#b0b0b0"/><circle cx="41.46" cy="651.44" r="0.35" fill="#b0b0b0"/><circle cx="39.28" cy="649.78" r="0.35" fill="#b0b0b0"/>
<path d="M58.5,652 Q58,644 68,643.5 Q77,643.5 78.5,651 Q79,658.5 72,661 Q62,662 58.5,652 Z" fill="#dedede" stroke="#b8b8b8" stroke-width="0.45" />
<path d="M61,652 Q61,646.5 68,646 Q75,646 76,651.5 Q76,656.5 71,658.5 Q64,659 61,652 Z" fill="#d2d2d2" stroke="#b0b0b0" stroke-width="0.45" />
<path d="M64,652 Q64,648.5 68.5,648.5 Q73,648.5 73,652 Q72.5,655.5 69.5,656 Q65,656 64,652 Z" fill="#c6c6c6" stroke="#aaa" stroke-width="0.45" />
<path d="M46.5,663.2 Q64,660.5 80,663.2 Q82.5,676 73,686.8 Q64,689 55,686.5 Q45.5,676 46.5,663.2 Z" fill="#dcdcdc" stroke="#bcbcbc" stroke-width="0.45" />
<path d="M50,664.8 Q64,662.5 77.5,664.8 Q79,675 70.5,684 Q64,686 58,684 Q49,675 50,664.8 Z" fill="#d2d2d2" stroke="#b6b6b6" stroke-width="0.45" />
<path d="M54,667 Q64,665 74,667 Q75,674 68.5,680.5 Q64,682 60,680.5 Q53,674 54,667 Z" fill="#c9c9c9" stroke="#b0b0b0" stroke-width="0.45" />
<path d="M58,669 Q64,667.5 70.5,669 Q71,673.5 66.5,677.5 Q64,678.5 61.5,677.5 Q57.5,673.5 58,669 Z" fill="#c0c0c0" stroke="#aaa" stroke-width="0.45" />
<circle cx="67.7" cy="673.5" r="1.4" fill="#fff"/>
<path d="M40,654 Q40,648.5 45,648.3 Q50,648.5 51.5,653 Q51,659.5 45,659.6 Q40,659 40,654 Z" fill="#fff" stroke="#8c8c8c" stroke-width="0.6" />
<ellipse cx="44" cy="654.2" rx="2.6" ry="2.3" fill="none" stroke="#8c8c8c" stroke-width="0.6"/>
<line x1="26.90" y1="662.50" x2="94.60" y2="662.50" stroke="#555" stroke-width="1" />
<path d="M62.8,621.9 L50.8,662.4 L36.9,678.1" fill="none" stroke="#333" stroke-width="0.8" />
<rect x="26.90" y="622.70" width="67.70" height="66.90" fill="none" stroke="#aaa" stroke-width="0.6" />
<line x1="25.30" y1="628.05" x2="26.90" y2="628.05" stroke="#8a8a8a" stroke-width="0.6"/><line x1="25.30" y1="636.08" x2="26.90" y2="636.08" stroke="#8a8a8a" stroke-width="0.6"/><line x1="25.30" y1="644.78" x2="26.90" y2="644.78" stroke="#8a8a8a" stroke-width="0.6"/><line x1="25.30" y1="653.47" x2="26.90" y2="653.47" stroke="#8a8a8a" stroke-width="0.6"/><line x1="25.30" y1="662.84" x2="26.90" y2="662.84" stroke="#8a8a8a" stroke-width="0.6"/><line x1="25.30" y1="670.87" x2="26.90" y2="670.87" stroke="#8a8a8a" stroke-width="0.6"/><line x1="25.30" y1="679.57" x2="26.90" y2="679.57" stroke="#8a8a8a" stroke-width="0.6"/><line x1="25.30" y1="686.25" x2="26.90" y2="686.25" stroke="#8a8a8a" stroke-width="0.6"/><line x1="30.96" y1="689.60" x2="30.96" y2="691.20" stroke="#8a8a8a" stroke-width="0.6"/><line x1="37.05" y1="689.60" x2="37.05" y2="691.20" stroke="#8a8a8a" stroke-width="0.6"/><line x1="45.86" y1="689.60" x2="45.86" y2="691.20" stroke="#8a8a8a" stroke-width="0.6"/><line x1="55.33" y1="689.60" x2="55.33" y2="691.20" stroke="#8a8a8a" stroke-width="0.6"/><line x1="64.81" y1="689.60" x2="64.81" y2="691.20" stroke="#8a8a8a" stroke-width="0.6"/><line x1="74.29" y1="689.60" x2="74.29" y2="691.20" stroke="#8a8a8a" stroke-width="0.6"/><line x1="83.77" y1="689.60" x2="83.77" y2="691.20" stroke="#8a8a8a" stroke-width="0.6"/><line x1="91.21" y1="689.60" x2="91.21" y2="691.20" stroke="#8a8a8a" stroke-width="0.6"/><rect x="25.30" y="672.88" width="1.4" height="1.6" fill="#222"/><rect x="37.05" y="689.90" width="2.6" height="1.3" fill="#222"/>
<text x="27.70" y="632.55" font-size="9.3" text-anchor="start" fill="#231f20" stroke="#231f20" stroke-width="0.2" textLength="12.02" lengthAdjust="spacingAndGlyphs" >4.8</text>
<text x="91.10" y="632.55" font-size="9.3" text-anchor="end" fill="#231f20" stroke="#231f20" stroke-width="0.2" textLength="9.62" lengthAdjust="spacingAndGlyphs" >20</text>
<text x="27.70" y="686.85" font-size="9.3" text-anchor="start" fill="#231f20" stroke="#231f20" stroke-width="0.2" textLength="12.02" lengthAdjust="spacingAndGlyphs" >0.3</text>
<text x="91.10" y="686.85" font-size="9.3" text-anchor="end" fill="#231f20" stroke="#231f20" stroke-width="0.2" textLength="9.62" lengthAdjust="spacingAndGlyphs" >75</text>
<circle cx="55.75" cy="737.93" r="0.35" fill="#d6aab7"/><circle cx="74.84" cy="728.20" r="0.35" fill="#d6aab7"/><circle cx="73.67" cy="733.91" r="0.35" fill="#d6aab7"/><circle cx="76.24" cy="736.92" r="0.35" fill="#d6aab7"/><circle cx="65.41" cy="744.31" r="0.35" fill="#d6aab7"/><circle cx="61.13" cy="739.57" r="0.35" fill="#d6aab7"/><circle cx="65.23" cy="751.55" r="0.35" fill="#d6aab7"/><circle cx="69.14" cy="727.21" r="0.35" fill="#d6aab7"/><circle cx="70.17" cy="741.91" r="0.35" fill="#d6aab7"/><circle cx="66.64" cy="751.10" r="0.35" fill="#d6aab7"/><circle cx="74.08" cy="728.65" r="0.35" fill="#d6aab7"/><circle cx="77.49" cy="735.36" r="0.35" fill="#d6aab7"/><circle cx="61.72" cy="733.88" r="0.35" fill="#d6aab7"/><circle cx="64.35" cy="746.25" r="0.35" fill="#d6aab7"/><circle cx="55.64" cy="737.44" r="0.35" fill="#d6aab7"/><circle cx="58.61" cy="735.85" r="0.35" fill="#d6aab7"/><circle cx="60.38" cy="743.43" r="0.35" fill="#d6aab7"/><circle cx="71.54" cy="729.55" r="0.35" fill="#d6aab7"/><circle cx="66.89" cy="726.53" r="0.35" fill="#d6aab7"/><circle cx="66.02" cy="745.02" r="0.35" fill="#d6aab7"/><circle cx="64.08" cy="753.94" r="0.35" fill="#d6aab7"/><circle cx="69.46" cy="730.80" r="0.35" fill="#d6aab7"/><circle cx="68.45" cy="731.38" r="0.35" fill="#d6aab7"/><circle cx="69.98" cy="736.64" r="0.35" fill="#d6aab7"/><circle cx="66.16" cy="725.22" r="0.35" fill="#d6aab7"/><circle cx="58.09" cy="744.89" r="0.35" fill="#d6aab7"/><circle cx="72.34" cy="745.75" r="0.35" fill="#d6aab7"/><circle cx="67.82" cy="748.09" r="0.35" fill="#d6aab7"/><circle cx="74.43" cy="743.41" r="0.35" fill="#d6aab7"/><circle cx="75.58" cy="746.60" r="0.35" fill="#d6aab7"/><circle cx="61.07" cy="743.96" r="0.35" fill="#d6aab7"/><circle cx="74.79" cy="737.10" r="0.35" fill="#d6aab7"/><circle cx="53.14" cy="737.22" r="0.35" fill="#d6aab7"/><circle cx="67.77" cy="725.33" r="0.35" fill="#d6aab7"/><circle cx="56.22" cy="731.15" r="0.35" fill="#d6aab7"/><circle cx="78.75" cy="745.09" r="0.35" fill="#d6aab7"/><circle cx="62.64" cy="747.26" r="0.35" fill="#d6aab7"/><circle cx="68.58" cy="727.22" r="0.35" fill="#d6aab7"/><circle cx="62.08" cy="747.55" r="0.35" fill="#d6aab7"/><circle cx="64.42" cy="754.22" r="0.35" fill="#d6aab7"/><circle cx="61.27" cy="734.97" r="0.35" fill="#d6aab7"/><circle cx="63.48" cy="739.28" r="0.35" fill="#d6aab7"/><circle cx="65.70" cy="750.51" r="0.35" fill="#d6aab7"/><circle cx="80.65" cy="737.63" r="0.35" fill="#d6aab7"/><circle cx="54.52" cy="736.16" r="0.35" fill="#d6aab7"/><circle cx="66.85" cy="752.46" r="0.35" fill="#d6aab7"/><circle cx="72.87" cy="739.86" r="0.35" fill="#d6aab7"/><circle cx="80.53" cy="733.90" r="0.35" fill="#d6aab7"/><circle cx="57.89" cy="749.95" r="0.35" fill="#d6aab7"/><circle cx="72.73" cy="739.59" r="0.35" fill="#d6aab7"/><circle cx="55.76" cy="742.53" r="0.35" fill="#d6aab7"/><circle cx="69.10" cy="732.58" r="0.35" fill="#d6aab7"/><circle cx="67.14" cy="727.46" r="0.35" fill="#d6aab7"/><circle cx="75.03" cy="730.02" r="0.35" fill="#d6aab7"/><circle cx="74.46" cy="731.09" r="0.35" fill="#d6aab7"/><circle cx="57.21" cy="737.27" r="0.35" fill="#d6aab7"/><circle cx="58.53" cy="745.62" r="0.35" fill="#d6aab7"/><circle cx="57.65" cy="740.39" r="0.35" fill="#d6aab7"/><circle cx="72.77" cy="747.45" r="0.35" fill="#d6aab7"/><circle cx="74.78" cy="737.20" r="0.35" fill="#d6aab7"/><circle cx="80.56" cy="738.52" r="0.35" fill="#d6aab7"/><circle cx="60.32" cy="742.01" r="0.35" fill="#d6aab7"/><circle cx="77.59" cy="729.93" r="0.35" fill="#d6aab7"/><circle cx="62.45" cy="751.35" r="0.35" fill="#d6aab7"/><circle cx="67.26" cy="728.22" r="0.35" fill="#d6aab7"/><circle cx="72.28" cy="744.98" r="0.35" fill="#d6aab7"/><circle cx="64.88" cy="728.28" r="0.35" fill="#d6aab7"/><circle cx="63.25" cy="733.02" r="0.35" fill="#d6aab7"/><circle cx="76.59" cy="730.97" r="0.35" fill="#d6aab7"/><circle cx="53.24" cy="741.30" r="0.35" fill="#d6aab7"/><circle cx="63.50" cy="750.34" r="0.35" fill="#d6aab7"/><circle cx="52.41" cy="738.12" r="0.35" fill="#d6aab7"/><circle cx="75.06" cy="736.65" r="0.35" fill="#d6aab7"/><circle cx="68.55" cy="731.99" r="0.35" fill="#d6aab7"/><circle cx="77.48" cy="730.54" r="0.35" fill="#d6aab7"/><circle cx="65.83" cy="737.45" r="0.35" fill="#d6aab7"/><circle cx="64.90" cy="745.82" r="0.35" fill="#d6aab7"/><circle cx="64.14" cy="739.92" r="0.35" fill="#d6aab7"/><circle cx="71.35" cy="741.81" r="0.35" fill="#d6aab7"/><circle cx="74.66" cy="731.29" r="0.35" fill="#d6aab7"/><circle cx="76.70" cy="729.20" r="0.35" fill="#d6aab7"/><circle cx="54.50" cy="734.26" r="0.35" fill="#d6aab7"/><circle cx="56.30" cy="744.65" r="0.35" fill="#d6aab7"/><circle cx="71.96" cy="748.66" r="0.35" fill="#d6aab7"/><circle cx="75.36" cy="745.78" r="0.35" fill="#d6aab7"/><circle cx="81.48" cy="736.54" r="0.35" fill="#d6aab7"/><circle cx="67.00" cy="736.84" r="0.35" fill="#d6aab7"/><circle cx="77.87" cy="739.27" r="0.35" fill="#d6aab7"/><circle cx="62.68" cy="731.49" r="0.35" fill="#d6aab7"/><circle cx="68.31" cy="731.72" r="0.35" fill="#d6aab7"/><circle cx="74.81" cy="746.45" r="0.35" fill="#d6aab7"/><circle cx="69.72" cy="746.54" r="0.35" fill="#d6aab7"/><circle cx="71.05" cy="751.85" r="0.35" fill="#d6aab7"/><circle cx="64.06" cy="733.62" r="0.35" fill="#d6aab7"/><circle cx="66.03" cy="737.69" r="0.35" fill="#d6aab7"/><circle cx="73.80" cy="737.53" r="0.35" fill="#d6aab7"/><circle cx="57.93" cy="739.34" r="0.35" fill="#d6aab7"/><circle cx="73.05" cy="732.14" r="0.35" fill="#d6aab7"/><circle cx="73.86" cy="752.05" r="0.35" fill="#d6aab7"/><circle cx="60.29" cy="736.19" r="0.35" fill="#d6aab7"/><circle cx="63.76" cy="726.23" r="0.35" fill="#d6aab7"/><circle cx="66.49" cy="726.70" r="0.35" fill="#d6aab7"/><circle cx="62.63" cy="745.78" r="0.35" fill="#d6aab7"/><circle cx="80.32" cy="744.78" r="0.35" fill="#d6aab7"/><circle cx="67.99" cy="749.02" r="0.35" fill="#d6aab7"/><circle cx="68.64" cy="735.27" r="0.35" fill="#d6aab7"/><circle cx="77.09" cy="735.14" r="0.35" fill="#d6aab7"/><circle cx="73.46" cy="751.81" r="0.35" fill="#d6aab7"/><circle cx="65.18" cy="736.70" r="0.35" fill="#d6aab7"/><circle cx="54.44" cy="741.00" r="0.35" fill="#d6aab7"/><circle cx="65.78" cy="748.57" r="0.35" fill="#d6aab7"/><circle cx="70.48" cy="735.60" r="0.35" fill="#d6aab7"/><circle cx="66.94" cy="745.26" r="0.35" fill="#d6aab7"/><circle cx="57.06" cy="740.76" r="0.35" fill="#d6aab7"/><circle cx="66.30" cy="744.52" r="0.35" fill="#d6aab7"/><circle cx="76.24" cy="749.14" r="0.35" fill="#d6aab7"/><circle cx="55.30" cy="733.48" r="0.35" fill="#d6aab7"/><circle cx="78.10" cy="749.47" r="0.35" fill="#d6aab7"/><circle cx="62.77" cy="729.46" r="0.35" fill="#d6aab7"/><circle cx="68.89" cy="736.42" r="0.35" fill="#d6aab7"/><circle cx="60.61" cy="734.81" r="0.35" fill="#d6aab7"/><circle cx="79.75" cy="742.53" r="0.35" fill="#d6aab7"/><circle cx="79.58" cy="742.36" r="0.35" fill="#d6aab7"/><circle cx="64.77" cy="753.57" r="0.35" fill="#d6aab7"/><circle cx="76.66" cy="743.77" r="0.35" fill="#d6aab7"/><circle cx="77.83" cy="738.62" r="0.35" fill="#d6aab7"/><circle cx="59.21" cy="732.59" r="0.35" fill="#d6aab7"/><circle cx="59.08" cy="734.86" r="0.35" fill="#d6aab7"/><circle cx="66.29" cy="748.11" r="0.35" fill="#d6aab7"/><circle cx="71.50" cy="732.78" r="0.35" fill="#d6aab7"/><circle cx="62.41" cy="726.27" r="0.35" fill="#d6aab7"/><circle cx="79.43" cy="734.09" r="0.35" fill="#d6aab7"/><circle cx="76.68" cy="732.85" r="0.35" fill="#d6aab7"/><circle cx="62.29" cy="738.81" r="0.35" fill="#d6aab7"/><circle cx="74.33" cy="743.65" r="0.35" fill="#d6aab7"/><circle cx="56.59" cy="741.07" r="0.35" fill="#d6aab7"/><circle cx="78.38" cy="740.98" r="0.35" fill="#d6aab7"/><circle cx="61.29" cy="747.44" r="0.35" fill="#d6aab7"/><circle cx="78.21" cy="746.93" r="0.35" fill="#d6aab7"/><circle cx="71.16" cy="727.77" r="0.35" fill="#d6aab7"/><circle cx="68.62" cy="741.40" r="0.35" fill="#d6aab7"/><circle cx="78.29" cy="736.75" r="0.35" fill="#d6aab7"/><circle cx="75.99" cy="736.79" r="0.35" fill="#d6aab7"/><circle cx="68.47" cy="735.12" r="0.35" fill="#d6aab7"/><circle cx="77.80" cy="746.01" r="0.35" fill="#d6aab7"/><circle cx="62.75" cy="732.14" r="0.35" fill="#d6aab7"/><circle cx="55.44" cy="737.45" r="0.35" fill="#d6aab7"/><circle cx="67.11" cy="740.99" r="0.35" fill="#d6aab7"/><circle cx="59.43" cy="741.71" r="0.35" fill="#d6aab7"/><circle cx="73.26" cy="738.44" r="0.35" fill="#d6aab7"/><circle cx="60.08" cy="738.67" r="0.35" fill="#d6aab7"/><circle cx="61.04" cy="743.08" r="0.35" fill="#d6aab7"/><circle cx="69.04" cy="752.72" r="0.35" fill="#d6aab7"/><circle cx="66.66" cy="727.84" r="0.35" fill="#d6aab7"/><circle cx="81.62" cy="739.59" r="0.35" fill="#d6aab7"/><circle cx="53.17" cy="737.81" r="0.35" fill="#d6aab7"/><circle cx="61.25" cy="728.14" r="0.35" fill="#d6aab7"/><circle cx="67.16" cy="754.45" r="0.35" fill="#d6aab7"/><circle cx="65.18" cy="735.10" r="0.35" fill="#d6aab7"/><circle cx="76.04" cy="740.07" r="0.35" fill="#d6aab7"/><circle cx="62.13" cy="732.92" r="0.35" fill="#d6aab7"/><circle cx="57.73" cy="749.08" r="0.35" fill="#d6aab7"/><circle cx="67.01" cy="742.97" r="0.35" fill="#d6aab7"/><circle cx="59.09" cy="744.00" r="0.35" fill="#d6aab7"/><circle cx="64.20" cy="736.09" r="0.35" fill="#d6aab7"/><circle cx="75.82" cy="728.08" r="0.35" fill="#d6aab7"/><circle cx="66.83" cy="729.27" r="0.35" fill="#d6aab7"/><circle cx="67.85" cy="743.14" r="0.35" fill="#d6aab7"/><circle cx="60.54" cy="727.00" r="0.35" fill="#d6aab7"/><circle cx="62.08" cy="752.64" r="0.35" fill="#d6aab7"/><circle cx="80.15" cy="736.78" r="0.35" fill="#d6aab7"/><circle cx="54.50" cy="738.48" r="0.35" fill="#d6aab7"/><circle cx="62.20" cy="749.33" r="0.35" fill="#d6aab7"/><circle cx="70.00" cy="752.97" r="0.35" fill="#d6aab7"/><circle cx="66.71" cy="753.67" r="0.35" fill="#d6aab7"/><circle cx="66.09" cy="733.01" r="0.35" fill="#d6aab7"/><circle cx="77.24" cy="746.85" r="0.35" fill="#d6aab7"/><circle cx="60.34" cy="749.64" r="0.35" fill="#d6aab7"/><circle cx="72.53" cy="734.19" r="0.35" fill="#d6aab7"/><circle cx="73.81" cy="749.09" r="0.35" fill="#d6aab7"/>
<circle cx="52.70" cy="755.80" r="0.35" fill="#d6aab7"/><circle cx="65.75" cy="745.03" r="0.35" fill="#d6aab7"/><circle cx="53.29" cy="754.33" r="0.35" fill="#d6aab7"/><circle cx="66.48" cy="744.49" r="0.35" fill="#d6aab7"/><circle cx="64.53" cy="769.64" r="0.35" fill="#d6aab7"/><circle cx="63.49" cy="747.94" r="0.35" fill="#d6aab7"/><circle cx="66.02" cy="750.28" r="0.35" fill="#d6aab7"/><circle cx="67.64" cy="759.53" r="0.35" fill="#d6aab7"/><circle cx="64.26" cy="750.30" r="0.35" fill="#d6aab7"/><circle cx="79.06" cy="762.09" r="0.35" fill="#d6aab7"/><circle cx="73.39" cy="762.48" r="0.35" fill="#d6aab7"/><circle cx="63.10" cy="765.69" r="0.35" fill="#d6aab7"/><circle cx="68.24" cy="763.75" r="0.35" fill="#d6aab7"/><circle cx="68.63" cy="756.18" r="0.35" fill="#d6aab7"/><circle cx="68.37" cy="763.78" r="0.35" fill="#d6aab7"/><circle cx="76.02" cy="753.59" r="0.35" fill="#d6aab7"/><circle cx="72.98" cy="745.74" r="0.35" fill="#d6aab7"/><circle cx="55.89" cy="760.30" r="0.35" fill="#d6aab7"/><circle cx="59.65" cy="765.32" r="0.35" fill="#d6aab7"/><circle cx="52.90" cy="751.12" r="0.35" fill="#d6aab7"/><circle cx="52.00" cy="759.70" r="0.35" fill="#d6aab7"/><circle cx="77.24" cy="750.58" r="0.35" fill="#d6aab7"/><circle cx="60.30" cy="749.53" r="0.35" fill="#d6aab7"/><circle cx="74.08" cy="765.71" r="0.35" fill="#d6aab7"/><circle cx="72.46" cy="751.47" r="0.35" fill="#d6aab7"/><circle cx="62.54" cy="752.56" r="0.35" fill="#d6aab7"/><circle cx="59.47" cy="756.24" r="0.35" fill="#d6aab7"/><circle cx="69.25" cy="745.85" r="0.35" fill="#d6aab7"/><circle cx="79.05" cy="761.48" r="0.35" fill="#d6aab7"/><circle cx="79.00" cy="768.78" r="0.35" fill="#d6aab7"/><circle cx="68.61" cy="765.16" r="0.35" fill="#d6aab7"/><circle cx="75.86" cy="752.11" r="0.35" fill="#d6aab7"/><circle cx="76.96" cy="760.75" r="0.35" fill="#d6aab7"/><circle cx="69.12" cy="754.24" r="0.35" fill="#d6aab7"/><circle cx="66.14" cy="751.30" r="0.35" fill="#d6aab7"/><circle cx="56.54" cy="763.61" r="0.35" fill="#d6aab7"/><circle cx="75.49" cy="763.32" r="0.35" fill="#d6aab7"/><circle cx="53.46" cy="758.23" r="0.35" fill="#d6aab7"/><circle cx="59.57" cy="758.36" r="0.35" fill="#d6aab7"/><circle cx="59.17" cy="754.66" r="0.35" fill="#d6aab7"/><circle cx="70.08" cy="757.04" r="0.35" fill="#d6aab7"/><circle cx="66.78" cy="755.36" r="0.35" fill="#d6aab7"/><circle cx="57.20" cy="756.32" r="0.35" fill="#d6aab7"/><circle cx="53.08" cy="763.34" r="0.35" fill="#d6aab7"/><circle cx="66.29" cy="759.07" r="0.35" fill="#d6aab7"/><circle cx="75.69" cy="751.34" r="0.35" fill="#d6aab7"/><circle cx="76.71" cy="768.11" r="0.35" fill="#d6aab7"/><circle cx="69.60" cy="750.86" r="0.35" fill="#d6aab7"/><circle cx="70.68" cy="755.51" r="0.35" fill="#d6aab7"/><circle cx="58.37" cy="762.19" r="0.35" fill="#d6aab7"/><circle cx="69.96" cy="752.04" r="0.35" fill="#d6aab7"/><circle cx="56.66" cy="765.75" r="0.35" fill="#d6aab7"/><circle cx="63.95" cy="753.50" r="0.35" fill="#d6aab7"/><circle cx="70.89" cy="747.56" r="0.35" fill="#d6aab7"/><circle cx="51.62" cy="760.60" r="0.35" fill="#d6aab7"/><circle cx="69.61" cy="756.47" r="0.35" fill="#d6aab7"/><circle cx="77.28" cy="757.15" r="0.35" fill="#d6aab7"/><circle cx="68.62" cy="747.02" r="0.35" fill="#d6aab7"/><circle cx="79.70" cy="756.74" r="0.35" fill="#d6aab7"/><circle cx="66.26" cy="766.12" r="0.35" fill="#d6aab7"/><circle cx="59.40" cy="764.84" r="0.35" fill="#d6aab7"/><circle cx="67.53" cy="771.77" r="0.35" fill="#d6aab7"/><circle cx="55.85" cy="759.85" r="0.35" fill="#d6aab7"/><circle cx="66.36" cy="753.82" r="0.35" fill="#d6aab7"/><circle cx="56.01" cy="763.86" r="0.35" fill="#d6aab7"/><circle cx="54.49" cy="750.38" r="0.35" fill="#d6aab7"/><circle cx="65.49" cy="759.68" r="0.35" fill="#d6aab7"/><circle cx="58.02" cy="754.60" r="0.35" fill="#d6aab7"/><circle cx="55.34" cy="765.88" r="0.35" fill="#d6aab7"/><circle cx="68.63" cy="774.12" r="0.35" fill="#d6aab7"/><circle cx="59.34" cy="767.10" r="0.35" fill="#d6aab7"/><circle cx="62.50" cy="758.97" r="0.35" fill="#d6aab7"/><circle cx="58.86" cy="774.36" r="0.35" fill="#d6aab7"/><circle cx="73.30" cy="766.91" r="0.35" fill="#d6aab7"/><circle cx="67.37" cy="749.00" r="0.35" fill="#d6aab7"/><circle cx="55.06" cy="750.00" r="0.35" fill="#d6aab7"/><circle cx="71.78" cy="751.20" r="0.35" fill="#d6aab7"/><circle cx="65.00" cy="761.42" r="0.35" fill="#d6aab7"/><circle cx="65.75" cy="754.01" r="0.35" fill="#d6aab7"/><circle cx="60.49" cy="761.21" r="0.35" fill="#d6aab7"/><circle cx="65.81" cy="749.10" r="0.35" fill="#d6aab7"/><circle cx="75.35" cy="768.02" r="0.35" fill="#d6aab7"/><circle cx="74.05" cy="765.08" r="0.35" fill="#d6aab7"/><circle cx="62.75" cy="773.65" r="0.35" fill="#d6aab7"/><circle cx="60.00" cy="755.59" r="0.35" fill="#d6aab7"/><circle cx="60.52" cy="769.29" r="0.35" fill="#d6aab7"/><circle cx="70.66" cy="751.71" r="0.35" fill="#d6aab7"/><circle cx="66.12" cy="755.70" r="0.35" fill="#d6aab7"/><circle cx="76.37" cy="769.69" r="0.35" fill="#d6aab7"/><circle cx="63.78" cy="762.61" r="0.35" fill="#d6aab7"/><circle cx="69.21" cy="769.97" r="0.35" fill="#d6aab7"/><circle cx="74.38" cy="765.19" r="0.35" fill="#d6aab7"/><circle cx="70.41" cy="759.85" r="0.35" fill="#d6aab7"/><circle cx="60.41" cy="767.18" r="0.35" fill="#d6aab7"/><circle cx="75.04" cy="772.79" r="0.35" fill="#d6aab7"/><circle cx="64.81" cy="767.01" r="0.35" fill="#d6aab7"/><circle cx="62.00" cy="761.56" r="0.35" fill="#d6aab7"/><circle cx="59.32" cy="761.15" r="0.35" fill="#d6aab7"/><circle cx="59.88" cy="760.24" r="0.35" fill="#d6aab7"/><circle cx="73.69" cy="751.55" r="0.35" fill="#d6aab7"/><circle cx="61.39" cy="753.97" r="0.35" fill="#d6aab7"/><circle cx="73.63" cy="762.12" r="0.35" fill="#d6aab7"/><circle cx="65.51" cy="759.99" r="0.35" fill="#d6aab7"/><circle cx="72.16" cy="774.24" r="0.35" fill="#d6aab7"/><circle cx="64.09" cy="766.65" r="0.35" fill="#d6aab7"/><circle cx="69.21" cy="752.03" r="0.35" fill="#d6aab7"/><circle cx="55.03" cy="756.09" r="0.35" fill="#d6aab7"/><circle cx="62.55" cy="760.10" r="0.35" fill="#d6aab7"/><circle cx="62.34" cy="751.53" r="0.35" fill="#d6aab7"/><circle cx="75.99" cy="747.69" r="0.35" fill="#d6aab7"/><circle cx="55.72" cy="770.81" r="0.35" fill="#d6aab7"/><circle cx="72.43" cy="757.91" r="0.35" fill="#d6aab7"/><circle cx="61.99" cy="774.81" r="0.35" fill="#d6aab7"/><circle cx="71.06" cy="754.52" r="0.35" fill="#d6aab7"/><circle cx="69.63" cy="774.51" r="0.35" fill="#d6aab7"/><circle cx="72.06" cy="763.47" r="0.35" fill="#d6aab7"/><circle cx="70.08" cy="767.49" r="0.35" fill="#d6aab7"/><circle cx="60.29" cy="761.77" r="0.35" fill="#d6aab7"/><circle cx="55.16" cy="761.69" r="0.35" fill="#d6aab7"/><circle cx="57.49" cy="752.73" r="0.35" fill="#d6aab7"/><circle cx="75.14" cy="770.29" r="0.35" fill="#d6aab7"/><circle cx="57.77" cy="772.96" r="0.35" fill="#d6aab7"/><circle cx="74.19" cy="769.07" r="0.35" fill="#d6aab7"/><circle cx="67.54" cy="747.45" r="0.35" fill="#d6aab7"/><circle cx="81.45" cy="755.85" r="0.35" fill="#d6aab7"/><circle cx="64.75" cy="755.80" r="0.35" fill="#d6aab7"/><circle cx="76.33" cy="755.18" r="0.35" fill="#d6aab7"/><circle cx="60.04" cy="766.69" r="0.35" fill="#d6aab7"/><circle cx="73.17" cy="760.91" r="0.35" fill="#d6aab7"/><circle cx="68.69" cy="767.58" r="0.35" fill="#d6aab7"/><circle cx="67.32" cy="754.29" r="0.35" fill="#d6aab7"/><circle cx="65.80" cy="772.35" r="0.35" fill="#d6aab7"/><circle cx="75.69" cy="770.45" r="0.35" fill="#d6aab7"/><circle cx="76.94" cy="760.31" r="0.35" fill="#d6aab7"/><circle cx="68.00" cy="763.22" r="0.35" fill="#d6aab7"/><circle cx="59.53" cy="750.17" r="0.35" fill="#d6aab7"/><circle cx="56.79" cy="760.71" r="0.35" fill="#d6aab7"/><circle cx="62.66" cy="763.62" r="0.35" fill="#d6aab7"/><circle cx="77.08" cy="761.97" r="0.35" fill="#d6aab7"/><circle cx="62.84" cy="752.48" r="0.35" fill="#d6aab7"/><circle cx="54.57" cy="759.32" r="0.35" fill="#d6aab7"/><circle cx="60.05" cy="764.66" r="0.35" fill="#d6aab7"/><circle cx="57.12" cy="756.71" r="0.35" fill="#d6aab7"/><circle cx="52.74" cy="765.33" r="0.35" fill="#d6aab7"/><circle cx="54.49" cy="751.49" r="0.35" fill="#d6aab7"/><circle cx="67.88" cy="747.65" r="0.35" fill="#d6aab7"/><circle cx="71.42" cy="773.96" r="0.35" fill="#d6aab7"/><circle cx="51.42" cy="759.42" r="0.35" fill="#d6aab7"/><circle cx="77.46" cy="766.05" r="0.35" fill="#d6aab7"/><circle cx="53.40" cy="752.30" r="0.35" fill="#d6aab7"/><circle cx="64.06" cy="745.63" r="0.35" fill="#d6aab7"/><circle cx="51.20" cy="755.28" r="0.35" fill="#d6aab7"/><circle cx="64.02" cy="753.80" r="0.35" fill="#d6aab7"/><circle cx="74.33" cy="758.49" r="0.35" fill="#d6aab7"/><circle cx="67.78" cy="768.70" r="0.35" fill="#d6aab7"/><circle cx="70.38" cy="748.17" r="0.35" fill="#d6aab7"/><circle cx="58.38" cy="757.36" r="0.35" fill="#d6aab7"/><circle cx="51.56" cy="756.99" r="0.35" fill="#d6aab7"/><circle cx="60.43" cy="750.50" r="0.35" fill="#d6aab7"/><circle cx="67.15" cy="751.53" r="0.35" fill="#d6aab7"/><circle cx="77.36" cy="768.21" r="0.35" fill="#d6aab7"/><circle cx="67.86" cy="761.00" r="0.35" fill="#d6aab7"/><circle cx="70.44" cy="749.35" r="0.35" fill="#d6aab7"/><circle cx="74.84" cy="762.55" r="0.35" fill="#d6aab7"/><circle cx="72.29" cy="769.80" r="0.35" fill="#d6aab7"/><circle cx="52.63" cy="766.65" r="0.35" fill="#d6aab7"/><circle cx="77.95" cy="761.37" r="0.35" fill="#d6aab7"/><circle cx="63.90" cy="754.22" r="0.35" fill="#d6aab7"/><circle cx="72.54" cy="745.90" r="0.35" fill="#d6aab7"/><circle cx="55.27" cy="751.49" r="0.35" fill="#d6aab7"/><circle cx="75.99" cy="747.39" r="0.35" fill="#d6aab7"/><circle cx="59.25" cy="764.83" r="0.35" fill="#d6aab7"/><circle cx="72.32" cy="767.67" r="0.35" fill="#d6aab7"/><circle cx="63.74" cy="744.35" r="0.35" fill="#d6aab7"/><circle cx="54.96" cy="753.93" r="0.35" fill="#d6aab7"/><circle cx="64.20" cy="757.15" r="0.35" fill="#d6aab7"/>
<circle cx="40.67" cy="747.02" r="0.35" fill="#d6aab7"/><circle cx="53.53" cy="739.33" r="0.35" fill="#d6aab7"/><circle cx="47.14" cy="734.75" r="0.35" fill="#d6aab7"/><circle cx="52.28" cy="741.01" r="0.35" fill="#d6aab7"/><circle cx="45.12" cy="746.90" r="0.35" fill="#d6aab7"/><circle cx="38.73" cy="743.13" r="0.35" fill="#d6aab7"/><circle cx="38.27" cy="739.61" r="0.35" fill="#d6aab7"/><circle cx="49.26" cy="734.96" r="0.35" fill="#d6aab7"/><circle cx="40.33" cy="746.11" r="0.35" fill="#d6aab7"/><circle cx="49.42" cy="738.23" r="0.35" fill="#d6aab7"/><circle cx="49.63" cy="744.41" r="0.35" fill="#d6aab7"/><circle cx="45.61" cy="736.03" r="0.35" fill="#d6aab7"/><circle cx="48.09" cy="746.31" r="0.35" fill="#d6aab7"/><circle cx="41.09" cy="746.80" r="0.35" fill="#d6aab7"/><circle cx="48.47" cy="745.64" r="0.35" fill="#d6aab7"/><circle cx="38.13" cy="745.51" r="0.35" fill="#d6aab7"/><circle cx="50.56" cy="745.95" r="0.35" fill="#d6aab7"/><circle cx="40.12" cy="743.08" r="0.35" fill="#d6aab7"/><circle cx="46.68" cy="745.69" r="0.35" fill="#d6aab7"/><circle cx="53.31" cy="738.04" r="0.35" fill="#d6aab7"/><circle cx="51.68" cy="739.00" r="0.35" fill="#d6aab7"/><circle cx="45.57" cy="745.90" r="0.35" fill="#d6aab7"/><circle cx="42.05" cy="737.97" r="0.35" fill="#d6aab7"/><circle cx="47.67" cy="740.84" r="0.35" fill="#d6aab7"/><circle cx="45.39" cy="744.10" r="0.35" fill="#d6aab7"/><circle cx="46.15" cy="742.51" r="0.35" fill="#d6aab7"/><circle cx="45.37" cy="745.21" r="0.35" fill="#d6aab7"/><circle cx="51.30" cy="739.10" r="0.35" fill="#d6aab7"/><circle cx="41.16" cy="738.12" r="0.35" fill="#d6aab7"/><circle cx="48.32" cy="745.54" r="0.35" fill="#d6aab7"/><circle cx="44.63" cy="739.01" r="0.35" fill="#d6aab7"/><circle cx="42.51" cy="738.45" r="0.35" fill="#d6aab7"/><circle cx="42.98" cy="737.18" r="0.35" fill="#d6aab7"/><circle cx="47.07" cy="743.07" r="0.35" fill="#d6aab7"/><circle cx="46.77" cy="736.11" r="0.35" fill="#d6aab7"/><circle cx="52.52" cy="744.36" r="0.35" fill="#d6aab7"/><circle cx="44.19" cy="744.60" r="0.35" fill="#d6aab7"/><circle cx="50.04" cy="741.06" r="0.35" fill="#d6aab7"/><circle cx="36.89" cy="738.60" r="0.35" fill="#d6aab7"/><circle cx="43.04" cy="745.64" r="0.35" fill="#d6aab7"/><circle cx="51.68" cy="743.75" r="0.35" fill="#d6aab7"/><circle cx="43.26" cy="745.02" r="0.35" fill="#d6aab7"/><circle cx="43.92" cy="747.19" r="0.35" fill="#d6aab7"/><circle cx="48.39" cy="740.68" r="0.35" fill="#d6aab7"/><circle cx="42.13" cy="741.68" r="0.35" fill="#d6aab7"/><circle cx="45.02" cy="734.43" r="0.35" fill="#d6aab7"/><circle cx="50.34" cy="745.06" r="0.35" fill="#d6aab7"/><circle cx="42.95" cy="745.37" r="0.35" fill="#d6aab7"/><circle cx="39.88" cy="739.12" r="0.35" fill="#d6aab7"/><circle cx="41.94" cy="737.79" r="0.35" fill="#d6aab7"/>
<g transform="translate(66.60,760.50) rotate(0)"><ellipse cx="0" cy="0" rx="9.80" ry="11.80" fill="#f3e6ea" stroke="#dab2bf" stroke-width="0.45"/><ellipse cx="0" cy="0" rx="8.33" ry="10.03" fill="none" stroke="#dab2bf" stroke-width="0.45"/><ellipse cx="0" cy="0" rx="7.08" ry="8.53" fill="none" stroke="#dab2bf" stroke-width="0.45"/><ellipse cx="0" cy="0" rx="6.02" ry="7.25" fill="none" stroke="#dab2bf" stroke-width="0.45"/><ellipse cx="0" cy="0" rx="5.12" ry="6.16" fill="none" stroke="#dab2bf" stroke-width="0.45"/><ellipse cx="0" cy="0" rx="4.35" ry="5.24" fill="none" stroke="#dab2bf" stroke-width="0.45"/></g>
<path d="M57.5,740 Q57,729 67,729 Q76,729 76,739 Q76,749 67,749.5 Q57.5,749 57.5,740 Z" fill="#efdde3" stroke="#cfa0b0" stroke-width="0.45" />
<path d="M59.5,740 Q59.5,731.5 67,731.5 Q74,731.5 74,739.5 Q74,747 67,747.5 Q59.5,747 59.5,740 Z" fill="#e9d1d9" stroke="#c48ea1" stroke-width="0.5" />
<ellipse cx="67.2" cy="739.6" rx="5.2" ry="6.4" fill="#f3e6ea" stroke="#ad6680" stroke-width="1"/>
<ellipse cx="67.4" cy="739.6" rx="3" ry="4" fill="#f8f0f3" stroke="#cfa0b0" stroke-width="0.45"/>
<g transform="translate(45.10,741.20) rotate(0)"><ellipse cx="0" cy="0" rx="4.70" ry="3.40" fill="none" stroke="#c48ea1" stroke-width="0.55"/><ellipse cx="0" cy="0" rx="2.59" ry="1.87" fill="none" stroke="#c48ea1" stroke-width="0.55"/></g>
<line x1="26.90" y1="749.50" x2="94.60" y2="749.50" stroke="#555" stroke-width="1" />
<path d="M62.8,709.2 L50.8,749.5 L36.9,764.6" fill="none" stroke="#333" stroke-width="0.8" />
<rect x="26.90" y="710.00" width="67.70" height="65.40" fill="none" stroke="#aaa" stroke-width="0.6" />
<line x1="25.30" y1="715.23" x2="26.90" y2="715.23" stroke="#8a8a8a" stroke-width="0.6"/><line x1="25.30" y1="723.08" x2="26.90" y2="723.08" stroke="#8a8a8a" stroke-width="0.6"/><line x1="25.30" y1="731.58" x2="26.90" y2="731.58" stroke="#8a8a8a" stroke-width="0.6"/><line x1="25.30" y1="740.08" x2="26.90" y2="740.08" stroke="#8a8a8a" stroke-width="0.6"/><line x1="25.30" y1="749.24" x2="26.90" y2="749.24" stroke="#8a8a8a" stroke-width="0.6"/><line x1="25.30" y1="757.09" x2="26.90" y2="757.09" stroke="#8a8a8a" stroke-width="0.6"/><line x1="25.30" y1="765.59" x2="26.90" y2="765.59" stroke="#8a8a8a" stroke-width="0.6"/><line x1="25.30" y1="772.13" x2="26.90" y2="772.13" stroke="#8a8a8a" stroke-width="0.6"/><line x1="30.96" y1="775.40" x2="30.96" y2="777.00" stroke="#8a8a8a" stroke-width="0.6"/><line x1="37.05" y1="775.40" x2="37.05" y2="777.00" stroke="#8a8a8a" stroke-width="0.6"/><line x1="45.86" y1="775.40" x2="45.86" y2="777.00" stroke="#8a8a8a" stroke-width="0.6"/><line x1="55.33" y1="775.40" x2="55.33" y2="777.00" stroke="#8a8a8a" stroke-width="0.6"/><line x1="64.81" y1="775.40" x2="64.81" y2="777.00" stroke="#8a8a8a" stroke-width="0.6"/><line x1="74.29" y1="775.40" x2="74.29" y2="777.00" stroke="#8a8a8a" stroke-width="0.6"/><line x1="83.77" y1="775.40" x2="83.77" y2="777.00" stroke="#8a8a8a" stroke-width="0.6"/><line x1="91.21" y1="775.40" x2="91.21" y2="777.00" stroke="#8a8a8a" stroke-width="0.6"/><rect x="25.30" y="759.05" width="1.4" height="1.6" fill="#222"/><rect x="37.05" y="775.70" width="2.6" height="1.3" fill="#222"/>
<text x="27.70" y="718.75" font-size="9.3" text-anchor="start" fill="#231f20" stroke="#231f20" stroke-width="0.2" textLength="12.02" lengthAdjust="spacingAndGlyphs" >4.5</text>
<text x="90.50" y="718.75" font-size="9.3" text-anchor="end" fill="#231f20" stroke="#231f20" stroke-width="0.2" textLength="9.62" lengthAdjust="spacingAndGlyphs" >64</text>
<text x="27.70" y="773.35" font-size="9.3" text-anchor="start" fill="#231f20" stroke="#231f20" stroke-width="0.2" textLength="12.02" lengthAdjust="spacingAndGlyphs" >0.5</text>
<text x="90.50" y="773.35" font-size="9.3" text-anchor="end" fill="#231f20" stroke="#231f20" stroke-width="0.2" textLength="9.62" lengthAdjust="spacingAndGlyphs" >31</text>
<text transform="translate(12.80,764.40) rotate(-90)" x="0" y="3.78" font-size="10.5" text-anchor="middle" fill="#231f20" stroke="#231f20" stroke-width="0.2" textLength="24.9" lengthAdjust="spacingAndGlyphs" >CD62L</text>
<line x1="12.80" y1="747.20" x2="12.80" y2="738.00" stroke="#231f20" stroke-width="1.35" />
<path d="M12.80,733.70 L15.30,738.50 L10.30,738.50 Z" fill="#231f20" stroke="none" stroke-width="1" />
<text x="24.00" y="790.98" font-size="10.5" text-anchor="start" fill="#231f20" stroke="#231f20" stroke-width="0.2" textLength="20.4" lengthAdjust="spacingAndGlyphs" >CD44</text>
<line x1="47.80" y1="787.20" x2="56.90" y2="787.20" stroke="#231f20" stroke-width="1.35" />
<path d="M61.20,787.20 L56.40,789.70 L56.40,784.70 Z" fill="#231f20" stroke="none" stroke-width="1" />
<rect x="149.50" y="713.50" width="11.00" height="19.00" fill="#fff" stroke="#231f20" stroke-width="1" />
<rect x="163.50" y="698.50" width="10.00" height="34.00" fill="#fff" stroke="#231f20" stroke-width="1" />
<rect x="182.50" y="683.50" width="11.00" height="49.00" fill="#fff" stroke="#231f20" stroke-width="1" />
<rect x="196.50" y="698.50" width="11.00" height="34.00" fill="#fff" stroke="#231f20" stroke-width="1" />
<circle cx="151.50" cy="701.40" r="1.7" fill="#3f4a5f"/>
<circle cx="154.70" cy="702.20" r="1.7" fill="#3f4a5f"/>
<circle cx="157.80" cy="700.90" r="1.7" fill="#3f4a5f"/>
<circle cx="151.10" cy="709.00" r="1.7" fill="#3f4a5f"/>
<circle cx="154.40" cy="709.90" r="1.7" fill="#3f4a5f"/>
<circle cx="157.80" cy="709.50" r="1.7" fill="#3f4a5f"/>
<circle cx="153.10" cy="712.20" r="1.7" fill="#3f4a5f"/>
<circle cx="156.40" cy="713.30" r="1.7" fill="#3f4a5f"/>
<circle cx="150.40" cy="716.20" r="1.7" fill="#3f4a5f"/>
<circle cx="153.70" cy="716.60" r="1.7" fill="#3f4a5f"/>
<circle cx="157.40" cy="716.00" r="1.7" fill="#3f4a5f"/>
<circle cx="151.70" cy="720.00" r="1.7" fill="#3f4a5f"/>
<circle cx="155.10" cy="718.60" r="1.7" fill="#3f4a5f"/>
<circle cx="158.20" cy="721.30" r="1.7" fill="#3f4a5f"/>
<circle cx="154.40" cy="725.40" r="1.7" fill="#3f4a5f"/>
<circle cx="151.10" cy="723.40" r="1.7" fill="#3f4a5f"/>
<circle cx="165.90" cy="681.00" r="1.7" fill="#9b1c3d"/>
<circle cx="171.20" cy="681.20" r="1.7" fill="#9b1c3d"/>
<circle cx="169.00" cy="685.30" r="1.7" fill="#9b1c3d"/>
<circle cx="165.20" cy="688.80" r="1.7" fill="#9b1c3d"/>
<circle cx="168.60" cy="690.40" r="1.7" fill="#9b1c3d"/>
<circle cx="171.90" cy="689.70" r="1.7" fill="#9b1c3d"/>
<circle cx="165.90" cy="695.10" r="1.7" fill="#9b1c3d"/>
<circle cx="170.60" cy="696.40" r="1.7" fill="#9b1c3d"/>
<circle cx="167.20" cy="699.80" r="1.7" fill="#9b1c3d"/>
<circle cx="170.60" cy="703.20" r="1.7" fill="#9b1c3d"/>
<circle cx="166.50" cy="705.20" r="1.7" fill="#9b1c3d"/>
<circle cx="169.20" cy="707.60" r="1.7" fill="#9b1c3d"/>
<circle cx="165.20" cy="707.90" r="1.7" fill="#9b1c3d"/>
<circle cx="171.20" cy="705.20" r="1.7" fill="#9b1c3d"/>
<circle cx="165.90" cy="713.30" r="1.7" fill="#9b1c3d"/>
<circle cx="170.80" cy="717.00" r="1.7" fill="#9b1c3d"/>
<circle cx="165.90" cy="728.10" r="1.7" fill="#9b1c3d"/>
<circle cx="170.80" cy="727.40" r="1.7" fill="#9b1c3d"/>
<circle cx="168.60" cy="702.20" r="1.7" fill="#9b1c3d"/>
<circle cx="188.10" cy="668.20" r="1.7" fill="#3f4a5f"/>
<circle cx="184.70" cy="673.10" r="1.7" fill="#3f4a5f"/>
<circle cx="191.40" cy="672.90" r="1.7" fill="#3f4a5f"/>
<circle cx="186.70" cy="676.20" r="1.7" fill="#3f4a5f"/>
<circle cx="190.10" cy="677.60" r="1.7" fill="#3f4a5f"/>
<circle cx="185.40" cy="678.90" r="1.7" fill="#3f4a5f"/>
<circle cx="188.70" cy="679.90" r="1.7" fill="#3f4a5f"/>
<circle cx="187.80" cy="682.30" r="1.7" fill="#3f4a5f"/>
<circle cx="191.40" cy="681.60" r="1.7" fill="#3f4a5f"/>
<circle cx="185.10" cy="685.30" r="1.7" fill="#3f4a5f"/>
<circle cx="188.10" cy="684.30" r="1.7" fill="#3f4a5f"/>
<circle cx="185.40" cy="690.10" r="1.7" fill="#3f4a5f"/>
<circle cx="193.50" cy="692.80" r="1.7" fill="#3f4a5f"/>
<circle cx="190.80" cy="696.80" r="1.7" fill="#3f4a5f"/>
<circle cx="185.40" cy="701.10" r="1.7" fill="#3f4a5f"/>
<circle cx="199.10" cy="663.70" r="1.7" fill="#9b1c3d"/>
<circle cx="204.50" cy="665.10" r="1.7" fill="#9b1c3d"/>
<circle cx="201.80" cy="675.60" r="1.7" fill="#9b1c3d"/>
<circle cx="201.80" cy="682.00" r="1.7" fill="#9b1c3d"/>
<circle cx="199.10" cy="689.30" r="1.7" fill="#9b1c3d"/>
<circle cx="202.20" cy="689.30" r="1.7" fill="#9b1c3d"/>
<circle cx="205.30" cy="689.30" r="1.7" fill="#9b1c3d"/>
<circle cx="201.50" cy="694.40" r="1.7" fill="#9b1c3d"/>
<circle cx="204.90" cy="698.50" r="1.7" fill="#9b1c3d"/>
<circle cx="200.20" cy="703.80" r="1.7" fill="#9b1c3d"/>
<circle cx="204.20" cy="705.20" r="1.7" fill="#9b1c3d"/>
<circle cx="201.50" cy="706.50" r="1.7" fill="#9b1c3d"/>
<circle cx="198.80" cy="709.00" r="1.7" fill="#9b1c3d"/>
<circle cx="202.20" cy="709.20" r="1.7" fill="#9b1c3d"/>
<circle cx="205.60" cy="709.90" r="1.7" fill="#9b1c3d"/>
<circle cx="200.20" cy="712.60" r="1.7" fill="#9b1c3d"/>
<circle cx="203.50" cy="714.30" r="1.7" fill="#9b1c3d"/>
<circle cx="202.20" cy="722.40" r="1.7" fill="#9b1c3d"/>
<line x1="154.50" y1="710.60" x2="154.50" y2="716.00" stroke="#231f20" stroke-width="1" />
<line x1="151.70" y1="710.50" x2="157.70" y2="710.50" stroke="#231f20" stroke-width="1" />
<line x1="168.50" y1="695.10" x2="168.50" y2="702.00" stroke="#231f20" stroke-width="1" />
<line x1="165.50" y1="695.50" x2="171.50" y2="695.50" stroke="#231f20" stroke-width="1" />
<line x1="187.50" y1="679.60" x2="187.50" y2="686.00" stroke="#231f20" stroke-width="1" />
<line x1="184.90" y1="679.50" x2="190.90" y2="679.50" stroke="#231f20" stroke-width="1" />
<line x1="202.50" y1="693.70" x2="202.50" y2="702.00" stroke="#231f20" stroke-width="1" />
<line x1="199.10" y1="693.50" x2="205.10" y2="693.50" stroke="#231f20" stroke-width="1" />
<line x1="143.50" y1="653.00" x2="143.50" y2="732.50" stroke="#231f20" stroke-width="1" />
<line x1="139.70" y1="657.50" x2="143.00" y2="657.50" stroke="#231f20" stroke-width="1" />
<text x="136.10" y="660.59" font-size="9.7" text-anchor="end" fill="#231f20" stroke="#231f20" stroke-width="0.2" textLength="14.24" lengthAdjust="spacingAndGlyphs" >100</text>
<line x1="139.70" y1="672.50" x2="143.00" y2="672.50" stroke="#231f20" stroke-width="1" />
<text x="136.10" y="675.59" font-size="9.7" text-anchor="end" fill="#231f20" stroke="#231f20" stroke-width="0.2" textLength="9.49" lengthAdjust="spacingAndGlyphs" >80</text>
<line x1="139.70" y1="687.50" x2="143.00" y2="687.50" stroke="#231f20" stroke-width="1" />
<text x="136.10" y="690.59" font-size="9.7" text-anchor="end" fill="#231f20" stroke="#231f20" stroke-width="0.2" textLength="9.49" lengthAdjust="spacingAndGlyphs" >60</text>
<line x1="139.70" y1="702.50" x2="143.00" y2="702.50" stroke="#231f20" stroke-width="1" />
<text x="136.10" y="705.59" font-size="9.7" text-anchor="end" fill="#231f20" stroke="#231f20" stroke-width="0.2" textLength="9.49" lengthAdjust="spacingAndGlyphs" >40</text>
<line x1="139.70" y1="717.50" x2="143.00" y2="717.50" stroke="#231f20" stroke-width="1" />
<text x="136.10" y="720.59" font-size="9.7" text-anchor="end" fill="#231f20" stroke="#231f20" stroke-width="0.2" textLength="9.49" lengthAdjust="spacingAndGlyphs" >20</text>
<line x1="139.70" y1="732.50" x2="143.00" y2="732.50" stroke="#231f20" stroke-width="1" />
<text x="136.10" y="735.59" font-size="9.7" text-anchor="end" fill="#231f20" stroke="#231f20" stroke-width="0.2" textLength="4.75" lengthAdjust="spacingAndGlyphs" >0</text>
<line x1="143.00" y1="732.50" x2="213.75" y2="732.50" stroke="#231f20" stroke-width="1" />
<line x1="161.50" y1="732.50" x2="161.50" y2="735.50" stroke="#231f20" stroke-width="1" />
<line x1="195.50" y1="732.50" x2="195.50" y2="735.50" stroke="#231f20" stroke-width="1" />
<line x1="153.70" y1="673.60" x2="169.20" y2="673.60" stroke="#231f20" stroke-width="1.3" />
<text x="161.45" y="674.02" font-size="9.5" text-anchor="middle" fill="#231f20" font-weight="bold" >**</text>
<line x1="186.50" y1="657.00" x2="201.80" y2="657.00" stroke="#231f20" stroke-width="1.3" />
<text x="194.15" y="657.42" font-size="9.5" text-anchor="middle" fill="#231f20" font-weight="bold" >**</text>
<text x="161.25" y="748.60" font-size="10" text-anchor="middle" fill="#231f20" stroke="#231f20" stroke-width="0.2" >T<tspan dy="2.5" font-size="7">cm</tspan></text>
<text x="195.00" y="748.60" font-size="10" text-anchor="middle" fill="#231f20" stroke="#231f20" stroke-width="0.2" >T<tspan dy="2.5" font-size="7">EFF/EM</tspan></text>
<text transform="translate(111.25,693.00) rotate(-90)" x="0" y="3.60" font-size="10" text-anchor="middle" fill="#231f20" stroke="#231f20" stroke-width="0.2" textLength="58.8" lengthAdjust="spacingAndGlyphs">% in BM CD8<tspan dy="-3" font-size="7.3">+</tspan><tspan dy="3"> T</tspan></text>
<rect x="263.50" y="721.50" width="11.00" height="11.00" fill="#fff" stroke="#231f20" stroke-width="1" />
<rect x="277.50" y="712.50" width="11.00" height="20.00" fill="#fff" stroke="#231f20" stroke-width="1" />
<rect x="297.50" y="705.50" width="10.00" height="27.00" fill="#fff" stroke="#231f20" stroke-width="1" />
<rect x="310.50" y="701.50" width="11.00" height="31.00" fill="#fff" stroke="#231f20" stroke-width="1" />
<circle cx="269.00" cy="699.80" r="1.7" fill="#3f4a5f"/>
<circle cx="271.50" cy="709.20" r="1.7" fill="#3f4a5f"/>
<circle cx="263.70" cy="713.00" r="1.7" fill="#3f4a5f"/>
<circle cx="266.10" cy="718.00" r="1.7" fill="#3f4a5f"/>
<circle cx="269.40" cy="718.90" r="1.7" fill="#3f4a5f"/>
<circle cx="271.50" cy="719.30" r="1.7" fill="#3f4a5f"/>
<circle cx="265.40" cy="722.70" r="1.7" fill="#3f4a5f"/>
<circle cx="268.10" cy="723.80" r="1.7" fill="#3f4a5f"/>
<circle cx="270.80" cy="724.70" r="1.7" fill="#3f4a5f"/>
<circle cx="266.30" cy="726.70" r="1.7" fill="#3f4a5f"/>
<circle cx="268.80" cy="727.40" r="1.7" fill="#3f4a5f"/>
<circle cx="271.50" cy="727.00" r="1.7" fill="#3f4a5f"/>
<circle cx="267.40" cy="729.40" r="1.7" fill="#3f4a5f"/>
<circle cx="269.80" cy="729.70" r="1.7" fill="#3f4a5f"/>
<circle cx="282.60" cy="686.60" r="1.7" fill="#9b1c3d"/>
<circle cx="279.80" cy="693.30" r="1.7" fill="#9b1c3d"/>
<circle cx="285.60" cy="695.10" r="1.7" fill="#9b1c3d"/>
<circle cx="282.90" cy="697.10" r="1.7" fill="#9b1c3d"/>
<circle cx="285.60" cy="707.20" r="1.7" fill="#9b1c3d"/>
<circle cx="279.50" cy="708.10" r="1.7" fill="#9b1c3d"/>
<circle cx="282.90" cy="710.30" r="1.7" fill="#9b1c3d"/>
<circle cx="279.80" cy="712.60" r="1.7" fill="#9b1c3d"/>
<circle cx="284.90" cy="713.30" r="1.7" fill="#9b1c3d"/>
<circle cx="281.60" cy="715.90" r="1.7" fill="#9b1c3d"/>
<circle cx="285.60" cy="718.00" r="1.7" fill="#9b1c3d"/>
<circle cx="280.20" cy="718.60" r="1.7" fill="#9b1c3d"/>
<circle cx="283.60" cy="720.30" r="1.7" fill="#9b1c3d"/>
<circle cx="280.90" cy="722.70" r="1.7" fill="#9b1c3d"/>
<circle cx="285.60" cy="723.40" r="1.7" fill="#9b1c3d"/>
<circle cx="281.60" cy="726.70" r="1.7" fill="#9b1c3d"/>
<circle cx="284.20" cy="727.80" r="1.7" fill="#9b1c3d"/>
<circle cx="280.20" cy="728.70" r="1.7" fill="#9b1c3d"/>
<circle cx="302.10" cy="672.20" r="1.7" fill="#3f4a5f"/>
<circle cx="302.10" cy="678.00" r="1.7" fill="#3f4a5f"/>
<circle cx="302.10" cy="684.30" r="1.7" fill="#3f4a5f"/>
<circle cx="302.10" cy="699.10" r="1.7" fill="#3f4a5f"/>
<circle cx="300.80" cy="704.90" r="1.7" fill="#3f4a5f"/>
<circle cx="304.00" cy="705.50" r="1.7" fill="#3f4a5f"/>
<circle cx="299.70" cy="709.20" r="1.7" fill="#3f4a5f"/>
<circle cx="303.10" cy="709.90" r="1.7" fill="#3f4a5f"/>
<circle cx="300.00" cy="718.00" r="1.7" fill="#3f4a5f"/>
<circle cx="305.10" cy="719.30" r="1.7" fill="#3f4a5f"/>
<circle cx="303.10" cy="722.70" r="1.7" fill="#3f4a5f"/>
<circle cx="301.70" cy="707.90" r="1.7" fill="#3f4a5f"/>
<circle cx="313.20" cy="662.40" r="1.7" fill="#9b1c3d"/>
<circle cx="316.10" cy="660.50" r="1.7" fill="#9b1c3d"/>
<circle cx="318.60" cy="666.40" r="1.7" fill="#9b1c3d"/>
<circle cx="313.20" cy="683.90" r="1.7" fill="#9b1c3d"/>
<circle cx="318.60" cy="683.00" r="1.7" fill="#9b1c3d"/>
<circle cx="313.20" cy="694.40" r="1.7" fill="#9b1c3d"/>
<circle cx="318.30" cy="695.10" r="1.7" fill="#9b1c3d"/>
<circle cx="315.60" cy="697.10" r="1.7" fill="#9b1c3d"/>
<circle cx="313.20" cy="708.50" r="1.7" fill="#9b1c3d"/>
<circle cx="318.80" cy="709.00" r="1.7" fill="#9b1c3d"/>
<circle cx="315.90" cy="712.60" r="1.7" fill="#9b1c3d"/>
<circle cx="312.90" cy="716.60" r="1.7" fill="#9b1c3d"/>
<circle cx="315.90" cy="716.00" r="1.7" fill="#9b1c3d"/>
<circle cx="318.80" cy="716.60" r="1.7" fill="#9b1c3d"/>
<circle cx="314.50" cy="720.00" r="1.7" fill="#9b1c3d"/>
<circle cx="317.20" cy="720.00" r="1.7" fill="#9b1c3d"/>
<circle cx="318.60" cy="724.00" r="1.7" fill="#9b1c3d"/>
<circle cx="312.90" cy="727.80" r="1.7" fill="#9b1c3d"/>
<line x1="269.50" y1="719.30" x2="269.50" y2="722.00" stroke="#231f20" stroke-width="1" />
<line x1="266.10" y1="719.50" x2="272.10" y2="719.50" stroke="#231f20" stroke-width="1" />
<line x1="283.50" y1="709.20" x2="283.50" y2="713.00" stroke="#231f20" stroke-width="1" />
<line x1="280.10" y1="709.50" x2="286.10" y2="709.50" stroke="#231f20" stroke-width="1" />
<line x1="302.50" y1="700.50" x2="302.50" y2="706.00" stroke="#231f20" stroke-width="1" />
<line x1="299.50" y1="700.50" x2="305.50" y2="700.50" stroke="#231f20" stroke-width="1" />
<line x1="316.50" y1="696.40" x2="316.50" y2="703.00" stroke="#231f20" stroke-width="1" />
<line x1="313.00" y1="696.50" x2="319.00" y2="696.50" stroke="#231f20" stroke-width="1" />
<line x1="257.50" y1="652.50" x2="257.50" y2="732.50" stroke="#231f20" stroke-width="1" />
<line x1="254.20" y1="656.50" x2="257.50" y2="656.50" stroke="#231f20" stroke-width="1" />
<text x="250.60" y="659.69" font-size="9.7" text-anchor="end" fill="#231f20" stroke="#231f20" stroke-width="0.2" textLength="9.49" lengthAdjust="spacingAndGlyphs" >18</text>
<line x1="254.20" y1="681.50" x2="257.50" y2="681.50" stroke="#231f20" stroke-width="1" />
<text x="250.60" y="684.99" font-size="9.7" text-anchor="end" fill="#231f20" stroke="#231f20" stroke-width="0.2" textLength="9.49" lengthAdjust="spacingAndGlyphs" >12</text>
<line x1="254.20" y1="707.50" x2="257.50" y2="707.50" stroke="#231f20" stroke-width="1" />
<text x="250.60" y="710.29" font-size="9.7" text-anchor="end" fill="#231f20" stroke="#231f20" stroke-width="0.2" textLength="4.75" lengthAdjust="spacingAndGlyphs" >6</text>
<line x1="254.20" y1="732.50" x2="257.50" y2="732.50" stroke="#231f20" stroke-width="1" />
<text x="250.60" y="735.59" font-size="9.7" text-anchor="end" fill="#231f20" stroke="#231f20" stroke-width="0.2" textLength="4.75" lengthAdjust="spacingAndGlyphs" >0</text>
<line x1="257.50" y1="732.50" x2="328.00" y2="732.50" stroke="#231f20" stroke-width="1" />
<line x1="275.50" y1="732.50" x2="275.50" y2="735.50" stroke="#231f20" stroke-width="1" />
<line x1="309.50" y1="732.50" x2="309.50" y2="735.50" stroke="#231f20" stroke-width="1" />
<line x1="266.10" y1="680.70" x2="282.90" y2="680.70" stroke="#231f20" stroke-width="1.3" />
<text x="274.50" y="681.12" font-size="9.5" text-anchor="middle" fill="#231f20" font-weight="bold" >*</text>
<text x="275.50" y="748.60" font-size="10" text-anchor="middle" fill="#231f20" stroke="#231f20" stroke-width="0.2" >T<tspan dy="2.5" font-size="7">cm</tspan></text>
<text x="309.50" y="748.60" font-size="10" text-anchor="middle" fill="#231f20" stroke="#231f20" stroke-width="0.2" >T<tspan dy="2.5" font-size="7">EFF/EM</tspan></text>
<text transform="translate(231.25,692.50) rotate(-90)" x="0" y="3.60" font-size="10" text-anchor="middle" fill="#231f20" stroke="#231f20" stroke-width="0.2" textLength="82.5" lengthAdjust="spacingAndGlyphs">Number in BM (x10<tspan dy="-3" font-size="7.3">4</tspan><tspan dy="3">)</tspan></text>
<text x="339.70" y="611.92" font-size="12" text-anchor="start" fill="#000" font-weight="bold" >K</text>
<text x="408.50" y="619.57" font-size="11.3" text-anchor="middle" fill="#231f20" stroke="#231f20" stroke-width="0.2" textLength="47.5" lengthAdjust="spacingAndGlyphs">CD8<tspan dy="-3.5" font-size="7.5">+</tspan><tspan dy="3.5">T</tspan><tspan dy="2" font-size="8.5">CM</tspan></text>
<path d="M372.60,673.20 L383.40,672.20 L391.10,671.20 L395.70,669.60 L398.00,668.10 L399.50,669.20 L401.80,666.50 L404.20,662.70 L405.70,656.50 L406.80,649.60 L408.80,645.50 L410.30,648.10 L411.40,655.00 L412.60,664.20 L414.20,671.20 L417.20,673.20 L444.90,673.20 L444.90,673.2 L372.60,673.2 Z" fill="#8c92a2" stroke="none" stroke-width="1" />
<path d="M372.60,673.20 L383.40,672.20 L391.10,671.20 L395.70,669.60 L398.00,668.10 L399.50,669.20 L401.80,666.50 L404.20,662.70 L405.70,656.50 L406.80,649.60 L408.80,645.50 L410.30,648.10 L411.40,655.00 L412.60,664.20 L414.20,671.20 L417.20,673.20 L444.90,673.20" fill="none" stroke="#4f5a6f" stroke-width="1.25" stroke-linejoin="round"/>
<line x1="417.00" y1="673.50" x2="444.90" y2="673.50" stroke="#4f5a6f" stroke-width="1.0" />
<path d="M397.20,689.60 L397.20,688.50 L401.10,687.30 L404.20,685.00 L406.50,679.60 L408.30,670.40 L409.80,662.70 L411.10,659.60 L412.60,662.70 L413.80,673.50 L414.90,682.70 L416.50,688.10 L418.80,689.60 L418.80,689.6 L397.20,689.6 Z" fill="#d9a4aa" stroke="none" stroke-width="1" />
<path d="M397.20,689.60 L397.20,688.50 L401.10,687.30 L404.20,685.00 L406.50,679.60 L408.30,670.40 L409.80,662.70 L411.10,659.60 L412.60,662.70 L413.80,673.50 L414.90,682.70 L416.50,688.10 L418.80,689.60" fill="none" stroke="#9b1c3d" stroke-width="1.25" stroke-linejoin="round"/>
<path d="M372.60,656.50 L376.50,655.80 L380.30,652.70 L383.40,648.80 L385.70,645.00 L388.00,639.60 L390.30,635.50 L392.60,637.30 L394.90,641.90 L397.20,645.00 L399.50,649.60 L401.80,653.50 L404.20,655.80 L406.50,656.50 L444.90,656.50" fill="none" stroke="#231f20" stroke-width="1.1" />
<line x1="400.30" y1="622.20" x2="400.30" y2="689.60" stroke="#222" stroke-width="0.75" stroke-dasharray="1,1.3"/>
<rect x="372.50" y="622.50" width="72.00" height="67.00" fill="none" stroke="#231f20" stroke-width="1" />
<line x1="374.60" y1="689.60" x2="374.60" y2="691.80" stroke="#231f20" stroke-width="0.6" />
<line x1="379.66" y1="689.60" x2="379.66" y2="690.80" stroke="#231f20" stroke-width="0.6" />
<line x1="382.62" y1="689.60" x2="382.62" y2="690.80" stroke="#231f20" stroke-width="0.6" />
<line x1="384.72" y1="689.60" x2="384.72" y2="690.80" stroke="#231f20" stroke-width="0.6" />
<line x1="386.35" y1="689.60" x2="386.35" y2="690.80" stroke="#231f20" stroke-width="0.6" />
<line x1="387.68" y1="689.60" x2="387.68" y2="690.80" stroke="#231f20" stroke-width="0.6" />
<line x1="388.81" y1="689.60" x2="388.81" y2="690.80" stroke="#231f20" stroke-width="0.6" />
<line x1="389.78" y1="689.60" x2="389.78" y2="690.80" stroke="#231f20" stroke-width="0.6" />
<line x1="390.64" y1="689.60" x2="390.64" y2="690.80" stroke="#231f20" stroke-width="0.6" />
<line x1="391.41" y1="689.60" x2="391.41" y2="691.80" stroke="#231f20" stroke-width="0.6" />
<line x1="396.48" y1="689.60" x2="396.48" y2="690.80" stroke="#231f20" stroke-width="0.6" />
<line x1="399.44" y1="689.60" x2="399.44" y2="690.80" stroke="#231f20" stroke-width="0.6" />
<line x1="401.54" y1="689.60" x2="401.54" y2="690.80" stroke="#231f20" stroke-width="0.6" />
<line x1="403.17" y1="689.60" x2="403.17" y2="690.80" stroke="#231f20" stroke-width="0.6" />
<line x1="404.50" y1="689.60" x2="404.50" y2="690.80" stroke="#231f20" stroke-width="0.6" />
<line x1="405.62" y1="689.60" x2="405.62" y2="690.80" stroke="#231f20" stroke-width="0.6" />
<line x1="406.60" y1="689.60" x2="406.60" y2="690.80" stroke="#231f20" stroke-width="0.6" />
<line x1="407.46" y1="689.60" x2="407.46" y2="690.80" stroke="#231f20" stroke-width="0.6" />
<line x1="408.23" y1="689.60" x2="408.23" y2="691.80" stroke="#231f20" stroke-width="0.6" />
<line x1="413.29" y1="689.60" x2="413.29" y2="690.80" stroke="#231f20" stroke-width="0.6" />
<line x1="416.25" y1="689.60" x2="416.25" y2="690.80" stroke="#231f20" stroke-width="0.6" />
<line x1="418.35" y1="689.60" x2="418.35" y2="690.80" stroke="#231f20" stroke-width="0.6" />
<line x1="419.98" y1="689.60" x2="419.98" y2="690.80" stroke="#231f20" stroke-width="0.6" />
<line x1="421.31" y1="689.60" x2="421.31" y2="690.80" stroke="#231f20" stroke-width="0.6" />
<line x1="422.44" y1="689.60" x2="422.44" y2="690.80" stroke="#231f20" stroke-width="0.6" />
<line x1="423.41" y1="689.60" x2="423.41" y2="690.80" stroke="#231f20" stroke-width="0.6" />
<line x1="424.27" y1="689.60" x2="424.27" y2="690.80" stroke="#231f20" stroke-width="0.6" />
<line x1="425.04" y1="689.60" x2="425.04" y2="691.80" stroke="#231f20" stroke-width="0.6" />
<line x1="430.10" y1="689.60" x2="430.10" y2="690.80" stroke="#231f20" stroke-width="0.6" />
<line x1="433.06" y1="689.60" x2="433.06" y2="690.80" stroke="#231f20" stroke-width="0.6" />
<line x1="435.16" y1="689.60" x2="435.16" y2="690.80" stroke="#231f20" stroke-width="0.6" />
<line x1="436.79" y1="689.60" x2="436.79" y2="690.80" stroke="#231f20" stroke-width="0.6" />
<line x1="438.13" y1="689.60" x2="438.13" y2="690.80" stroke="#231f20" stroke-width="0.6" />
<line x1="439.25" y1="689.60" x2="439.25" y2="690.80" stroke="#231f20" stroke-width="0.6" />
<line x1="440.23" y1="689.60" x2="440.23" y2="690.80" stroke="#231f20" stroke-width="0.6" />
<line x1="441.09" y1="689.60" x2="441.09" y2="690.80" stroke="#231f20" stroke-width="0.6" />
<line x1="441.86" y1="689.60" x2="441.86" y2="691.80" stroke="#231f20" stroke-width="0.6" />
<text x="368.10" y="649.85" font-size="9.3" text-anchor="end" fill="#231f20" stroke="#231f20" stroke-width="0.2" textLength="28.48" lengthAdjust="spacingAndGlyphs" >Isotype</text>
<text x="362.30" y="667.15" font-size="9.3" text-anchor="end" fill="#231f20" stroke="#231f20" stroke-width="0.2" textLength="11.29" lengthAdjust="spacingAndGlyphs" >clg</text>
<text x="368.10" y="683.85" font-size="9.3" text-anchor="end" fill="#231f20" stroke="#231f20" stroke-width="0.2" textLength="27.68" lengthAdjust="spacingAndGlyphs" >αTIGIT</text>
<text x="408.50" y="704.15" font-size="9.3" text-anchor="middle" fill="#231f20" stroke="#231f20" stroke-width="0.2" textLength="27.5" lengthAdjust="spacingAndGlyphs" >CD122</text>
<rect x="395.50" y="748.50" width="13.00" height="40.00" fill="#fff" stroke="#231f20" stroke-width="1" />
<rect x="415.50" y="736.50" width="13.00" height="52.00" fill="#fff" stroke="#231f20" stroke-width="1" />
<line x1="401.50" y1="746.40" x2="401.50" y2="752.00" stroke="#231f20" stroke-width="1" />
<line x1="398.90" y1="746.50" x2="404.90" y2="746.50" stroke="#231f20" stroke-width="1" />
<line x1="398.90" y1="751.50" x2="404.90" y2="751.50" stroke="#231f20" stroke-width="1" />
<line x1="422.50" y1="734.50" x2="422.50" y2="738.00" stroke="#231f20" stroke-width="1" />
<line x1="419.10" y1="734.50" x2="425.10" y2="734.50" stroke="#231f20" stroke-width="1" />
<circle cx="398.80" cy="742.90" r="1.85" fill="#3f4a5f"/>
<circle cx="401.00" cy="743.70" r="1.85" fill="#3f4a5f"/>
<circle cx="405.00" cy="742.90" r="1.85" fill="#3f4a5f"/>
<circle cx="403.00" cy="744.90" r="1.85" fill="#3f4a5f"/>
<circle cx="406.50" cy="744.40" r="1.85" fill="#3f4a5f"/>
<circle cx="400.00" cy="745.90" r="1.85" fill="#3f4a5f"/>
<circle cx="402.80" cy="747.90" r="1.85" fill="#3f4a5f"/>
<circle cx="402.00" cy="750.40" r="1.85" fill="#3f4a5f"/>
<circle cx="401.80" cy="757.40" r="1.85" fill="#3f4a5f"/>
<circle cx="401.80" cy="765.90" r="1.85" fill="#3f4a5f"/>
<circle cx="419.10" cy="723.00" r="1.85" fill="#9b1c3d"/>
<circle cx="424.40" cy="725.50" r="1.85" fill="#9b1c3d"/>
<circle cx="421.70" cy="731.00" r="1.85" fill="#9b1c3d"/>
<circle cx="416.90" cy="736.50" r="1.85" fill="#9b1c3d"/>
<circle cx="418.90" cy="737.40" r="1.85" fill="#9b1c3d"/>
<circle cx="420.90" cy="738.90" r="1.85" fill="#9b1c3d"/>
<circle cx="422.90" cy="738.40" r="1.85" fill="#9b1c3d"/>
<circle cx="425.40" cy="737.70" r="1.85" fill="#9b1c3d"/>
<circle cx="427.40" cy="737.00" r="1.85" fill="#9b1c3d"/>
<circle cx="422.40" cy="740.90" r="1.85" fill="#9b1c3d"/>
<circle cx="419.90" cy="740.40" r="1.85" fill="#9b1c3d"/>
<circle cx="421.70" cy="746.70" r="1.85" fill="#9b1c3d"/>
<circle cx="423.90" cy="736.50" r="1.85" fill="#9b1c3d"/>
<circle cx="418.00" cy="738.10" r="1.85" fill="#9b1c3d"/>
<line x1="388.50" y1="715.80" x2="388.50" y2="788.00" stroke="#231f20" stroke-width="1" />
<line x1="384.90" y1="717.50" x2="388.20" y2="717.50" stroke="#231f20" stroke-width="1" />
<text x="381.30" y="720.59" font-size="9.7" text-anchor="end" fill="#231f20" stroke="#231f20" stroke-width="0.2" textLength="18.99" lengthAdjust="spacingAndGlyphs" >1500</text>
<line x1="384.90" y1="741.50" x2="388.20" y2="741.50" stroke="#231f20" stroke-width="1" />
<text x="381.30" y="744.09" font-size="9.7" text-anchor="end" fill="#231f20" stroke="#231f20" stroke-width="0.2" textLength="18.99" lengthAdjust="spacingAndGlyphs" >1000</text>
<line x1="384.90" y1="764.50" x2="388.20" y2="764.50" stroke="#231f20" stroke-width="1" />
<text x="381.30" y="767.59" font-size="9.7" text-anchor="end" fill="#231f20" stroke="#231f20" stroke-width="0.2" textLength="14.24" lengthAdjust="spacingAndGlyphs" >500</text>
<line x1="384.90" y1="788.50" x2="388.20" y2="788.50" stroke="#231f20" stroke-width="1" />
<text x="381.30" y="791.09" font-size="9.7" text-anchor="end" fill="#231f20" stroke="#231f20" stroke-width="0.2" textLength="4.75" lengthAdjust="spacingAndGlyphs" >0</text>
<line x1="388.20" y1="788.50" x2="435.70" y2="788.50" stroke="#231f20" stroke-width="1" />
<line x1="404.30" y1="719.70" x2="420.00" y2="719.70" stroke="#231f20" stroke-width="1.3" />
<text x="412.15" y="720.12" font-size="9.5" text-anchor="middle" fill="#231f20" font-weight="bold" >***</text>
<text transform="translate(351.20,751.50) rotate(-90)" x="0" y="3.60" font-size="10" text-anchor="middle" fill="#231f20" stroke="#231f20" stroke-width="0.2" textLength="55.4" lengthAdjust="spacingAndGlyphs">CD122<tspan dy="-3" font-size="7.3">+</tspan><tspan dy="3"> GMFI</tspan></text>
<rect x="0" y="0" width="1.3" height="802" fill="#000"/><rect x="0" y="0" width="520" height="1.3" fill="#000"/><rect x="518.6" y="0" width="1.4" height="802" fill="#000"/><rect x="0" y="800.7" width="520" height="1.3" fill="#000"/>
</svg>
</body></html>
